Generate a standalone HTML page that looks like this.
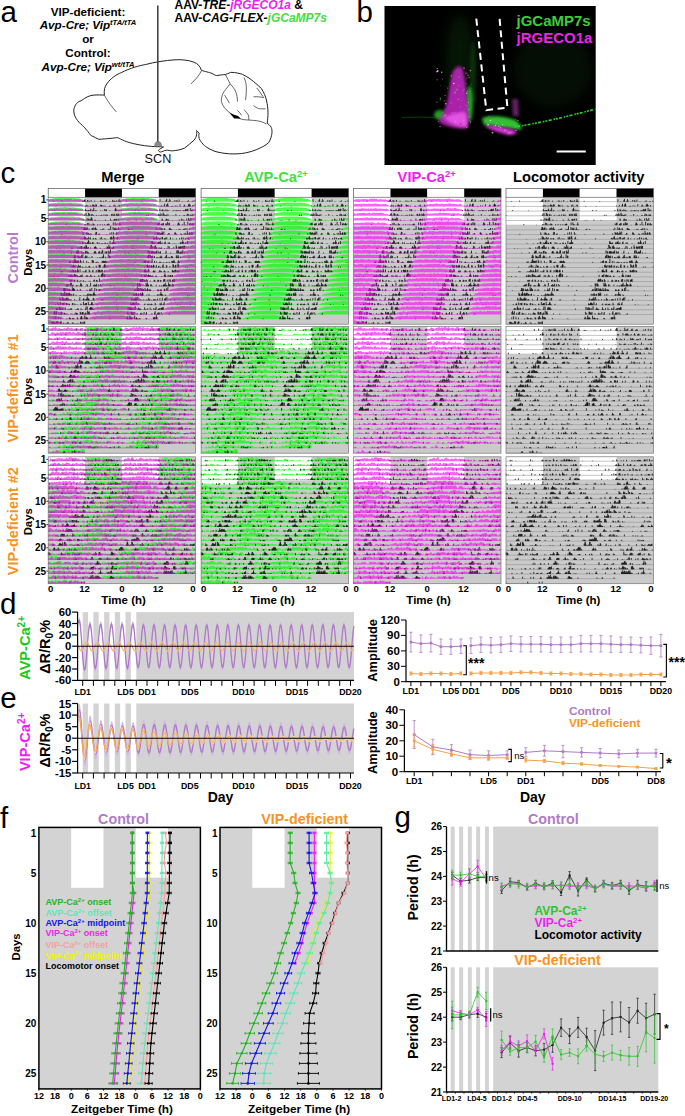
<!DOCTYPE html>
<html><head><meta charset="utf-8"><style>
html,body{margin:0;padding:0;background:#fff;}
svg{display:block;}
text{font-family:"Liberation Sans", sans-serif;}
</style></head><body>
<svg width="685" height="1116" viewBox="0 0 685 1116">
<text x="0.5" y="22" font-size="29.5" font-weight="normal" fill="#000" text-anchor="start" >a</text>
<text x="356.5" y="21.5" font-size="29.5" font-weight="normal" fill="#000" text-anchor="start" >b</text>
<text x="88" y="15.6" font-size="11.7" font-weight="bold" fill="#000" text-anchor="middle" >VIP-deficient:</text>
<text x="88" y="29.4" font-size="11.7" font-weight="bold" font-style="italic" text-anchor="middle">Avp-Cre; Vip<tspan font-size="7.6" dy="-4.2">tTA/tTA</tspan></text>
<text x="88" y="43.3" font-size="11.7" font-weight="bold" fill="#000" text-anchor="middle" >or</text>
<text x="88" y="57.3" font-size="11.7" font-weight="bold" fill="#000" text-anchor="middle" >Control:</text>
<text x="88" y="71" font-size="11.7" font-weight="bold" font-style="italic" text-anchor="middle">Avp-Cre; Vip<tspan font-size="7.6" dy="-4.2">wt/tTA</tspan></text>
<text x="174.5" y="9" font-size="12" font-weight="bold">AAV-<tspan font-style="italic">TRE-</tspan><tspan font-style="italic" fill="#f01ef0">jRGECO1a</tspan> &amp;</text>
<text x="174.5" y="22.4" font-size="12" font-weight="bold">AAV-<tspan font-style="italic">CAG-FLEX-</tspan><tspan font-style="italic" fill="#44dd44">jGCaMP7s</tspan></text>
<path d="M157.3,146.7 C150,146.5 140,145.5 129.2,142.5 C122,140.5 118,137 116.4,137.7 C112,138.3 106.8,138.8 98.7,139.3 C94,137 90.7,135.3 90.7,135.3 C87,130 84,127 82.7,125.7 C77,121 73.5,116 73.8,109.6 C75,104 78,101.5 81.1,100.8 C86,97 90,95.3 93.9,95.1 C98,94.8 102,95 104.3,95.1 C104,90 104.5,87 106.8,83.9 C112,76 121,72.7 121.2,72.7 C130,68 140,65.5 145.3,64.6 C155,62 165,60.5 175,59.8 C182,59.5 188,60 194.1,62.2 C198,64 200.5,66.5 201.3,70.3 C205,71.5 210,72.7 210.1,72.7 C213,73.5 215,75.6 216.6,75.6 C220,75 223,74.6 225.4,74.6 C228,73.5 231,72.3 231,72.3 C236,72.5 240,73.5 242.3,74.3 C248,77 251,79.5 253.5,81.5 C257,84.5 259.5,86.5 261.5,88.7 C264,93 265.5,96 266.4,100 C267.5,105 268,109 268,112.8 C268,117 267.5,120 267.2,123.3 C270,125 271.2,127.3 271.2,127.3 C272.5,130 272.5,136 268.8,142.5 C265,146 262,147 259.9,148.1 C255,150.5 250,152 245.5,152.9 C240,154 234,154 229.4,153.8 C223,153.3 219,152.5 215,151.4 C209,149 206,147 203.7,144.9 C200.5,141.5 199,139 198.9,136.9 C198.5,134.5 199.5,133 198.9,132.9 C197.5,131.5 196.5,130.5 196.5,130.5 C197,133 197,136.5 194.1,140.1 C191,143 188,145.5 184.5,148.1 C180,150 176,150.6 172.6,150.8 C170,151 168,150 166.3,150.2 C164,150.5 162,152 160.7,152 C159.5,152 158.3,151 158.5,150.2 C159.5,149 162,148 163.5,147 C161,146.7 159,146.7 157.3,146.7 Z" fill="none" stroke="#222" stroke-width="1"/>
<path d="M104.3,95.1 C108,102 112,107 116.4,112" fill="none" stroke="#333" stroke-width="0.75"/>
<path d="M201.3,71 C199,76 195,80 190.9,83.9" fill="none" stroke="#333" stroke-width="0.75"/>
<path d="M225.4,74.6 C227,78 229,81 230.2,83.9 C227,88 224,91 223,93.5 C221.5,97 221,99.5 221.4,101.6 C222.5,105 224,107.5 226.2,109.6 C228,111.5 230,113 231.8,114.4 C234,116 236.5,117.5 239,118.4 C242,119.5 245.5,120 248.7,120 C252,120.3 255,120.5 257.5,120.8 C261,121.5 264,122.5 266.4,124" fill="none" stroke="#333" stroke-width="0.75"/>
<path d="M230.2,83.9 C233,87 235,89.5 235.8,91.9 C237,95 237.4,98 237.4,101.6" fill="none" stroke="#333" stroke-width="0.75"/>
<path d="M243.9,77.5 C245.5,80.5 246.3,84 246.3,87.1 C246.5,92 246,96 245.5,100" fill="none" stroke="#333" stroke-width="0.75"/>
<path d="M256.7,87.9 C259,90.5 261,93.5 263.1,96.8" fill="none" stroke="#333" stroke-width="0.75"/>
<path d="M253.5,96.8 C257,96.5 261,97 264,97.6" fill="none" stroke="#333" stroke-width="0.75"/>
<path d="M253.5,105.6 C256,107.5 258,108.5 259.9,108.8 C262,109 264,108.8 265.5,108.8" fill="none" stroke="#333" stroke-width="0.75"/>
<path d="M243.9,109.6 C246,111.5 247.5,113.5 248.7,116 C249,117.5 248.8,119 248.7,120" fill="none" stroke="#333" stroke-width="0.75"/>
<path d="M224.6,95.1 C226.5,98 228,100.5 229.4,103.2" fill="none" stroke="#333" stroke-width="0.75"/>
<path d="M237.4,110.4 C239,112 240.5,113.5 241.5,115.2" fill="none" stroke="#333" stroke-width="0.75"/>
<path d="M229.4,112.8 L233.5,114.5 L238,116 L240.7,118.6 L234.2,118.6 Z" fill="#000"/>
<line x1="157.8" y1="5.5" x2="157.8" y2="143" stroke="#444" stroke-width="1.6"/>
<path d="M154.6,145.8 C154.6,143 156,141.5 158,141.5 C160,141.5 161.6,143 161.6,145.8 Z" fill="#8a8a8a" stroke="#666" stroke-width="0.5"/>
<text x="158" y="163.4" font-size="12.7" font-weight="normal" fill="#111" text-anchor="middle" >SCN</text>
<defs><filter id="bl1" x="-50%" y="-50%" width="200%" height="200%"><feGaussianBlur stdDeviation="7"/></filter><filter id="bl2" x="-50%" y="-50%" width="200%" height="200%"><feGaussianBlur stdDeviation="1.6"/></filter><filter id="bl3" x="-50%" y="-50%" width="200%" height="200%"><feGaussianBlur stdDeviation="0.7"/></filter><clipPath id="cpb"><rect x="384.5" y="6" width="211.2" height="159"/></clipPath></defs>
<rect x="384.5" y="6" width="211.2" height="159" fill="#000"/>
<g clip-path="url(#cpb)">
<ellipse cx="460" cy="62" rx="14" ry="48" fill="#0c360c" opacity="0.45" filter="url(#bl1)"/>
<ellipse cx="553" cy="70" rx="40" ry="38" fill="#0a2a0a" opacity="0.35" filter="url(#bl1)"/>
<ellipse cx="473" cy="72" rx="3" ry="32" fill="#1d6a1d" opacity="0.35" filter="url(#bl2)"/>
<ellipse cx="469.5" cy="104" rx="3.5" ry="18" fill="#2ab82a" opacity="0.85" filter="url(#bl2)"/>
<ellipse cx="440" cy="115" rx="6" ry="5" fill="#2ab82a" opacity="0.85" filter="url(#bl2)"/>
<path d="M460,66 C456,67 453,70 452,74 C450,82 449,92 447,103 C445,110 441,116 439,122 C445,126 452,128 460,128.5 C464,128.5 467,128 468,127 C469,118 468,108 467,100 C466,88 465,78 463,70 Z" fill="#c828c8" opacity="0.85" filter="url(#bl2)"/>
<path d="M444,118 C450,124 458,127 467,127 C468,122 467,116 465,112 C458,112 450,114 444,118 Z" fill="#f060f0" opacity="0.8" filter="url(#bl2)"/>
<path d="M482,118 C490,115 505,116 515,120 C520,123 522,127 521,130 C510,128 495,126 484,125 Z" fill="#30c030" filter="url(#bl2)"/>
<path d="M486,125 C495,126 508,128 516,131 C517,134 514,135.5 508,135 C500,133 492,130 486,127 Z" fill="#dd33dd" filter="url(#bl2)"/>
<path d="M512,99 L518,99 L519,116 L513,116 Z" fill="#7a2a7a" opacity="0.8" filter="url(#bl2)"/>
<circle cx="444.6" cy="100.7" r="0.9" fill="#a020a0" opacity="0.7"/>
<circle cx="453.1" cy="102.9" r="0.4" fill="#ff40ff" opacity="0.7"/>
<circle cx="466.1" cy="83.6" r="0.5" fill="#44dd44" opacity="0.7"/>
<circle cx="461.8" cy="100.5" r="0.6" fill="#ff40ff" opacity="0.7"/>
<circle cx="459.0" cy="77.0" r="0.8" fill="#44dd44" opacity="0.7"/>
<circle cx="454.8" cy="112.5" r="0.5" fill="#ff80ff" opacity="0.7"/>
<circle cx="470.5" cy="70.6" r="0.8" fill="#ff80ff" opacity="0.7"/>
<circle cx="445.7" cy="103.7" r="0.8" fill="#ffffff" opacity="0.7"/>
<circle cx="469.2" cy="91.7" r="0.6" fill="#ff40ff" opacity="0.7"/>
<circle cx="469.7" cy="120.7" r="0.4" fill="#ff80ff" opacity="0.7"/>
<circle cx="453.8" cy="83.5" r="0.8" fill="#ffffff" opacity="0.7"/>
<circle cx="466.8" cy="93.3" r="0.7" fill="#ffffff" opacity="0.7"/>
<circle cx="455.2" cy="92.5" r="0.9" fill="#44dd44" opacity="0.7"/>
<circle cx="460.6" cy="123.7" r="0.9" fill="#a020a0" opacity="0.7"/>
<circle cx="460.2" cy="77.8" r="0.9" fill="#a020a0" opacity="0.7"/>
<circle cx="468.6" cy="102.1" r="0.7" fill="#44dd44" opacity="0.7"/>
<circle cx="471.6" cy="84.0" r="0.4" fill="#ff80ff" opacity="0.7"/>
<circle cx="466.7" cy="127.4" r="0.6" fill="#ff80ff" opacity="0.7"/>
<circle cx="438.4" cy="121.8" r="0.5" fill="#ff80ff" opacity="0.7"/>
<circle cx="463.7" cy="120.4" r="0.7" fill="#ff80ff" opacity="0.7"/>
<circle cx="463.4" cy="90.7" r="0.6" fill="#ff40ff" opacity="0.7"/>
<circle cx="467.7" cy="126.8" r="0.5" fill="#ff40ff" opacity="0.7"/>
<circle cx="437.3" cy="68.4" r="0.7" fill="#ff80ff" opacity="0.7"/>
<circle cx="437.1" cy="79.8" r="0.5" fill="#ffffff" opacity="0.7"/>
<circle cx="445.5" cy="109.4" r="0.6" fill="#a020a0" opacity="0.7"/>
<circle cx="470.5" cy="121.8" r="0.6" fill="#ffffff" opacity="0.7"/>
<circle cx="467.3" cy="91.2" r="0.7" fill="#ff40ff" opacity="0.7"/>
<circle cx="439.7" cy="126.4" r="0.5" fill="#ff40ff" opacity="0.7"/>
<circle cx="458.8" cy="110.9" r="0.6" fill="#a020a0" opacity="0.7"/>
<circle cx="445.3" cy="86.2" r="0.4" fill="#a020a0" opacity="0.7"/>
<circle cx="450.9" cy="102.8" r="0.6" fill="#ff80ff" opacity="0.7"/>
<circle cx="457.2" cy="76.0" r="0.6" fill="#a020a0" opacity="0.7"/>
<circle cx="460.5" cy="89.2" r="0.8" fill="#a020a0" opacity="0.7"/>
<circle cx="436.8" cy="71.6" r="0.9" fill="#ff80ff" opacity="0.7"/>
<circle cx="445.0" cy="95.4" r="0.7" fill="#ff40ff" opacity="0.7"/>
<circle cx="442.4" cy="79.1" r="0.8" fill="#a020a0" opacity="0.7"/>
<circle cx="445.5" cy="115.2" r="0.8" fill="#ff80ff" opacity="0.7"/>
<circle cx="437.0" cy="102.2" r="0.6" fill="#44dd44" opacity="0.7"/>
<circle cx="444.0" cy="116.2" r="0.6" fill="#44dd44" opacity="0.7"/>
<circle cx="460.4" cy="107.0" r="0.5" fill="#ff80ff" opacity="0.7"/>
<circle cx="447.6" cy="88.0" r="0.6" fill="#44dd44" opacity="0.7"/>
<circle cx="466.8" cy="78.2" r="0.8" fill="#a020a0" opacity="0.7"/>
<circle cx="443.8" cy="102.1" r="0.5" fill="#a020a0" opacity="0.7"/>
<circle cx="440.4" cy="99.8" r="0.6" fill="#44dd44" opacity="0.7"/>
<circle cx="466.1" cy="102.5" r="0.6" fill="#a020a0" opacity="0.7"/>
<circle cx="465.8" cy="73.1" r="0.6" fill="#ff40ff" opacity="0.7"/>
<circle cx="440.7" cy="85.5" r="0.6" fill="#a020a0" opacity="0.7"/>
<circle cx="458.8" cy="85.4" r="0.6" fill="#ff40ff" opacity="0.7"/>
<circle cx="469.1" cy="77.4" r="0.6" fill="#ff80ff" opacity="0.7"/>
<circle cx="466.0" cy="105.4" r="0.6" fill="#ff40ff" opacity="0.7"/>
<circle cx="470.2" cy="123.6" r="0.4" fill="#44dd44" opacity="0.7"/>
<circle cx="452.4" cy="113.2" r="0.9" fill="#ff40ff" opacity="0.7"/>
<circle cx="455.6" cy="121.4" r="0.8" fill="#ff80ff" opacity="0.7"/>
<circle cx="471.0" cy="75.2" r="0.4" fill="#44dd44" opacity="0.7"/>
<circle cx="468.5" cy="109.6" r="0.8" fill="#44dd44" opacity="0.7"/>
<circle cx="468.4" cy="102.6" r="0.6" fill="#ff80ff" opacity="0.7"/>
<circle cx="440.3" cy="98.2" r="0.7" fill="#44dd44" opacity="0.7"/>
<circle cx="454.9" cy="92.8" r="0.5" fill="#ff40ff" opacity="0.7"/>
<circle cx="440.5" cy="126.3" r="0.6" fill="#ff40ff" opacity="0.7"/>
<circle cx="464.2" cy="89.1" r="0.5" fill="#44dd44" opacity="0.7"/>
<circle cx="468.0" cy="75.2" r="0.8" fill="#44dd44" opacity="0.7"/>
<circle cx="469.2" cy="116.4" r="0.6" fill="#ff80ff" opacity="0.7"/>
<circle cx="456.6" cy="92.0" r="0.5" fill="#a020a0" opacity="0.7"/>
<circle cx="458.3" cy="99.2" r="0.6" fill="#ff80ff" opacity="0.7"/>
<circle cx="464.0" cy="68.1" r="0.8" fill="#ff80ff" opacity="0.7"/>
<circle cx="437.7" cy="71.0" r="0.9" fill="#ffffff" opacity="0.7"/>
<circle cx="466.8" cy="73.2" r="0.6" fill="#ff40ff" opacity="0.7"/>
<circle cx="441.7" cy="72.3" r="0.7" fill="#ffffff" opacity="0.7"/>
<circle cx="457.1" cy="89.7" r="0.9" fill="#44dd44" opacity="0.7"/>
<circle cx="451.4" cy="75.7" r="0.8" fill="#ff80ff" opacity="0.7"/>
<circle cx="497.7" cy="117.4" r="0.4" fill="#66ee66" opacity="0.6"/>
<circle cx="500.6" cy="127.7" r="0.6" fill="#ffffff" opacity="0.6"/>
<circle cx="512.8" cy="127.2" r="0.4" fill="#ff66ff" opacity="0.6"/>
<circle cx="506.6" cy="129.7" r="0.6" fill="#ff66ff" opacity="0.6"/>
<circle cx="509.0" cy="124.3" r="0.5" fill="#66ee66" opacity="0.6"/>
<circle cx="493.7" cy="126.6" r="0.5" fill="#ff66ff" opacity="0.6"/>
<circle cx="488.7" cy="116.5" r="0.6" fill="#ff66ff" opacity="0.6"/>
<circle cx="516.3" cy="130.2" r="0.5" fill="#ff66ff" opacity="0.6"/>
<circle cx="508.9" cy="132.9" r="0.7" fill="#ffffff" opacity="0.6"/>
<circle cx="515.9" cy="130.3" r="0.5" fill="#ffffff" opacity="0.6"/>
<circle cx="495.5" cy="125.6" r="0.8" fill="#ffffff" opacity="0.6"/>
<circle cx="501.0" cy="120.2" r="0.4" fill="#ff66ff" opacity="0.6"/>
<circle cx="487.3" cy="117.8" r="0.5" fill="#ff66ff" opacity="0.6"/>
<circle cx="484.8" cy="131.1" r="0.4" fill="#66ee66" opacity="0.6"/>
<circle cx="488.1" cy="124.7" r="0.9" fill="#ffffff" opacity="0.6"/>
<circle cx="504.8" cy="130.4" r="0.9" fill="#66ee66" opacity="0.6"/>
<circle cx="504.3" cy="125.5" r="0.5" fill="#66ee66" opacity="0.6"/>
<circle cx="511.0" cy="132.8" r="0.7" fill="#66ee66" opacity="0.6"/>
<circle cx="515.3" cy="119.2" r="0.5" fill="#66ee66" opacity="0.6"/>
<circle cx="490.5" cy="120.5" r="0.8" fill="#ffffff" opacity="0.6"/>
<circle cx="517.9" cy="120.6" r="0.6" fill="#ffffff" opacity="0.6"/>
<circle cx="496.6" cy="123.5" r="0.6" fill="#66ee66" opacity="0.6"/>
<circle cx="492.5" cy="132.7" r="0.9" fill="#ffffff" opacity="0.6"/>
<circle cx="498.9" cy="126.2" r="0.7" fill="#ffffff" opacity="0.6"/>
<circle cx="502.6" cy="124.7" r="0.6" fill="#ffffff" opacity="0.6"/>
<path d="M514,127 C540,123 565,117 596,109" stroke="#2bd52b" stroke-width="1.6" fill="none" stroke-dasharray="2,1.2,3,2,1.5,1" filter="url(#bl3)"/>
<path d="M402,117.4 C415,117 425,117 436,117.6" stroke="#0f520f" stroke-width="0.8" fill="none" filter="url(#bl3)"/>
</g>
<path d="M476.3,18.6 L486.3,110.2 L507.4,107.6 L499.5,17.7" fill="none" stroke="#fff" stroke-width="2" stroke-dasharray="7,4.5"/>
<text x="516.5" y="25.7" font-size="15" font-weight="bold" fill="#3ccc3c" text-anchor="start" >jGCaMP7s</text>
<text x="516.5" y="43.4" font-size="15" font-weight="bold" fill="#e827e8" text-anchor="start" >jRGECO1a</text>
<line x1="556.6" y1="151.5" x2="585.8" y2="151.5" stroke="#fff" stroke-width="2"/>
<text x="0.5" y="182.5" font-size="29.5" font-weight="normal" fill="#000" text-anchor="start" >c</text>
<text x="122.9" y="182" font-size="14.7" font-weight="bold" fill="#000" text-anchor="middle">Merge</text>
<text x="276" y="182" font-size="14.7" font-weight="bold" fill="#3ee23e" text-anchor="middle">AVP-Ca<tspan font-size="9.5" dy="-5">2+</tspan></text>
<text x="426.7" y="182" font-size="14.7" font-weight="bold" fill="#f01ef0" text-anchor="middle">VIP-Ca<tspan font-size="9.5" dy="-5">2+</tspan></text>
<text x="578.7" y="182" font-size="14.7" font-weight="bold" fill="#000" text-anchor="middle">Locomotor activity</text>
<rect x="48.2" y="188.6" width="36.9" height="8.7" fill="#fff"/>
<rect x="85.1" y="188.6" width="36.9" height="8.7" fill="#000"/>
<rect x="121.9" y="188.6" width="36.9" height="8.7" fill="#fff"/>
<rect x="158.8" y="188.6" width="36.9" height="8.7" fill="#000"/>
<rect x="48.2" y="188.6" width="147.4" height="8.7" fill="none" stroke="#555" stroke-width="0.7"/>
<rect x="201.1" y="188.6" width="36.9" height="8.7" fill="#fff"/>
<rect x="237.9" y="188.6" width="36.9" height="8.7" fill="#000"/>
<rect x="274.8" y="188.6" width="36.9" height="8.7" fill="#fff"/>
<rect x="311.6" y="188.6" width="36.9" height="8.7" fill="#000"/>
<rect x="201.1" y="188.6" width="147.4" height="8.7" fill="none" stroke="#555" stroke-width="0.7"/>
<rect x="353.6" y="188.6" width="36.9" height="8.7" fill="#fff"/>
<rect x="390.5" y="188.6" width="36.9" height="8.7" fill="#000"/>
<rect x="427.3" y="188.6" width="36.9" height="8.7" fill="#fff"/>
<rect x="464.2" y="188.6" width="36.9" height="8.7" fill="#000"/>
<rect x="353.6" y="188.6" width="147.4" height="8.7" fill="none" stroke="#555" stroke-width="0.7"/>
<rect x="506" y="188.6" width="36.9" height="8.7" fill="#fff"/>
<rect x="542.9" y="188.6" width="36.9" height="8.7" fill="#000"/>
<rect x="579.7" y="188.6" width="36.9" height="8.7" fill="#fff"/>
<rect x="616.5" y="188.6" width="36.9" height="8.7" fill="#000"/>
<rect x="506" y="188.6" width="147.4" height="8.7" fill="none" stroke="#555" stroke-width="0.7"/>
<defs>
<path id="a0" transform="scale(1.22833,1)" d="M0 4.4v-2.4l1-.4 1-.1 1-.4 1 0 1-.3 1-.1 1 0 1-.2 1 .2 1-.2 1 0 1-.1 1 0 1 .1 1 .1 1 0 1-.1 1-.1 1 .2 1 .1 1 0 1 .2 1 .2 1 0 1 .1 1 .3 1 .2 1 .4 1 .8 1 1.2 1 0 1 0 1 0 1 0 1 0 1 0 1 0 1 0 1 0 1 0 1 0 1 0 1 0 1 0 1 0 1 0 1 0 1 0 1 0 1 0 1 0 1 0 1 0 1 0 1 0 1 0 1 0 1 0 1-1.5 1-.8 1-.2 1-.2 1-.2 1-.2 1 0 1-.1 1-.2 1 0 1-.2 1 0 1-.1 1 .2 1-.2 1 0 1 .1 1 0 1-.1 1 .2 1 0 1 .2 1-.1 1-.1 1 .5 1 .1 1 .2 1 .2 1 .1 1 .5 1 .7 1 1.2 1 0 1 0 1 0 1 0 1 0 1 0 1 0 1 0 1 0 1 0 1 0 1 0 1 0 1 0 1 0 1 0 1 0 1 0 1 0 1 0 1 0 1 0 1 0 1 0 1 0 1 0 1 0 1 0 1-1.6 1-.6V4.4zM0 9.1v-2.6l1-.2 1-.2 1-.2 1-.3 1 .1 1-.1 1-.2 1-.1 1-.1 1 0 1-.1 1 .2 1-.2 1 0 1 .1 1 0 1-.1 1 .2 1 0 1 .2 1-.1 1-.1 1 .5 1 .1 1 .2 1 .2 1 .1 1 .5 1 .7 1 1.2 1 0 1 0 1 0 1 0 1 0 1 0 1 0 1 0 1 0 1 0 1 0 1 0 1 0 1 0 1 0 1 0 1 0 1 0 1 0 1 0 1 0 1 0 1 0 1 0 1 0 1 0 1 0 1 0 1-1.6 1-.6 1-.2 1-.3 1-.1 1-.2 1-.2 1-.1 1-.1 1-.1 1 0 1 0 1 0 1 0 1-.1 1-.1 1 .1 1 0 1 0 1 .2 1 0 1-.1 1 .1 1 .1 1 .4 1-.1 1 .2 1 .2 1 .4 1 .5 1 .7 1 1 1 0 1 0 1 0 1 0 1 0 1 0 1 0 1 0 1 0 1 0 1 0 1 0 1 0 1 0 1 0 1 0 1 0 1 0 1 0 1 0 1 0 1 0 1 0 1 0 1 0 1 0 1 0 1 0 1-1.6 1-.4V9.1zM0 13.8v-2.5l1-.2 1-.3 1-.1 1-.3 1-.1 1-.1 1-.1 1 0 1 0 1-.1 1 0 1 0 1-.2 1 0 1 .1 1 0 1 0 1 .2 1-.1 1 0 1 .1 1 .1 1 .4 1-.1 1 .2 1 .2 1 .4 1 .5 1 .6 1 1.1 1 0 1 0 1 0 1 0 1 0 1 0 1 0 1 0 1 0 1 0 1 0 1 0 1 0 1 0 1 0 1 0 1 0 1 0 1 0 1 0 1 0 1 0 1 0 1 0 1 0 1 0 1 0 1 0 1-1.6 1-.4 1-.5 1-.2 1-.2 1-.3 1 .1 1-.2 1-.2 1 0 1 0 1-.1 1 .1 1-.1 1-.1 1 0 1 .1 1 .1 1-.1 1 .1 1-.1 1 .2 1 .1 1 .1 1 .1 1 .2 1 0 1 .1 1 .4 1 .4 1 .7 1 1.3 1 0 1 0 1 0 1 0 1 0 1 0 1 0 1 0 1 0 1 0 1 0 1 0 1 0 1 0 1 0 1 0 1 0 1 0 1 0 1 0 1 0 1 0 1 0 1 0 1 0 1 0 1 0 1 0 1-1.6 1-.6V13.8zM0 18.4v-2.3l1-.5 1-.2 1-.3 1-.2 1 .1 1-.2 1-.2 1 0 1 0 1-.1 1 .1 1-.1 1-.1 1 0 1 .1 1 .1 1-.1 1 .1 1-.1 1 .2 1 .1 1 .1 1 .1 1 .2 1 0 1 .1 1 .4 1 .4 1 .7 1 1.3 1 0 1 0 1 0 1 0 1 0 1 0 1 0 1 0 1 0 1 0 1 0 1 0 1 0 1 0 1 0 1 0 1 0 1 0 1 0 1 0 1 0 1 0 1 0 1 0 1 0 1 0 1 0 1 0 1-1.6 1-.6 1-.2 1-.2 1-.2 1-.1 1-.2 1-.1 1-.2 1-.2 1 .2 1-.3 1 .2 1 0 1 0 1-.2 1 .1 1 0 1 .1 1-.1 1 0 1 .2 1 0 1 .2 1 0 1 .2 1 .3 1 .1 1 .2 1 .4 1 .7 1 1.3 1 0 1 0 1 0 1 0 1 0 1 0 1 0 1 0 1 0 1 0 1 0 1 0 1 0 1 0 1 0 1 0 1 0 1 0 1 0 1 0 1 0 1 0 1 0 1 0 1 0 1 0 1 0 1 0 1-1.6 1-.4V18.4zM0 23.1v-2.5l1-.2 1-.2 1-.3 1 0 1-.2 1-.1 1-.2 1-.1 1 .1 1-.3 1 .2 1 0 1-.2 1 0 1 .1 1 0 1 .1 1-.1 1 0 1 .2 1 0 1 .2 1 0 1 .2 1 .3 1 .1 1 .2 1 .4 1 .7 1 1.3 1 0 1 0 1 0 1 0 1 0 1 0 1 0 1 0 1 0 1 0 1 0 1 0 1 0 1 0 1 0 1 0 1 0 1 0 1 0 1 0 1 0 1 0 1 0 1 0 1 0 1 0 1 0 1 0 1-1.6 1-.5 1-.2 1-.3 1-.2 1-.3 1-.1 1-.1 1-.1 1-.1 1 0 1-.1 1 .1 1-.2 1 0 1 .1 1-.1 1 .1 1 .1 1-.1 1 .1 1 .3 1-.2 1 .3 1 .1 1-.1 1 .3 1 .3 1 .3 1 .4 1 .5 1 1.3 1 0 1 0 1 0 1 0 1 0 1 0 1 0 1 0 1 0 1 0 1 0 1 0 1 0 1 0 1 0 1 0 1 0 1 0 1 0 1 0 1 0 1 0 1 0 1 0 1 0 1-1 1-.5 1-.3 1-.4 1-.1V23.1zM0 27.9v-2.4l1-.2 1-.3 1-.2 1-.3 1-.1 1-.1 1-.1 1 0 1-.1 1-.1 1 .1 1-.2 1 0 1 .1 1-.1 1 .1 1 .1 1-.1 1 .1 1 .3 1-.2 1 .3 1 .1 1-.1 1 .3 1 .3 1 .3 1 .4 1 .5 1 1.3 1 0 1 0 1 0 1 0 1 0 1 0 1 0 1 0 1 0 1 0 1 0 1 0 1 0 1 0 1 0 1 0 1 0 1 0 1 0 1 0 1 0 1 0 1 0 1 0 1 0 1-1 1-.5 1-.3 1-.4 1 0 1-.4 1-.1 1-.1 1-.2 1-.2 1-.1 1-.1 1 .1 1-.2 1 0 1 0 1-.1 1 .1 1 0 1-.2 1 0 1 0 1 0 1 .2 1 .1 1 .1 1 0 1 .1 1 0 1 .3 1 0 1 .2 1 .2 1 .3 1 .2 1 .6 1 .5 1 .8 1 .1 1 0 1 0 1 0 1 0 1 0 1 0 1 0 1 0 1 0 1 0 1 0 1 0 1 0 1 0 1 0 1 0 1 0 1 0 1 0 1 0 1 0 1-.6 1-.6 1-.4 1-.5 1-.3V27.9zM0 32.5v-2.5l1-.4 1-.1 1-.1 1-.2 1-.2 1-.1 1-.1 1 .1 1-.2 1 0 1 0 1-.1 1 .1 1 0 1-.2 1 0 1 0 1 0 1 .2 1 .1 1 .1 1 0 1 .1 1 0 1 .3 1 0 1 .2 1 .2 1 .3 1 .2 1 .6 1 .5 1 .8 1 .1 1 0 1 0 1 0 1 0 1 0 1 0 1 0 1 0 1 0 1 0 1 0 1 0 1 0 1 0 1 0 1 0 1 0 1 0 1 0 1 0 1 0 1-.6 1-.6 1-.4 1-.5 1-.2 1-.2 1-.1 1-.3 1-.2 1 0 1-.2 1-.1 1 0 1 0 1-.3 1 .2 1 0 1-.1 1-.1 1 .1 1-.1 1 .1 1 0 1 .1 1 0 1 .1 1 .1 1 .1 1 .1 1 0 1 .2 1 .2 1 .2 1 .3 1 .3 1 .3 1 .4 1 .6 1 .6 1 0 1 0 1 0 1 0 1 0 1 0 1 0 1 0 1 0 1 0 1 0 1 0 1 0 1 0 1 0 1 0 1 0 1 0 1 0 1 0 1-.5 1-.8 1-.5 1-.1 1-.4 1-.3V32.5zM0 37.2v-2.6l1-.2 1-.1 1-.3 1-.2 1 0 1-.2 1-.1 1 0 1 0 1-.3 1 .2 1 0 1-.1 1-.1 1 .1 1-.1 1 .1 1 0 1 .1 1 0 1 .1 1 .1 1 .1 1 .1 1 0 1 .2 1 .2 1 .2 1 .3 1 .3 1 .3 1 .4 1 .6 1 .6 1 0 1 0 1 0 1 0 1 0 1 0 1 0 1 0 1 0 1 0 1 0 1 0 1 0 1 0 1 0 1 0 1 0 1 0 1 0 1 0 1-.5 1-.8 1-.5 1-.1 1-.4 1-.3 1-.2 1 0 1-.2 1-.2 1-.1 1 .1 1-.1 1-.1 1-.2 1-.1 1 0 1 .1 1 0 1 0 1 0 1 0 1 0 1 .1 1 .1 1 .2 1 0 1 0 1 .2 1 .1 1 .2 1 .1 1 .1 1 .4 1 .3 1 .2 1 .4 1 .6 1 .6 1 0 1 0 1 0 1 0 1 0 1 0 1 0 1 0 1 0 1 0 1 0 1 0 1 0 1 0 1 0 1 0 1 0 1 0 1 0 1 0 1-.6 1-.8 1-.3 1-.3 1-.2 1-.3 1-.2V37.2zM0 42v-2.9l1-.2 1 0 1-.2 1-.2 1-.1 1 .1 1-.1 1-.1 1-.2 1-.1 1 0 1 .1 1 0 1 0 1 0 1 0 1 0 1 .1 1 .1 1 .2 1 0 1 0 1 .2 1 .1 1 .2 1 .1 1 .1 1 .4 1 .3 1 .2 1 .4 1 .6 1 .6 1 0 1 0 1 0 1 0 1 0 1 0 1 0 1 0 1 0 1 0 1 0 1 0 1 0 1 0 1 0 1 0 1 0 1 0 1 0 1 0 1-.6 1-.8 1-.3 1-.3 1-.2 1-.3 1-.3 1-.2 1 0 1-.1 1-.2 1 0 1 0 1-.2 1-.1 1 0 1 0 1 .1 1-.2 1 0 1 0 1 .1 1-.1 1 0 1 .2 1 .1 1 .1 1-.1 1 .2 1 .2 1 .1 1 .1 1 .4 1 .3 1 .1 1 .5 1 .4 1 .6 1 .5 1 0 1 0 1 0 1 0 1 0 1 0 1 0 1 0 1 0 1 0 1 0 1 0 1 0 1 0 1 0 1 0 1 0 1 0 1 0 1 0 1-.8 1-.4 1-.6 1-.4 1-.2 1-.2 1-.1 1-.2V42zM0 46.6v-3.1l1-.2 1 0 1-.1 1-.2 1 0 1 0 1-.2 1-.1 1 0 1 0 1 .1 1-.2 1 0 1 0 1 .1 1-.1 1 0 1 .2 1 .1 1 .1 1-.1 1 .2 1 .2 1 .1 1 .1 1 .4 1 .3 1 .1 1 .5 1 .4 1 .6 1 .5 1 0 1 0 1 0 1 0 1 0 1 0 1 0 1 0 1 0 1 0 1 0 1 0 1 0 1 0 1 0 1 0 1 0 1 0 1 0 1 0 1-.8 1-.4 1-.6 1-.4 1-.2 1-.2 1-.1 1-.2 1-.1 1-.1 1-.1 1-.1 1-.1 1-.2 1 .1 1-.1 1-.1 1 0 1 .1 1-.1 1 .1 1 .1 1-.2 1 .1 1 .1 1 .1 1 0 1 .1 1 .3 1 .1 1 0 1 .2 1 .1 1 .3 1 .3 1 .3 1 .4 1 .8 1 .5 1 0 1 0 1 0 1 0 1 0 1 0 1 0 1 0 1 0 1 0 1 0 1 0 1 0 1 0 1 0 1 0 1 0 1 0 1 0 1 0 1-.9 1-.6 1-.3 1-.3 1-.2 1-.3 1-.2 1 0 1-.2V46.6zM0 51.4v-3.2l1-.1 1-.1 1-.1 1-.1 1-.1 1-.2 1 .1 1-.1 1-.1 1 0 1 .1 1-.1 1 .1 1 .1 1-.2 1 .1 1 .1 1 .1 1 0 1 .1 1 .3 1 .1 1 0 1 .2 1 .1 1 .3 1 .3 1 .3 1 .4 1 .8 1 .5 1 0 1 0 1 0 1 0 1 0 1 0 1 0 1 0 1 0 1 0 1 0 1 0 1 0 1 0 1 0 1 0 1 0 1 0 1 0 1 0 1-.9 1-.6 1-.3 1-.3 1-.2 1-.3 1-.2 1 0 1-.2 1 0 1-.3 1 0 1-.1 1 0 1-.1 1-.1 1-.1 1 .1 1-.1 1 0 1 .1 1-.1 1 .1 1 .2 1 0 1 0 1 0 1 .2 1 .2 1 .1 1 0 1 .3 1 .1 1 .3 1 .4 1 .2 1 .4 1 1.1 1 .1 1 0 1 0 1 0 1 0 1 0 1 0 1 0 1 0 1 0 1 0 1 0 1 0 1 0 1 0 1 0 1 0 1 0 1 0 1 0 1 0 1-.9 1-.5 1-.4 1-.3 1-.3 1-.2 1-.3 1-.1 1-.1 1-.2V51.4zM0 56.1v-3.3l1 0 1-.3 1 0 1-.1 1 0 1-.1 1-.1 1-.1 1 .1 1-.1 1 0 1 .1 1-.1 1 .1 1 .2 1 0 1 0 1 0 1 .2 1 .2 1 .1 1 0 1 .3 1 .1 1 .3 1 .4 1 .2 1 .4 1 1.1 1 .1 1 0 1 0 1 0 1 0 1 0 1 0 1 0 1 0 1 0 1 0 1 0 1 0 1 0 1 0 1 0 1 0 1 0 1 0 1 0 1 0 1-.9 1-.5 1-.4 1-.3 1-.3 1-.2 1-.3 1-.1 1-.1 1-.2 1-.1 1 0 1-.1 1 0 1 0 1-.1 1 0 1 .1 1-.1 1-.1 1 .1 1 0 1 .1 1 .1 1-.1 1 .2 1-.1 1 .2 1 0 1 .3 1 .1 1 .2 1 .2 1 .4 1 .1 1 .4 1 .5 1 1 1 0 1 0 1 0 1 0 1 0 1 0 1 0 1 0 1 0 1 0 1 0 1 0 1 0 1 0 1 0 1 0 1 0 1 0 1 0 1 0 1-.3 1-.6 1-.4 1-.6 1-.3 1-.2 1-.2 1-.3 1-.1 1-.1 1 0 1-.1V56.1zM0 60.8v-3.6l1-.1 1 0 1-.1 1 0 1 0 1-.1 1 0 1 .1 1-.1 1-.1 1 .1 1 0 1 .1 1 .1 1-.1 1 .2 1-.1 1 .2 1 0 1 .3 1 .1 1 .2 1 .2 1 .4 1 .1 1 .4 1 .5 1 1 1 0 1 0 1 0 1 0 1 0 1 0 1 0 1 0 1 0 1 0 1 0 1 0 1 0 1 0 1 0 1 0 1 0 1 0 1 0 1 0 1-.3 1-.6 1-.4 1-.6 1-.3 1-.2 1-.2 1-.3 1-.1 1-.1 1 0 1-.1 1-.1 1-.1 1-.1 1-.1 1 0 1 0 1 0 1 0 1 .1 1-.1 1-.1 1 .1 1 .1 1 .1 1 .1 1 .1 1 0 1 .1 1 .2 1 .3 1 .2 1 0 1 .2 1 .3 1 .5 1 .4 1 1 1 0 1 0 1 0 1 0 1 0 1 0 1 0 1 0 1 0 1 0 1 0 1 0 1 0 1 0 1 0 1 0 1 0 1 0 1 0 1 0 1-.2 1-1 1-.6 1-.2 1-.3 1-.1 1-.2 1-.3 1-.1 1-.1 1-.2 1 0 1-.1V60.8zM0 65.5v-3.5l1-.1 1-.1 1-.1 1-.1 1 0 1 0 1 0 1 0 1 .1 1-.1 1-.1 1 .1 1 .1 1 .1 1 .1 1 .1 1 0 1 .1 1 .2 1 .3 1 .2 1 0 1 .2 1 .3 1 .5 1 .4 1 1 1 0 1 0 1 0 1 0 1 0 1 0 1 0 1 0 1 0 1 0 1 0 1 0 1 0 1 0 1 0 1 0 1 0 1 0 1 0 1 0 1-.2 1-1 1-.6 1-.2 1-.3 1-.1 1-.2 1-.3 1-.1 1-.1 1-.2 1 0 1-.2 1-.1 1 .1 1-.1 1 .1 1 0 1-.1 1-.1 1 0 1 .1 1 0 1 0 1 .1 1-.1 1 .1 1 .2 1 .1 1 .2 1 .1 1 .3 1 .2 1 .1 1 .3 1 .3 1 .3 1 .5 1 .9 1 0 1 0 1 0 1 0 1 0 1 0 1 0 1 0 1 0 1 0 1 0 1 0 1 0 1 0 1 0 1 0 1 0 1 0 1 0 1 0 1-.6 1-.6 1-.4 1-.6 1-.2 1 0 1-.3 1-.2 1-.1 1-.1 1-.1 1 0 1-.4 1 .1V65.5zM0 70.2v-3.8l1-.1 1 .1 1-.1 1 .1 1 0 1-.1 1-.1 1 0 1 .1 1 0 1 0 1 .1 1-.1 1 .1 1 .2 1 .1 1 .2 1 .1 1 .3 1 .2 1 .1 1 .3 1 .3 1 .3 1 .5 1 .9 1 0 1 0 1 0 1 0 1 0 1 0 1 0 1 0 1 0 1 0 1 0 1 0 1 0 1 0 1 0 1 0 1 0 1 0 1 0 1 0 1-.6 1-.6 1-.4 1-.6 1-.2 1 0 1-.3 1-.2 1-.1 1-.1 1-.1 1 0 1-.4 1 0 1 .1 1 .1 1-.1 1-.2 1 0 1 0 1 0 1 .1 1 0 1 .2 1-.1 1 .1 1 .1 1-.2 1 .3 1 .2 1 .1 1 .1 1 .2 1 .2 1 .3 1 .5 1 .4 1 .5 1 .7 1 0 1 0 1 0 1 0 1 0 1 0 1 0 1 0 1 0 1 0 1 0 1 0 1 0 1 0 1 0 1 0 1 0 1 0 1 0 1 0 1-.7 1-.5 1-.5 1-.2 1-.4 1-.3 1-.1 1-.1 1-.2 1-.1 1-.1 1-.1 1-.1 1 0 1 0V70.2zM0 74.9v-3.9l1 .1 1 .1 1-.1 1-.2 1 0 1 0 1 0 1 .1 1 0 1 .2 1-.1 1 .1 1 .1 1-.2 1 .3 1 .2 1 .1 1 .1 1 .2 1 .2 1 .3 1 .5 1 .4 1 .5 1 .7 1 0 1 0 1 0 1 0 1 0 1 0 1 0 1 0 1 0 1 0 1 0 1 0 1 0 1 0 1 0 1 0 1 0 1 0 1 0 1 0 1-.7 1-.5 1-.5 1-.2 1-.4 1-.3 1-.1 1-.1 1-.2 1-.1 1-.1 1-.1 1-.1 1 0 1 .1 1-.2 1-.1 1 0 1 0 1 0 1-.1 1 0 1 .1 1 .1 1-.2 1 0 1 .4 1 .1 1 .1 1-.1 1 .3 1 .4 1 .1 1 .1 1 .4 1 .3 1 .6 1 .6 1 .4 1 0 1 0 1 0 1 0 1 0 1 0 1 0 1 0 1 0 1 0 1 0 1 0 1 0 1 0 1 0 1 0 1 0 1 0 1 0 1 0 1-.8 1-.5 1-.5 1-.3 1-.2 1-.3 1-.1 1-.2 1-.2 1-.1 1 0 1-.2 1 .1 1-.2 1 0 1-.1V74.9zM0 79.6v-3.6l1-.2 1-.1 1 0 1 0 1 0 1-.1 1 0 1 .1 1 .1 1-.2 1 0 1 .4 1 .1 1 .1 1-.1 1 .3 1 .4 1 .1 1 .1 1 .4 1 .3 1 .6 1 .6 1 .4 1 0 1 0 1 0 1 0 1 0 1 0 1 0 1 0 1 0 1 0 1 0 1 0 1 0 1 0 1 0 1 0 1 0 1 0 1 0 1 0 1-.8 1-.5 1-.5 1-.3 1-.2 1-.3 1-.1 1-.2 1-.2 1-.1 1 0 1-.2 1 .1 1-.2 1 0 1 0 1-.2 1 0 1 .1 1-.1 1 0 1 .1 1 0 1 0 1 .2 1 0 1 .1 1 .1 1 .1 1 .1 1 .2 1 .2 1 .2 1 .1 1 .3 1 .4 1 .4 1 .8 1 .4 1 0 1 0 1 0 1 0 1 0 1 0 1 0 1 0 1 0 1 0 1 0 1 0 1 0 1 0 1 0 1 0 1 0 1 0 1 0 1 0 1-.9 1-.5 1-.4 1-.2 1-.3 1-.2 1-.2 1-.2 1-.2 1-.1 1-.2 1-.2 1 .1 1-.1 1 0 1 .2 1-.1V79.6zM0 84.3v-3.8l1-.2 1 0 1 .1 1-.1 1 0 1 .1 1 0 1 0 1 .2 1 0 1 .1 1 .1 1 .1 1 .1 1 .2 1 .2 1 .2 1 .1 1 .3 1 .4 1 .4 1 .8 1 .4 1 0 1 0 1 0 1 0 1 0 1 0 1 0 1 0 1 0 1 0 1 0 1 0 1 0 1 0 1 0 1 0 1 0 1 0 1 0 1 0 1-.9 1-.5 1-.4 1-.2 1-.3 1-.2 1-.2 1-.2 1-.2 1-.1 1-.2 1-.2 1 .1 1-.1 1 0 1 .2 1-.2 1 0 1 .1 1-.2 1 .1 1-.1 1 .2 1 0 1 .1 1 0 1 .2 1 .2 1-.2 1 .2 1 .2 1 .3 1 .2 1 0 1 .4 1 .3 1 .6 1 .9 1 .1 1 0 1 0 1 0 1 0 1 0 1 0 1 0 1 0 1 0 1 0 1 0 1 0 1 0 1 0 1 0 1 0 1 0 1 0 1 0 1-.3 1-.7 1-.6 1-.4 1-.2 1-.4 1-.1 1-.1 1-.1 1-.3 1 0 1-.1 1-.1 1-.1 1 0 1 0 1-.1 1 0 1-.1V84.3zM0 89v-3.9l1 0 1 .1 1-.2 1 .1 1-.1 1 .2 1 0 1 .1 1 0 1 .2 1 .2 1-.2 1 .2 1 .2 1 .3 1 .2 1 0 1 .4 1 .3 1 .6 1 .9 1 .1 1 0 1 0 1 0 1 0 1 0 1 0 1 0 1 0 1 0 1 0 1 0 1 0 1 0 1 0 1 0 1 0 1 0 1 0 1 0 1-.3 1-.7 1-.6 1-.4 1-.2 1-.4 1-.1 1-.1 1-.1 1-.3 1 0 1-.1 1-.1 1-.1 1 0 1 0 1-.1 1 0 1-.1 1 0 1 0 1 .1 1 .2 1-.1 1 0 1-.1 1 .2 1 .1 1 .1 1 0 1 .3 1 .1 1 .3 1 .1 1 .2 1 .4 1 .5 1 .5 1 .8 1 0 1 0 1 0 1 0 1 0 1 0 1 0 1 0 1 0 1 0 1 0 1 0 1 0 1 0 1 0 1 0 1 0 1 0 1 0 1 0 1-.4 1-.7 1-.5 1-.3 1-.3 1-.3 1 .1 1-.3 1-.3 1-.1 1-.2 1-.1 1-.1 1 .2 1-.1 1-.1 1-.1 1-.1 1 0 1 0V89zM0 93.7v-4l1 0 1 0 1 .1 1 .2 1-.1 1 0 1-.1 1 .2 1 .1 1 .1 1 0 1 .3 1 .1 1 .3 1 .1 1 .2 1 .4 1 .5 1 .5 1 .8 1 0 1 0 1 0 1 0 1 0 1 0 1 0 1 0 1 0 1 0 1 0 1 0 1 0 1 0 1 0 1 0 1 0 1 0 1 0 1 0 1-.4 1-.7 1-.5 1-.3 1-.3 1-.3 1 .1 1-.3 1-.3 1-.1 1-.2 1-.1 1-.1 1 .2 1-.1 1-.1 1-.1 1-.1 1 0 1 .1 1 0 1-.1 1 0 1 0 1 .2 1 0 1 .3 1 0 1 0 1 .2 1 .3 1 .2 1 .1 1 .1 1 .2 1 .4 1 .5 1 .5 1 .7 1 0 1 0 1 0 1 0 1 0 1 0 1 0 1 0 1 0 1 0 1 0 1 0 1 0 1 0 1 0 1 0 1 0 1 0 1 0 1 0 1-.4 1-.6 1-.5 1-.2 1-.5 1-.3 1-.2 1-.2 1 0 1-.1 1-.1 1-.2 1 0 1-.2 1-.1 1 0 1 0 1 .1 1-.1 1 0 1-.1V93.7zM0 98.4v-3.9l1 0 1-.1 1 0 1 0 1 .2 1 0 1 .3 1 0 1 0 1 .2 1 .3 1 .2 1 .1 1 .1 1 .2 1 .4 1 .5 1 .5 1 .7 1 0 1 0 1 0 1 0 1 0 1 0 1 0 1 0 1 0 1 0 1 0 1 0 1 0 1 0 1 0 1 0 1 0 1 0 1 0 1 0 1-.4 1-.6 1-.5 1-.2 1-.5 1-.3 1-.2 1-.2 1 0 1-.1 1-.1 1-.2 1 0 1-.2 1-.1 1 0 1 0 1 .1 1-.1 1 0 1-.1 1 0 1 .1 1 0 1 0 1 .2 1 .1 1-.1 1 .2 1 .1 1 .4 1 0 1 .1 1 .4 1 .2 1 .4 1 .4 1 .5 1 .7 1 0 1 0 1 0 1 0 1 0 1 0 1 0 1 0 1 0 1 0 1 0 1 0 1 0 1 0 1 0 1 0 1 0 1 0 1 0 1 0 1-.6 1-.7 1-.4 1-.3 1-.2 1-.1 1-.4 1-.2 1-.2 1 0 1-.2 1 0 1-.1 1 .1 1 0 1-.3 1-.1 1 .1 1 0 1-.1 1 .1 1 0V98.4zM0 103.1v-4l1 0 1 .1 1 0 1 0 1 .2 1 .1 1-.1 1 .2 1 .1 1 .4 1 0 1 .1 1 .4 1 .2 1 .4 1 .4 1 .5 1 .7 1 0 1 0 1 0 1 0 1 0 1 0 1 0 1 0 1 0 1 0 1 0 1 0 1 0 1 0 1 0 1 0 1 0 1 0 1 0 1 0 1-.6 1-.7 1-.4 1-.3 1-.2 1-.1 1-.4 1-.2 1-.2 1 0 1-.2 1 0 1-.1 1 .1 1 0 1-.3 1-.1 1 .1 1 0 1-.1 1 .1 1 0 1-.1 1 .1 1 .1 1 0 1 .2 1 .1 1 0 1 .2 1 .1 1 .3 1 .2 1 .2 1 .3 1 .3 1 .3 1 .7 1 .6 1 0 1 0 1 0 1 0 1 0 1 0 1 0 1 0 1 0 1 0 1 0 1 0 1 0 1 0 1 0 1 0 1 0 1 0 1 0 1 0 1-.8 1-.6 1-.3 1-.4 1-.3 1-.1 1-.2 1-.1 1-.1 1-.1 1-.2 1 0 1-.2 1 0 1-.1 1-.1 1 0 1-.1 1 0 1 .2 1 0 1-.2 1 .1V103.1zM0 107.8v-3.9l1-.1 1 .1 1 .1 1 0 1 .2 1 .1 1 0 1 .2 1 .1 1 .3 1 .2 1 .2 1 .3 1 .3 1 .3 1 .7 1 .6 1 0 1 0 1 0 1 0 1 0 1 0 1 0 1 0 1 0 1 0 1 0 1 0 1 0 1 0 1 0 1 0 1 0 1 0 1 0 1 0 1-.8 1-.6 1-.3 1-.4 1-.3 1-.1 1-.2 1-.1 1-.1 1-.1 1-.2 1 0 1-.2 1 0 1-.1 1-.1 1 0 1-.1 1 0 1 .2 1 0 1-.2 1 0 1 .2 1 0 1 .1 1 .1 1 .1 1 .1 1 .1 1 .1 1 .4 1 .3 1 .1 1 .2 1 .2 1 .5 1 .8 1 .4 1 0 1 0 1 0 1 0 1 0 1 0 1 0 1 0 1 0 1 0 1 0 1 0 1 0 1 0 1 0 1 0 1 0 1 0 1 0 1 0 1-.7 1-.8 1-.3 1-.3 1-.3 1-.2 1-.2 1 0 1-.2 1-.2 1-.1 1-.1 1-.1 1 .1 1 0 1-.2 1 .1 1-.1 1-.1 1 0 1 0 1 .2 1 0 1 .1V107.8zM0 112.5v-4l1 .2 1 0 1 .1 1 .1 1 .1 1 .1 1 .1 1 .1 1 .4 1 .3 1 .1 1 .2 1 .2 1 .5 1 .8 1 .4 1 0 1 0 1 0 1 0 1 0 1 0 1 0 1 0 1 0 1 0 1 0 1 0 1 0 1 0 1 0 1 0 1 0 1 0 1 0 1 0 1-.7 1-.8 1-.3 1-.3 1-.3 1-.2 1-.2 1 0 1-.2 1-.2 1-.1 1-.1 1-.1 1 .1 1 0 1-.2 1 .1 1-.1 1-.1 1 0 1 0 1 .2 1 0 1 0 1 0 1 0 1 .1 1 .2 1 .1 1 .2 1 .2 1 0 1 .2 1 .2 1 .3 1 .5 1 .4 1 .9 1 .2 1 0 1 0 1 0 1 0 1 0 1 0 1 0 1 0 1 0 1 0 1 0 1 0 1 0 1 0 1 0 1 0 1 0 1 0 1 0 1 0 1-.9 1-.6 1-.3 1-.2 1-.4 1-.3 1-.1 1-.2 1 0 1-.1 1-.1 1-.2 1-.1 1-.1 1 .1 1 0 1 0 1-.1 1 0 1 0 1 0 1 .1 1 0 1-.1 1 .1V112.5zM0 117.2v-3.8l1 0 1 0 1 .1 1 .2 1 .1 1 .2 1 .2 1 0 1 .2 1 .2 1 .3 1 .5 1 .4 1 .9 1 .2 1 0 1 0 1 0 1 0 1 0 1 0 1 0 1 0 1 0 1 0 1 0 1 0 1 0 1 0 1 0 1 0 1 0 1 0 1 0 1 0 1-.9 1-.6 1-.3 1-.2 1-.4 1-.3 1-.1 1-.2 1 0 1-.1 1-.1 1-.2 1-.1 1-.1 1 .1 1 0 1 0 1-.1 1 0 1 0 1 0 1 .1 1 0 1-.1 1 .2 1 0 1 .2 1 .2 1-.2 1 .2 1 .2 1 .4 1 0 1 .3 1 .2 1 .4 1 .5 1 1 1 0 1 0 1 0 1 0 1 0 1 0 1 0 1 0 1 0 1 0 1 0 1 0 1 0 1 0 1 0 1 0 1 0 1 0 1 0 1 0 1-.1 1-.9 1-.4 1-.4 1-.4 1-.3 1-.1 1-.2 1-.2 1-.2 1 0 1-.1 1-.1 1-.2 1 .1 1-.1 1 0 1 0 1 0 1-.1 1 0 1 0 1 0 1 .1 1 0 1 0 1 .1V117.2zM0 121.9v-3.7l1 0 1 .2 1 .2 1-.2 1 .2 1 .2 1 .4 1 0 1 .3 1 .2 1 .4 1 .5 1 1 1 0 1 0 1 0 1 0 1 0 1 0 1 0 1 0 1 0 1 0 1 0 1 0 1 0 1 0 1 0 1 0 1 0 1 0 1 0 1 0 1-.1 1-.9 1-.4 1-.4 1-.4 1-.3 1-.1 1-.2 1-.2 1-.2 1 0 1-.1 1-.1 1-.2 1 .1 1-.1 1 0 1 0 1 0 1-.1 1 0 1 0 1 0 1 .1 1 0 1 0 1 0 1 .2 1 .2 1 .1 1 .3 1 .1 1 .2 1 .2 1 .1 1 .5 1 .4 1 .4 1 .9 1 0 1 0 1 0 1 0 1 0 1 0 1 0 1 0 1 0 1 0 1 0 1 0 1 0 1 0 1 0 1 0 1 0 1 0V121.9zM0 126.6v-3.9l1 .2 1 .2 1 .1 1 .3 1 .1 1 .2 1 .2 1 .1 1 .5 1 .4 1 .4 1 .9 1 0 1 0 1 0 1 0 1 0 1 0 1 0 1 0 1 0 1 0 1 0 1 0 1 0 1 0 1 0 1 0 1 0 1 0V126.6z"/>
<path id="v0" transform="scale(1.22833,1)" d="M0 4.4v-1.6l1-.4 1-.8 1 .6 1-.8 1 .7 1-.2 1 0 1-.3 1 .2 1 .2 1-.2 1 .7 1-1 1 .1 1-.4 1 .4 1-.1 1 .1 1-.1 1 1.1 1-1 1 .4 1 0 1 .1 1 .2 1-.4 1 1.1 1-.9 1 1.9 1 0 1 0 1 0 1 0 1 0 1 0 1 0 1 0 1 0 1 0 1 0 1 0 1 0 1 0 1 0 1 0 1 0 1 0 1 0 1 0 1 0 1 0 1 0 1 0 1 0 1 0 1 0 1 0 1-1 1-.1 1-.3 1-.6 1-.2 1 .1 1-.3 1 .2 1 0 1 .1 1-.3 1-.1 1 .2 1 .3 1-.2 1 .1 1 0 1-.2 1 0 1-.3 1-.1 1 .6 1 0 1 .1 1 .5 1-.2 1-.4 1 .1 1 .1 1 .4 1 .6 1 .9 1 0 1 0 1 0 1 0 1 0 1 0 1 0 1 0 1 0 1 0 1 0 1 0 1 0 1 0 1 0 1 0 1 0 1 0 1 0 1 0 1 0 1 0 1 0 1 0 1 0 1 0 1 0 1 0 1-1.5 1 .6 1-.5V4.4zM0 9.1v-1.8l1-.6 1-.2 1 .1 1 .1 1-.2 1 0 1 .1 1-.3 1 .5 1-.4 1 .3 1-.2 1-.3 1 .5 1-.3 1 0 1 .1 1-.5 1 .5 1 .1 1 .1 1 .5 1-.2 1-.4 1 .1 1 .1 1 .4 1 .6 1 .9 1 0 1 0 1 0 1 0 1 0 1 0 1 0 1 0 1 0 1 0 1 0 1 0 1 0 1 0 1 0 1 0 1 0 1 0 1 0 1 0 1 0 1 0 1 0 1 0 1 0 1 0 1 0 1 0 1-.8 1-.1 1-.8 1 .3 1-.8 1 .3 1 .1 1-.4 1 .2 1-.7 1 .2 1 .5 1-.2 1 .2 1-.4 1 .3 1 0 1 .2 1-.4 1 .1 1-.5 1 .3 1 .5 1-.3 1 .1 1 .1 1 .3 1 .1 1-.2 1-.4 1 .8 1 1.4 1 0 1 0 1 0 1 0 1 0 1 0 1 0 1 0 1 0 1 0 1 0 1 0 1 0 1 0 1 0 1 0 1 0 1 0 1 0 1 0 1 0 1 0 1 0 1 0 1 0 1 0 1 0 1 0 1-1.2 1-.2 1-.5V9.1zM0 13.8v-2.1l1 .3 1-.8 1 .5 1-.3 1-.2 1 .2 1-.7 1 .6 1-.1 1 0 1 .2 1-.4 1 1 1-1 1 .5 1-.4 1 .1 1-.5 1 .6 1 .2 1-.3 1 .1 1 .1 1 .3 1 .1 1-.2 1-.4 1 .8 1 1.4 1 0 1 0 1 0 1 0 1 0 1 0 1 0 1 0 1 0 1 0 1 0 1 0 1 0 1 0 1 0 1 0 1 0 1 0 1 0 1 0 1 0 1 0 1 0 1 0 1 0 1 0 1 0 1 0 1-1.4 1 0 1-.5 1-.3 1 1.2 1-1.1 1 .3 1-.7 1 .4 1-.1 1-.1 1 0 1 .3 1-.1 1-.1 1 0 1 .3 1 0 1-.8 1 .1 1 .3 1-.2 1 .3 1-.1 1-.4 1 .1 1 .3 1 .9 1-.2 1 .5 1-.3 1 1.4 1 0 1 0 1 0 1 0 1 0 1 0 1 0 1 0 1 0 1 0 1 0 1 0 1 0 1 0 1 0 1 0 1 0 1 0 1 0 1 0 1 0 1 0 1 0 1 0 1 0 1 0 1 0 1 0 1-1.6 1 .3 1-.5V13.8zM0 18.4v-2.3l1-.3 1 1.2 1-1.4 1 .6 1-.7 1 .4 1-.1 1-.2 1 .1 1 .3 1-.1 1-.1 1-.7 1 1 1 0 1-.8 1 .1 1 .3 1-.2 1 .3 1-.1 1-.4 1 .1 1 .3 1 .9 1-.2 1 .5 1-.3 1 1.4 1 0 1 0 1 0 1 0 1 0 1 0 1 0 1 0 1 0 1 0 1 0 1 0 1 0 1 0 1 0 1 0 1 0 1 0 1 0 1 0 1 0 1 0 1 0 1 0 1 0 1 0 1 0 1 0 1-1.4 1 .1 1-.7 1 .3 1-.1 1-.1 1 .2 1-.2 1-.2 1 .1 1 .1 1-.3 1-.3 1-.2 1 .6 1-.8 1 .6 1-.2 1 .5 1-.2 1 .2 1 .1 1 .2 1-.4 1-.2 1 .8 1-.3 1-.6 1 .5 1 .5 1 0 1 1.4 1 0 1 0 1 0 1 0 1 0 1 0 1 0 1 0 1 0 1 0 1 0 1 0 1 0 1 0 1 0 1 0 1 0 1 0 1 0 1 0 1 0 1 0 1 0 1 0 1 0 1 0 1 0 1 0 1-1.3 1-.2 1-.3V18.4zM0 23.1v-2.4l1 .3 1-.1 1-.4 1 .5 1-.2 1-.2 1 .1 1 .1 1-.3 1-.3 1-.2 1 .6 1-.1 1-.1 1-.2 1 .5 1-.2 1 .2 1 .1 1 .2 1-.4 1-.2 1 .8 1-.3 1-.6 1 .5 1 .5 1 0 1 1.4 1 0 1 0 1 0 1 0 1 0 1 0 1 0 1 0 1 0 1 0 1 0 1 0 1 0 1 0 1 0 1 0 1 0 1 0 1 0 1 0 1 0 1 0 1 0 1 0 1 0 1 0 1 0 1 0 1-1.2 1-.3 1-.4 1 .1 1-.1 1 .1 1 .2 1-.6 1 .2 1-.4 1 .2 1 .2 1-.8 1 .4 1-.1 1 .2 1 0 1-.4 1 .4 1 .4 1 .3 1-.3 1-.6 1 .3 1 .6 1-.7 1 .2 1 .1 1 .1 1 .9 1 .3 1 .7 1 0 1 0 1 0 1 0 1 0 1 0 1 0 1 0 1 0 1 0 1 0 1 0 1 0 1 0 1 0 1 0 1 0 1 0 1 0 1 0 1 0 1 0 1 0 1 0 1 0 1-1.3 1-.8 1 .2 1-.4 1 .1 1-.4V23.1zM0 27.9v-2.3l1 .1 1-.1 1-.4 1 .7 1-.6 1 .2 1-.4 1 .4 1 0 1-.8 1 .4 1-.1 1 .5 1-.3 1-.4 1 .4 1 .4 1 .3 1-.3 1-.6 1 .3 1 .6 1-.7 1 .2 1 .1 1 .1 1 .9 1 .3 1 .7 1 0 1 0 1 0 1 0 1 0 1 0 1 0 1 0 1 0 1 0 1 0 1 0 1 0 1 0 1 0 1 0 1 0 1 0 1 0 1 0 1 0 1 0 1 0 1 0 1 0 1-1.3 1-.8 1 .2 1-.4 1 .1 1-.7 1-.1 1 .3 1 .5 1-.8 1 .5 1-.4 1-.4 1 .6 1-.3 1 0 1 .1 1-.2 1 .3 1 .3 1-.3 1-.2 1-.2 1 .4 1 0 1 0 1 .1 1-.1 1-.1 1-.3 1 .9 1-.1 1-.4 1 .4 1-.1 1-.2 1 1.4 1 .8 1 .5 1 0 1 0 1 0 1 0 1 0 1 0 1 0 1 0 1 0 1 0 1 0 1 0 1 0 1 0 1 0 1 0 1 0 1 0 1 0 1 0 1 0 1 0 1-1.3 1-.2 1-.3 1-.6 1-.1V27.9zM0 32.5v-3.3l1-.1 1 .3 1 .5 1-.8 1 .5 1-.4 1-.4 1 .6 1-.3 1 0 1 .1 1-.2 1 .3 1 .3 1-.3 1-.2 1-.2 1 .4 1 0 1 0 1 .1 1-.1 1-.1 1-.3 1 .9 1-.1 1-.4 1 .4 1-.1 1-.2 1 1.4 1 .8 1 .5 1 0 1 0 1 0 1 0 1 0 1 0 1 0 1 0 1 0 1 0 1 0 1 0 1 0 1 0 1 0 1 0 1 0 1 0 1 0 1 0 1 0 1 0 1-1.3 1-.2 1-.3 1-.6 1-.4 1 .4 1 .4 1-.5 1 .1 1-.7 1 .1 1 .5 1-.3 1-.5 1 .2 1-.2 1 .1 1 .1 1-.2 1 .3 1 .3 1-.6 1 .6 1-.1 1-.3 1 .4 1-.6 1 .8 1-.3 1 .1 1 .7 1-.8 1 0 1 .7 1 .3 1 .2 1 .3 1 1.3 1 0 1 0 1 0 1 0 1 0 1 0 1 0 1 0 1 0 1 0 1 0 1 0 1 0 1 0 1 0 1 0 1 0 1 0 1 0 1 0 1-.3 1-1.1 1-.4 1-.2 1-.8 1 .2 1 .1V32.5zM0 37.2v-3.2l1 .4 1 .4 1-.5 1 .1 1-.7 1 .1 1 .5 1-.3 1-.5 1 .2 1-.2 1 .1 1 .1 1-.2 1 .3 1 .3 1-.6 1 .6 1-.1 1-.3 1 .4 1-.6 1 .8 1-.3 1 .1 1 .7 1-.8 1 0 1 .7 1 .3 1 .2 1 .3 1 1.3 1 0 1 0 1 0 1 0 1 0 1 0 1 0 1 0 1 0 1 0 1 0 1 0 1 0 1 0 1 0 1 0 1 0 1 0 1 0 1 0 1-.3 1-1.1 1-.4 1-.2 1-.8 1 .2 1 .7 1-.8 1-.3 1 .3 1-.4 1 .2 1 .2 1 0 1 .4 1-.2 1-.6 1 .3 1 0 1 0 1-.3 1 .4 1 .4 1-.8 1 .4 1-.1 1-.2 1 .6 1-.3 1-.4 1 .8 1 0 1-.3 1 .1 1 0 1 .4 1 .5 1 .3 1 1.3 1 0 1 0 1 0 1 0 1 0 1 0 1 0 1 0 1 0 1 0 1 0 1 0 1 0 1 0 1 0 1 0 1 0 1 0 1 0 1 0 1-.2 1-1.2 1-.4 1-.3 1-.2 1 .1 1-.6 1 .6V37.2zM0 42v-2.3l1-.8 1-.3 1 .3 1-.4 1 .2 1 .2 1 0 1 .4 1-.2 1-.6 1 .3 1 0 1 0 1-.3 1 .4 1 .4 1-.8 1 .4 1-.1 1-.2 1 .6 1-.3 1-.4 1 .8 1 0 1-.3 1 .1 1 0 1 .4 1 .5 1 .3 1 1.3 1 0 1 0 1 0 1 0 1 0 1 0 1 0 1 0 1 0 1 0 1 0 1 0 1 0 1 0 1 0 1 0 1 0 1 0 1 0 1 0 1-.2 1-1.2 1-.4 1-.3 1-.2 1 .1 1-.6 1-.4 1 .9 1-.5 1-.2 1 .4 1-.1 1-.6 1 .3 1-.1 1 .3 1 .2 1-.3 1 .2 1-.6 1 .2 1 .2 1-.1 1-.1 1 .2 1 .3 1-.7 1 .5 1 .3 1-.2 1 .5 1-.6 1 0 1 .7 1 .1 1 .3 1-.1 1 1.8 1 0 1 0 1 0 1 0 1 0 1 0 1 0 1 0 1 0 1 0 1 0 1 0 1 0 1 0 1 0 1 0 1 0 1 0 1 0 1 0 1-1.1 1-.5 1-.3 1-.1 1-.4 1-.1 1 .4 1-.6 1-.4V42zM0 46.6v-3.6l1 .9 1-.5 1-.2 1 .4 1-.1 1-.6 1 .3 1-.1 1 .3 1 .2 1-.3 1 .2 1-.6 1 .2 1 .2 1-.1 1-.1 1 .2 1 .3 1-.7 1 .5 1 .3 1-.2 1 .5 1-.6 1 0 1 .7 1 .1 1 .3 1-.1 1 1.8 1 0 1 0 1 0 1 0 1 0 1 0 1 0 1 0 1 0 1 0 1 0 1 0 1 0 1 0 1 0 1 0 1 0 1 0 1 0 1 0 1-1.1 1-.5 1-.3 1-.1 1-.4 1-.1 1 .4 1-.6 1 .1 1 .1 1-.2 1-.2 1-.1 1 .3 1-.1 1 .1 1-.6 1 0 1 .4 1-.2 1-.1 1 0 1 .6 1 0 1-.4 1 .3 1-.4 1 .5 1-.4 1 .3 1 .1 1-.3 1 1.3 1-.8 1 .6 1-.2 1 .1 1 .5 1 1.4 1 0 1 0 1 0 1 0 1 0 1 0 1 0 1 0 1 0 1 0 1 0 1 0 1 0 1 0 1 0 1 0 1 0 1 0 1 0 1 0 1-1.1 1-.2 1-.6 1-.3 1-.1 1 .4 1-.9 1 .7 1-.7 1 .2V46.6zM0 51.4v-3l1 .1 1-.2 1-.2 1-.1 1 .3 1-.1 1 .1 1-.6 1 0 1 .4 1-.2 1-.1 1 0 1 .6 1 0 1-.4 1 .3 1-.4 1 .5 1-.4 1 .3 1 .1 1-.3 1 1.3 1-.8 1 .6 1-.2 1 .1 1 .5 1 1.4 1 0 1 0 1 0 1 0 1 0 1 0 1 0 1 0 1 0 1 0 1 0 1 0 1 0 1 0 1 0 1 0 1 0 1 0 1 0 1 0 1-1.1 1-.2 1-.6 1-.3 1-.1 1 .4 1-.9 1 .7 1-.7 1 .3 1-.6 1 .2 1-.2 1 .1 1 .1 1 .3 1-.2 1-.2 1-.2 1 .2 1 .1 1-.1 1 .1 1 .3 1-.1 1-.3 1 .5 1-.8 1 .3 1 .8 1 .2 1 0 1-.3 1-.3 1 .6 1 0 1 .2 1 .4 1 1.4 1 0 1 0 1 0 1 0 1 0 1 0 1 0 1 0 1 0 1 0 1 0 1 0 1 0 1 0 1 0 1 0 1 0 1 0 1 0 1 0 1-1.4 1 .2 1-1 1 .1 1 0 1 .5 1-.4 1-1 1 .2 1 0 1 .1V51.4zM0 56.1v-2.9l1-.6 1 .2 1-.2 1 .1 1 .1 1 .3 1-.2 1-.2 1-.2 1 .2 1 .1 1-.1 1 .1 1 .3 1-.1 1-.3 1 .5 1-.8 1 .3 1 .8 1 .2 1 0 1-.3 1-.3 1 .6 1 0 1 .2 1 .4 1 1.4 1 0 1 0 1 0 1 0 1 0 1 0 1 0 1 0 1 0 1 0 1 0 1 0 1 0 1 0 1 0 1 0 1 0 1 0 1 0 1 0 1-1.4 1 .2 1-1 1 .1 1 0 1 .5 1-.4 1-1 1 .2 1 0 1 .1 1 .3 1-.6 1-.1 1 .3 1 .2 1-.3 1 .2 1-.2 1 .4 1-.3 1-.5 1 .6 1-.6 1 .6 1 0 1 0 1-.2 1 .5 1-.5 1 .2 1-.2 1 .5 1 .2 1-.2 1 0 1 .6 1 .8 1 1 1 0 1 0 1 0 1 0 1 0 1 0 1 0 1 0 1 0 1 0 1 0 1 0 1 0 1 0 1 0 1 0 1 0 1 0 1 0 1 0 1-1.3 1-.1 1-.7 1 0 1-.1 1-.6 1-.1 1-.2 1 .4 1 .1 1-.7 1 .5V56.1zM0 60.8v-3.1l1 .3 1-.6 1-.1 1 .3 1 .2 1-.3 1 .2 1-.2 1 .4 1-.3 1-.5 1 .6 1-.6 1 .6 1 0 1 0 1-.2 1 .5 1-.5 1 .2 1-.2 1 .5 1 .2 1-.2 1 0 1 .6 1 .8 1 1 1 0 1 0 1 0 1 0 1 0 1 0 1 0 1 0 1 0 1 0 1 0 1 0 1 0 1 0 1 0 1 0 1 0 1 0 1 0 1 0 1-1.3 1-.1 1-.7 1 0 1-.1 1-.6 1-.1 1-.2 1 .4 1 .1 1-.7 1 .5 1 .1 1-.2 1 0 1-.1 1 .7 1-1 1 .4 1-.2 1 .6 1-.2 1 .2 1-.6 1 .2 1 .2 1 .5 1-.6 1 .4 1-.3 1 .6 1-.3 1-.2 1 0 1 .3 1 .6 1-.1 1 1.8 1 0 1 0 1 0 1 0 1 0 1 0 1 0 1 0 1 0 1 0 1 0 1 0 1 0 1 0 1 0 1 0 1 0 1 0 1 0 1 0 1 0 1-1.3 1-.2 1-.6 1-.2 1-.4 1 .4 1-.8 1 .4 1 .2 1 0 1-.3 1-.4 1 0V60.8zM0 65.5v-3.2l1 .1 1-.2 1 0 1-.1 1 .7 1-1 1 .4 1-.2 1 .6 1-.2 1 .2 1-.6 1 .2 1 .2 1 .5 1-.6 1 .4 1-.3 1 .6 1-.3 1-.2 1 0 1 .3 1 .6 1-.1 1 1.8 1 0 1 0 1 0 1 0 1 0 1 0 1 0 1 0 1 0 1 0 1 0 1 0 1 0 1 0 1 0 1 0 1 0 1 0 1 0 1 0 1 0 1-1.3 1-.2 1-.6 1-.2 1-.4 1 .4 1-.8 1 .4 1 .2 1 0 1-.3 1-.4 1 .2 1 0 1 .6 1-.1 1-.4 1-.3 1 .1 1 .1 1 .5 1 .1 1-.9 1 .7 1-.7 1 .8 1-.4 1-.4 1 .8 1-.8 1 .6 1-.2 1 1.2 1-.4 1-.2 1 .1 1 1.3 1 .9 1 0 1 0 1 0 1 0 1 0 1 0 1 0 1 0 1 0 1 0 1 0 1 0 1 0 1 0 1 0 1 0 1 0 1 0 1 0 1 0 1 0 1-1.6 1-.7 1-.1 1 .4 1-.5 1 .3 1-.4 1 0 1-.6 1 .8 1 .1 1-.2 1 0 1-.8V65.5zM0 70.2v-3.4l1 0 1 .6 1-.1 1-.4 1-.3 1 .1 1 .1 1 .5 1 .1 1-.9 1 .7 1-.7 1 .8 1-.4 1-.4 1 .8 1-.8 1 .6 1-.2 1 1.2 1-.4 1-.2 1 .1 1 1.3 1 .9 1 0 1 0 1 0 1 0 1 0 1 0 1 0 1 0 1 0 1 0 1 0 1 0 1 0 1 0 1 0 1 0 1 0 1 0 1 0 1 0 1 0 1-1.6 1-.7 1-.1 1 .4 1-.5 1 .3 1-.4 1 0 1-.6 1 .8 1 .1 1-.2 1 0 1-.3 1 0 1-.2 1 .1 1 0 1-.4 1 .5 1-.5 1 .4 1-.4 1 0 1 1.1 1-.7 1-.2 1 .2 1 .6 1 .2 1 0 1 .1 1-.4 1 0 1 .7 1-.6 1 .8 1 1.5 1 0 1 0 1 0 1 0 1 0 1 0 1 0 1 0 1 0 1 0 1 0 1 0 1 0 1 0 1 0 1 0 1 0 1 0 1 0 1 0 1-.6 1-.3 1-1.3 1 .3 1 .1 1-.9 1 .3 1-.1 1-.2 1 .3 1-.6 1 0 1 0 1 .2 1 .3 1-.3V70.2zM0 74.9v-3.2l1 0 1-.2 1 .1 1 0 1-.4 1 .5 1-.5 1 .4 1-.4 1 0 1 1.1 1-.7 1-.2 1 .2 1 .6 1 .2 1 0 1 .1 1-.4 1 0 1 .7 1-.6 1 .8 1 1.5 1 0 1 0 1 0 1 0 1 0 1 0 1 0 1 0 1 0 1 0 1 0 1 0 1 0 1 0 1 0 1 0 1 0 1 0 1 0 1 0 1-.6 1-.3 1-1.3 1 .3 1 .1 1-.9 1 .3 1-.1 1-.2 1 .3 1-.6 1 0 1 0 1 .2 1 .3 1-.8 1 .6 1-.1 1 .1 1-.1 1-.5 1 .3 1 .7 1-.2 1-.5 1-.1 1 0 1 .4 1 0 1 .1 1-.2 1 .2 1 .4 1 0 1 .1 1 .1 1 .2 1 .1 1 1.7 1 0 1 0 1 0 1 0 1 0 1 0 1 0 1 0 1 0 1 0 1 0 1 0 1 0 1 0 1 0 1 0 1 0 1 0 1 0 1 0 1-.5 1-1.5 1 0 1-.2 1-.4 1 .9 1-1.1 1 .8 1-.6 1-.5 1 .5 1-.4 1 .3 1-.4 1 .2 1 .8 1-.4V74.9zM0 79.6v-3.7l1 .6 1-.1 1 .1 1-.1 1-.5 1 .3 1 .7 1-.2 1-.5 1-.1 1 0 1 .4 1 0 1 .1 1-.2 1 .2 1 .4 1 0 1 .1 1 .1 1 .2 1 .1 1 1.7 1 0 1 0 1 0 1 0 1 0 1 0 1 0 1 0 1 0 1 0 1 0 1 0 1 0 1 0 1 0 1 0 1 0 1 0 1 0 1 0 1-.5 1-1.5 1 0 1-.2 1-.4 1 .9 1-1.1 1 .8 1-.6 1-.5 1 .5 1-.4 1 .3 1-.4 1 .2 1 .8 1-.9 1 .8 1-.5 1-.6 1 1.2 1-1.2 1 .2 1 .4 1 0 1-.6 1 .8 1 0 1-.7 1 .8 1-.6 1 .4 1 .2 1 .2 1 0 1-.2 1 .3 1 .8 1 1.3 1 0 1 0 1 0 1 0 1 0 1 0 1 0 1 0 1 0 1 0 1 0 1 0 1 0 1 0 1 0 1 0 1 0 1 0 1 0 1 0 1-1.5 1-.1 1-.8 1 0 1 .4 1-.5 1 .1 1 .3 1-1 1 .3 1 .1 1 .1 1-.7 1 .4 1-.2 1 .4 1-.6 1 .5V79.6zM0 84.3v-3.4l1 .8 1-.5 1-.6 1 1.2 1-1.2 1 .2 1 .4 1 0 1-.6 1 .8 1 0 1-.7 1 .8 1-.6 1 .4 1 .2 1 .2 1 0 1-.2 1 .3 1 .8 1 1.3 1 0 1 0 1 0 1 0 1 0 1 0 1 0 1 0 1 0 1 0 1 0 1 0 1 0 1 0 1 0 1 0 1 0 1 0 1 0 1 0 1-1.5 1-.1 1-.8 1 0 1 .4 1-.5 1 .1 1 .3 1-1 1 .3 1 .1 1 .1 1-.7 1 .4 1-.2 1 .4 1-.6 1 .2 1 .3 1-.1 1 0 1-.4 1 .7 1-.5 1 0 1 .8 1-.4 1-.1 1 .1 1-.1 1 .1 1 .7 1-.2 1 .1 1 .5 1 .2 1 .2 1 .7 1 .5 1 0 1 0 1 0 1 0 1 0 1 0 1 0 1 0 1 0 1 0 1 0 1 0 1 0 1 0 1 0 1 0 1 0 1 0 1 0 1 0 1-1 1-.9 1-.5 1-.4 1 .8 1-.4 1-.1 1 .2 1-.6 1 .4 1-.5 1 .3 1 0 1 .1 1-.6 1 .2 1 .2 1 .2 1-.7V84.3zM0 89v-3.5l1 .3 1-.1 1 0 1-.4 1 .7 1-.5 1 0 1 .8 1-.4 1-.1 1 .1 1-.1 1 .1 1 .7 1-.2 1 .1 1 .5 1 .2 1 .2 1 .7 1 .5 1 0 1 0 1 0 1 0 1 0 1 0 1 0 1 0 1 0 1 0 1 0 1 0 1 0 1 0 1 0 1 0 1 0 1 0 1 0 1 0 1-1 1-.9 1-.5 1-.4 1 .8 1-.4 1-.1 1 .2 1-.6 1 .4 1-.5 1 .3 1 0 1 .1 1-.6 1 .2 1 .2 1 .2 1 0 1-.2 1-.4 1 .8 1-.2 1-.4 1 .2 1 .1 1-.6 1 .1 1 .5 1-.2 1 .7 1 .1 1 .2 1-.7 1 .5 1 .2 1 .3 1 1.6 1 0 1 0 1 0 1 0 1 0 1 0 1 0 1 0 1 0 1 0 1 0 1 0 1 0 1 0 1 0 1 0 1 0 1 0 1 0 1 0 1 0 1-1.8 1 .1 1 0 1 0 1-.4 1-.4 1 .1 1 0 1-.3 1 .3 1-.3 1 0 1 0 1-.5 1 .1 1 .6 1-.6 1 .5 1 .1 1-.7V89zM0 93.7v-3l1-.2 1-.4 1 .8 1-.2 1-.4 1 .2 1 .1 1-.6 1 .1 1 .5 1-.2 1 .7 1 .1 1 .2 1-.7 1 .5 1 .2 1 .3 1 1.6 1 0 1 0 1 0 1 0 1 0 1 0 1 0 1 0 1 0 1 0 1 0 1 0 1 0 1 0 1 0 1 0 1 0 1 0 1 0 1 0 1 0 1-1.8 1 .1 1 0 1 0 1-.4 1-.4 1 .1 1 0 1-.3 1 .3 1-.3 1 0 1 0 1-.5 1 .1 1 .6 1-.6 1 .5 1 .1 1-.7 1 .6 1-.4 1 .8 1-.2 1-.5 1 .3 1 .1 1 .3 1-.3 1 .3 1 0 1-.3 1 .1 1-.2 1 .7 1-.7 1 1.1 1 1.5 1 0 1 0 1 0 1 0 1 0 1 0 1 0 1 0 1 0 1 0 1 0 1 0 1 0 1 0 1 0 1 0 1 0 1 0 1 0 1 0 1 0 1-1.5 1-.3 1 0 1-.3 1 0 1 .1 1-1.1 1 .9 1-.6 1 0 1 .2 1 .4 1-.5 1-.2 1-.4 1 .4 1 0 1 .1 1 .3 1 .3 1-.7V93.7zM0 98.4v-3.6l1 .6 1-.4 1 .8 1-.2 1-.5 1 .3 1 .1 1 .3 1-.3 1 .3 1 0 1-.3 1 .1 1-.2 1 .7 1-.7 1 1.1 1 1.5 1 0 1 0 1 0 1 0 1 0 1 0 1 0 1 0 1 0 1 0 1 0 1 0 1 0 1 0 1 0 1 0 1 0 1 0 1 0 1 0 1 0 1-1.5 1-.3 1 0 1-.3 1 0 1 .1 1-1.1 1 .9 1-.6 1 0 1 .2 1 .4 1-.5 1-.2 1-.4 1 .4 1 0 1 .1 1 .3 1 .3 1-.9 1 .3 1-.2 1 .1 1-.3 1 .5 1-.6 1 .9 1 .2 1-.8 1 .6 1-.1 1 .6 1-.2 1 .4 1-.1 1 .7 1 1.1 1 0 1 0 1 0 1 0 1 0 1 0 1 0 1 0 1 0 1 0 1 0 1 0 1 0 1 0 1 0 1 0 1 0 1 0 1 0 1 0 1-.3 1-1.7 1 .1 1-.5 1-.4 1-.3 1 .5 1-.1 1-.4 1 .1 1 .2 1-.5 1 .3 1-.3 1 0 1 0 1 0 1 .6 1-.2 1 .3 1-.6 1 0 1 .3V98.4zM0 103.1v-3.5l1 .3 1-.2 1 .1 1-.3 1 .5 1-.6 1 .9 1 .2 1-.8 1 .6 1-.1 1 .6 1-.2 1 .4 1-.1 1 .7 1 1.1 1 0 1 0 1 0 1 0 1 0 1 0 1 0 1 0 1 0 1 0 1 0 1 0 1 0 1 0 1 0 1 0 1 0 1 0 1 0 1 0 1-.3 1-1.7 1 .1 1-.5 1-.4 1-.3 1 .5 1-.1 1-.4 1 .1 1 .2 1-.5 1 .3 1-.3 1 0 1 0 1 0 1 .6 1-.2 1 .3 1-.6 1 0 1 .2 1 .2 1-.2 1 .1 1-.1 1 .5 1-.1 1-.1 1-.4 1 .7 1-.2 1 .8 1 .3 1-1 1 .6 1 .9 1 1 1 0 1 0 1 0 1 0 1 0 1 0 1 0 1 0 1 0 1 0 1 0 1 0 1 0 1 0 1 0 1 0 1 0 1 0 1 0 1 0 1-.4 1-1.6 1 .3 1-.2 1-.6 1-.2 1 .2 1 0 1-.2 1 .2 1 .3 1-.3 1 .5 1-.7 1-.3 1 .8 1-1.1 1 .2 1 .5 1-.1 1 0 1 .3 1 0 1-.3V103.1zM0 107.8v-3.4l1 .2 1-.2 1 .1 1-.1 1 .5 1-.1 1-.1 1-.4 1 .7 1-.2 1 .8 1 .3 1-1 1 .6 1 .9 1 1 1 0 1 0 1 0 1 0 1 0 1 0 1 0 1 0 1 0 1 0 1 0 1 0 1 0 1 0 1 0 1 0 1 0 1 0 1 0 1 0 1-.4 1-1.6 1 .3 1-.2 1-.6 1-.2 1 .2 1 0 1-.2 1 .2 1 .3 1-.3 1 .5 1-.7 1-.3 1 .8 1-1.1 1 .2 1 .5 1-.1 1 0 1 .3 1 0 1-.3 1-.1 1 .3 1-.7 1 .8 1-.3 1 .4 1-.3 1 .1 1 .4 1 0 1-.7 1 .5 1 .3 1 .9 1 1.1 1 0 1 0 1 0 1 0 1 0 1 0 1 0 1 0 1 0 1 0 1 0 1 0 1 0 1 0 1 0 1 0 1 0 1 0 1 0 1 0 1-1.3 1-.5 1 .1 1-.5 1-.4 1 0 1 .7 1-1.1 1-.2 1 .7 1-.3 1 0 1-.1 1-.2 1 .4 1 .3 1-.4 1-.2 1 .3 1-.5 1 .3 1-.4 1 .4 1 .2 1 0V107.8zM0 112.5v-3.1l1-.1 1 .3 1-.7 1 .8 1-.3 1 .4 1-.3 1 .1 1 .4 1 0 1-.7 1 .5 1 .3 1 .9 1 1.1 1 0 1 0 1 0 1 0 1 0 1 0 1 0 1 0 1 0 1 0 1 0 1 0 1 0 1 0 1 0 1 0 1 0 1 0 1 0 1 0 1-1.3 1-.5 1 .1 1-.5 1-.4 1 0 1 .7 1-1.1 1-.2 1 .7 1-.3 1 0 1-.1 1-.2 1 .4 1 .3 1-.4 1-.2 1 .3 1-.5 1 .3 1-.4 1 .4 1 .2 1-.6 1 1 1-.4 1 .1 1 0 1-.3 1 .3 1-.2 1 .4 1 .6 1-.9 1 .7 1 .4 1 .8 1 .8 1 0 1 0 1 0 1 0 1 0 1 0 1 0 1 0 1 0 1 0 1 0 1 0 1 0 1 0 1 0 1 0 1 0 1 0 1 0 1 0 1-.9 1-.6 1-.3 1-.5 1 .6 1-1.1 1 0 1 .7 1 .2 1-.6 1-.1 1 .1 1-.1 1-.7 1 .5 1-.3 1-.2 1 1 1-.9 1 .3 1 0 1-.2 1 .6 1-.1 1-.4 1 0V112.5zM0 117.2v-3.7l1 1 1-.4 1 .1 1 0 1-.3 1 .3 1-.2 1 .4 1 .6 1-.9 1 .7 1 .4 1 .8 1 .8 1 0 1 0 1 0 1 0 1 0 1 0 1 0 1 0 1 0 1 0 1 0 1 0 1 0 1 0 1 0 1 0 1 0 1 0 1 0 1 0 1-.9 1-.6 1-.3 1-.5 1 .6 1-1.1 1 0 1 .7 1 .2 1-.6 1-.1 1 .1 1-.1 1-.7 1 .5 1-.3 1-.2 1 1 1-.9 1 .3 1 0 1-.2 1 .6 1-.1 1-.4 1 .2 1 0 1 .1 1 .1 1-.1 1-.1 1 .3 1 .1 1 .5 1-.5 1 .3 1-.1 1 1.6 1 .6 1 0 1 0 1 0 1 0 1 0 1 0 1 0 1 0 1 0 1 0 1 0 1 0 1 0 1 0 1 0 1 0 1 0 1 0 1 0 1 0 1-1.9 1 .2 1-.5 1-.4 1 .2 1-.3 1-.2 1 .6 1-.3 1-.4 1 .1 1 .8 1-.9 1 .3 1 .3 1-.9 1 .5 1-.2 1 .2 1-.1 1-.1 1 .4 1-.3 1-.2 1 .8 1-1 1 .7V117.2zM0 121.9v-3.2l1 0 1 .1 1 .1 1-.1 1-.1 1 .3 1 .1 1 .5 1-.5 1 .3 1-.1 1 1.6 1 .6 1 0 1 0 1 0 1 0 1 0 1 0 1 0 1 0 1 0 1 0 1 0 1 0 1 0 1 0 1 0 1 0 1 0 1 0 1 0 1 0 1-1.9 1 .2 1-.5 1-.4 1 .2 1-.3 1-.2 1 .6 1-.3 1-.4 1 .1 1 .8 1-.9 1 .3 1 .3 1-.9 1 .5 1-.2 1 .2 1-.1 1-.1 1 .4 1-.3 1-.2 1 .8 1-1 1 .4 1-.3 1 .4 1 .5 1-.2 1 .2 1 0 1 .1 1 .2 1 .2 1 .4 1 1.4 1 0 1 0 1 0 1 0 1 0 1 0 1 0 1 0 1 0 1 0 1 0 1 0 1 0 1 0 1 0 1 0 1 0 1 0 1 0V121.9zM0 126.6v-3.3l1-.3 1 .4 1 .5 1-.2 1 .2 1 0 1 .1 1 .2 1 .2 1 .4 1 1.4 1 0 1 0 1 0 1 0 1 0 1 0 1 0 1 0 1 0 1 0 1 0 1 0 1 0 1 0 1 0 1 0 1 0 1 0 1 0V126.6z"/>
<path id="k0" d="M0 0m5.4 3.8v.6m8.1-1.1v1.1m20.7-.5v.5m.9-.7v.7m.6-1.3v1.3m.6-2.1v2.1m.6-2.3v2.3m.6-.4v.4m.6-.3v.3m1.2-1.6v1.6m.6-1.2v1.2m1.2-1v1m1.8-1.8v1.8m3.6-1.1v1.1m5.8-1.3v1.3m1.2-1v1m1.8-.9v.9m2.4-1.7v1.7m3.6-.4v.4m3.1-1.8v1.8m.6-1v1m.6-.5v.5m.6-1.2v1.2m1.2-.7v.7m1.2-1.5v1.5m1.8-1.1v1.1m.6-2.6v2.6m.6-.9v.9m.6-.8v.8m6-.9v.9m15.5-.7v.7m18.2-2.5v2.5m2.4-.4v.4m3-.3v.3m.6-1.7v1.7m.6-2.8v2.8m1.8-.8v.8m1.2-2.5v2.5m.6-1.3v1.3m2.8-.4v.4m1.8-1.7v1.7m1.8-1.4v1.4m.6-1.1v1.1m1.8-2.2v2.2m3.1-.5v.5m5-.7v.7m1.2-1.4v1.4m3.6-.4v.4m.6-.6v.6m2.5-1.1v1.1m-139 4.2v.5m29-.7v.7m.6-.5v.5m.6-1.6v1.6m1.2-.9v.9m.6-.9v.9m1.8-.5v.5m.6-1v1m1.8-1.1v1.1m.6-2.1v2.1m.6-1.5v1.5m.6-1.1v1.1m.6-.5v.5m.6-.7v.7m.6-2.4v2.4m.6-1.5v1.5m4.2-1.9v1.9m.6-1.3v1.3m.6-1.4v1.4m1.2-1v1m1.8-1v1m4.6-.8v.8m.6-.6v.6m.6-.4v.4m3-1.3v1.3m1.2-1.8v1.8m.6-.5v.5m1.7-.5v.5m1.8-1.7v1.7m.6-1.2v1.2m8.2-.6v.6m10.5-.4v.4m20.4-.9v.9m1.8-.5v.5m1.2-1.2v1.2m2.4-1.1v1.1m.6-2.6v2.6m1.8-1.1v1.1m.6-2.5v2.5m.6-2.9v2.9m.6-.8v.8m3.3-.4v.4m.6-.5v.5m.6-.5v.5m2.4-1v1m1.8-.9v.9m3-2.2v2.2m3.7-.6v.6m.6-1.8v1.8m.6-1.1v1.1m2.4-.5v.5m1.2-1.9v1.9m.6-2.7v2.7m.6-2.1v2.1m.6-1.4v1.4m2.4-1.4v1.4m-137.9 3.8v.9m16-.5v.5m14.6-2.2v2.2m.6-1.2v1.2m.6-.5v.5m1.2-1v1m.6-1v1m.6-1.1v1.1m1.2-1.4v1.4m.6-2.4v2.4m1.2-.5v.5m.6-.8v.8m.6-1.4v1.4m.6-3.4v3.4m1.2-.5v.5m.6-.5v.5m.6-.9v.9m4.2-.5v.5m1.8-.5v.5m2.4-2v2m1.2-1.6v1.6m.6-1.8v1.8m3.4-.7v.7m5.3-2v2m.6-3.3v3.3m.6-1.8v1.8m1.8-1.4v1.4m1.2-1v1m1.8-.9v.9m13.9-1.2v1.2m3.5-.8v.8m18.6-1.1v1.1m2.7-2.2v2.2m1.2-.7v.7m1.2-1.7v1.7m.6-1.5v1.5m.6-.4v.4m1.2-.8v.8m1.3-1.7v1.7m1.2-1.4v1.4m.6-.6v.6m.6-.3v.3m.6-.6v.6m4-.5v.5m.6-.5v.5m.6-.5v.5m1.2-.7v.7m1.2-.6v.6m.6-1.1v1.1m1.2-.9v.9m1.2-.6v.6m1.2-.9v.9m2.4-1v1m.6-.6v.6m1.2-.9v.9m.6-1.9v1.9m.6-2.2v2.2m.6-.6v.6m.6-1.9v1.9m.6-2.4v2.4m2.4-3.1v3.1m1.2-1v1m.6-1.9v1.9m1.2-.8v.8m-144.9 4v.7m36-.7v.7m.6-2.1v2.1m1.2-2.6v2.6m1.2-.6v.6m1.2-2.8v2.8m.6-2.2v2.2m.6-1.5v1.5m1.2-.3v.3m.6-1.4v1.4m.6-1.9v1.9m1.2-1v1m3-1v1m2.1-.4v.4m1.8-.6v.6m1.2-1.1v1.1m.6-.4v.4m1.8-1.4v1.4m1.8-1.1v1.1m.6-1.3v1.3m1.2-1.1v1.1m4.1-1.7v1.7m.6-2v2m1.2-.8v.8m.6-2.1v2.1m.6-1.5v1.5m1.8-2.1v2.1m.6-1.3v1.3m.6-1v1m.6-2.5v2.5m.6-1.5v1.5m27.7-1v1m1.9-1.2v1.2m9.4-.5v.5m.6-2v2m1.2-1.4v1.4m.6-1v1m.6-2.4v2.4m1.2-1.5v1.5m1.2-3.1v3.1m.6-1.3v1.3m.6-1.5v1.5m1.2-.8v.8m.6-.8v.8m.6-1.3v1.3m1.2-1.6v1.6m5.2-.4v.4m2.7-1.8v1.8m3.7-.5v.5m4.2-.6v.6m.6-.9v.9m2.4-1v1m.6-2.1v2.1m1.2-1.7v1.7m.6-.4v.4m1.2-1.2v1.2m1.2-.8v.8m.6-1.9v1.9m.6-1v1m-109.7 3.4v1.3m1-.6v.6m1.8-.9v.9m1.2-2.4v2.4m1.2-1.7v1.7m.6-1.8v1.8m1.2-1.7v1.7m.6-1v1m.6-3.2v3.2m.6-2.5v2.5m.6-.7v.7m2.4-.9v.9m.6-.5v.5m3.3-.5v.5m6.4-.8v.8m.6-.7v.7m4.7-1.9v1.9m1.2-.5v.5m2.3-1.3v1.3m.6-1.4v1.4m.6-1.7v1.7m1.2-1.3v1.3m.6-1.9v1.9m1.8-1.9v1.9m8.4-.4v.4m1.8-.6v.6m7.2-1v1m6.8-.6v.6m19.1-1.9v1.9m.6-1.1v1.1m3-.7v.7m.6-1.9v1.9m.6-1.5v1.5m.6-.7v.7m.6-1.2v1.2m.6-.9v.9m3.6-.3v.3m6.7-.8v.8m.6-.8v.8m2-1.9v1.9m1.2-1.2v1.2m1.2-.8v.8m2.8-2v2m1.8-2.5v2.5m.6-.8v.8m.6-.8v.8m.6-.7v.7m.6-2.5v2.5m-125 3.6v1.1m12.7-.4v.4m5.9-.7v.7m.6-1.2v1.2m1.2-.6v.6m1.2-2.3v2.3m1.2-2.2v2.2m1.2-.8v.8m1.2-.6v.6m.6-.4v.4m1.2-1.9v1.9m.6-1.1v1.1m.6-1v1m3.6-1v1m2.4-1.1v1.1m2.4-.9v.9m1.9-.9v.9m1.8-.6v.6m1.2-1.3v1.3m.6-1.1v1.1m.6-1.7v1.7m.6-.7v.7m4-2.7v2.7m1.8-2.8v2.8m.6-.9v.9m1.2-1v1m2.4-.9v.9m.6-2.7v2.7m.6-.8v.8m36.9-1.7v1.7m1.2-2.1v2.1m.6-2.7v2.7m2.4-1.5v1.5m.6-1v1m.6-1.9v1.9m.6-2.1v2.1m2.4-1.7v1.7m.6-1.7v1.7m1.2-3.1v3.1m1.2-1.9v1.9m.6-2.4v2.4m4.1-.4v.4m4.1-.7v.7m.6-2.7v2.7m.6-2.4v2.4m.6-1.3v1.3m3-1.1v1.1m1.8-3.3v3.3m1.2-.5v.5m.6-.4v.4m1.8-3.5v3.5m1.8-1.5v1.5m.6-2.3v2.3m1.2-1.5v1.5m1.2-2.2v2.2m.6-1.2v1.2m.6-.6v.6m-110.2 3.5v1.2m.6-2.8v2.8m.6-2.9v2.9m.6-1.5v1.5m.6-1.2v1.2m.6-2.1v2.1m.6-2.7v2.7m1.8-1.5v1.5m3-1.8v1.8m.6-2v2m1.2-2.5v2.5m1.2-1.8v1.8m.6-2.6v2.6m.6-1.3v1.3m.6-.7v.7m3.8-.6v.6m1.4-.6v.6m.6-1.1v1.1m1.2-1.6v1.6m4.5-1.1v1.1m1.2-1v1m1.2-3.7v3.7m2.4-2.9v2.9m1.2-1.5v1.5m.6-2.1v2.1m.6-1v1m.6-2.2v2.2m1.2-.7v.7m1.2-2.5v2.5m.6-1.1v1.1m1.2-.4v.4m.6-.4v.4m7.4-.9v.9m.9-1.2v1.2m2.7-1v1m23.9-.8v.8m1.2-2.2v2.2m1.8-.3v.3m1.2-2.7v2.7m1.2-1.5v1.5m.6-2.1v2.1m.6-.7v.7m1.8-1.9v1.9m.6-1.2v1.2m4.4-1.4v1.4m.6-2.1v2.1m.6-1.3v1.3m.6-1.1v1.1m.6-.7v.7m4.8-.4v.4m2.6-1.1v1.1m1.2-1v1m3.1-.9v.9m.6-1v1m.6-.6v.6m.6-1.9v1.9m1.8-1.7v1.7m2.4-1.3v1.3m-127.3 3.9v.8m20.9-2.2v2.2m.6-.7v.7m3-2v2m1.2-2.1v2.1m.6-1.7v1.7m.6-.7v.7m.6-.7v.7m1.2-1.2v1.2m.6-.9v.9m4.1-1.1v1.1m.6-2.7v2.7m.6-2.5v2.5m1.8-.5v.5m.6-.9v.9m.6-.9v.9m7.2-.6v.6m3.2-1.9v1.9m1.8-2.4v2.4m1.8-2.3v2.3m3-2.4v2.4m.6-1.1v1.1m1.2-.3v.3m8.6-.5v.5m19-1.1v1.1m8.9-1.3v1.3m2.4-2.5v2.5m.6-1.7v1.7m.6-1.9v1.9m1.2-2.3v2.3m.6-1.2v1.2m.6-1v1m.6-1.2v1.2m.6-3.1v3.1m.6-2v2m1.2-3v3m3.6-.5v.5m1.2-1.6v1.6m.6-1.2v1.2m5.5-2.1v2.1m.6-2.1v2.1m.6-1.3v1.3m.6-.5v.5m4.2-1v1m.6-.8v.8m.6-.6v.6m2.2-1.4v1.4m1.2-1.7v1.7m1.2-.4v.4m.6-3.7v3.7m.6-1.5v1.5m1.2-1.2v1.2m.6-2.2v2.2m.6-1.1v1.1m1.2-2.1v2.1m.6-2.3v2.3m.6-1v1m-123.8 4.4v.3m12-.6v.6m1.2-.3v.3m1.2-1v1m1.2-3v3m.6-1.6v1.6m.6-2.4v2.4m.6-1.1v1.1m.6-.5v.5m.6-1.1v1.1m1.2-2.4v2.4m1.2-1.1v1.1m.6-2v2m2.4-.6v.6m.6-1.3v1.3m1.8-1.2v1.2m.6-1.2v1.2m.6-.4v.4m3.8-1.6v1.6m1.2-2.2v2.2m1.2-.6v.6m1.8-1.1v1.1m1.2-.6v.6m1.2-.5v.5m3.6-2.3v2.3m.6-1.1v1.1m.6-2.7v2.7m.6-1.5v1.5m1.2-3.4v3.4m.6-2.6v2.6m.6-.5v.5m2.4-1.2v1.2m.6-2.4v2.4m1.8-.5v.5m18.3-1v1m15.9-1.3v1.3m.6-1.5v1.5m.6-.8v.8m1.2-2.5v2.5m.6-2.9v2.9m.6-.9v.9m.6-.6v.6m1.2-1v1m.6-.6v.6m.6-1.6v1.6m1.8-2.3v2.3m.6-2.2v2.2m1.8-1.3v1.3m.6-.8v.8m.6-1.7v1.7m1.2-2.1v2.1m3.1-.7v.7m.6-1.9v1.9m2.4-1v1m3.6-1v1m3-1.2v1.2m1.8-1v1m.6-2.2v2.2m1.8-1.7v1.7m1.8-1v1m.6-.9v.9m1.8-1.4v1.4m.6-1.8v1.8m.6-.4v.4m.6-.3v.3m-120.4 4.1v.6m6.2-.5v.5m4.5-1.1v1.1m2.4-2.3v2.3m.6-2.1v2.1m2.4-1.5v1.5m1.2-1v1m.6-1.5v1.5m.6-2.1v2.1m.6-3.9v3.9m.6-2.9v2.9m1.2-1.1v1.1m.6-1.4v1.4m1.8-1.9v1.9m.6-1.9v1.9m4.1-2v2m1.8-1.5v1.5m2.4-.6v.6m1.2-.8v.8m2.3-1.3v1.3m.6-1.3v1.3m2.1-1.2v1.2m2.4-3v3m1.8-1.3v1.3m.6-1.6v1.6m.6-1.4v1.4m.6-3.8v3.8m.6-1.9v1.9m.6-1.6v1.6m12.4-.4v.4m24.5-2.8v2.8m.6-2.5v2.5m.6-1.3v1.3m.6-1.2v1.2m1.2-1.7v1.7m3.1-1.6v1.6m.6-2.1v2.1m1.2-2.1v2.1m.6-3.1v3.1m.6-1v1m1.2-1.8v1.8m2.6-1.7v1.7m.6-2.4v2.4m3-1.6v1.6m1.2-1.6v1.6m4.8-.6v.6m6-1.5v1.5m.6-2.1v2.1m1.2-1.7v1.7m.6-3.6v3.6m.6-2.2v2.2m1.8-.5v.5m.6-1.7v1.7m1.8-3v3m-130.7 4.1v.6m3.2-.4v.4m11.5-1v1m1.1-.9v.9m5.4-1.6v1.6m1.8-1.3v1.3m1.2-2.7v2.7m.6-2.6v2.6m.6-1v1m1.9-1.7v1.7m.6-2.2v2.2m.6-1.1v1.1m.6-3.5v3.5m.6-3.2v3.2m.6-1.1v1.1m.6-1.1v1.1m.6-1.8v1.8m2.4-1.4v1.4m3.6-1.8v1.8m.6-2v2m.6-2.3v2.3m.6-1.4v1.4m.6-1v1m3.5-.9v.9m4-.4v.4m1.9-1v1m1-2.5v2.5m.6-1.5v1.5m.6-1.2v1.2m.6-4v4m.6-1.5v1.5m.6-2.5v2.5m.6-.5v.5m1.2-1v1m.6-1v1m.6-1.8v1.8m.6-2.2v2.2m9.6-.5v.5m9-1.2v1.2m2-.6v.6m15.5-.8v.8m1.2-3.8v3.8m.6-3.4v3.4m1.2-2v2m1.6-1.4v1.4m.6-2.9v2.9m.6-3.2v3.2m.6-1.1v1.1m.6-1.5v1.5m1.8-.4v.4m.6-1.4v1.4m1.2-.8v.8m.6-.9v.9m.6-1.3v1.3m2.8-.6v.6m2.5-.8v.8m1.2-2.8v2.8m1.2-2.2v2.2m.6-.4v.4m2.1-.7v.7m1.8-1.9v1.9m2.4-3.5v3.5m.6-1.9v1.9m1.9-2.2v2.2m.6-2.2v2.2m.6-1.7v1.7m.6-2.4v2.4m1.2-2.2v2.2m.6-2.6v2.6m1.2-2.3v2.3m.6-3.1v3.1m.6-2.7v2.7m-120.8 4v.7m7.5-1.2v1.2m5.2-1.5v1.5m.6-2.9v2.9m.6-2.4v2.4m.6-2.9v2.9m1.2-.4v.4m1.8-1.9v1.9m1.2-1.1v1.1m1.2-1.4v1.4m1.2-.6v.6m.6-2.3v2.3m.6-2.7v2.7m1.2-1.9v1.9m.6-1.3v1.3m.6-.9v.9m5.6-1.5v1.5m.6-2.3v2.3m.6-2.2v2.2m.6-1v1m2.5-1.1v1.1m.6-2.1v2.1m.6-2.1v2.1m1.2-.7v.7m.6-1v1m.6-2.9v2.9m.6-3.1v3.1m2.4-2v2m1.2-1.6v1.6m.6-2.3v2.3m1.8-2.7v2.7m.6-1.4v1.4m.6-1.7v1.7m.6-3.9v3.9m14.4-.9v.9m3.4-1.1v1.1m7.1-.4v.4m12.8-2.9v2.9m1.2-2.5v2.5m.6-1.4v1.4m1.5-2v2m.6-2.4v2.4m.6-2.2v2.2m.6-1.1v1.1m.6-2.1v2.1m.6-1.5v1.5m1.2-1.8v1.8m.6-1.9v1.9m.6-3v3m1.8-2.2v2.2m1.2-1.4v1.4m.6-2.1v2.1m5-.8v.8m.6-2.7v2.7m4.5-.9v.9m6.2-2.8v2.8m.6-3.1v3.1m1.2-3v3m.6-1v1m.6-.7v.7m.6-1.5v1.5m.6-1.9v1.9m.6-1.3v1.3m.6-2.1v2.1m.6-3.3v3.3m1.8-1.1v1.1m2.8-.7v.7m-113.6 4.1v.6m.6-2.8v2.8m.6-3.4v3.4m.6-1.7v1.7m2.4-2.7v2.7m.6-1.9v1.9m.6-1.6v1.6m.6-1.1v1.1m.6-1.6v1.6m1.2-3.2v3.2m1.2-3.8v3.8m1.2-.4v.4m1.2-1.7v1.7m.6-2.7v2.7m.6-1.2v1.2m.6-2.3v2.3m1.8-.7v.7m1.4-.5v.5m1.8-2.1v2.1m5.5-.6v.6m2.4-1.1v1.1m1.2-.9v.9m1.2-.9v.9m.6-2v2m.6-3.7v3.7m1.8-1.4v1.4m.6-.5v.5m2.4-3.7v3.7m1.2-2.5v2.5m.6-2.2v2.2m25.4-.4v.4m6.4-.3v.3m5.9-2.1v2.1m.6-2.9v2.9m.6-3.5v3.5m1.2-3.1v3.1m.6-2.4v2.4m.6-2v2m.6-1.7v1.7m.6-2.5v2.5m1.8-2.2v2.2m2.4-1.1v1.1m.6-.9v.9m1.6-.8v.8m1-1.6v1.6m.6-1.4v1.4m.6-2.5v2.5m.6-1.4v1.4m3-.6v.6m.6-1.2v1.2m.6-2.4v2.4m.6-3.2v3.2m1.2-.7v.7m1.2-1.3v1.3m.6-.5v.5m.6-.4v.4m1.2-2v2m.6-2.1v2.1m.6-1.4v1.4m3.7-2.6v2.6m.6-2.6v2.6m.6-1v1m.6-3v3m.6-1.7v1.7m1.8-1.5v1.5m7.8-.6v.6m1.4-1.1v1.1m-141.3 3.5v1.2m20.8-1.1v1.1m.7-1.1v1.1m.6-1.3v1.3m2.6-.9v.9m.6-1.1v1.1m.6-2.6v2.6m.6-3.8v3.8m.6-2.1v2.1m.6-1.1v1.1m.6-1.9v1.9m.6-2v2m.6-1.4v1.4m.6-2.3v2.3m1.9-3v3m.6-1.7v1.7m2.3-2.2v2.2m3.3-1.9v1.9m1.8-.7v.7m3.8-2.8v2.8m.6-2.2v2.2m.6-2.3v2.3m2.4-.6v.6m.6-.7v.7m.6-1.2v1.2m1.2-.8v.8m3.9-1.6v1.6m.6-1.7v1.7m.6-2.1v2.1m.6-1.5v1.5m.6-1.7v1.7m.6-1v1m.6-2.2v2.2m.6-1.3v1.3m.6-1.2v1.2m28-.9v.9m8.2-1.2v1.2m1.5-2v2m.6-1.7v1.7m.6-2.3v2.3m1.8-1.7v1.7m.6-1v1m.6-1.8v1.8m2.7-.9v.9m.6-3.8v3.8m2.4-1.9v1.9m1.8-1.5v1.5m2.6-.5v.5m.6-.7v.7m.6-1.2v1.2m.6-.7v.7m1.2-.6v.6m1.8-.8v.8m2.2-.6v.6m.6-.4v.4m.6-.9v.9m2-1v1m.6-.5v.5m2.1-1.7v1.7m.6-2v2m.6-1.1v1.1m.6-2.3v2.3m.6-2.4v2.4m.6-1.1v1.1m.6-.3v.3m2.4-1.1v1.1m.6-2.5v2.5m.6-1.8v1.8m.6-.9v.9m14.7-.6v.6m-133.5 3.8v.9m10.2-1v1m1.2-1.9v1.9m1.2-2.8v2.8m.6-2.1v2.1m1.2-1.9v1.9m1.8-.5v.5m.8-.7v.7m.6-2.8v2.8m1.2-1.5v1.5m.6-2.1v2.1m.6-1.1v1.1m1.8-1v1m1.2-.5v.5m2.1-1.3v1.3m1.2-.5v.5m1.8-1.5v1.5m.6-1.7v1.7m.6-.8v.8m3.1-1v1m3-1.9v1.9m.6-.7v.7m2.2-2.6v2.6m.6-2.5v2.5m.6-2.7v2.7m2.7-1v1m1.2-2.2v2.2m.6-3.3v3.3m.6-2.8v2.8m1.8-1.3v1.3m34.8-.3v.3m2.6-.8v.8m2.4-2.5v2.5m.6-2.8v2.8m.6-1.2v1.2m.6-1.3v1.3m.6-2.4v2.4m1.8-2.2v2.2m.6-2v2m1.2-1.6v1.6m.6-2.7v2.7m.6-2.1v2.1m1.8-.9v.9m.6-2.3v2.3m2-1.3v1.3m.6-1.6v1.6m1.2-.8v.8m.6-.5v.5m1.7-2v2m.6-3.2v3.2m.6-.6v.6m2.5-2.3v2.3m.6-1.9v1.9m3-1.6v1.6m3-3.2v3.2m.6-2.7v2.7m1.2-.9v.9m.6-2.5v2.5m.6-2.7v2.7m2-4v4m.6-2.9v2.9m7.1-1v1m2-1v1m7.7-1v1m-146.1 4.4v.3m12-1.2v1.2m1.1-1v1m7.1-.9v.9m1.8-1.1v1.1m.6-1v1m1.1-2.6v2.6m.6-2v2m1.2-.7v.7m.6-2.3v2.3m.6-1.2v1.2m1.2-.8v.8m.6-3.4v3.4m.6-2v2m1.8-2.8v2.8m3-1.3v1.3m1.8-.9v.9m.6-1.5v1.5m.6-2.5v2.5m3.1-2.6v2.6m.6-1.5v1.5m2.6-1.5v1.5m.6-2.4v2.4m2.7-.3v.3m.6-2.1v2.1m1.8-2.5v2.5m.6-2v2m.6-2.3v2.3m.6-2.5v2.5m.6-.9v.9m1.2-2.3v2.3m.6-2.3v2.3m2.4-1.9v1.9m35.8-.8v.8m3.6-1.6v1.6m.6-2.4v2.4m.6-2.9v2.9m.6-1.6v1.6m.6-.8v.8m.6-1.2v1.2m1.2-3.1v3.1m.6-2.5v2.5m4.2-1v1m.6-1.9v1.9m.6-1.2v1.2m.6-1.7v1.7m4.2-.7v.7m.6-2v2m.6-1.7v1.7m1.2-1.2v1.2m2.4-1v1m.6-1.8v1.8m1.2-.7v.7m2.5-1.2v1.2m4.1-2.3v2.3m.6-1.9v1.9m.6-1.3v1.3m1.2-1.8v1.8m.6-2.7v2.7m.6-2.1v2.1m1.2-2.1v2.1m1.2-1.7v1.7m.6-1.3v1.3m-127.8 4v.7m2.7-.9v.9m4.2-.9v.9m10.4-.8v.8m.6-2v2m1.2-.9v.9m.6-2.1v2.1m.6-2.1v2.1m1.2-1.4v1.4m.6-1.1v1.1m1.2-2.8v2.8m.6-2.8v2.8m.6-1.9v1.9m1.2-2v2m.6-1.3v1.3m.6-.8v.8m1.2-.9v.9m.6-.9v.9m.6-1.3v1.3m.6-1.7v1.7m.6-1.2v1.2m.6-2.4v2.4m4.2-1.7v1.7m1.2-1.6v1.6m1.8-.7v.7m1.2-2.1v2.1m1.2-1.4v1.4m2.8-1.2v1.2m4.2-1.8v1.8m2.4-2v2m.6-3v3m.6-3.7v3.7m.6-3.5v3.5m1.2-2.5v2.5m.6-2.6v2.6m4.2-1.1v1.1m16.2-.6v.6m16.1-2.1v2.1m3-1.6v1.6m.6-1.9v1.9m.6-1.4v1.4m.6-2.8v2.8m1.8-1.8v1.8m.6-2.4v2.4m.6-1.7v1.7m.6-1.3v1.3m.6-1.8v1.8m1.2-1.1v1.1m1.2-1.4v1.4m.6-.5v.5m2.4-1v1m.6-1.3v1.3m5-.5v.5m.6-.4v.4m2.4-1.9v1.9m.6-3.5v3.5m.6-1.8v1.8m.6-.5v.5m2-2.2v2.2m1.2-1.2v1.2m.8-1.6v1.6m.6-2v2m1.2-1.4v1.4m.6-2v2m-122.9 4.2v.5m12.2-.4v.4m8.2-1.6v1.6m.6-1.7v1.7m1.2-1.7v1.7m2.4-1.3v1.3m.6-2v2m2.4-2v2m.6-1.3v1.3m1.8-.7v.7m1.2-1.5v1.5m2.4-1.3v1.3m.6-1.1v1.1m1.8-.6v.6m3.6-.9v.9m1-.8v.8m3.6-1.6v1.6m.6-2v2m2-1.7v1.7m.6-1.6v1.6m.6-.6v.6m1.8-3.2v3.2m.6-1.1v1.1m1.8-.9v.9m26.2-.3v.3m12.1-1.7v1.7m.6-2.7v2.7m.6-2v2m.6-2.2v2.2m.6-2.8v2.8m.6-2.4v2.4m1.2-1.7v1.7m.6-1.8v1.8m.6-.4v.4m1.2-2.4v2.4m.6-1.4v1.4m3-1v1m3.5-1v1m.6-1.8v1.8m.6-1.4v1.4m2.4-.9v.9m.6-1.8v1.8m.6-1.6v1.6m1.8-1.5v1.5m.6-1.4v1.4m2.6-2v2m.6-2.4v2.4m.6-2.6v2.6m2.4-1.9v1.9m1.8-2.2v2.2m1.2-2.3v2.3m.6-1v1m1.7-2v2m.6-1.4v1.4m.6-2.2v2.2m.6-2.7v2.7m.6-.4v.4m-123.7 4.3v.4m7.2-.4v.4m7.5-.8v.8m.6-1.4v1.4m.6-1.6v1.6m.6-1.9v1.9m1.2-2.5v2.5m1.8-3.4v3.4m.6-3.5v3.5m1.2-1.3v1.3m.6-1.7v1.7m3-1v1m.6-1.1v1.1m1.2-1.1v1.1m2.2-1.1v1.1m.6-3.2v3.2m.6-2.5v2.5m.6-1.5v1.5m3.6-.5v.5m1.5-2.3v2.3m.6-1.2v1.2m1.8-.4v.4m1.2-3.4v3.4m3-1.4v1.4m.6-.5v.5m.6-2.2v2.2m.6-1.2v1.2m.6-.9v.9m.6-2.6v2.6m.6-.7v.7m1.5-2v2m1.8-2.2v2.2m1.2-1.1v1.1m8.8-1.1v1.1m4-.4v.4m18.7-.9v.9m4.2-2.9v2.9m.6-2.5v2.5m1.2-3.3v3.3m.6-2.4v2.4m.6-1.6v1.6m5.7-3.4v3.4m.6-1.5v1.5m.6-3.6v3.6m.6-2.4v2.4m.6-1.1v1.1m2.2-1.8v1.8m.6-2v2m1.2-.6v.6m3.6-1.7v1.7m3.2-1.2v1.2m1.8-.8v.8m.6-.7v.7m1.2-.7v.7m.6-1.5v1.5m.6-2.1v2.1m.6-1.9v1.9m.6-3.5v3.5m.6-.7v.7m.6-1.4v1.4m1.5-1.3v1.3m.6-3.7v3.7m.6-2v2m.6-2.1v2.1m1.2-1.5v1.5m1.2-2v2m.6-2.6v2.6m.6-1.5v1.5m6.4-.3v.3m-125.1 4.2v.5m8.5-1.2v1.2m.6-3v3m.6-2.8v2.8m.6-1.7v1.7m.6-2.5v2.5m1.8-2.3v2.3m.6-.7v.7m.6-.9v.9m.6-2.1v2.1m.6-2.1v2.1m1.2-1.1v1.1m1.3-3.8v3.8m.6-1.7v1.7m.6-3v3m.6-2.2v2.2m.6-1.8v1.8m2.6-1.6v1.6m1.8-.5v.5m1.2-2.1v2.1m1.2-.3v.3m5.6-1.3v1.3m2.3-.9v.9m.6-2.5v2.5m.6-1.3v1.3m1.2-2.9v2.9m3-3v3m1.8-2.2v2.2m2.4-1.9v1.9m.6-1.7v1.7m.6-1.8v1.8m18.7-1.1v1.1m15.4-1v1m.6-1.9v1.9m1.2-1.8v1.8m1.2-3.8v3.8m.6-1.4v1.4m.6-2.8v2.8m.6-2.3v2.3m1.2-3v3m1.2-2.3v2.3m.6-1.7v1.7m.6-2.5v2.5m.6-1.8v1.8m.6-1.3v1.3m1.2-3v3m.6-1.2v1.2m1.2-1.4v1.4m.6-2.8v2.8m.6-1.8v1.8m1.2-1.7v1.7m.6-1.3v1.3m.6-1.5v1.5m.6-.4v.4m6.6-1.5v1.5m.6-1.6v1.6m.6-.7v.7m1.2-.7v.7m.6-1.6v1.6m.6-1.5v1.5m3-2.3v2.3m.6-1.8v1.8m1.8-2.9v2.9m1.2-3.9v3.9m2.4-1.2v1.2m16.2-.5v.5m-138.1 4.2v.5m12.7-3v3m.6-2v2m.6-.9v.9m1.2-2.3v2.3m.6-1.6v1.6m.6-4.1v4.1m.6-2v2m1.2-2.8v2.8m.6-2.3v2.3m.6-1.5v1.5m.6-2.7v2.7m.6-2.9v2.9m.6-2.8v2.8m1.2-1.8v1.8m.6-1.8v1.8m1.8-1.6v1.6m.6-2v2m2.4-1.1v1.1m3.8-.6v.6m.6-.6v.6m3.3-.9v.9m1.8-.6v.6m1.2-.8v.8m.6-1.4v1.4m.6-2.2v2.2m.6-1.2v1.2m1.2-2v2m.6-1.5v1.5m.6-1.8v1.8m.6-1.2v1.2m1.2-1.4v1.4m.6-2.5v2.5m.6-4v4m.6-2v2m1.2-1.6v1.6m21.3-1.2v1.2m16.3-1.9v1.9m1.2-1.5v1.5m1.2-2v2m.6-2.4v2.4m.6-1.2v1.2m1.2-1.5v1.5m.6-1.9v1.9m1.8-2.7v2.7m.6-1.4v1.4m.6-2.1v2.1m.6-3.3v3.3m.6-2.3v2.3m3.9-1.3v1.3m2.1-1.8v1.8m1.2-.3v.3m4.2-.3v.3m2.9-1v1m.6-1.7v1.7m1.2-1.3v1.3m1.2-1.9v1.9m.6-3.8v3.8m.6-1.6v1.6m.6-1.9v1.9m.6-1.1v1.1m2.4-1.3v1.3m.6-.6v.6m22-1.1v1.1m2.2-.8v.8m-130 2.1v2.6m.6-1.3v1.3m1.2-.4v.4m.6-2.8v2.8m.6-2.9v2.9m.6-1.9v1.9m.6-1.4v1.4m.6-1.3v1.3m.6-.8v.8m.6-2v2m.6-2.3v2.3m.6-3.1v3.1m.6-1.6v1.6m.6-2.1v2.1m1.2-1v1m1.2-1.2v1.2m.8-.7v.7m3.1-1.2v1.2m1.8-.4v.4m2.8-.8v.8m.6-3.1v3.1m3.3-1.3v1.3m.6-2.3v2.3m1.2-1.3v1.3m1.2-1.3v1.3m.6-2v2m.6-3.9v3.9m.6-1.8v1.8m.6-1.9v1.9m.6-1.6v1.6m.6-.4v.4m2.4-.8v.8m1.2-2.5v2.5m.6-2.3v2.3m7.7-.8v.8m1.2-1.1v1.1m13.5-.9v.9m14.9-.8v.8m.6-2.1v2.1m.6-.8v.8m1.2-1.3v1.3m.6-1.5v1.5m.6-1.6v1.6m.6-2v2m.6-3.3v3.3m.6-1.8v1.8m1.2-3.4v3.4m1.2-1.1v1.1m1.8-1v1m1.2-.5v.5m1.8-1.2v1.2m2.5-1.1v1.1m1.2-.7v.7m1.2-2.5v2.5m.6-1.2v1.2m.6-1.1v1.1m1.8-.7v.7m1.8-1v1m.6-1.1v1.1m.6-1.3v1.3m1.2-1.2v1.2m1.6-1.8v1.8m2.4-2.3v2.3m2.4-2.8v2.8m2.3-1.4v1.4m.6-2.1v2.1m.6-2.8v2.8m1.2-3.2v3.2m3.6-.6v.6m4.1-1.2v1.2m-119.3 3.8v.9m2.7-1.6v1.6m.6-1.4v1.4m1.8-2.7v2.7m1.8-2.1v2.1m1.2-2.1v2.1m.6-2.3v2.3m2.4-2.1v2.1m.6-2v2m1.8-1.6v1.6m.6-1.2v1.2m2.9-2v2m.6-2v2m1.8-1.6v1.6m1.2-.6v.6m1.8-.6v.6m3-1.5v1.5m.6-.7v.7m2.1-3.2v3.2m1.2-1.2v1.2m.6-1.7v1.7m.6-2v2m.6-2.1v2.1m1.8-3.2v3.2m.6-1.1v1.1m1.3-.6v.6m.8-1v1m.6-2.8v2.8m.6-2.8v2.8m.6-1.4v1.4m.6-.6v.6m3.7-1.2v1.2m19.4-.4v.4m14.3-1.8v1.8m.6-.9v.9m.6-1.3v1.3m.6-2v2m.6-2.8v2.8m.6-2.1v2.1m.6-1.6v1.6m.6-1.5v1.5m1.2-3.3v3.3m1.2-.6v.6m1.2-1.9v1.9m5.8-.7v.7m.6-1.6v1.6m2.6-1.3v1.3m.8-.6v.6m.6-1.5v1.5m1.2-.5v.5m.6-.9v.9m.6-1.5v1.5m.6-1v1m2-.3v.3m1.2-2.3v2.3m.6-.7v.7m4.2-1.8v1.8m.6-.7v.7m.6-2.6v2.6m.6-1.2v1.2m1.8-1.4v1.4m.6-2.9v2.9m13.3-.8v.8m3-.4v.4m9.9-.8v.8m-134.1 3.3v1.4m.6-1.6v1.6m.6-1.5v1.5m1.8-2.5v2.5m.6-3.3v3.3m.6-1.3v1.3m.6-1.4v1.4m1.2-2v2m.6-1.8v1.8m2.4-2.4v2.4m2.7-1v1m1.2-.9v.9m1.2-1.3v1.3m.6-.9v.9m.6-1.6v1.6m4.4-.6v.6m.6-.4v.4m.6-.6v.6m.6-1.7v1.7m.6-1v1m2.6-1.5v1.5m1.2-.7v.7m3.3-1.2v1.2m.6-3.3v3.3m1.2-3.2v3.2m2.5-1.8v1.8m.6-2.7v2.7m.6-2.4v2.4m.6-2.2v2.2m.6-2.4v2.4m.6-1.3v1.3m.6-.6v.6m24.2-1.2v1.2m10.5-2.8v2.8m1.2-2.2v2.2m.6-1v1m.6-2.6v2.6m.6-1v1m.6-2v2m.6-1.6v1.6m1.2-.3v.3m.6-2v2m1.2-3.6v3.6m2.1-.5v.5m1.2-2.2v2.2m.6-1.1v1.1m.6-1.3v1.3m.6-1v1m.6-.8v.8m3.1-.6v.6m.6-2.5v2.5m.6-.9v.9m1.2-.4v.4m1.2-1.7v1.7m2.4-2.3v2.3m1.2-.9v.9m2.4-1.7v1.7m1.2-1.2v1.2m.6-1.1v1.1m.6-3.1v3.1m1.8-.5v.5m.6-1.2v1.2m.6-1.3v1.3m.6-1.7v1.7m1.2-1.9v1.9m.6-1.8v1.8m.6-2.1v2.1m.6-2.5v2.5m.6-2.7v2.7m-109.2 2.3v2.4m.6-3.6v3.6m1.2-1.9v1.9m.6-3.2v3.2m2.4-1.8v1.8m.6-.4v.4m1.2-1.2v1.2m.6-2.6v2.6m.6-2.6v2.6m2.4-1.8v1.8m.6-1.5v1.5m1.2-1.2v1.2m1.8-.9v.9m3.1-1.3v1.3m1.8-.8v.8m1.8-.8v.8m1.2-2.1v2.1m.6-1.6v1.6m.6-1.5v1.5m.6-.9v.9m2.6-2.7v2.7m.6-2.1v2.1m1.2-1.9v1.9m.6-2.5v2.5m.6-2.2v2.2m1.2-.8v.8m.6-1v1m.6-2v2m.6-1v1m1.2-3.9v3.9m1.2-2.7v2.7m.6-3.2v3.2m.6-1.2v1.2m5.9-1v1m6.2-.8v.8m25.7-2.6v2.6m1.2-1.6v1.6m2.4-2.8v2.8m.6-2.7v2.7m.6-1.5v1.5m.6-2.3v2.3m.6-1.1v1.1m.6-2.6v2.6m3-1.4v1.4m3.3-1.3v1.3m.6-1.8v1.8m.6-.7v.7m1.2-1.1v1.1m1.2-2.4v2.4m1.8-1v1m.6-2.4v2.4m5.4-1.4v1.4m2.7-1.9v1.9m.6-3.2v3.2m1.2-.4v.4m.6-.5v.5m.6-1.4v1.4m.6-2.4v2.4m.6-1.1v1.1m.6-1.9v1.9m1.8-2.4v2.4m1.2-.9v.9m5.9-.3v.3m1.2-1.3v1.3m-115.5 2.8v1.9m1.8-3v3m2.4-2.4v2.4m2.4-1.7v1.7m6.3-1v1m2.4-1.8v1.8m.6-1.6v1.6m.6-1.1v1.1m1.8-1v1m.6-1.4v1.4m.6-.9v.9m1.2-.5v.5m2.6-1.9v1.9m.6-1.4v1.4m2.6-1.6v1.6m.6-2.5v2.5m.6-3.2v3.2m1.2-1.6v1.6m1.8-3.7v3.7m1.2-2.4v2.4m.6-2v2m.6-1.6v1.6m.6-1.5v1.5m7.1-1v1m15.2-.9v.9m16.9-1.6v1.6m.6-2.5v2.5m1.2-.4v.4m.6-1.2v1.2m.6-3.7v3.7m.6-1.7v1.7m.6-1.9v1.9m.6-1.7v1.7m.6-1.2v1.2m2.4-3.5v3.5m1.2-1.1v1.1m.6-1.9v1.9m.6-1.1v1.1m.6-.4v.4m.6-.6v.6m1.2-1v1m.6-.9v.9m6-1.2v1.2m.6-1.1v1.1m6.7-1.7v1.7m.6-2.1v2.1m.6-2v2m.6-1.9v1.9m1.2-3.8v3.8m.6-2.2v2.2m-105.1 2.7v2m.6-2v2m.6-2v2m.6-1.3v1.3m.6-1.4v1.4m.6-.6v.6m.6-1v1m1.2-2.7v2.7m.6-1.8v1.8m.6-2.7v2.7m2.1-1.8v1.8m.6-2.3v2.3m.6-2.6v2.6m2.4-1.2v1.2m2.4-.7v.7m.6-.5v.5m1.2-2v2m.6-1.3v1.3m4-1.6v1.6m1.2-1.1v1.1m3.6-.8v.8m3.3-2.2v2.2m1.2-1.8v1.8m1.2-2v2m1.2-2.4v2.4m.6-2.2v2.2"/>
<path id="a1" transform="scale(1.22833,1)" d="M0 4.4v-1l1 .7 1-.9 1-.8 1 1 1 .6 1-1.4 1 1.5 1-.5 1-.3 1-.6 1 0 1 .5 1 .9 1-.7 1-1.4 1 1.5 1 .6 1-.9 1 .1 1 .6 1-.4 1-1.3 1-.5 1 1.2 1 1.2 1-.2 1 .2 1-1.7 1 .9 1-.5 1 .5 1-.4 1-1.9 1 .9 1-1.4 1 1.1 1 .6 1-1.7 1 .9 1-.9 1 1.4 1-.2 1-.2 1-1 1 1.3 1-.2 1 .3 1 .7 1-1.2 1 .2 1-.4 1-.1 1-.6 1 .9 1-.1 1 .3 1-.5 1 0 1 1.2 1-.2 1 1.7 1 .3 1 0 1 0 1-.7 1-1.5 1 .8 1 .6 1 .6 1 .2 1-1.2 1 1.2 1-1 1 .8 1-.8 1 1 1 0 1 0 1 0 1-.5 1 .5 1-.3 1-.8 1-.2 1 0 1 .9 1-1.4 1 .9 1-.3 1-.3 1-.4 1-1.4 1 .3 1-.2 1-.1 1 1.2 1-1.1 1 .4 1-.8 1 .8 1 .3 1 .9 1-1.7 1 .3 1 0 1 .7 1-.4 1-.1 1-.8 1 1.1 1 .1 1-.8 1 1 1 .1 1-1.2 1 0 1 .5 1 .5 1-.6 1 1.1V4.4zM0 9.1v-2.3l1 1.7 1 .3 1 0 1-.2 1-.5 1-1.5 1 .8 1 .1 1 .5 1 .8 1-1.2 1 1.2 1-1.4 1 .9 1-.5 1 1 1 0 1 0 1 0 1-.5 1 .5 1-.3 1-.8 1-.2 1 0 1 .9 1-1.4 1 .9 1-.8 1 .2 1-.4 1-1.4 1 .3 1-.2 1-.1 1 1.2 1-1.1 1 .4 1-.8 1 .8 1 .3 1 .9 1-1.7 1-.2 1 .5 1 .7 1-.7 1 .2 1-.5 1 .8 1 .1 1-.8 1 .6 1 .5 1-1.2 1 0 1 .4 1 0 1 0 1 2.4 1 .5 1-1.2 1-.1 1 .8 1-.5 1 .1 1 .9 1-.7 1 .6 1-.3 1 .2 1 .2 1 0 1 0 1-.5 1-1 1 .2 1 .8 1-1 1 .9 1 .1 1 .2 1-1.1 1-.4 1 1.8 1-1 1 .9 1-1.6 1 .3 1-.4 1 .5 1-.5 1 .2 1-.5 1 .1 1-.7 1 .6 1-1.3 1 1.4 1-.7 1-.3 1 1 1-.2 1-.8 1-.4 1 .8 1-.1 1-.9 1 .4 1-.4 1 .3 1 1.1 1 0 1-.6 1 .2 1 0 1 .9 1 .6 1-1 1 2.1V9.1zM0 13.8v-.8l1 .5 1-1.2 1 .3 1 .9 1-1 1 .1 1 .9 1-1.3 1 1.3 1-.4 1 .2 1 .2 1 0 1-.1 1-.4 1-1 1 .2 1 .8 1-.3 1 .2 1 .1 1 .2 1-1.1 1-.4 1 1.8 1-1 1 .9 1-1.6 1 .4 1-.5 1 .5 1-.5 1 .2 1-.5 1 .1 1-.7 1 .6 1-1.3 1 .6 1 .1 1-.3 1 1 1-.2 1-.8 1-.4 1 .8 1 .3 1-1.3 1 .4 1-.4 1 .3 1 1.1 1 1 1-1.6 1 .2 1 0 1 1.3 1-1 1 .2 1 2.1 1 0 1 0 1-.7 1 .3 1 .1 1-.7 1 .4 1-.1 1 .2 1 .5 1-.6 1 .6 1-.2 1-1.4 1 1.5 1-.3 1-.8 1 .6 1 .4 1 .2 1-1.5 1 .6 1-.8 1 1.4 1-1.2 1 1 1 .5 1-.9 1-.9 1-.4 1 0 1-.7 1 1.1 1-.3 1 .1 1-1.1 1 .5 1 .6 1-.1 1-.2 1-.9 1-.4 1 .3 1 .7 1-.1 1 1.4 1-2.3 1 0 1 1.1 1-1.1 1 1.3 1-.4 1 .1 1-1 1 .5 1-.1 1 .7 1-.7 1 2 1-.3V13.8zM0 18.4v-.3l1 0 1 0 1-.2 1-.2 1 .1 1-.7 1 .4 1 .6 1-.5 1 .5 1-.6 1 .6 1-.5 1-1.1 1 1.5 1-.3 1-.8 1 .6 1 .4 1 .2 1-1.5 1 .6 1-.8 1 1.4 1-1.2 1 1 1 .5 1-.9 1-.9 1-.4 1 0 1-.7 1 1.1 1-.3 1 .1 1-1.1 1 .5 1 .6 1-.1 1-.2 1-.9 1-.4 1 .3 1 .7 1-.1 1 1.4 1-1.6 1-.7 1 1.1 1-1.1 1 1.3 1-.4 1 .7 1-1.6 1 .5 1-.1 1-.3 1 1.3 1 1 1-.1 1 1.2 1-.8 1-.1 1 .1 1-.2 1 1.1 1-.6 1 0 1 .6 1-.5 1-.1 1-.4 1 1 1 0 1 0 1 0 1 0 1-.3 1 .3 1-.7 1-.3 1-.5 1 1.5 1-.1 1 .1 1 0 1 0 1-.3 1-.7 1 .2 1-1.7 1-.2 1 .1 1 .7 1-1.1 1 2 1-1.7 1 .8 1-.5 1-.8 1-.4 1 1.2 1-1.2 1 1.6 1-.6 1 0 1-.1 1-.6 1-.3 1 .6 1 .3 1 1.2 1 0 1-2.1 1 2.1 1-.8 1-.3 1-.3 1 1.5 1 .9V18.4zM0 23.1v-1.6l1 1.2 1-.8 1 .1 1-.1 1-.2 1 1.1 1-.6 1-.7 1 1.3 1-.5 1-.1 1-.4 1 .4 1 .6 1 0 1 0 1 0 1-.3 1 .3 1-.7 1-.3 1-.5 1 1.5 1-.1 1 .1 1 0 1 0 1-.3 1-.7 1 .2 1-1.7 1-.2 1 .1 1 .7 1-1.1 1 2 1-1.7 1 .8 1-.5 1-.8 1-.4 1 1.2 1-1.2 1 1.6 1-.6 1 0 1-.1 1-.6 1-.3 1 .6 1 .3 1 1.2 1-.3 1-1.8 1 2.1 1-.8 1-.3 1-.7 1 1.9 1 1.2 1-.7 1 .3 1-.3 1 .2 1-.1 1 .1 1-.5 1 .9 1 .2 1 .1 1-.3 1-.9 1-.1 1 .9 1-.6 1 1 1 0 1 0 1 0 1-1 1 1 1-1 1 1 1-.9 1 .7 1-.4 1 .6 1-1.4 1 1.4 1-1.3 1-.1 1-1.6 1-.2 1 .7 1 .4 1-1.5 1 1.3 1-1.3 1 1.6 1-.9 1 .7 1 .8 1-1.4 1 .5 1-1.3 1 .6 1 1.2 1-1.3 1 .6 1-.5 1-.4 1-.2 1 0 1 .8 1 .1 1 .1 1 1.1 1-.3 1 .7 1-.4V23.1zM0 27.9v-.5l1-.7 1 .3 1 .5 1-.6 1-.1 1 .1 1-.5 1 1.2 1-.1 1 .1 1-.3 1-.9 1 .1 1 .7 1-.6 1 1 1 0 1 0 1 0 1-1 1 1 1-1 1 1 1-.9 1 .7 1-.4 1 .6 1-1.4 1 1.4 1-1.3 1-.1 1-1.6 1-.2 1 .7 1 .4 1-1.5 1 1.3 1-1.3 1 1.6 1-.9 1 .7 1 .8 1-1.4 1 .5 1-1.3 1 .6 1 1.2 1-1.3 1 .6 1-.5 1-.4 1-.2 1 0 1 .8 1 .1 1 .1 1 1.1 1-.3 1 .7 1-1.6 1 .9 1-1.6 1 2.5 1-1.5 1-1.2 1 .5 1 .1 1 .1 1 2.3 1-2.1 1-.9 1 1.3 1 1.2 1-.1 1-1 1 .7 1-.3 1-.4 1 .6 1 .6 1-.1 1 .4 1-.8 1 .7 1-.6 1 .3 1-.4 1 .7 1-.7 1-.7 1 1.2 1-.8 1 1 1-.5 1 0 1-.2 1-.4 1-.3 1 1.2 1-.9 1 0 1-.2 1 1.4 1-.3 1-1.8 1 .2 1 .3 1-1.2 1 1.3 1-1.2 1 .8 1-.3 1 0 1-.7 1 0 1 .2 1 1.1 1-1.3 1 1.1 1-1.1V27.9zM0 32.5v-3l1 .9 1-1.6 1 2.5 1-1.5 1-1.2 1 .5 1 .1 1 .1 1 2.3 1-2.1 1-.9 1 1.3 1 1.2 1-.1 1-1 1 .7 1-.3 1-.4 1 .6 1 .6 1-.1 1 .4 1-.8 1 .7 1-.6 1 .3 1-.4 1 .7 1-.7 1-.7 1 1.2 1-.8 1 1 1-.5 1 0 1-.2 1-.4 1-.3 1 1.2 1-.9 1 0 1-.2 1 1.4 1-.3 1-1.8 1 .2 1 .3 1-1.2 1 1.3 1-1.2 1 .8 1-.3 1 0 1-.7 1 0 1 .2 1 1.1 1-1.3 1 1.1 1-.7 1 1.5 1-.3 1-.9 1 1.6 1-.2 1-.6 1-.5 1 0 1 .1 1 .6 1 1 1-1.1 1 .7 1-1.1 1 1.2 1-1.3 1 .7 1-.9 1 1.2 1-.9 1 .7 1 0 1-.1 1-.1 1 .8 1-.1 1 .4 1-.6 1 .2 1 .5 1-.2 1-1.4 1-.1 1 2.1 1-1.8 1-.3 1 .7 1 .1 1-.6 1 .3 1-1 1-.4 1 .3 1-.2 1-.1 1 .5 1-.4 1-.4 1 .6 1-.6 1 0 1 0 1 0 1 0 1 .6 1 1 1-1.2 1 .9 1-.4 1-.1V32.5zM0 37.2v-3.5l1 1.5 1-.3 1-.9 1 1.6 1-.2 1-.6 1-.5 1 0 1 .1 1 .6 1 1 1-1.1 1 .7 1-1.1 1 1.2 1-1.3 1 .7 1-.9 1 1.2 1-.9 1 .7 1 0 1-.1 1-.1 1 .8 1-.1 1 .4 1-.6 1 .2 1 .5 1-.2 1-1.4 1-.1 1 2.1 1-1.8 1-.3 1 .7 1 .1 1-.6 1 .3 1-1 1-.4 1 .3 1-.2 1-.1 1 .5 1-.4 1-.4 1 .6 1-.6 1 0 1 0 1 0 1 0 1 .6 1 1 1-1.2 1 .9 1-.4 1-.8 1 1.3 1 .1 1 0 1-.5 1 1.2 1-.4 1-.6 1 .7 1 .7 1-.4 1 .6 1-.8 1 .1 1 0 1 .1 1 1 1-1 1 .2 1-.5 1 .7 1 .2 1 .4 1 .2 1-.7 1-.2 1 .7 1 .4 1-.9 1 .1 1-.1 1-.7 1 1.5 1-1.2 1-.3 1-.1 1 .4 1-.5 1-1.2 1 2.6 1-2.1 1 .5 1-.6 1 .8 1-1.8 1 1.3 1 .1 1 .6 1-1.6 1 .8 1 .1 1-.5 1 1.2 1-.6 1-.5 1 .2 1 0 1-.5 1 .3 1 .6 1-.7V37.2zM0 42v-3.8l1 1.3 1 .1 1 0 1-.5 1 1.2 1-.4 1-.6 1 .7 1 .7 1-.4 1 .6 1-.8 1 .1 1 0 1 .1 1 1 1-1 1 .2 1-.5 1 .7 1 .2 1 .4 1 .2 1-.7 1-.2 1 .7 1 .4 1-.9 1 .1 1-.1 1-.7 1 1.5 1-1.2 1-.3 1-.1 1 .4 1-.5 1-1.2 1 2.6 1-2.1 1 .5 1-.6 1 .8 1-1.8 1 1.3 1 .1 1 .6 1-1.6 1 .8 1 .1 1-.5 1 1.2 1-.6 1-.5 1 .2 1 0 1-.5 1 .3 1 .6 1-1 1 .6 1 .3 1 1.2 1-.9 1-.3 1 .4 1 .3 1 .6 1-1.1 1-.3 1 2.2 1-2.6 1 1.7 1-1 1 .9 1 .3 1 .2 1 .4 1-1 1 1.1 1-1.3 1 .5 1-.1 1 .1 1-.5 1 .3 1 .8 1-1.5 1 0 1 .4 1-.7 1 .5 1-.9 1 1.5 1-.6 1 1.5 1-.7 1-.9 1 .8 1-.9 1-.2 1-1 1 .1 1-.4 1 .3 1 .3 1-.5 1 .2 1 .3 1 .9 1-.7 1-.9 1 0 1 1.5 1-.4 1 .7 1-.5 1 .3 1 .3 1-1V42zM0 46.6v-3.4l1 .6 1 .3 1 1.2 1-.9 1-.3 1 .4 1 .3 1 .6 1-1.1 1-.3 1 2.2 1-2.6 1 1.7 1-1 1 .9 1 .3 1 .2 1 .4 1-1 1 1.1 1-1.3 1 .5 1-.1 1 .1 1-.5 1 .3 1 .8 1-1.5 1 0 1 .4 1-.7 1 .5 1-.9 1 1.5 1-.6 1 1.5 1-.7 1-.9 1 .8 1-.9 1-.2 1-1 1 .1 1-.4 1 .3 1 .3 1-.5 1 .2 1 .3 1 .9 1-.7 1-.9 1 0 1 1.5 1-.4 1 .7 1-.5 1 .3 1 .3 1-.6 1 .3 1 0 1-.8 1 .4 1 0 1-.3 1 .6 1 .8 1-.1 1 .2 1 .4 1-1.1 1 .2 1-.3 1 .2 1 .6 1 0 1-.7 1 .6 1 1 1-2.2 1 1.5 1 .4 1-1.1 1 .1 1-.4 1-1.2 1 1.3 1-.5 1 .1 1-.5 1 .6 1-.3 1 .6 1-1.2 1 1.3 1 .2 1-1.2 1 .5 1-.8 1-.7 1 2.1 1-.7 1 0 1 1 1-1 1-.1 1-.5 1 .9 1-.5 1 .1 1-1.1 1 .8 1 .8 1 .8 1-.7 1 .3 1 .1 1-1 1 1.2V46.6zM0 51.4v-2.4l1 .3 1 0 1-.8 1 .4 1 0 1-.3 1 .6 1 .8 1-.1 1 .2 1 .4 1-1.1 1 .2 1-.3 1 .2 1 .6 1 0 1-.7 1 .6 1 1 1-2.2 1 1.5 1 .4 1-1.1 1 .1 1-.4 1-1.2 1 1.3 1-.5 1 .1 1-.5 1 .6 1-.3 1 .6 1-1.2 1 1.3 1 .2 1-1.2 1 .5 1-.8 1-.7 1 2.1 1-.7 1 0 1 1 1-1 1-.1 1-.5 1 .9 1-.5 1 .1 1-1.1 1 .8 1 .8 1 .8 1-.7 1 .3 1 .1 1-1 1 1.2 1-.6 1 1.4 1-1.2 1-.8 1 2.1 1-1.7 1 1.5 1-.5 1 0 1 .4 1 .4 1-1.6 1 .9 1 .3 1 .3 1-.4 1 .3 1 .3 1-.2 1-1.8 1 1 1 .3 1-.4 1-1.2 1 .8 1-.6 1 .6 1-.2 1-.1 1-.5 1-.3 1-.7 1 1.2 1-1.5 1 1.5 1-.4 1-.3 1-.2 1 0 1 .4 1-1 1 .7 1 1.1 1-.5 1 0 1-1.3 1 1.3 1-1 1 1.9 1-1.8 1 .9 1 .9 1-.8 1-.5 1 .2 1 .4 1 .1 1 .1 1 .3 1-.1V51.4zM0 56.1v-1.4l1-.6 1 1.4 1-1.2 1-.8 1 2.1 1-1.7 1 1.5 1-.5 1 0 1 .4 1 .4 1-1.6 1 .9 1 .3 1 .3 1-.4 1 .3 1 .3 1-.2 1-1.8 1 1 1 .3 1-.4 1-1.2 1 .8 1-.6 1 .6 1-.2 1-.1 1-.5 1-.3 1-.7 1 1.2 1-1.5 1 1.5 1-.4 1-.3 1-.2 1 0 1 .4 1-1 1 .7 1 1.1 1-.5 1 0 1-1.3 1 1.3 1-1 1 1.9 1-1.8 1 .9 1 .9 1-.8 1-.5 1 .2 1 .4 1 .1 1 .1 1 .3 1 .4 1-.3 1-.4 1 .6 1 0 1 .6 1-.5 1 .5 1 .6 1-.3 1-.9 1 1 1-1.5 1 .4 1 .5 1-.4 1 1.2 1-1.3 1-.7 1-.2 1 0 1 .1 1 .4 1 .1 1-.1 1-.1 1-1.5 1 1.8 1-1.1 1 1 1-.2 1-.2 1 .5 1-.4 1 .8 1-1.3 1 1.8 1-2.1 1 1.9 1-1.2 1-1.1 1 .7 1 .9 1-1.7 1 1.1 1-.4 1 .7 1 .8 1-1.2 1 1.2 1-2 1 3 1-1.4 1-1.1 1 .7 1-.5 1 .3 1 .8 1-.3 1 1.4 1-2V56.1zM0 60.8v-1.5l1-.3 1-.4 1 .6 1 0 1 .6 1-.5 1 .5 1 .6 1-.3 1-.9 1 1 1-1.5 1 .4 1 .5 1-.4 1 1.2 1-1.3 1-.7 1-.2 1 0 1 .1 1 .4 1 .1 1-.1 1-.1 1-1.5 1 1.8 1-1.1 1 1 1-.2 1-.2 1 .5 1-.4 1 .8 1-1.3 1 1.8 1-2.1 1 1.9 1-1.2 1-1.1 1 .7 1 .9 1-1.7 1 1.1 1-.4 1 .7 1 .8 1-1.2 1 1.2 1-2 1 3 1-1.4 1-1.1 1 .7 1-.5 1 .3 1 .8 1-.3 1 1.4 1-1.7 1 1.5 1-.5 1 .8 1-.5 1 .5 1 .1 1-.2 1-.1 1 .3 1-1.2 1 .5 1-1.1 1 1.4 1 .4 1-1.8 1 .4 1-.3 1 .7 1 0 1-.5 1 .3 1-.6 1-.6 1 .5 1-1.3 1 1.8 1-1.1 1-.3 1 .1 1 .4 1-1 1 1.2 1 .2 1-1.1 1-.6 1 .9 1 0 1 .6 1 .1 1-1.3 1 1.5 1-1.3 1 1.3 1-.4 1 .8 1-.8 1 1 1-1.2 1 .6 1 .4 1 0 1-.6 1 1.4 1-.3 1 .3 1-.9 1-.4 1 1.5 1-.7 1-.1V60.8zM0 65.5v-2.2l1 1.5 1-.5 1 .8 1-.5 1 .5 1 .1 1-.2 1-.1 1 .3 1-1.2 1 .5 1-1.1 1 1.4 1 .4 1-1.8 1 .4 1-.3 1 .7 1 0 1-.5 1 .3 1-.6 1-.6 1 .5 1-1.3 1 1.8 1-1.1 1-.3 1 .1 1 .4 1-1 1 1.2 1 .2 1-1.1 1-.6 1 .9 1 0 1 .6 1 .1 1-1.3 1 1.5 1-1.3 1 1.3 1-.4 1 .8 1-.8 1 1 1-1.2 1 .6 1 .4 1 0 1-.6 1 1.4 1-.3 1 .3 1-.9 1-.4 1 1.5 1-.7 1-.5 1 .5 1-.3 1 .2 1 0 1 .1 1 .7 1 .2 1-.4 1-.6 1-.4 1-.2 1 .3 1 1 1-1.1 1-.4 1 0 1 1.5 1-.9 1 .2 1 .2 1 0 1-.6 1 .2 1 .2 1 .6 1-2.1 1-.7 1 1.4 1-.9 1-.2 1 1.2 1-1.7 1 1.4 1-1.4 1 1.9 1-1.4 1 .7 1-1.2 1 .5 1 .6 1 1.1 1-.6 1 .1 1-.3 1 .2 1-.8 1 1.2 1 0 1-.8 1 1 1-1 1 1.7 1-.4 1 .2 1-.5 1-.9 1 1.5 1-1 1 .7 1 .4V65.5zM0 70.2v-1.9l1 .5 1-.3 1 .2 1 0 1 .1 1 .7 1 .2 1-.4 1-.6 1-.4 1-.2 1 .3 1 1 1-1.1 1-.4 1 0 1 1.5 1-.9 1 .2 1 .2 1 0 1-.6 1 .2 1 .2 1 .6 1-2.1 1-.7 1 1.4 1-.9 1-.2 1 1.2 1-1.7 1 1.4 1-1.4 1 1.9 1-1.4 1 .7 1-1.2 1 .5 1 .6 1 1.1 1-.6 1 .1 1-.3 1 .2 1-.8 1 1.2 1 0 1-.8 1 1 1-1 1 1.7 1-.4 1 .2 1-.5 1-.9 1 1.5 1-1 1 .7 1-.1 1 .4 1-.4 1-.1 1-.6 1 .8 1-.1 1 1 1-.5 1-.3 1 .2 1-.7 1 .5 1 .8 1-1 1 .6 1-.5 1 .9 1-1.2 1-.4 1 0 1 .7 1-.4 1 .6 1-1.1 1-.7 1 1.1 1-.3 1-.3 1-.2 1-.8 1 .1 1-.5 1 2.9 1-1.3 1-.4 1-.7 1 1.3 1-1.6 1 1 1-.7 1 .8 1-.1 1 .3 1-.4 1-.7 1 .1 1 .4 1 1.1 1-.8 1 1.7 1-1.7 1 .4 1 1.5 1 .2 1-.6 1 .5 1-.5 1 .2 1-.4 1 .1V70.2zM0 74.9v-1.5l1 .4 1-.4 1-.1 1-.6 1 .8 1-.1 1 1 1-.5 1-.3 1 .2 1-.7 1 .5 1 .8 1-1 1 .6 1-.5 1 .9 1-1.2 1-.4 1 0 1 .7 1-.4 1 .6 1-1.1 1-.7 1 1.1 1-.3 1-.3 1-.2 1-.8 1 .1 1-.5 1 2.9 1-1.3 1-.4 1-.7 1 1.3 1-1.6 1 1 1-.7 1 .8 1-.1 1 .3 1-.4 1-.7 1 .1 1 .4 1 1.1 1-.8 1 1.7 1-1.7 1 .4 1 1.5 1 .2 1-.6 1 .5 1-.5 1 .2 1-.4 1-.3 1 .1 1 0 1 1.2 1-1.2 1 .5 1-.6 1 .6 1-.4 1-.1 1-.7 1 1 1-.3 1 .3 1-.5 1-.2 1-.2 1-.1 1 .8 1-1.4 1 1.5 1-2.5 1 1 1-.1 1-.9 1 0 1 .6 1 .5 1 .5 1-.4 1 .1 1-1.3 1 0 1 .1 1-.1 1 0 1 .2 1-.2 1 .6 1-.5 1 .9 1-.5 1 1.5 1-.7 1-.2 1 .5 1 .2 1 .2 1-1.1 1-.2 1 1.1 1-.3 1 .6 1 .5 1-.4 1 0 1 1.1 1-1.4 1 1 1 .1 1-.1V74.9zM0 79.6v-1.7l1 .1 1 0 1 1.2 1-1.2 1 .5 1-.6 1 .6 1-.4 1-.1 1-.7 1 1 1-.3 1 .3 1-.5 1-.2 1-.2 1-.1 1 .8 1-1.4 1 1.5 1-2.5 1 1 1-.1 1-.9 1 0 1 .6 1 .5 1 .5 1-.4 1 .1 1-1.3 1 0 1 .1 1-.1 1 0 1 .2 1-.2 1 .6 1-.5 1 .9 1-.5 1 1.5 1-.7 1-.2 1 .5 1 .2 1 .2 1-1.1 1-.2 1 1.1 1-.3 1 .6 1 .5 1-.4 1 0 1 1.1 1-1.4 1 1 1 .1 1-.1 1 .2 1-.7 1 .4 1-.4 1 .4 1-.1 1 .6 1-.6 1 .1 1 .8 1-1.2 1-.4 1-.2 1-.1 1 1.1 1-1.4 1 1.3 1-.3 1-2.1 1 .7 1 1.6 1-2.3 1 .2 1 .4 1-.5 1-.4 1 .6 1 .3 1 .1 1 0 1-1 1 1.5 1-.8 1 .3 1-.2 1-.8 1 1.8 1 .5 1-1.8 1 .6 1 .3 1 .1 1 .1 1-.7 1 .8 1 .9 1-1 1-1.6 1 1.6 1 .9 1-1.6 1 1.1 1 .2 1-.2 1 .4 1-.8 1 1.4 1-.2 1 .2 1-.1V79.6zM0 84.3v-1l1 .2 1-.7 1 .4 1-.4 1 .4 1-.1 1 .6 1-.6 1 .1 1 .8 1-1.2 1-.4 1-.2 1-.1 1 1.1 1-1.4 1 1.3 1-.3 1-2.1 1 .7 1 1.6 1-2.3 1 .2 1 .4 1-.5 1-.4 1 .6 1 .3 1 .1 1 0 1-1 1 1.5 1-.8 1 .3 1-.2 1-.8 1 1.8 1 .5 1-1.8 1 .6 1 .3 1 .1 1 .1 1-.7 1 .8 1 .9 1-1 1-1.6 1 1.6 1 .9 1-1.6 1 1.1 1 .2 1-.2 1 .4 1-.8 1 1.4 1-.2 1 .2 1 .1 1-1.5 1-.6 1 1.5 1 .5 1-.6 1-1.4 1 1.8 1-.2 1 .7 1-.8 1 .2 1-1.3 1-.2 1 1.8 1-2.4 1 1.2 1-1.2 1 .7 1-1.3 1 1.2 1 .3 1 .3 1 .1 1-1.5 1 .5 1-.2 1 .3 1-.6 1-.3 1-.1 1 0 1 0 1 0 1 .9 1-.7 1 .4 1 .2 1 .4 1-1.2 1 .7 1 .4 1 .2 1 0 1-.1 1 .6 1 .3 1-1 1 .8 1-1.2 1 2.5 1-.8 1-.3 1 .1 1-1.4 1 2.7 1-1.5 1 .1 1-.2 1 .8 1 .3V84.3zM0 89v-.8l1-1.5 1-.6 1 1.5 1 .5 1-.6 1-1.4 1 1.8 1-.2 1 .7 1-.8 1 .2 1-1.3 1-.2 1 1.8 1-2.4 1 1.2 1-1.2 1 .7 1-1.3 1 1.2 1 .3 1 .3 1 .1 1-1.5 1 .5 1-.2 1 .3 1-.6 1-.3 1-.1 1 0 1 0 1 0 1 .9 1-.7 1 .4 1 .2 1 .4 1-1.2 1 .7 1 .4 1 .2 1 0 1-.1 1 .6 1 .3 1-1 1 .8 1-1.2 1 2.5 1-.8 1-.3 1 .1 1-1.4 1 2.7 1-1.5 1 .1 1-.2 1 .8 1 .2 1-.4 1-.4 1 1 1-.8 1-.5 1 .8 1-1.4 1 1 1-.1 1 .3 1-.6 1 .4 1-.6 1 0 1-.4 1 .4 1 0 1-.8 1-.1 1 1.4 1-1 1-.4 1 1.2 1-1.9 1 1.8 1-.7 1-.3 1 .1 1-.8 1-.1 1 1.1 1-.8 1-.3 1 1.7 1-1.2 1 .8 1-.2 1 .7 1 0 1-.5 1-.4 1 .7 1 .1 1-.4 1 1 1-.2 1 .4 1-.6 1 .4 1 1 1-.2 1-.2 1 .7 1-1.6 1 .8 1-.8 1 .1 1 1.2 1-1.7 1 1.7V89zM0 93.7v-1l1-.4 1-.4 1 1 1-.8 1-.5 1 .8 1-1.4 1 1 1-.1 1 .3 1-.6 1 .4 1-.6 1 0 1-.4 1 .4 1 0 1-.8 1-.1 1 1.4 1-1 1-.4 1 1.2 1-1.9 1 1.8 1-.7 1-.3 1 .1 1-.8 1-.1 1 1.1 1-.8 1-.3 1 1.7 1-1.2 1 .8 1-.2 1 .7 1 0 1-.5 1-.4 1 .7 1 .1 1-.4 1 1 1-.2 1 .4 1-.6 1 .4 1 1 1-.2 1-.2 1 .7 1-1.6 1 .8 1-.8 1 .1 1 1.2 1-1.7 1 1.7 1-.7 1 .9 1 .1 1-1.1 1 0 1 .3 1-.4 1-1.3 1 1.5 1-.8 1 .6 1-1.1 1 .7 1-1.9 1 2.2 1-1.7 1 .8 1-.2 1-.2 1-.1 1 1 1-.9 1 .2 1-.9 1 1.1 1 0 1-.9 1-.5 1 .5 1-.3 1 .3 1 .4 1-.1 1-.4 1 .6 1-.4 1 .4 1-.6 1 0 1 1.8 1-1 1 .2 1-.8 1 .5 1 1.2 1-.9 1 1.1 1-.3 1-.5 1-.6 1 .7 1 1 1-1 1 1.2 1-.6 1 .8 1-.5 1-.3 1 .9 1-.9V93.7zM0 98.4v-.6l1-.7 1 .9 1 .1 1-1.1 1 0 1 .3 1-.4 1-1.3 1 1.5 1-.8 1 .6 1-1.1 1 .7 1-1.9 1 2.2 1-1.7 1 .8 1-.2 1-.2 1-.1 1 1 1-.9 1 .2 1-.9 1 1.1 1 0 1-.9 1-.5 1 .5 1-.3 1 .3 1 .4 1-.1 1-.4 1 .6 1-.4 1 .4 1-.6 1 0 1 1.8 1-1 1 .2 1-.8 1 .5 1 1.2 1-.9 1 1.1 1-.3 1-.5 1-.6 1 .7 1 1 1-1 1 1.2 1-.6 1 .8 1-.5 1-.3 1 .9 1-1.1 1 .5 1-1.3 1 .2 1 1.2 1-.8 1-.9 1-.2 1 2.5 1-.7 1-.7 1-.9 1 1 1-.5 1-.3 1 .5 1 .3 1-1.7 1 1.1 1-.6 1 1.4 1-1.5 1 .7 1-.6 1 .1 1 1.4 1-.5 1-1 1 0 1 .3 1-.6 1-.2 1 .3 1 .1 1 .5 1-1.3 1 1 1 .9 1 .8 1-.7 1 0 1-.1 1 .8 1-.1 1-1.2 1-.2 1 .6 1-.3 1 1.1 1 .1 1-.2 1 .6 1-.5 1 0 1-1.8 1 .6 1 0 1 1.4 1-.2 1-.7 1 1V98.4zM0 103.1v-1.7l1 .5 1-1.3 1 .2 1 1.2 1-.8 1-.9 1-.2 1 2.5 1-.7 1-.7 1-.9 1 1 1-.5 1-.3 1 .5 1 .3 1-1.7 1 1.1 1-.6 1 1.4 1-1.5 1 .7 1-.6 1 .1 1 1.4 1-.5 1-1 1 0 1 .3 1-.6 1-.2 1 .3 1 .1 1 .5 1-1.3 1 1 1 .9 1 .8 1-.7 1 0 1-.1 1 .8 1-.1 1-1.2 1-.2 1 .6 1-.3 1 1.1 1 .1 1-.2 1 .6 1-.5 1 0 1-1.8 1 .6 1 0 1 1.4 1-.2 1-.7 1 .1 1 1.3 1-1.1 1 .8 1-.7 1 1.3 1-1.8 1 .3 1-.2 1 1.1 1-1.5 1 .9 1-.2 1-1.5 1 .8 1 .3 1-.3 1-1.5 1 1.6 1-.7 1 .3 1 .5 1-1.3 1 1 1 1.1 1-.2 1 .1 1-1.5 1 0 1-.5 1 .9 1-.5 1-.2 1 0 1-.5 1 2 1-2.1 1 1.8 1 .5 1-1.2 1 .5 1-.2 1 .4 1 1 1-1.8 1 1.9 1-.9 1 .1 1-.1 1 0 1 .3 1 1.1 1-.7 1 .4 1-.3 1-.4 1 .4 1-.7 1 1.5 1-.1 1-1.2V103.1zM0 107.8v-1.9l1 1.3 1-1.1 1 .8 1-.7 1 1.3 1-1.8 1 .3 1-.2 1 1.1 1-1.5 1 .9 1-.2 1-1.5 1 .8 1 .3 1-.3 1-1.5 1 1.6 1-.7 1 .3 1 .5 1-1.3 1 1 1 1.1 1-.2 1 .1 1-1.5 1 0 1-.5 1 .9 1-.5 1-.2 1 0 1-.5 1 2 1-2.1 1 1.8 1 .5 1-1.2 1 .5 1-.2 1 .4 1 1 1-1.8 1 1.9 1-.9 1 .1 1-.1 1 0 1 .3 1 1.1 1-.7 1 .4 1-.3 1-.4 1 .4 1-.7 1 1.5 1-.1 1-1.1 1-.9 1 1.5 1-.3 1-1 1 .8 1 .4 1-1.1 1 .3 1-.7 1 1.1 1-1.3 1-1.2 1 2.2 1-1 1-.7 1 1.4 1-.4 1-.9 1-.1 1 1.4 1-.6 1-1.3 1 .6 1 .3 1 0 1 .6 1-.4 1-.5 1 0 1 .8 1-.5 1 .3 1 .5 1-1.4 1 1.1 1-.6 1 .9 1 .3 1-.8 1 .2 1-.3 1 .9 1 .3 1 .2 1-.1 1-.4 1-.6 1 1.4 1 .3 1-.2 1 .4 1-1 1 .8 1 .1 1 .2 1-.9 1 0 1-1.3 1 1.6 1 .3V107.8zM0 112.5v-1.5l1-.9 1 1.5 1-.3 1-1 1 .8 1 .4 1-1.1 1 .3 1-.7 1 1.1 1-1.3 1-1.2 1 2.2 1-1 1-.7 1 1.4 1-.4 1-.9 1-.1 1 1.4 1-.6 1-1.3 1 .6 1 .3 1 0 1 .6 1-.4 1-.5 1 0 1 .8 1-.5 1 .3 1 .5 1-1.4 1 1.1 1-.6 1 .9 1 .3 1-.8 1 .2 1-.3 1 .9 1 .3 1 .2 1-.1 1-.4 1-.6 1 1.4 1 .3 1-.2 1 .4 1-1 1 .8 1 .1 1 .2 1-.9 1 0 1-1.3 1 1.6 1-.6 1 1.2 1-1.7 1 1.2 1 .2 1-.9 1-.2 1-.6 1 1.1 1-1 1 .1 1 1.1 1-1.2 1 .2 1-1.7 1 1 1 1.5 1-1 1 .3 1-.8 1 .1 1-.5 1 1.1 1-.5 1-1.2 1 1.4 1-.4 1 .1 1 .2 1-.9 1 .7 1-1.1 1 0 1 .5 1 1 1-1.5 1 1.2 1 .8 1-.6 1 0 1 1.5 1-1.8 1 1.4 1 .4 1-1.2 1 1.4 1-.9 1 1.4 1-3 1 1.8 1-.4 1 1.5 1-.6 1-.3 1 1 1-.2 1-.3 1 .5 1-2.7 1 2.7 1-.7V112.5zM0 117.2v-1.7l1 1.2 1-1.7 1 1.2 1 .2 1-.9 1-.2 1-.6 1 1.1 1-1 1 .1 1 1.1 1-1.2 1 .2 1-1.7 1 1 1 1.5 1-1 1 .3 1-.8 1 .1 1-.5 1 1.1 1-.5 1-1.2 1 1.4 1-.4 1 .1 1 .2 1-.9 1 .7 1-1.1 1 0 1 .5 1 1 1-1.5 1 1.2 1 .8 1-.6 1 0 1 1.5 1-1.8 1 1.4 1 .4 1-1.2 1 1.4 1-.9 1 1.4 1-3 1 1.8 1-.4 1 1.5 1-.6 1-.3 1 1 1-.2 1-.3 1 .5 1-2.7 1 2.7 1-2.1 1 1.7 1 .3 1 .1 1-1.3 1 1.2 1-1.2 1-.2 1 .7 1-1.9 1 .8 1 1.3 1-1.5 1-1 1 .5 1 .6 1 .3 1-1 1-.8 1-.1 1 1.5 1-1 1 .7 1 .5 1-1.5 1 1.5 1-1.1 1 .6 1 .5 1 1.3 1-2.5 1 1.7 1-.8 1 .7 1-.6 1-.2 1 .9 1-.7 1 .2 1 0 1-.4 1 .2 1 .1 1 .9 1 .1 1 .1 1 .5 1-.6 1-.6 1 1.6 1-1.3 1 .5 1 .2 1-1.3 1 1.2 1-.1 1-1.4 1 1.5 1-1.7 1 1.2 1 1.1V117.2zM0 121.9v-2.4l1 1.7 1 .3 1 .1 1-1.3 1 1.2 1-1.2 1-.2 1 .7 1-1.9 1 .8 1 1.3 1-1.5 1-1 1 .5 1 .6 1 .3 1-1 1-.8 1-.1 1 1.5 1-1 1 .7 1 .5 1-1.5 1 1.5 1-1.1 1 .6 1 .5 1 1.3 1-2.5 1 1.7 1-.8 1 .7 1-.6 1-.2 1 .9 1-.7 1 .2 1 0 1-.4 1 .2 1 .1 1 .9 1 .1 1 .1 1 .5 1-.6 1-.6 1 1.6 1-1.3 1 .5 1 .2 1-1.3 1 1.2 1-.1 1-1.4 1 1.5 1-1.7 1 1.2 1 1 1-1.3 1 .3 1 1.1 1-1.9 1 1 1-1.3 1 .2 1 .9 1-1.6 1 .5 1 .1 1-1.4 1 0 1 .4 1-.4 1 0 1 0 1 1 1-.9 1 1.1 1-1.2 1 .7 1-.4 1 .7 1-.1 1 .9 1-1.3 1-.5 1 0 1 .9V121.9zM0 126.6v-.5l1-1.3 1 .3 1 1.1 1-1.9 1 1 1-1.3 1 .2 1 .9 1-1.6 1 .5 1 .1 1-1.4 1 0 1 .4 1-.4 1 0 1 0 1 1 1-.9 1 1.1 1-1.2 1 .7 1-.4 1 .7 1-.1 1 .9 1-1.3 1-.5 1 0 1 .9V126.6z"/>
<path id="v1" transform="scale(1.22833,1)" d="M0 4.4v-2.7l1 .8 1-.6 1 .3 1-1.6 1 1 1-1.1 1 1.7 1-.1 1-.5 1 .9 1-.1 1 .4 1-1.4 1 1 1-.5 1-1 1 .2 1 1.1 1-1.1 1 1 1 0 1 .5 1-1.2 1 .7 1 .4 1 0 1-.7 1-.1 1 2.5 1-1.4 1-.1 1-1 1 1.6 1-.5 1-.2 1 .1 1 1 1-.2 1-1.6 1 .4 1-.3 1 .6 1-1.2 1 2 1-.2 1-.3 1 0 1 1.3 1-.1 1-.5 1-.6 1-.2 1 1.4 1-1.6 1 .6 1 .8 1 0 1-1.1 1 .6 1-.6 1 .1 1-.2 1-1.9 1 .9 1-.2 1 1.7 1-1.8 1 0 1-.2 1-.5 1 1 1-1 1 .8 1-1.1 1 .2 1 .9 1-.7 1 .1 1 1.1 1-1 1 .1 1 1.1 1 0 1-1.8 1 .4 1 .7 1 .6 1-.8 1-.1 1 1.3 1 .8 1-.8 1 1.6 1-.9 1-.1 1-.3 1 .7 1-.1 1 .7 1-2.2 1 2.2 1-1.2 1 .4 1 .7 1-.3 1-.4 1 .4 1-1.2 1 1.4 1-.5 1 .7 1 0 1 0 1-1.2 1 1.1 1-.5 1 .6 1-.1 1-1.2 1 0V4.4zM0 9.1v-1.5l1 .1 1-.2 1-1.9 1 .6 1 .1 1 1.7 1-1.8 1-.2 1 .9 1-1.4 1 1 1-1 1 .9 1-.5 1-.5 1 .9 1-1.1 1 .5 1 1.1 1-1 1 .1 1 1.1 1 0 1-1.8 1 .4 1 .7 1 .6 1-.8 1 .1 1 1.1 1 .8 1-.8 1 1.6 1-.9 1-.1 1-.3 1 .7 1-.1 1 .7 1-2.2 1 2.2 1-1.2 1 .4 1 .8 1-.4 1-.4 1 .8 1-1.6 1 1.6 1-.7 1 .7 1 0 1 0 1-1.2 1 1.1 1-.5 1 .4 1-.4 1-.7 1-1.1 1 0 1 .7 1 1 1-1.2 1 .2 1-.1 1-.8 1-.4 1 .3 1 1 1-.4 1 .2 1-.7 1 0 1 1.7 1-1.2 1 .3 1 .3 1-.4 1 .2 1-.3 1-.6 1 1 1-.1 1-.2 1-.3 1 .4 1-.7 1 .6 1 0 1 .2 1 .8 1-1 1 .2 1 1.2 1 0 1-.2 1-1.1 1 1.5 1-.2 1-.1 1 .6 1-.4 1-1.5 1 .8 1 .9 1-.1 1-.1 1-.4 1 .6 1-.7 1-.1 1 1 1 0 1-.6 1-.3 1-.4 1-.2 1 .8 1-1V9.1zM0 13.8v-2.6l1 0 1 .7 1 .3 1 .1 1-.4 1-.1 1-.8 1 .5 1-.9 1 1.3 1-.4 1 .2 1-1 1 .6 1 1.4 1-1.2 1 .3 1 .3 1 .2 1-.4 1-.3 1-.6 1 1 1-.1 1-.2 1-.3 1 .4 1-.7 1 .6 1 0 1 .2 1 .8 1-1 1 .2 1 1.2 1 0 1-.2 1-1.1 1 1 1 .3 1-.1 1 .6 1-.4 1-1.5 1 .8 1 .9 1-1 1 .8 1-.4 1 .6 1-.7 1-.1 1 1 1 0 1-.6 1-.3 1 .1 1 0 1 .1 1-.5 1 0 1-.1 1-1.4 1-.6 1 1.1 1 .1 1-1.4 1 1.4 1-.5 1 0 1-.3 1-.7 1 .6 1 .2 1-.4 1 1.4 1 0 1 .4 1-.7 1-1 1 2.7 1-1.8 1-.8 1 .4 1 .4 1-.3 1 1.2 1-.2 1-.6 1 .6 1 .6 1 0 1 .5 1 .4 1-.8 1 .6 1-.2 1-.4 1 .1 1 0 1 .7 1-.8 1 .6 1-.7 1 0 1-.4 1 .3 1 .3 1 .5 1-.8 1 .2 1 .4 1-1.4 1 1.6 1-.2 1-.7 1 .1 1 .5 1 .5 1-.7V13.8zM0 18.4v-1.4l1 0 1-.1 1-1.1 1-.9 1 1.1 1 .1 1-1.4 1 .7 1 .2 1 0 1-.3 1-.7 1 1.5 1-.7 1-.4 1 1.4 1 0 1 .4 1-.7 1-1 1 2.7 1-1.8 1-.8 1 .4 1 .4 1-.3 1 1.2 1-.2 1-.6 1 .6 1 .6 1 0 1 .5 1 .4 1-.8 1 .6 1-.2 1-.4 1 .1 1 0 1 .7 1-.8 1 .6 1-.7 1 0 1-.4 1 .2 1 .4 1 .5 1-.8 1 .2 1 .4 1-2.1 1 2.3 1-.2 1-.7 1 .2 1-.2 1 1.1 1-2.2 1-.4 1-.1 1-.9 1 2.5 1-.2 1-1.2 1-.3 1-.9 1 .9 1-.3 1 1 1-.8 1 0 1 0 1 .8 1 .6 1-1.6 1 .1 1 1.3 1-.6 1 .5 1 .5 1-1.6 1 1.3 1-.1 1-.3 1-.1 1 1.9 1-.3 1-1.2 1-.5 1 1.3 1-.4 1-.5 1-.1 1 1.3 1-1.1 1-.4 1 1 1 .2 1-.7 1 .4 1 .8 1-.8 1 .1 1 0 1 .2 1 .9 1-.1 1 .1 1-.8 1 .7 1-1.6 1 .6 1-1.3 1 1.6 1-.2 1-1 1 .4 1 .8V18.4zM0 23.1v-2.4l1-.4 1-.1 1-.5 1 2.1 1-.2 1-1.2 1-.3 1-.9 1 .9 1-.3 1 1 1-.8 1 .6 1-.6 1 .8 1 .6 1-1.6 1 .1 1 1.3 1-.6 1 .5 1 .5 1-1.6 1 1.3 1-.1 1-.3 1-.1 1 1.9 1-.3 1-1.2 1-.5 1 1.3 1-.4 1-.5 1-.1 1 1.3 1-1.1 1-.4 1 1 1 .2 1-.7 1 .4 1 .8 1-.8 1 .1 1 0 1 .2 1 .9 1-.1 1 .1 1-.8 1 .7 1-1.2 1 .2 1-1.3 1 1.6 1-.2 1-1.2 1 .6 1 0 1-1 1 .6 1-.1 1-1.2 1 .7 1-.5 1 1.3 1-.9 1 1.2 1-.8 1 .5 1 .4 1-1 1 .3 1-.8 1 1.7 1-1.6 1 .6 1 0 1 0 1-.7 1 .2 1-.3 1 1.6 1-2 1 1.5 1-.6 1-.2 1 .4 1 1.2 1-.1 1 .2 1-.6 1 .1 1 .3 1-.3 1-.5 1 2 1-2.7 1 .9 1-1 1 1.7 1-.5 1 0 1 .3 1 .5 1-.6 1-.5 1 1.6 1-.8 1 .8 1-.4 1 .1 1-1.1 1 1.5 1-1.3 1 .7 1-.2 1 .3 1 .7V23.1zM0 27.9v-1.8l1-1 1 .6 1-.8 1-.5 1 .7 1-.5 1 1.3 1-.6 1 .9 1-.8 1 .5 1 .4 1-2.2 1 1.5 1-.8 1 1.7 1-1.6 1 .6 1 0 1 0 1-.7 1 .2 1-.3 1 1.6 1-2 1 1.5 1-.6 1-.2 1 .4 1 1.2 1-.1 1 .2 1-.6 1 .1 1 .3 1-.3 1-.5 1 2 1-2.7 1 .9 1-1 1 1.7 1-.5 1 0 1 .3 1 .5 1-.6 1-.5 1 1.6 1-.8 1 .8 1-.4 1 .1 1-1.1 1 1.5 1-1.3 1 .7 1-.2 1 .3 1-1.5 1 .4 1-.8 1-.3 1-.6 1 .9 1-.6 1-.1 1 1.4 1-1.8 1 .4 1 .2 1 .1 1 .3 1 .3 1 1.1 1-.8 1 .7 1 .5 1-1.4 1 .6 1 1 1-1.4 1 1.1 1 0 1 .4 1 .6 1-2 1 1.4 1 .6 1 0 1 0 1-.8 1-.4 1 1.2 1 0 1 0 1-.5 1-.3 1-1.5 1 2.3 1-1 1 .9 1-1.8 1 1.2 1-.5 1 .5 1 0 1-.4 1-.2 1 .4 1-1 1 .7 1 1 1-1.2 1 .7 1-.6 1 .1 1-.2 1 .5 1-.4V27.9zM0 32.5v-2.4l1 .4 1-.8 1-.3 1-.6 1 .9 1-.6 1-.1 1 1.4 1-1.8 1 .4 1 .2 1 .1 1 .3 1 .3 1 1.1 1-.8 1 .7 1 .5 1-1.4 1 .6 1 1 1-1.4 1 1.1 1 0 1 .4 1 .6 1-2 1 1.4 1 .6 1 0 1 0 1-.8 1-.4 1 1.2 1 0 1 0 1-.5 1-.3 1-1.5 1 2.3 1-1 1 .9 1-1.8 1 1.2 1-.5 1 .5 1 0 1-.4 1-.2 1 .4 1-1 1 .7 1 1 1-1.2 1 .7 1-.6 1 .1 1-.2 1 .5 1-.6 1-.2 1-.3 1-.6 1 .7 1-1.7 1 2.3 1-.2 1 .1 1-.6 1-.1 1-1.1 1 0 1 2 1-.6 1 0 1-.8 1 1 1-.1 1-.7 1 .7 1 0 1 .7 1-1.2 1 1.2 1-.6 1 .5 1 .2 1 .5 1-.3 1 .7 1 0 1-1.5 1 1.2 1 .3 1-.2 1 .2 1-.5 1-.7 1-.9 1 1.2 1-.1 1-.5 1 .4 1-1.1 1 .6 1 .8 1-.9 1-.3 1-.1 1 .5 1-.4 1 .5 1-.3 1 0 1-.3 1-.4 1-.2 1 2.1 1-1 1-.3V32.5zM0 37.2v-1.7l1-.2 1-.3 1-.6 1 .7 1-1.7 1 2.3 1-.2 1 .1 1-.6 1-.1 1-1.1 1 0 1 2 1-.6 1 0 1-.8 1 1 1-.1 1-.7 1 .7 1 0 1 .7 1-1.2 1 1.2 1-.6 1 .5 1 .2 1 .5 1-.3 1 .7 1 0 1-1.5 1 1.2 1 .3 1-.2 1 .2 1-.5 1-.7 1-.9 1 1.2 1-.1 1-.5 1 .4 1-1.1 1 .6 1 .8 1-.9 1-.3 1-.1 1 .5 1-.4 1 .5 1-.3 1 0 1-.3 1-.4 1-.2 1 2.1 1-1 1-.4 1 1 1-.5 1-2.2 1 1.3 1-.5 1-.3 1-.5 1 .7 1 .5 1-.7 1 .9 1 .5 1-.4 1-.1 1 1.5 1-1.4 1 .5 1 1.3 1-1.5 1 0 1 1.3 1-.5 1 .7 1-.3 1-.1 1 .2 1 .3 1 .2 1-.2 1 .3 1-.6 1 .6 1-.1 1-.3 1-1.1 1 .8 1 0 1-.5 1 1 1-1.8 1 2 1-2.1 1 .8 1 .6 1 .5 1-1.8 1-.5 1 1.1 1-.4 1-1.1 1-.2 1-.1 1 .5 1-1 1 .4 1 .5 1-.2 1 .2 1-.9 1 1.4V37.2zM0 42v-2.2l1 1 1-.5 1-2.2 1 1.3 1-.5 1-.3 1-.5 1 .7 1 .5 1-.7 1 .9 1 .5 1-.4 1-.1 1 1.5 1-1.4 1 .5 1 1.3 1-1.5 1 0 1 1.3 1-.5 1 .7 1-.3 1-.1 1 .2 1 .3 1 .2 1-.2 1 .3 1-.6 1 .6 1-.1 1-.3 1-1.1 1 .8 1 0 1-.5 1 1 1-1.8 1 2 1-2.1 1 .8 1 .6 1 .5 1-1.8 1-.5 1 1.1 1-.4 1-1.1 1-.2 1-.1 1 .5 1-1 1 .4 1 .5 1-.2 1 .2 1-.9 1 1.8 1-.8 1 .3 1-.7 1 .5 1 1 1-.7 1-.2 1 .3 1-.2 1-.3 1 1.3 1-.7 1 1.5 1-1.8 1 1.7 1-.8 1 1 1-.2 1 .6 1-.9 1 .5 1 0 1-1 1 .4 1 .4 1 .7 1-.9 1 .8 1-1.3 1-.5 1 1.9 1-.5 1-.5 1 .6 1 .4 1-.4 1-.4 1 .2 1-1.7 1 .8 1 .7 1 .3 1-1.1 1-.9 1 1.5 1-.7 1-.3 1 .1 1-1.6 1 1.8 1 .4 1-.7 1 0 1 .1 1-.5 1-.2 1 .5 1-.3 1 .1 1 .9V42zM0 46.6v-2.1l1-.8 1 .3 1-.7 1 .5 1 1 1-.7 1-.2 1 .3 1-.2 1-.3 1 1.3 1-.7 1 1.5 1-1.8 1 1.7 1-.8 1 1 1-.2 1 .6 1-.9 1 .5 1 0 1-1 1 .4 1 .4 1 .7 1-.9 1 .8 1-1.3 1-.5 1 1.9 1-.5 1-.5 1 .6 1 .4 1-.4 1-.4 1 .2 1-1.7 1 .8 1 .7 1 .3 1-1.1 1-.9 1 1.5 1-.7 1-.3 1 .1 1-1.6 1 1.8 1 .4 1-.7 1 0 1 .1 1-.5 1-.2 1 .5 1-.3 1 .1 1-.1 1 0 1 1.2 1 .3 1-1.4 1 .7 1 .7 1 .2 1-1.1 1 1.1 1-.7 1 0 1-1.2 1 1.9 1-.9 1 .5 1 .3 1-.1 1-.1 1-.8 1-.2 1 1 1-.3 1-.2 1-.8 1 .4 1 1.6 1-.4 1-.4 1-1 1 1.8 1-.3 1 0 1 .2 1-1.1 1 .9 1-.2 1 .4 1-.3 1 0 1 .3 1 .4 1-.8 1-1.4 1 0 1 .4 1 .1 1-.4 1 0 1 .1 1 .4 1 .4 1-.9 1 0 1 .8 1-.9 1 1 1-.7 1 .4 1 .4 1-1.7V46.6zM0 51.4v-2.6l1 0 1 1.2 1 .3 1-1.4 1 .7 1 .7 1 .2 1-1.1 1 1.1 1-.7 1 0 1-1.2 1 1.9 1-.9 1 .5 1 .3 1-.1 1-.1 1-.8 1-.2 1 1 1-.3 1-.2 1-.8 1 .4 1 1.6 1-.4 1-.4 1-1 1 1.8 1-.3 1 0 1 .2 1-1.1 1 .9 1-.2 1 .4 1-.3 1 0 1 .3 1 .4 1-.8 1-1.4 1 0 1 .4 1 .1 1-.4 1 0 1 .1 1 .4 1 .4 1-.9 1 0 1 .8 1-.9 1 1 1-.7 1 .4 1 .4 1-1 1-.4 1 1.6 1-.9 1 .7 1-.5 1-.4 1 1.2 1-.8 1 .5 1-.2 1-.2 1 .3 1 0 1 .8 1 .1 1-1.2 1 0 1 1.5 1-1.2 1 1.1 1 .1 1-.1 1 .1 1-.2 1 .2 1-.4 1 .1 1 .3 1-.2 1 .2 1-.1 1 .1 1-.9 1 .1 1 .6 1-1.5 1 .9 1 .7 1-.6 1-1 1-.2 1-.2 1-1.2 1 1.5 1-.4 1-.4 1 .2 1-1.3 1 2.1 1-.1 1 .4 1 .2 1-1.7 1 .9 1-.1 1-.4 1 .8 1-1.8 1 2.4 1-.4V51.4zM0 56.1v-2.3l1-.4 1 1.6 1-.9 1 .7 1-.5 1-.4 1 1.2 1-.8 1 .5 1-.2 1-.2 1 .3 1 0 1 .8 1 .1 1-1.2 1 0 1 1.5 1-1.2 1 1.1 1 .1 1-.1 1 .1 1-.2 1 .2 1-.4 1 .1 1 .3 1-.2 1 .2 1-.1 1 .1 1-.9 1 .1 1 .6 1-1.5 1 .9 1 .7 1-.6 1-1 1-.2 1-.2 1-1.2 1 1.5 1-.4 1-.4 1 .2 1-1.3 1 2.1 1-.1 1 .4 1 .2 1-1.7 1 .9 1-.1 1-.4 1 .8 1-1.8 1 2.4 1-1.2 1 .5 1 .4 1-.1 1-.2 1 .3 1 1.1 1-.9 1 .2 1-.3 1 1.2 1-1.8 1 1.7 1-1.9 1 1.4 1-1 1 .8 1-1.2 1 .8 1 .6 1-.9 1 .4 1-.8 1 1.6 1-.9 1 1.2 1-1.5 1 1 1 .3 1-.4 1-.5 1 .5 1-.1 1-.5 1-1 1 2 1-.9 1-1.1 1-.1 1 .6 1-.4 1 0 1 1.4 1 .1 1-1.1 1 1 1-1 1 1.2 1-.1 1-1 1-.7 1 .8 1-.1 1-.4 1-1.4 1 1.6 1 0 1-1.6 1 1.5 1 .9 1-.9V56.1zM0 60.8v-2.4l1 .5 1 .4 1-.1 1-.2 1 .3 1 1.1 1-.9 1 .2 1-.3 1 1.2 1-1.8 1 1.7 1-1.9 1 1.4 1-1 1 .8 1-1.2 1 .8 1 .6 1-.9 1 .4 1-.8 1 1.6 1-.9 1 1.2 1-1.5 1 1 1 .3 1-.4 1-.5 1 .5 1-.1 1-.5 1-1 1 2 1-.9 1-1.1 1-.1 1 .6 1-.4 1 0 1 1.4 1 .1 1-1.1 1 1 1-1 1 1.2 1-.1 1-1 1-.7 1 .8 1-.1 1-.4 1-1.4 1 1.6 1 0 1-1.6 1 1.5 1 .9 1-2 1 .6 1 .8 1-.8 1 1 1-.2 1 1 1-.3 1-.4 1 .5 1 .4 1-1.5 1 1.4 1 .3 1-.5 1 .7 1-1.4 1 .9 1-.6 1 1.1 1-1.6 1 .9 1 0 1 0 1-1.1 1 .2 1-.7 1 .7 1-.6 1 .6 1 1.3 1-.7 1 .2 1-1 1 .2 1 1.3 1-1 1 .1 1-.1 1 .3 1-1.6 1 1.1 1-1.9 1 .8 1 .4 1-1.4 1 1 1 .2 1-.2 1 2.4 1-.9 1-1.3 1 .6 1 .2 1-.8 1 .4 1-.4 1 .7 1-1 1 .7 1-.1V60.8zM0 65.5v-3.2l1 .6 1 .8 1-.8 1 1 1-.2 1 1 1-.3 1-.4 1 .5 1 .4 1-1.5 1 1.4 1 .3 1-.5 1 .7 1-1.4 1 .9 1-.6 1 1.1 1-1.6 1 .9 1 0 1 0 1-1.1 1 .2 1-.7 1 .7 1-.6 1 .6 1 1.3 1-.7 1 .2 1-1 1 .2 1 1.3 1-1 1 .1 1-.1 1 .3 1-1.6 1 1.1 1-1.9 1 .8 1 .4 1-1.4 1 1 1 .2 1-.2 1 2.4 1-.9 1-1.3 1 .6 1 .2 1-.8 1 .4 1-.4 1 .7 1-1 1 .7 1-.3 1 .3 1 .2 1-.7 1 .7 1-.5 1 1 1 .8 1-2.2 1 1.6 1-.5 1 .8 1-.5 1 .6 1-.7 1 .6 1-.6 1 .3 1-.6 1 1.7 1-.5 1 .2 1 .3 1 0 1-.8 1 .8 1-.6 1-.2 1 .5 1-1.4 1-.2 1 1.1 1-2.5 1 1.6 1-.9 1 .6 1-.1 1-.9 1 1.4 1-.8 1-.2 1 .6 1-.2 1 .7 1-.6 1-.2 1 1.2 1-1.5 1 .6 1-.7 1 .4 1 .2 1-.9 1-.4 1 1.5 1-.2 1-.6 1 1.3 1-.9 1 .5 1-.6V65.5zM0 70.2v-2.5l1 .3 1 .2 1-.7 1 .7 1-.5 1 1 1 .8 1-2.2 1 1.6 1-.5 1 .8 1-.5 1 .6 1-.7 1 .6 1-.6 1 .3 1-.6 1 1.7 1-.5 1 .2 1 .3 1 0 1-.8 1 .8 1-.6 1-.2 1 .5 1-1.4 1-.2 1 1.1 1-2.5 1 1.6 1-.9 1 .6 1-.1 1-.9 1 1.4 1-.8 1-.2 1 .6 1-.2 1 .7 1-.6 1-.2 1 1.2 1-1.5 1 .6 1-.7 1 .4 1 .2 1-.9 1-.4 1 1.5 1-.2 1-.6 1 1.3 1-.9 1 .5 1-.6 1 1.8 1 .2 1 .4 1-.2 1-.5 1 .6 1-1.7 1 .2 1 1.6 1-.8 1 0 1-.1 1 .1 1-1.3 1 1 1 .9 1-.2 1-.2 1 .6 1 0 1-.3 1-.4 1 .2 1-.3 1 0 1 .1 1-1.3 1 2 1-.9 1-.3 1-.3 1 .6 1-.4 1 .1 1-.1 1 0 1 .2 1 .2 1-.4 1 1.3 1-2.6 1-.1 1 1.2 1 1 1-1.9 1 .7 1 .1 1-.7 1 1.6 1 .4 1 .1 1-.5 1 .3 1 .3 1-.7 1 .5 1 .3 1-.2 1-1.1 1 .8V70.2zM0 74.9v-2.6l1 1.8 1 .2 1 .4 1-.2 1-.5 1 .6 1-1.7 1 .2 1 1.6 1-.8 1 0 1-.1 1 .1 1-1.3 1 1 1 .9 1-.2 1-.2 1 .6 1 0 1-.3 1-.4 1 .2 1-.3 1 0 1 .1 1-1.3 1 2 1-.9 1-.3 1-.3 1 .6 1-.4 1 .1 1-.1 1 0 1 .2 1 .2 1-.4 1 1.3 1-2.6 1-.1 1 1.2 1 1 1-1.9 1 .7 1 .1 1-.7 1 1.6 1 .4 1 .1 1-.5 1 .3 1 .3 1-.7 1 .5 1 .3 1-.2 1-1.1 1 .2 1 1.1 1-.9 1 .4 1-.7 1-.6 1 1.2 1-.5 1 0 1 .1 1-.2 1 1.2 1-1.9 1 1.6 1-.3 1-1.8 1 1.2 1 1 1-1.8 1 1.2 1 0 1-1.1 1 1.7 1 .2 1-1.2 1-.4 1 1.5 1-.3 1-.7 1-1.1 1 2 1-.1 1-1.2 1 1.4 1-.4 1 .3 1-.9 1 .6 1-.3 1-.8 1-.5 1 .2 1 .1 1 .4 1-.4 1-1.6 1 1.6 1 .1 1-1.2 1 .4 1 1.4 1 0 1-.6 1 .6 1-.6 1 1 1-1.3 1 .7 1-.6 1 .1 1-.1V74.9zM0 79.6v-1.3l1 1.1 1-.9 1 .4 1-.7 1-.6 1 1.2 1-.5 1 0 1 .1 1-.2 1 1.2 1-1.9 1 1.6 1-.3 1-1.8 1 1.2 1 1 1-1.8 1 1.2 1 0 1-1.1 1 1.7 1 .2 1-1.2 1-.4 1 1.5 1-.3 1-.7 1-1.1 1 2 1-.1 1-1.2 1 1.4 1-.4 1 .3 1-.9 1 .6 1-.3 1-.8 1-.5 1 .2 1 .1 1 .4 1-.4 1-1.6 1 1.6 1 .1 1-1.2 1 .4 1 1.4 1 0 1-.6 1 .6 1-.6 1 1 1-1.3 1 .7 1-.6 1 .1 1 .2 1 .7 1 .9 1-.8 1 .6 1-.4 1 .6 1 0 1-.8 1 .8 1-.6 1 .2 1-.4 1 .6 1-.1 1-.4 1 .6 1-.2 1-1 1 .6 1 .1 1 .6 1-.5 1 .5 1 0 1-2 1 1.9 1-.5 1 0 1-.2 1-.5 1 .9 1-1 1-.4 1-.1 1 1.5 1-1.5 1 0 1 .6 1-1.4 1 1.5 1-.6 1-.2 1-.4 1 0 1-.7 1 1.3 1 .6 1-1.2 1 1.4 1-1.1 1 .8 1 1.3 1-1.4 1-.2 1 1 1-.5 1 .2 1 0 1-1 1 1.1V79.6zM0 84.3v-1.8l1 .7 1 .9 1-.8 1 .6 1-.4 1 .6 1 0 1-.8 1 .8 1-.6 1 .2 1-.4 1 .6 1-.1 1-.4 1 .6 1-.2 1-1 1 .6 1 .1 1 .6 1-.5 1 .5 1 0 1-2 1 1.9 1-.5 1 0 1-.2 1-.5 1 .9 1-1 1-.4 1-.1 1 1.5 1-1.5 1 0 1 .6 1-1.4 1 1.5 1-.6 1-.2 1-.4 1 0 1-.7 1 1.3 1 .6 1-1.2 1 1.4 1-1.1 1 .8 1 1.3 1-1.4 1-.2 1 1 1-.5 1 .2 1 0 1-1 1-.1 1-.1 1-.2 1 .1 1 .7 1 1.5 1-1 1 1 1-.1 1-.6 1-.3 1 .3 1 .3 1-.5 1-.2 1 .9 1-2.3 1 2.5 1-.4 1-.1 1 0 1 .5 1-.6 1 .6 1-.4 1-.4 1 .3 1-.2 1-.8 1 .5 1-.2 1-.2 1 0 1 1.1 1-1.2 1-.5 1 .5 1 .2 1-.4 1 0 1-.7 1 .5 1-.4 1 1.1 1-.9 1 .5 1 .8 1-.1 1 0 1-.2 1-.1 1-.8 1 1.2 1-.1 1 .3 1-.2 1-.2 1 .9 1-.5 1-.6 1 0V84.3zM0 89v-2.2l1-.1 1-.2 1 .1 1 .7 1 1.5 1-1 1 1 1-.1 1-.6 1-.3 1 .3 1 .3 1-.5 1-.2 1 .9 1-2.3 1 2.5 1-.4 1-.1 1 0 1 .5 1-.6 1 .6 1-.4 1-.4 1 .3 1-.2 1-.8 1 .5 1-.2 1-.2 1 0 1 1.1 1-1.2 1-.5 1 .5 1 .2 1-.4 1 0 1-.7 1 .5 1-.4 1 1.1 1-.9 1 .5 1 .8 1-.1 1 0 1-.2 1-.1 1-.8 1 1.2 1-.1 1 .3 1-.2 1-.2 1 .9 1-.5 1-.6 1 .9 1-1.4 1 1.3 1 .4 1-1.2 1 .1 1-.2 1-.8 1 1.5 1 .6 1 0 1-.7 1 .4 1 .3 1-.2 1 .2 1-.8 1 .8 1-.8 1 .8 1-.7 1-.6 1 1.3 1-.3 1-2.1 1 1.6 1 .5 1 0 1-1 1-.4 1 0 1 0 1 .5 1-1.3 1 1.2 1-.6 1 .9 1 .2 1-.3 1 .4 1 .7 1-2.1 1 .4 1-.1 1 1 1-.1 1 .4 1-1.1 1-.6 1 .5 1-.4 1 0 1 .4 1 .6 1-.6 1 .5 1-.3 1 .5 1 0 1 1 1 0V89zM0 93.7v-.5l1-1.4 1 1.3 1 .4 1-1.2 1 .1 1-.2 1-.8 1 1.5 1 .6 1 0 1-.7 1 .4 1 .3 1-.2 1 .2 1-.8 1 .8 1-.8 1 .8 1-.7 1-.6 1 1.3 1-.3 1-2.1 1 1.6 1 .5 1 0 1-1 1-.4 1 0 1 0 1 .5 1-1.3 1 1.2 1-.6 1 .9 1 .2 1-.3 1 .4 1 .7 1-2.1 1 .4 1-.1 1 1 1-.1 1 .4 1-1.1 1-.6 1 .5 1-.4 1 0 1 .4 1 .6 1-.6 1 .5 1-.3 1 .5 1 0 1 1 1 0 1-.1 1-.6 1 .4 1 .3 1-.2 1-.2 1 .4 1-1.5 1 .1 1 .4 1 .9 1-1.6 1 .2 1 .3 1 1.2 1-1.7 1 1.2 1-.7 1 1.2 1-1.1 1 1.1 1-1.3 1 1.3 1-.1 1-.2 1-.7 1-.3 1 0 1 .7 1-1.8 1 1.3 1-.3 1 .5 1-1.1 1 .8 1-.9 1 1.3 1 .1 1-1.4 1-.4 1-.3 1 1.7 1-.1 1-.7 1 .8 1-.6 1-.5 1 1 1-.6 1 .6 1 1.2 1-1.7 1 .6 1-.1 1 .9 1-1.5 1 1.1 1-.7 1 .1 1-.7V93.7zM0 98.4v-.2l1-.1 1-.6 1 .4 1 .3 1-.2 1-.2 1 .4 1-1.5 1 .1 1 .4 1 .9 1-1.6 1 .2 1 .3 1 1.2 1-1.7 1 1.2 1-.7 1 1.2 1-1.1 1 1.1 1-1.3 1 1.3 1-.1 1-.2 1-.7 1-.3 1 0 1 .7 1-1.8 1 1.3 1-.3 1 .5 1-1.1 1 .8 1-.9 1 1.3 1 .1 1-1.4 1-.4 1-.3 1 1.7 1-.1 1-.7 1 .8 1-.6 1-.5 1 1 1-.6 1 .6 1 1.2 1-1.7 1 .6 1-.1 1 .9 1-1.5 1 1.1 1-.7 1 .1 1-.6 1 .5 1 .7 1-.2 1-.7 1 1.2 1-1.2 1 1.2 1 .3 1-1 1 .2 1 .6 1 .3 1-.5 1 .1 1-.3 1 .7 1 0 1-.5 1 0 1 .5 1-1.4 1 .1 1 1.1 1-.1 1-.1 1-1.1 1 .5 1-.9 1 1.6 1-2.4 1 1.5 1 .3 1-.5 1 0 1 0 1 .4 1-1.2 1 .8 1 .5 1-1.1 1 .3 1-.1 1-.5 1 .9 1 .6 1-.4 1-.5 1 .2 1 .1 1 0 1-.1 1-.5 1 1 1-.5 1-.4 1 .8 1 0 1 .9 1-1.7 1 1.5V98.4zM0 103.1v-2.1l1 .5 1 .7 1-.2 1-.7 1 1.2 1-1.2 1 1.2 1 .3 1-1 1 .2 1 .6 1 .3 1-.5 1 .1 1-.3 1 .7 1 0 1-.5 1 0 1 .5 1-1.4 1 .1 1 1.1 1-.1 1-.1 1-1.1 1 .5 1-.9 1 1.6 1-2.4 1 1.5 1 .3 1-.5 1 0 1 0 1 .4 1-1.2 1 .8 1 .5 1-1.1 1 .3 1-.1 1-.5 1 .9 1 .6 1-.4 1-.5 1 .2 1 .1 1 0 1-.1 1-.5 1 1 1-.5 1-.4 1 .8 1 0 1 .9 1-1.7 1 1.3 1 .6 1-.4 1-.8 1-.2 1 .2 1 0 1 .2 1 .2 1 .8 1-.8 1-.2 1-.8 1 1.2 1 .6 1 0 1-1.7 1-1.2 1 1.1 1 .4 1-.6 1 1.3 1-.2 1 0 1-1.1 1 2 1-.8 1-1.1 1 0 1 1.3 1 .6 1-1.2 1-.9 1-.3 1-.2 1-.2 1 .8 1 .4 1-.4 1-.4 1 .8 1-.1 1-.6 1 .6 1 .2 1 0 1-.2 1-.4 1-.4 1 1.7 1 .6 1-1 1 .1 1-1 1 1.4 1 .4 1-.7 1 .7 1-.6 1 .3 1-.7V103.1zM0 107.8v-.8l1 .6 1-.4 1-.8 1-.2 1 .2 1 0 1 .2 1 .2 1 .8 1-.8 1-.2 1-.8 1 1.2 1 .6 1 0 1-1.7 1-1.2 1 1.1 1 .4 1-.6 1 1.3 1-.2 1 0 1-1.1 1 2 1-.8 1-1.1 1 0 1 1.3 1 .6 1-1.2 1-.9 1-.3 1-.2 1-.2 1 .8 1 .4 1-.4 1-.4 1 .8 1-.1 1-.6 1 .6 1 .2 1 0 1-.2 1-.4 1-.4 1 1.7 1 .6 1-1 1 .1 1-1 1 1.4 1 .4 1-.7 1 .7 1-.6 1 .3 1-.5 1 .7 1-1 1-.1 1 .8 1 .4 1 .1 1-.3 1-.7 1-.1 1 .5 1-.6 1 .4 1 1 1 0 1-.4 1-.6 1 1 1-1.5 1 .3 1 .3 1-.9 1 1.3 1-.5 1 1 1-1.4 1 .7 1-1.7 1 1.6 1-.2 1-.3 1-.3 1 .2 1 0 1-.2 1 .1 1-.1 1-1.6 1-.2 1 2.3 1 .6 1-1.6 1 .2 1 1 1 .5 1-1.9 1 1.1 1 1.2 1-.1 1 .1 1-1 1 0 1 0 1-.5 1 .6 1-.2 1-.5 1-1 1 1.5 1-1 1 1.9V107.8zM0 112.5v-1.3l1 .7 1-1 1-.1 1 .8 1 .4 1 .1 1-.3 1-.7 1-.1 1 .5 1-.6 1 .4 1 1 1 0 1-.4 1-.6 1 1 1-1.5 1 .3 1 .3 1-.9 1 1.3 1-.5 1 1 1-1.4 1 .7 1-1.7 1 1.6 1-.2 1-.3 1-.3 1 .2 1 0 1-.2 1 .1 1-.1 1-1.6 1-.2 1 2.3 1 .6 1-1.6 1 .2 1 1 1 .5 1-1.9 1 1.1 1 1.2 1-.1 1 .1 1-1 1 0 1 0 1-.5 1 .6 1-.2 1-.5 1-1 1 1.5 1-1 1 1.5 1-.3 1-1.1 1 1 1-.4 1 1.4 1-.6 1 .6 1-1.9 1 1.1 1-.8 1 .9 1-.4 1-.4 1 .9 1-.9 1-1.3 1 1.4 1 .5 1-.8 1 .9 1-1.6 1 .1 1 1.2 1-.3 1 .8 1-.8 1 .3 1-.2 1 1.3 1-1.5 1-.4 1 .7 1 .8 1-.5 1-.7 1-.6 1 1.7 1 .1 1-2.3 1 .9 1 1.7 1-1.5 1-.3 1 1.5 1-1.3 1 .1 1 .7 1-1.1 1-.2 1 .2 1-.3 1 1.8 1-1.9 1 1.6 1-.4 1 .3 1-.8 1 1.6 1-1.3 1 1.2V112.5zM0 117.2v-.8l1-.3 1-1.1 1 1 1-.4 1 1.4 1-.6 1 .6 1-1.9 1 1.1 1-.8 1 .9 1-.4 1-.4 1 .9 1-.9 1-1.3 1 1.4 1 .5 1-.8 1 .9 1-1.6 1 .1 1 1.2 1-.3 1 .8 1-.8 1 .3 1-.2 1 1.3 1-1.5 1-.4 1 .7 1 .8 1-.5 1-.7 1-.6 1 1.7 1 .1 1-2.3 1 .9 1 1.7 1-1.5 1-.3 1 1.5 1-1.3 1 .1 1 .7 1-1.1 1-.2 1 .2 1-.3 1 1.8 1-1.9 1 1.6 1-.4 1 .3 1-.8 1 1.6 1-1.3 1 .3 1-.1 1-.1 1 1.2 1 .1 1-.5 1 .5 1 0 1-1 1-.8 1 1.6 1-.3 1 .5 1-1.2 1 .7 1 .5 1-.2 1-1.5 1 1 1-.2 1-.7 1 .2 1-.4 1-.1 1-.7 1 .6 1 .6 1-.6 1 0 1-1.4 1 1.9 1-.4 1-.6 1 1 1-1.3 1 1.9 1-.3 1-.1 1 .9 1-2.4 1 1.2 1-.2 1 .9 1-1.5 1 .9 1 .5 1-.8 1-.6 1 1.1 1 .6 1 .6 1-.7 1-.5 1-.1 1 .7 1 .2 1-.3 1 .1 1-1.3 1 1.1 1 .7V117.2zM0 121.9v-1.3l1-.1 1-.1 1 1.2 1 .1 1-.5 1 .5 1 0 1-1 1-.8 1 1.6 1-.3 1 .5 1-1.2 1 .7 1 .5 1-.2 1-1.5 1 1 1-.2 1-.7 1 .2 1-.4 1-.1 1-.7 1 .6 1 .6 1-.6 1 0 1-1.4 1 1.9 1-.4 1-.6 1 1 1-1.3 1 1.9 1-.3 1-.1 1 .9 1-2.4 1 1.2 1-.2 1 .9 1-1.5 1 .9 1 .5 1-.8 1-.6 1 1.1 1 .6 1 .6 1-.7 1-.5 1-.1 1 .7 1 .2 1-.3 1 .1 1-1.3 1 1.1 1 .8 1 .1 1 0 1-.6 1-1.1 1 1.3 1 0 1-2.5 1 1 1 1.1 1 .7 1-.8 1 .9 1 0 1-.5 1 .2 1 .3 1-2 1 2 1-.2 1 .2 1-1.3 1 1.3 1-1.4 1 .4 1-.3 1-.2 1 .6 1-.7 1 .8 1-.4V121.9zM0 126.6v-.3l1 .1 1 0 1-.6 1-1.1 1 1.3 1 0 1-2.5 1 1 1 1.1 1 .7 1-.8 1 .9 1 0 1-.5 1 .2 1 .3 1-2 1 2 1-.2 1 .2 1-1.3 1 1.3 1-1.4 1 .4 1-.3 1-.2 1 .6 1-.7 1 .8 1-.4V126.6z"/>
<path id="k1" d="M0 0m10.1 4.1v.3m18.2-1.7v1.7m4.3-2v2m3.7-.4v.4m.6-1v1m3.1-1v1m2.4-1.3v1.3m1.2-1.6v1.6m.6-1.3v1.3m.6-.7v.7m1.2-1.6v1.6m1.8-1.9v1.9m.6-.9v.9m.6-2.2v2.2m.6-1.2v1.2m3.5-.6v.6m1.2-.3v.3m1.7-1v1m.6-.4v.4m1.9-2v2m3.2-1.5v1.5m.6-.9v.9m2.6-.8v.8m.6-2.9v2.9m.6-2.2v2.2m.6-.9v.9m1.8-1v1m3.6-1.3v1.3m.6-2v2m.6-1.1v1.1m4.9-.9v.9m.8-.7v.7m1-.7v.7m8.9-.6v.6m5.7-1.5v1.5m4.7-.5v.5m3-1v1m2.5-1.9v1.9m5-1.4v1.4m.6-2.5v2.5m.6-2.6v2.6m.6-.9v.9m2.2-.5v.5m.6-.8v.8m3.8-.5v.5m.6-3v3m.6-1v1m1.2-.9v.9m.6-1.5v1.5m.6-2.1v2.1m3.2-.8v.8m.6-1.5v1.5m.6-2.1v2.1m.6-.7v.7m2.8-.7v.7m.6-1.4v1.4m.6-1v1m.6-1.1v1.1m6.4-1.3v1.3m1.8-1.6v1.6m2.7-1.9v1.9m2.1-1v1m.6-1.6v1.6m-137.8 4v.7m5.8-1.1v1.1m4.6-1.5v1.5m16.8-1.3v1.3m1.7-1.7v1.7m.6-3.2v3.2m.6-1.6v1.6m3.2-.9v.9m4-1.3v1.3m.6-1.9v1.9m2.2-.8v.8m.6-1.2v1.2m.6-.7v.7m1.2-.9v.9m2.6-2.1v2.1m.6-.9v.9m2.8-1v1m1.2-2.1v2.1m1.2-.5v.5m.6-.7v.7m1.8-1.3v1.3m3.2-2.2v2.2m.6-.7v.7m.6-.5v.5m.6-1.4v1.4m6.1-1.8v1.8m1.8-.4v.4m1-.3v.3m36.9-.6v.6m.6-1.4v1.4m.6-1v1m4.5-2.2v2.2m2.3-1.2v1.2m.7-1.9v1.9m.6-1.2v1.2m.6-2.1v2.1m.6-1.4v1.4m.6-.7v.7m1.5-.4v.4m1.2-1.4v1.4m2.9-.8v.8m.6-2.1v2.1m.6-.7v.7m2.3-.9v.9m.6-1.4v1.4m.6-1.7v1.7m.6-1v1m3.2-1v1m.6-1.1v1.1m1.8-1.3v1.3m1.2-.3v.3m2.3-.6v.6m.6-.4v.4m1.8-.8v.8m.6-.8v.8m.6-.6v.6m-145.8 3.4v1.3m9.1-1.8v1.8m11-.4v.4m1-.8v.8m9.2-1.6v1.6m3.8-1.8v1.8m5.3-.6v.6m.6-.4v.4m2.9-2.1v2.1m1.8-.8v.8m2.7-1.1v1.1m1.2-1.7v1.7m2-1.5v1.5m.6-1.4v1.4m.6-1v1m2.9-1.4v1.4m3.9-.9v.9m.6-1.7v1.7m.6-1.3v1.3m3.4-1.1v1.1m.6-1.9v1.9m1.8-1v1m.6-.4v.4m1.9-.8v.8m.6-.7v.7m.6-.3v.3m1.4-.6v.6m1.2-.7v.7m2.9-1.7v1.7m10.5-.4v.4m11.1-1.1v1.1m10.1-1.2v1.2m3.7-2v2m.6-1.4v1.4m2.6-.4v.4m.6-1.5v1.5m1.2-1v1m.6-.5v.5m2.4-1.6v1.6m3.3-.5v.5m3-2.4v2.4m.6-1.2v1.2m1.2-2v2m1.2-1.3v1.3m2.9-1.1v1.1m1.2-1.2v1.2m.6-.9v.9m1.8-1.9v1.9m5.4-2.1v2.1m2.3-.5v.5m.6-.6v.6m.6-1.2v1.2m.6-.5v.5m1.2-1.2v1.2m.6-1.3v1.3m-143.8 3.8v.9m12.4-.7v.7m2-.8v.8m20.8-2.1v2.1m4-1.3v1.3m1.8-1.5v1.5m1.9-1v1m.6-.7v.7m2-1.9v1.9m.6-.8v.8m.6-.8v.8m.6-1.6v1.6m.6-.7v.7m1.8-1.5v1.5m.6-1.1v1.1m.6-2.2v2.2m.6-2.3v2.3m3.1-.7v.7m.6-.8v.8m.6-.7v.7m.6-1.9v1.9m3.6-1.6v1.6m5.6-1.3v1.3m.7-.3v.3m1.2-1.3v1.3m2.1-1v1m.6-1.1v1.1m10.9-1v1m7.6-1.2v1.2m19.3-.5v.5m3.7-1.4v1.4m1.2-.9v.9m1.2-.4v.4m2-.6v.6m.6-.9v.9m.6-1.3v1.3m.6-.6v.6m3-.7v.7m1.9-.5v.5m1.2-.5v.5m2.4-1.7v1.7m1.2-1.9v1.9m1.8-.7v.7m.6-.8v.8m2.6-.4v.4m1.2-2.2v2.2m1.8-.6v.6m4.9-.9v.9m2.1-.4v.4m.6-1.4v1.4m.6-.9v.9m-140 2.8v1.9m30.8-.6v.6m1.2-.4v.4m1.8-1.1v1.1m.6-1.5v1.5m.6-1.7v1.7m.6-1.5v1.5m.6-.4v.4m.6-1.5v1.5m2.3-1.9v1.9m.6-1.2v1.2m.6-1.1v1.1m.6-.9v.9m1.2-1.4v1.4m.6-.8v.8m.6-.7v.7m1.9-.8v.8m4.2-1.7v1.7m.6-.6v.6m2.4-.6v.6m4.3-1.4v1.4m1.2-.6v.6m1.2-.3v.3m3.4-.9v.9m.6-.6v.6m2.4-.6v.6m1.2-.6v.6m2.6-1.5v1.5m3.7-1.1v1.1m3.2-.8v.8m10.5-1.1v1.1m1.2-.9v.9m4.5-1.8v1.8m7.2-1.7v1.7m5.2-1.2v1.2m.6-1.2v1.2m3.2-.9v.9m4.3-.7v.7m1.8-.7v.7m1.9-1.2v1.2m1.6-.7v.7m3.2-.9v.9m1.2-1.1v1.1m.6-1.4v1.4m.6-2.7v2.7m.6-1.6v1.6m.6-.5v.5m1.4-1.1v1.1m2.5-.8v.8m.6-.7v.7m1.4-.4v.4m2.7-1.7v1.7m.6-.5v.5m.6-1.9v1.9m.6-2.1v2.1m.6-1.4v1.4m.6-1v1m2.4-1.8v1.8m1.2-.6v.6m-143.3 3.1v1.6m10.8-1.2v1.2m13.9-1.2v1.2m2.8-.9v.9m6.3-1.6v1.6m.6-2v2m.6-.3v.3m4.1-.5v.5m.6-.4v.4m3.9-1.3v1.3m3.2-.8v.8m.6-.7v.7m.6-1.4v1.4m3-.8v.8m1.2-2v2m.6-1.4v1.4m1.2-1.2v1.2m3.3-1.1v1.1m2.8-1.2v1.2m1.2-.5v.5m3-1.8v1.8m.6-2.5v2.5m.6-1.8v1.8m1.2-.4v.4m1.2-1.5v1.5m.6-2v2m.6-1.1v1.1m.6-.7v.7m.6-1.5v1.5m2.3-1.8v1.8m12.9-1.1v1.1m1-1.6v1.6m2.7-1.2v1.2m3.2-1.7v1.7m2.6-.6v.6m6.9-.8v.8m.6-.6v.6m1.8-1.3v1.3m.6-3v3m.6-1.9v1.9m.6-1.6v1.6m.6-2.1v2.1m1.2-.6v.6m1.2-2.3v2.3m.6-3.2v3.2m.6-1.5v1.5m2.4-1.2v1.2m1.2-3.6v3.6m.6-1.3v1.3m.6-1.4v1.4m2.5-.4v.4m.6-.9v.9m.6-2.6v2.6m8.5-2v2m.6-1.9v1.9m.6-1.5v1.5m.6-1.2v1.2m.6-1.9v1.9m1.2-.6v.6m.6-1.9v1.9m.6-1.6v1.6m1.2-.6v.6m2.5-1.4v1.4m4.8-1.8v1.8m2-1.3v1.3m-142.7 3.4v1.3m3-1.8v1.8m2.2-2v2m3.8-.8v.8m7.7-.5v.5m4.3-1.8v1.8m4-1.1v1.1m4.4-1.4v1.4m.6-1.6v1.6m.6-1.7v1.7m.6-2.3v2.3m.6-2.8v2.8m.6-2.4v2.4m1.2-1.7v1.7m1.2-1.2v1.2m.6-3v3m.6-2.6v2.6m.6-1.4v1.4m.6-.3v.3m1.2-.6v.6m.6-.6v.6m.6-1.6v1.6m.6-3.7v3.7m.6-1.7v1.7m1.2-.4v.4m1.9-.5v.5m1.2-1.8v1.8m8.8-2.2v2.2m.6-1.5v1.5m.6-.9v.9m.6-2v2m1.8-1.6v1.6m.6-2.3v2.3m.6-1.6v1.6m.6-.9v.9m2.3-.6v.6m1.2-.7v.7m11.7-.8v.8m.6-.6v.6m2.4-1.9v1.9m.6-2.1v2.1m.6-2.1v2.1m.6-2v2m4.2-1.2v1.2m1.8-1.2v1.2m5-.8v.8m.6-1.9v1.9m.6-1.1v1.1m8.9-.6v.6m1.2-1.9v1.9m.6-1.7v1.7m.6-3.6v3.6m1.2-2v2m.6-3.3v3.3m.6-2.6v2.6m.6-1.8v1.8m.6-1.1v1.1m1.8-1.4v1.4m1.2-1.7v1.7m.6-1.8v1.8m.6-3.1v3.1m.6-3.7v3.7m.6-1.6v1.6m.6-1.2v1.2m.6-.6v.6m5.3-.5v.5m1.2-1v1m.6-2.3v2.3m.6-1.5v1.5m6.3-1.2v1.2m.6-1.2v1.2m1.2-1.6v1.6m.6-1.8v1.8m3.6-1.1v1.1m3.8-1.2v1.2m-134.3 3.6v1.1m.6-1.9v1.9m.6-1.8v1.8m1.2-2.4v2.4m3.6-1.7v1.7m1-1.1v1.1m4.6-1v1m3.5-1.7v1.7m6.4-1.5v1.5m3.3-1v1m1.2-2.2v2.2m.6-4v4m.6-1.5v1.5m.6-3v3m.6-2.8v2.8m.6-1.7v1.7m.6-2.3v2.3m2.4-.7v.7m.6-1.8v1.8m.6-1.4v1.4m.6-2.8v2.8m.6-2.1v2.1m.6-2.4v2.4m.6-1.9v1.9m.6-1.4v1.4m.6-.5v.5m5.7-.8v.8m.6-1.1v1.1m1.8-.9v.9m1.2-.5v.5m5.5-1.3v1.3m.6-1.8v1.8m.6-1.6v1.6m.6-1.8v1.8m.6-2v2m2.4-2v2m1.2-.7v.7m.6-1.7v1.7m6.8-.3v.3m10.9-.5v.5m1.2-1.7v1.7m.6-2.4v2.4m.6-1.9v1.9m.6-1.4v1.4m10.4-1v1m.6-.5v.5m1.2-1v1m3-1.6v1.6m.6-1.9v1.9m1.2-2.3v2.3m.6-1.5v1.5m.6-1.9v1.9m.6-2.4v2.4m.6-3.8v3.8m.6-3.1v3.1m.6-.8v.8m1.2-1.8v1.8m.6-3.6v3.6m.6-2.3v2.3m.6-1.5v1.5m.6-.7v.7m4.2-2v2m10.8-.4v.4m1.2-.4v.4m1.2-2.2v2.2m1.8-1.8v1.8m1.2-1.9v1.9m.6-1.2v1.2m2.2-1.3v1.3m2.2-1.4v1.4m5-2v2m6-.8v.8m.6-1.2v1.2m.6-.7v.7m-137.9 3.9v.8m.6-2.9v2.9m.6-2.5v2.5m.6-1.5v1.5m.6-1.4v1.4m.6-.4v.4m10.2-.7v.7m.6-1.3v1.3m4.4-1.6v1.6m1.2-1.5v1.5m.6-3.2v3.2m.6-2.3v2.3m.6-1.6v1.6m.6-4.1v4.1m.6-2.6v2.6m1.8-2.1v2.1m.6-3.3v3.3m.6-2.9v2.9m4.1-.9v.9m5.7-1.3v1.3m5.2-1v1m.6-1.2v1.2m.6-.9v.9m1.2-1v1m1.2-2.9v2.9m.6-1.4v1.4m1.8-1.6v1.6m1.2-.7v.7m14.6-.4v.4m1.2-1.1v1.1m.6-.5v.5m3.7-.9v.9m6.7-.6v.6m.6-.6v.6m.6-1.1v1.1m.6-1.4v1.4m1.8-1v1m5.3-1.6v1.6m1.4-.6v.6m1.2-1.4v1.4m.6-1.6v1.6m.6-.4v.4m1.4-1v1m1.2-.6v.6m.6-1.9v1.9m.6-2.3v2.3m1.2-1.7v1.7m.6-4v4m1.8-2.9v2.9m.6-3.7v3.7m.6-2.6v2.6m.6-1.5v1.5m.6-2v2m1.8-.6v.6m1.5-.8v.8m2.5-.6v.6m3.5-1.9v1.9m6-.5v.5m.6-1.5v1.5m.6-3v3m12.1-.7v.7m6.7-.8v.8m4.6-1.2v1.2m-143.6 3.3v1.4m.6-2.1v2.1m1.2-1v1m7.1-1.2v1.2m1.2-.7v.7m.6-.7v.7m.6-.6v.6m4.2-1.9v1.9m1.4-1v1m4.2-.8v.8m.6-1.1v1.1m.6-2.1v2.1m.6-2.5v2.5m1.8-1.6v1.6m.6-2.8v2.8m.6-2.2v2.2m.6-3.2v3.2m.6-1.3v1.3m.6-2.8v2.8m.6-1.9v1.9m.6-2v2m.6-2.2v2.2m.6-1.8v1.8m.6-.8v.8m.6-.5v.5m4.5-.6v.6m2.7-.9v.9m4.2-1.3v1.3m1.2-.5v.5m3-1.2v1.2m.6-.5v.5m3.9-1.6v1.6m2.5-1.8v1.8m6-.7v.7m13.8-1v1m3.6-.7v.7m4.4-.7v.7m.6-1.4v1.4m1.2-1.8v1.8m1.8-1.2v1.2m8.2-3.5v3.5m.6-2.1v2.1m1.2-1.7v1.7m.6-2.2v2.2m.6-2.2v2.2m.6-1.1v1.1m.6-1.5v1.5m.6-1.9v1.9m.6-.9v.9m5-.6v.6m1.2-1.6v1.6m.6-.6v.6m.6-1v1m.6-.6v.6m5.3-.9v.9m1.8-.9v.9m.6-1.1v1.1m.6-1v1m.6-.5v.5m7.5-1.6v1.6m4.7-1.3v1.3m10.3-.7v.7m6.4-.5v.5m-139.4 3.9v.8m1.7-1.1v1.1m1.2-1.1v1.1m1.2-1.2v1.2m.6-.8v.8m3.6-1.4v1.4m.6-1.4v1.4m.6-.5v.5m3.6-.3v.3m1.8-1.5v1.5m.6-1.9v1.9m.6-3.1v3.1m.6-2.7v2.7m.6-2.4v2.4m.6-1.2v1.2m.6-1.8v1.8m.6-1.3v1.3m.6-2.7v2.7m.6-1.4v1.4m.6-1.8v1.8m.6-1v1m1.6-1.5v1.5m1.9-.4v.4m1.8-.8v.8m5.8-.6v.6m.6-.7v.7m.6-.9v.9m.6-.5v.5m.6-.9v.9m1.8-.5v.5m5.7-.9v.9m2.6-1.8v1.8m.6-.6v.6m9.2-1.4v1.4m10.2-.3v.3m4.3-.9v.9m4.1-1.4v1.4m7-1.1v1.1m3.2-2v2m.6-1.5v1.5m.6-.9v.9m3.8-2.4v2.4m.6-4v4m.6-1.8v1.8m.6-3.1v3.1m.6-2.4v2.4m1.2-1.9v1.9m.6-1.1v1.1m.6-1v1m5.2-1.4v1.4m1-1.5v1.5m1.3-.8v.8m1.8-1.4v1.4m.6-1.8v1.8m.6-2.1v2.1m.6-.8v.8m.6-.5v.5m3.6-1.9v1.9m3.1-.8v.8m.6-1.2v1.2m4.1-1.3v1.3m18.4-1v1m2.8-1v1m1.2-.8v.8m-130.3 3.3v1.4m.6-2.6v2.6m.6-1.1v1.1m.6-.8v.8m2.6-.8v.8m.6-.9v.9m.6-2.1v2.1m.6-1.9v1.9m.6-2.8v2.8m.6-2.7v2.7m.6-3.3v3.3m1.2-2v2m.6-3.3v3.3m1.2-.9v.9m.6-.7v.7m8.8-.8v.8m.6-1v1m.6-.9v.9m3.2-.5v.5m3.8-.9v.9m1.7-1.9v1.9m2.4-1.1v1.1m6.9-1.2v1.2m3.1-1v1m1.7-.9v.9m4.5-1.6v1.6m2-1.6v1.6m1.2-1.4v1.4m.6-1.1v1.1m2.4-1.2v1.2m1.8-.4v.4m.6-.8v.8m1.2-1v1m2.4-1.9v1.9m6.3-1.4v1.4m3.2-1.3v1.3m.6-.9v.9m1.2-2.3v2.3m.6-1.2v1.2m.6-1.8v1.8m.6-3.1v3.1m.6-1.3v1.3m.6-3.3v3.3m.6-2.9v2.9m.6-1.4v1.4m.6-2.5v2.5m.6-1.6v1.6m.6-4.1v4.1m.6-2.4v2.4m1.2-3.5v3.5m.6-1.4v1.4m.6-2.1v2.1m1.8-1.2v1.2m6.5-1.5v1.5m.6-1.2v1.2m.6-.4v.4m2.8-2v2m.6-2.3v2.3m.6-1.8v1.8m.6-.9v.9m1.2-2v2m5-1.5v1.5m2.8-1.8v1.8m7.4-.9v.9m.6-2.3v2.3m.6-1.7v1.7m3.7-1.6v1.6m.6-1.1v1.1m8.1-1.7v1.7m3.2-1.7v1.7m2.4-1v1m-145.7 3.2v1.5m.6-1.9v1.9m.6-.5v.5m2.3-.9v.9m.8-1.8v1.8m4.6-1.8v1.8m3.5-1.1v1.1m.6-1.9v1.9m.6-1.2v1.2m.6-2.7v2.7m.6-2.7v2.7m.6-1.7v1.7m.6-2.3v2.3m.6-1.6v1.6m.6-2.3v2.3m.6-1.4v1.4m1.2-2.4v2.4m.6-2.4v2.4m1.2-1.8v1.8m.6-3v3m.6-1.2v1.2m1.8-1.7v1.7m5.5-1.1v1.1m1.2-1.7v1.7m.6-.7v.7m3.3-1.2v1.2m.6-1.5v1.5m.6-2.2v2.2m1.2-.8v.8m.6-1.6v1.6m15.8-1.5v1.5m.6-2.2v2.2m.6-1.3v1.3m.6-.6v.6m2.4-1v1m3.8-1.3v1.3m10-1.5v1.5m10.8-.8v.8m1.2-2.3v2.3m.6-2.1v2.1m.6-2.6v2.6m.6-1.2v1.2m1.8-1.8v1.8m1.8-.7v.7m.6-.8v.8m1.2-1.6v1.6m.6-2.1v2.1m.6-.8v.8m.6-.8v.8m.6-.4v.4m8-1.4v1.4m2.2-.5v.5m.6-.6v.6m1.2-1.6v1.6m1.8-1.7v1.7m.6-1.2v1.2m.6-.6v.6m1.8-1.9v1.9m2.4-.4v.4m1.8-.9v.9m11.1-.7v.7m9.4-2.3v2.3m2.4-.4v.4m3.8-1.7v1.7m.8-.4v.4m1.8-1.5v1.5m.6-1.7v1.7m1.2-.9v.9m-144.9 3.9v.8m8.7-1.2v1.2m1.2-2.5v2.5m.6-3.1v3.1m.6-3v3m.6-1.6v1.6m.6-1.3v1.3m1.2-1.9v1.9m1.3-.6v.6m.6-.8v.8m.6-2v2m.6-2.1v2.1m.6-2.4v2.4m.6-1.6v1.6m.6-1.8v1.8m5.7-.5v.5m5.4-1.1v1.1m3-2v2m1.8-.9v.9m4-.5v.5m1.2-.8v.8m3.2-2v2m10.6-.4v.4m6.4-1.3v1.3m.6-1.8v1.8m.6-3v3m.6-1.5v1.5m1.2-.9v.9m2.4-.5v.5m4-.9v.9m.6-2v2m1.2-1v1m11.8-.9v.9m.6-1.1v1.1m.6-2v2m.6-3.5v3.5m.6-1.7v1.7m.6-2.2v2.2m1.2-3.4v3.4m.6-2v2m.6-2.5v2.5m.6-2.5v2.5m.6-1.4v1.4m.6-1.2v1.2m3-.7v.7m.6-2v2m.6-2v2m1.8-.7v.7m.6-.5v.5m.6-1v1m1.2-1.3v1.3m.6-.9v.9m5.9-1.1v1.1m2.5-.9v.9m5.8-.5v.5m1.2-1.8v1.8m5.3-.9v.9m3.3-1.1v1.1m.6-2v2m.6-1.7v1.7m.6-1.8v1.8m.6-.9v.9m9.7-.4v.4m2.4-1.5v1.5m.6-1.6v1.6m4.7-2.5v2.5m-137.1 3.5v1.2m4.8-3.4v3.4m1.8-3.1v3.1m.6-1.9v1.9m.6-3.9v3.9m.6-1.6v1.6m.6-1.9v1.9m.6-2.2v2.2m1.2-1.6v1.6m.6-.5v.5m.6-.8v.8m.6-.8v.8m1.2-.5v.5m.6-1.6v1.6m1.2-1.7v1.7m.6-1.3v1.3m.6-.4v.4m1.8-1.4v1.4m.6-1v1m8.3-1.5v1.5m3.1-.9v.9m3.8-.9v.9m4-1.1v1.1m6-1.3v1.3m.6-2.2v2.2m.6-.9v.9m10.7-1.3v1.3m.6-.8v.8m1.8-2.1v2.1m4.5-1v1m.6-2.8v2.8m1.2-.6v.6m6.4-.7v.7m4.7-1.3v1.3m.6-1.1v1.1m.6-3.2v3.2m.6-2.8v2.8m.6-2v2m.6-2.5v2.5m1.2-2v2m1.2-1.6v1.6m1.2-1.1v1.1m4.7-1.8v1.8m4.7-.8v.8m.6-1.3v1.3m2.5-.9v.9m1.2-1.8v1.8m.6-1.2v1.2m.6-2.1v2.1m9.2-1.4v1.4m4.9-.4v.4m4.6-1.7v1.7m1.3-1.1v1.1m1.2-1v1m.6-.4v.4m13.8-.5v.5m1.2-2v2m1.2-.4v.4m5.2-1.2v1.2m-141.9 3.8v.9m3.6-1.8v1.8m.6-1.4v1.4m.6-2.3v2.3m.6-2.7v2.7m.6-.8v.8m.6-2.5v2.5m1.2-1.7v1.7m.6-3.4v3.4m1.2-.9v.9m5.2-1.2v1.2m4.9-1v1m2.4-.5v.5m.6-.8v.8m1.2-1.3v1.3m.6-2.6v2.6m.6-1.2v1.2m1.8-1.9v1.9m1.1-1.4v1.4m10.8-.6v.6m4.4-.7v.7m1.1-.5v.5m1.2-1v1m.6-.9v.9m8.7-.5v.5m4.8-.9v.9m1.8-1v1m6.5-.4v.4m1.8-.4v.4m3.2-1.3v1.3m2.8-1.8v1.8m5.8-1.1v1.1m.6-2.3v2.3m.6-3.2v3.2m.6-2.8v2.8m.6-2.8v2.8m.6-3.2v3.2m.6-1.5v1.5m.6-1.8v1.8m1.2-.6v.6m6.9-.5v.5m2.3-2.1v2.1m.6-1.5v1.5m.6-.4v.4m4-.5v.5m1.2-1.2v1.2m.6-.6v.6m.6-1.2v1.2m4.8-1.9v1.9m7.9-.8v.8m1.5-1.3v1.3m4.1-.4v.4m.6-1.2v1.2m.6-.9v.9m.6-1.5v1.5m3.1-1.8v1.8m6.4-1.1v1.1m1.8-.9v.9m1.2-.5v.5m1.2-1.6v1.6m-142 3.9v.8m.6-.4v.4m10.9-1.1v1.1m.6-1.4v1.4m1.2-1.8v1.8m.6-2.2v2.2m.6-3.1v3.1m1.2-2.6v2.6m.6-1.8v1.8m7.3-1.6v1.6m2.2-1.7v1.7m.6-1.2v1.2m1.2-.9v.9m5.1-1v1m.6-1.2v1.2m2.4-.5v.5m7.6-.7v.7m3.2-1.4v1.4m1.3-1.2v1.2m5.6-1.7v1.7m2.4-.4v.4m4.1-1.4v1.4m4.9-1.9v1.9m.6-1.8v1.8m1.8-.6v.6m1.8-.8v.8m1.2-1.2v1.2m2.2-.4v.4m4.8-.4v.4m1.1-.3v.3m.6-1.1v1.1m.6-1.9v1.9m.6-2.9v2.9m.6-3.7v3.7m.6-3.7v3.7m.6-3.1v3.1m1.2-3.2v3.2m3-2.1v2.1m.6-2.4v2.4m.6-2.7v2.7m.6-2.5v2.5m1.2-.9v.9m3.8-.7v.7m1.4-2.3v2.3m.6-2v2m2.8-1.6v1.6m.9-.5v.5m1.3-1.8v1.8m2.8-1.1v1.1m.6-2.1v2.1m.6-1.6v1.6m8-1.2v1.2m4.1-.3v.3m.6-.5v.5m.6-1.2v1.2m.6-1.9v1.9m1.2-1.5v1.5m9.4-1.3v1.3m.6-.9v.9m2.2-1.8v1.8m1.4-1.3v1.3m1.8-1.4v1.4m.6-.9v.9m.6-.4v.4m1-.4v.4m1.2-1.7v1.7m.6-.7v.7m-133.3 3.7v1m.6-1.7v1.7m.6-2.6v2.6m.6-3.5v3.5m.6-3.4v3.4m.6-2.5v2.5m.6-3.9v3.9m.6-2.4v2.4m.6-1.4v1.4m.6-1.1v1.1m.6-1.3v1.3m.6-1.9v1.9m.6-1.6v1.6m.6-2.1v2.1m.6-2v2m.6-1.9v1.9m.6-2.1v2.1m2.6-.9v.9m3.5-1.9v1.9m4.7-.5v.5m2.2-.5v.5m.6-1.2v1.2m1.2-1.5v1.5m.6-1.4v1.4m3.3-.9v.9m5.4-.9v.9m4.6-1.1v1.1m1.8-.6v.6m.6-1.4v1.4m8.2-.5v.5m.6-1.4v1.4m.6-1.5v1.5m.6-.7v.7m3.6-1.5v1.5m.6-1.3v1.3m1.2-.7v.7m2.7-.9v.9m1.2-.5v.5m1.6-1.9v1.9m13.5-2.3v2.3m9.4-1.1v1.1m3.3-1.8v1.8m2.4-1v1m.6-.9v.9m.6-.5v.5m.6-.6v.6m5.2-1.8v1.8m1.8-.4v.4m2.6-.9v.9m11.8-1.1v1.1m.6-.9v.9m1.2-1.1v1.1m.6-2.5v2.5m.6-1.7v1.7m.6-.5v.5m.6-.5v.5m4.5-.9v.9m9-1.5v1.5m.6-.8v.8m.6-1.1v1.1m5.3-2v2m1.9-.7v.7m-139.1 3.9v.8m.6-1.5v1.5m1.2-.6v.6m14-.6v.6m.6-1.3v1.3m.6-.8v.8m5-1v1m2-.8v.8m2.5-.5v.5m12.7-1.9v1.9m2.4-1.1v1.1m.6-1.2v1.2m8.5-.5v.5m6.3-1.5v1.5m.6-1.9v1.9m7.2-2.2v2.2m.6-.6v.6m9.9-.4v.4m.6-1.2v1.2m.6-1.3v1.3m.6-.9v.9m4.2-.5v.5m.6-1.8v1.8m.6-.8v.8m1.8-.3v.3m2.6-1.6v1.6m1.1-.3v.3m.7-.4v.4m.6-1.2v1.2m.6-2.1v2.1m.6-2.3v2.3m.6-1.1v1.1m.6-.5v.5m3.5-1.4v1.4m5.1-.8v.8m.6-2.4v2.4m.6-1.2v1.2m.6-.8v.8m5.9-2.2v2.2m.6-2v2m9.6-.6v.6m2.1-1.4v1.4m5.5-1.8v1.8m4.3-1.2v1.2m.6-2.1v2.1m1.2-1.3v1.3m2.3-1.2v1.2m-131.9 3.2v1.5m.6-1v1m4.9-.7v.7m.6-1.9v1.9m4.7-1v1m2.9-2.4v2.4m.6-2.6v2.6m.6-1.7v1.7m.6-.9v.9m8.5-.4v.4m.6-1.3v1.3m.6-2.4v2.4m.6-.8v.8m3-.6v.6m2-1.1v1.1m.6-1.2v1.2m.6-1.6v1.6m.6-1.9v1.9m9.5-.7v.7m12.7-1.6v1.6m1.8-.4v.4m4.1-.7v.7m3.2-1.4v1.4m6.7-.8v.8m4.7-1.3v1.3m4.7-1.2v1.2m7.3-1.8v1.8m.6-1.2v1.2m.6-.7v.7m5.2-.5v.5m1.8-2v2m1.4-1.8v1.8m3.9-2.2v2.2m.6-1.2v1.2m1.9-.7v.7m1.2-2.2v2.2m.6-1.3v1.3m6.8-1.7v1.7m9.9-1.6v1.6m.6-1.6v1.6m14.7-1.7v1.7m-139.3 3.6v1.1m5.1-.6v.6m1.7-.4v.4m1.9-.9v.9m4.8-1.1v1.1m1.3-1v1m.6-1.4v1.4m.6-1.1v1.1m1.2-.4v.4m5-.4v.4m.6-1.4v1.4m5.6-.4v.4m.6-1.2v1.2m3.8-2.7v2.7m.6-1.2v1.2m7.2-1.1v1.1m1.5-.7v.7m3-.8v.8m4.6-1v1m.6-1.2v1.2m1.2-.4v.4m.6-.6v.6m1.1-.8v.8m2.2-2v2m1.8-1.5v1.5m3-.4v.4m11.6-.3v.3m1.4-.8v.8m.6-1.3v1.3m.6-1.1v1.1m.6-.8v.8m.6-.3v.3m.6-.5v.5m2-.6v.6m.7-1.1v1.1m3.7-1.8v1.8m13.2-1.8v1.8m5.5-1.1v1.1m8.7-.8v.8m1.2-1.5v1.5m.6-1.4v1.4m.6-.4v.4m.6-.5v.5m1.2-1.6v1.6m.6-.6v.6m.6-.8v.8m3-1.7v1.7m6-1.4v1.4m.6-2.4v2.4m.6-.9v.9m.6-.4v.4m10.8-1.8v1.8m1.2-1.7v1.7m1.2-.3v.3m-138.9 2.8v1.9m7.4-1.2v1.2m1.2-1.4v1.4m.6-.7v.7m8.8-.9v.9m10.3-.4v.4m1.6-1.3v1.3m5.5-.6v.6m.6-.7v.7m.6-1.8v1.8m3.6-.6v.6m9.6-.5v.5m.6-2.5v2.5m.6-1.5v1.5m3.8-1.6v1.6m19.1-1.9v1.9m20.4-1.2v1.2m2.5-.9v.9m.6-1.7v1.7m.6-1.6v1.6m.6-.6v.6m10.8-1v1m5-1.4v1.4m1.2-.3v.3m1.8-1.6v1.6m2.2-.9v.9m4.6-1.2v1.2m.6-1.5v1.5m.6-1.1v1.1m.6-1.1v1.1m1.2-2.6v2.6m.6-1.4v1.4m3.3-1.4v1.4m4.3-1.4v1.4m-129.2 2.8v1.9m2.3-.3v.3m5.7-.8v.8m3.2-1.9v1.9m5.6-1.1v1.1m.6-2.7v2.7m.6-1.2v1.2m8.3-1.5v1.5m8-1.9v1.9m5.6-1.9v1.9m3-1.4v1.4m2-1.6v1.6m.6-.8v.8m.6-.7v.7m.6-2.2v2.2m.6-2.4v2.4m1.2-.9v.9m4.4-1.7v1.7m2.1-.6v.6m.6-1.5v1.5m1.2-2.3v2.3m1.2-1.3v1.3m13.3-.9v.9m1.8-1.5v1.5m1.2-.5v.5m4.2-1.6v1.6m1.2-1.3v1.3m.6-1.1v1.1m.6-.7v.7m1.5-1.8v1.8m3.5-.3v.3m.6-1.2v1.2m.6-1.2v1.2m1.2-.9v.9m.6-.4v.4m.6-.5v.5m4.2-.7v.7m6.3-1.7v1.7m3.6-.4v.4m.6-1v1m5.6-2v2m1.2-1v1m3.7-1v1m3.5-.4v.4m5.9-1.1v1.1m.6-.6v.6m.6-.5v.5m1.8-.8v.8m6.1-1.5v1.5m-138.5 3.6v1.1m3.6-1.8v1.8m1.2-.8v.8m1.2-.3v.3m3.3-1v1m1.2-2.2v2.2m1.2-.7v.7m.6-.5v.5m6.1-1v1m.6-1.9v1.9m.6-2.4v2.4m.6-1.4v1.4m1.2-1.5v1.5m4.5-1.4v1.4m3.6-2v2m3.4-1.2v1.2m2.5-.6v.6m4.2-.8v.8m4-1.4v1.4m.9-.6v.6m1.2-1.4v1.4m.6-.8v.8m.6-.4v.4m2.5-1v1m2.8-.3v.3m3.6-1.1v1.1m.6-1.2v1.2m1.8-1.5v1.5m.6-.7v.7m3.7-1.2v1.2m4.7-.8v.8m2.2-.6v.6m4.7-1.1v1.1m4.8-1.3v1.3m.6-1.3v1.3m1.2-.6v.6m1.2-.8v.8m8.6-1.4v1.4m.6-1.7v1.7m1.2-.4v.4m.6-.5v.5m.6-1.1v1.1m.6-1.7v1.7m1.2-1.1v1.1m2.5-1v1m1.2-1.4v1.4m8.8-1.7v1.7m8.1-.5v.5m4-.9v.9m19.3-2.1v2.1m.6-.8v.8m-146.8 2.8v1.9m1.2-1.5v1.5m5.3-1.6v1.6m4.1-1v1m.9-1.2v1.2m.6-.9v.9m1.8-1.6v1.6m1.2-1v1m.6-.4v.4m8.5-1.8v1.8m.6-.8v.8m1.8-1.8v1.8m.6-1v1m.6-.9v.9m3.2-1v1m.6-1.4v1.4m.6-1.8v1.8m.6-.6v.6m16.5-.8v.8m9.4-1v1m10.9-1.6v1.6m4.3-.7v.7m15.1-.8v.8m7.8-.8v.8m1.2-.8v.8m5.9-1v1m1.2-1.5v1.5m1.2-.4v.4m2.9-.6v.6m4.7-.8v.8m.6-1.2v1.2m1.8-.5v.5m1.2-.4v.4m.6-.7v.7m1.8-1.4v1.4m.6-1.6v1.6m.6-.9v.9m.6-.5v.5m1.7-1.1v1.1m2.2-.7v.7m5.6-1.3v1.3m2.8-1.3v1.3m2.7-.8v.8m8.1-1v1m1.2-.8v.8m.7-1.4v1.4m-128.3 3.2v1.5m2-.7v.7m2.9-.8v.8m.6-1.2v1.2m.6-.8v.8m.6-.4v.4m6.8-1.1v1.1m8.1-.9v.9m.6-2.3v2.3m1.8-2v2m1.2-1v1m.6-1.2v1.2m.6-.9v.9m.6-.5v.5m.6-1.1v1.1m.6-1.8v1.8m2.4-1v1m11.6-1.1v1.1m1.6-1.3v1.3m3.9-1.7v1.7m4.2-1.9v1.9m18-.6v.6m.6-1.1v1.1m4.3-.8v.8m3.4-1.2v1.2m.6-1.2v1.2m.6-1.3v1.3m.6-1.1v1.1m1.2-.9v.9m.6-2.3v2.3m.6-.9v.9m6.6-.7v.7m.6-2.4v2.4m-92.8 3.5v1.2m.6-1.3v1.3m.6-1.5v1.5m7.4-1.9v1.9m1.2-1.2v1.2m1.2-2.4v2.4m.6-1.8v1.8m.6-.5v.5m3.2-1.7v1.7m3.8-.5v.5"/>
<path id="a2" transform="scale(1.22833,1)" d="M0 4.4v-1.3l1 1 1 0 1 0 1-.1 1-.6 1 .2 1-.2 1 .7 1-.1 1 .1 1-1.8 1 1.8 1-.4 1-.7 1 .4 1-.4 1 .4 1-.1 1 .4 1-1.8 1 1.2 1-.9 1 .7 1-.2 1 .8 1-.6 1 1.2 1-1.1 1 .8 1-1.2 1 1.2 1-3 1 .7 1 .6 1-1.6 1 1.1 1-.7 1-.3 1 1.2 1-.9 1-.2 1-.2 1 1.6 1-.2 1-1.4 1 1.2 1 .2 1-.2 1-.3 1 1.2 1 .4 1-.2 1-.7 1 0 1 .9 1 .3 1-.6 1-.4 1 1.1 1-.3 1 .7 1-.9 1 .5 1-.3 1 0 1 0 1 .8 1-2.2 1 .6 1 .1 1 1.2 1 .4 1-.6 1-.5 1 .6 1 .3 1 .3 1-.6 1 .6 1-1.5 1 1.1 1 .4 1-.2 1 .2 1 0 1 0 1-.2 1-1.2 1 .7 1-.4 1-.1 1 0 1-1.3 1 1 1-2.1 1 1 1-.2 1 1.5 1-1 1-.3 1 .2 1 .2 1-.4 1-.3 1-.6 1 0 1 1 1-1 1 .7 1 .9 1-1.1 1-.1 1 .6 1-.4 1-.1 1 .5 1 1.4 1-.2 1-.6 1 1.1V4.4zM0 9.1v-1.3l1 .7 1-.9 1 .5 1 0 1-.3 1 0 1 .8 1-2.1 1 .7 1-.1 1 1.2 1 .4 1-1.5 1 .2 1 .8 1 .3 1 .3 1-.6 1 .6 1-1.5 1 1.1 1 .4 1-.2 1 .2 1 0 1 0 1-.2 1-1.2 1 .3 1 0 1-.1 1 0 1-1.3 1 1 1-2.1 1 1 1-.2 1 1.5 1-1.9 1 .6 1 .2 1 .2 1-.4 1-.4 1-.5 1 0 1 1 1-1 1 .4 1 1.2 1-1.1 1-.1 1 .6 1-.4 1-.1 1 .5 1 1.7 1-.6 1-.5 1 1.9 1-.6 1 .6 1-1.4 1 1.4 1-.2 1-.7 1-.6 1 1.4 1-.6 1 .7 1-1.7 1 1.7 1-.5 1-.4 1 .9 1 0 1-1 1 .6 1-1.1 1 .6 1-1 1 1.4 1-.4 1-.3 1 1.2 1-.7 1-.8 1 1.1 1-1.3 1 .7 1-.1 1 .8 1-2.1 1 1.4 1 .5 1-1.2 1-1.8 1-.1 1 0 1 .9 1 .1 1 .4 1-1.4 1 0 1 .8 1 .3 1 .1 1-1.2 1 1.5 1-1.3 1 1.2 1-.1 1-.9 1 2 1-2.4 1 0 1 1.8 1 .3 1 .1 1-.4V9.1zM0 13.8v-.3l1-.6 1 .6 1-.7 1 .7 1-.2 1-.7 1-.6 1 1.5 1-.6 1 .6 1-1.7 1 1.7 1-.2 1-.8 1 1 1 0 1-1 1 .6 1-.7 1 .2 1-1 1 1.4 1-.4 1-.3 1 1.2 1-.7 1-.8 1 1.1 1-1 1 .4 1-.1 1 .8 1-2.1 1 1.4 1 .5 1-1.2 1-1.8 1-.1 1 0 1 .9 1 .1 1 .4 1-1.4 1 0 1 .8 1 .3 1-.2 1-.9 1 1.5 1-1.3 1 1.2 1-.1 1 .5 1 .6 1-2.4 1 0 1 2 1-.8 1 1 1 0 1 .6 1-.3 1-.4 1 .3 1 1 1-1.3 1 1.1 1-.4 1-.6 1 1.3 1-1.7 1-.5 1 1.2 1 .5 1 .5 1-1.3 1 1.1 1 .3 1 0 1-.8 1 .1 1-1.1 1 1 1-.5 1 .1 1 .2 1-.3 1-.6 1 .7 1-1 1-1.4 1 .7 1 .7 1-1.4 1 .7 1 .8 1-1.1 1 .8 1-.8 1 1.6 1-2 1 .9 1-.1 1 .9 1-.1 1-.4 1-.2 1 .3 1 .7 1-2 1 .3 1 1.8 1-.4 1-1.1 1 1 1-.3 1 .8 1-1.2 1 1.5 1 .2V13.8zM0 18.4v-1.7l1 .6 1-.3 1-.8 1 .7 1 1 1-1.3 1 1.1 1-.2 1-.8 1 1.3 1-1.7 1-.5 1 1.3 1 .4 1 .5 1-1.3 1 1.1 1 .3 1 0 1-.8 1 .1 1-1.1 1 1 1-.5 1 .1 1 .2 1-.3 1-.6 1 .7 1-1 1-1.4 1 .7 1 .7 1-1.4 1 .7 1 .8 1-1.1 1 .8 1-.8 1 1.6 1-2 1 .9 1-.1 1 .9 1-.1 1-.4 1-.5 1 .6 1 .7 1-2 1 .3 1 1.8 1 .2 1-1.7 1 1 1-.3 1 .1 1-.1 1 1.1 1 1.2 1-.6 1 .1 1 .5 1-.6 1 .6 1-1.9 1 .8 1 .1 1 .1 1-.1 1 .1 1 .1 1-.2 1 0 1-.2 1 .7 1 .5 1-.3 1-.2 1-1.2 1 1 1-.7 1 0 1 .3 1 .8 1-.7 1-.6 1-.1 1 1.2 1-.7 1-1.3 1-.5 1-.3 1 .1 1 .5 1 .2 1-.4 1 .9 1-.5 1 .2 1 .7 1-.7 1-.7 1 .8 1 .3 1-1.5 1 .2 1 .3 1 .2 1-.7 1 .5 1-.7 1 .8 1-.7 1-.1 1 .5 1 .8 1 .1 1 .1 1 .7V18.4zM0 23.1v-.3l1-.6 1 .1 1 .5 1-.6 1 .6 1-1.9 1 .8 1 .6 1-.4 1-.1 1 .1 1 .1 1-.4 1 .2 1-.2 1 .7 1 .5 1-.3 1-.2 1-1.2 1 1 1-.7 1 0 1 .3 1 .8 1-.7 1-.6 1-.1 1 1.2 1-.7 1-1.3 1-.5 1-.3 1 .1 1 .5 1 .2 1-.4 1 .9 1-.5 1 .2 1 .7 1-.7 1-.7 1 .8 1 .3 1-1.5 1 .2 1 .3 1 .2 1-.7 1 .5 1-.7 1 1.1 1-1 1-.1 1 .5 1 .8 1 .4 1-.2 1 1.7 1 .4 1-.9 1 .7 1-.8 1 .9 1-.6 1 0 1 .7 1-1.5 1 .8 1 .6 1-.5 1 .3 1 .2 1-1.2 1 1.3 1 0 1 0 1 0 1 0 1-.4 1 .4 1 0 1-.5 1 .3 1-.2 1-.3 1 0 1 .1 1-1.2 1 .2 1 0 1 .1 1 .1 1-2.1 1 1.3 1 0 1 .5 1-1.7 1 .4 1 .3 1 .4 1-.8 1 .4 1 .2 1-.3 1 .1 1 1.3 1-2.2 1 1 1-.4 1-.6 1 0 1 .1 1 1.3 1-.7 1 .6 1 .5 1 .4 1 .1V23.1zM0 27.9v-.7l1 .4 1-.9 1 0 1-.1 1 .9 1-.6 1 0 1 .7 1-1.5 1 .8 1 .6 1-.5 1 .3 1 .2 1-1.2 1 1.3 1 0 1 0 1 0 1 0 1-.4 1 .4 1 0 1-.5 1 .3 1-.2 1-.3 1 0 1 .1 1-1.2 1 .2 1 0 1 .1 1 .1 1-2.1 1 1.3 1 0 1 .5 1-1.7 1 .4 1 .3 1 .4 1-.8 1 .4 1 .2 1-.3 1 .1 1 1.3 1-2.2 1 1 1-.4 1-.6 1 0 1 .1 1 1.3 1-.7 1 .6 1 .5 1 .4 1-1.3 1 .3 1-.6 1-.4 1-.2 1 .6 1 1.1 1-.8 1 .5 1 .2 1 .5 1 .4 1-.6 1 .5 1-1.6 1 1.6 1 .1 1-.3 1-.1 1-.1 1-.3 1 1.1 1 .3 1-.8 1 0 1 .2 1 .5 1-.7 1 1.3 1-1.2 1 .6 1-1.2 1-1.5 1 1.9 1 0 1 .2 1-.9 1 1 1-1.4 1 .8 1 .6 1-.8 1 1 1-1.2 1 1.5 1-2 1 .1 1 1.4 1-.7 1-.7 1-.2 1-.1 1 .3 1 .3 1-.2 1 0 1 .5 1-.1 1-1.1 1 .7 1 .3V27.9zM0 32.5v-3l1 .3 1-.6 1-.4 1-.2 1 .6 1 1.1 1-.8 1 .5 1 .2 1 .5 1 .4 1-.6 1 .5 1-1.6 1 1.6 1 .1 1-.3 1-.1 1-.1 1-.3 1 1.1 1 .3 1-.8 1 0 1 .2 1 .5 1-.7 1 1.3 1-1.2 1 .6 1-1.2 1-1.5 1 1.9 1 0 1 .2 1-.9 1 1 1-1.4 1 .8 1 .6 1-.8 1 1 1-1.2 1 1.5 1-2 1 .1 1 1.4 1-.7 1-.7 1-.2 1-.1 1 .3 1 .3 1-.2 1 0 1 .5 1-.1 1-1.1 1 .7 1 .3 1-.6 1-.3 1 .8 1-.8 1 .1 1 .7 1-1.1 1-.3 1 1.8 1 .3 1 .1 1-.4 1 .5 1 .2 1 0 1-1.5 1 1 1-.8 1 .9 1 .1 1 1.2 1-1 1-.9 1 1.3 1-.3 1-1.5 1 1.3 1 1.2 1-1.5 1 1.3 1-.5 1-.6 1-.5 1 1.4 1-.4 1-.4 1 1.3 1-1.3 1 .3 1-.3 1-.9 1 .7 1 .2 1-1.3 1 .7 1-.2 1 .5 1-.6 1 .1 1-.1 1-.1 1 .1 1-.2 1-.6 1 1.2 1-.8 1-.9 1 .1 1 1.7 1-1.9V32.5zM0 37.2v-2.4l1-.6 1-.3 1 .8 1-.8 1 .1 1 .7 1-1.1 1-.3 1 1.8 1 .3 1 .1 1-.4 1 .5 1 .2 1 0 1-1.5 1 1 1-.8 1 .9 1 .1 1 1.2 1-1 1-.9 1 1.3 1-.3 1-1.5 1 1.3 1 1.2 1-1.5 1 1.3 1-.5 1-.6 1-.5 1 1.4 1-.4 1-.4 1 1.3 1-1.3 1 .3 1-.3 1-.9 1 .7 1 .2 1-1.3 1 .7 1-.2 1 .5 1-.6 1 .1 1-.1 1-.1 1 .1 1-.2 1-.6 1 1.2 1-.8 1-.9 1 .1 1 1.7 1-1.9 1 .9 1 .9 1-1.2 1 1.3 1-.9 1 .9 1-.1 1 .5 1-1.8 1 .4 1 1.1 1-1.1 1 1.2 1-.5 1-.8 1 1 1-.2 1-1 1 1.7 1 1.3 1-1.2 1 1.2 1-1.3 1 .2 1-.7 1 1.2 1 .6 1-1 1-.2 1 .4 1-.6 1 1.4 1-1.3 1 .9 1-.4 1-.1 1-.3 1 1.1 1-1 1-.8 1-.1 1-.1 1 0 1 .2 1 .7 1-1.5 1-.6 1 1.2 1-.6 1-.2 1-.6 1 1 1-.2 1 .8 1-1 1 .7 1-.7 1 .4 1-1.1 1 1.2V37.2zM0 42v-3.9l1 .9 1 .9 1-1.2 1 1.3 1-.9 1 .9 1-.1 1 .5 1-1.8 1 .4 1 1.1 1-1.1 1 1.2 1-.5 1-.8 1 1 1-.2 1-1 1 1.7 1 1.3 1-1.2 1 1.2 1-1.3 1 .2 1-.7 1 1.2 1 .6 1-1 1-.2 1 .4 1-.6 1 1.4 1-1.3 1 .9 1-.4 1-.1 1-.3 1 1.1 1-1 1-.8 1-.1 1-.1 1 0 1 .2 1 .7 1-1.5 1-.6 1 1.2 1-.6 1-.2 1-.6 1 1 1-.2 1 .8 1-1 1 .7 1-.7 1 .4 1-1.1 1 .5 1 .5 1 .8 1-.7 1 .3 1-1.4 1 0 1 2 1-1.3 1 .3 1 .8 1 0 1 .1 1-.1 1 .4 1-.5 1 1.4 1-.3 1 .7 1-1.3 1 1.4 1-.8 1 .8 1-.4 1-.8 1 .6 1 .2 1-.4 1-.2 1 .3 1-.3 1 .6 1-.5 1 .6 1-1.4 1 .5 1 .6 1-.4 1-1.2 1 .5 1 .1 1 .7 1-1.2 1-.1 1 .8 1-.2 1 .9 1-.5 1-1.4 1-.3 1-.6 1 .4 1 .8 1-1.3 1 1.8 1-1.5 1 .6 1-.9 1 .8 1 .5 1-.4V42zM0 46.6v-3.4l1 .5 1 .8 1-.7 1 .3 1-1.4 1 0 1 2 1-1.3 1 .3 1 .8 1 0 1 .1 1-.1 1 .4 1-.5 1 1.4 1-.3 1 .7 1-1.3 1 1.4 1-.8 1 .8 1-.4 1-.8 1 .6 1 .2 1-.4 1-.2 1 .3 1-.3 1 .6 1-.5 1 .6 1-1.4 1 .5 1 .6 1-.4 1-1.2 1 .5 1 .1 1 .7 1-1.2 1-.1 1 .8 1-.2 1 .9 1-.5 1-1.4 1-.3 1-.6 1 .4 1 .8 1-1.3 1 1.8 1-1.5 1 .6 1-.9 1 .8 1 .5 1-.5 1 .8 1-1.5 1 .7 1 1.1 1-.1 1-.2 1 .2 1-1.8 1 2.2 1-.3 1-1.4 1 1.1 1 .3 1 .7 1-.1 1 .1 1-.1 1-.2 1 .5 1 .6 1-1 1 0 1-.6 1 1.8 1-1.4 1-.4 1 1.8 1-1.4 1-.5 1 .8 1-.4 1-.3 1-.5 1 0 1-.4 1-.2 1 .7 1-1.1 1 1.2 1 .3 1 .2 1 .4 1-1.4 1 .5 1-.3 1-.4 1 1.6 1-2.1 1 .6 1-.9 1 1.3 1-.4 1-.6 1 0 1 .4 1 .2 1-.5 1-.4 1 1 1-.8V46.6zM0 51.4v-3.1l1 .8 1-1.5 1 .7 1 1.1 1-.1 1-.2 1 .2 1-1.8 1 2.2 1-.3 1-1.4 1 1.1 1 .3 1 .7 1-.1 1 .1 1-.1 1-.2 1 .5 1 .6 1-1 1 0 1-.6 1 1.8 1-1.4 1-.4 1 1.8 1-1.4 1-.5 1 .8 1-.4 1-.3 1-.5 1 0 1-.4 1-.2 1 .7 1-1.1 1 1.2 1 .3 1 .2 1 .4 1-1.4 1 .5 1-.3 1-.4 1 1.6 1-2.1 1 .6 1-.9 1 1.3 1-.4 1-.6 1 0 1 .4 1 .2 1-.5 1-.4 1 1 1-.7 1 .2 1 .5 1-1 1 .9 1-.2 1 1.3 1-.7 1-.1 1 .2 1 1 1-.6 1 1.1 1-.3 1-.5 1 1.1 1-.2 1-2.3 1 2.1 1 .7 1-.8 1 .5 1-.4 1-.1 1-.5 1-.5 1-.2 1-.1 1 .8 1-.4 1 .6 1 .9 1-1.1 1-1 1-.1 1 2.5 1-.8 1-1.7 1 .4 1-.2 1 1.7 1-1.2 1 .3 1-1.9 1 1.6 1 1.2 1-1.7 1 .4 1 .2 1-1.4 1 .4 1 1.3 1-1.4 1-.2 1-.5 1 .8 1 .2 1-.7 1 1.1 1-.2 1 .7V51.4zM0 56.1v-3.6l1 .2 1 .5 1-1 1 .9 1-.2 1 1.3 1-.7 1-.1 1 .2 1 1 1-.6 1 1.1 1-.3 1-.5 1 1.1 1-.2 1-2.3 1 2.1 1 .7 1-.8 1 .5 1-.4 1-.1 1-.5 1-.5 1-.2 1-.1 1 .8 1-.4 1 .6 1 .9 1-1.1 1-1 1-.1 1 2.5 1-.8 1-1.7 1 .4 1-.2 1 1.7 1-1.2 1 .3 1-1.9 1 1.6 1 1.2 1-1.7 1 .4 1 .2 1-1.4 1 .4 1 1.3 1-1.4 1-.2 1-.5 1 .8 1 .2 1-.7 1 1.1 1-.2 1 .7 1-1.9 1-.1 1 1.5 1 .5 1-.1 1-.3 1 .6 1-.8 1 .4 1-.2 1 2 1-1.3 1-.2 1 .3 1 0 1-.4 1 0 1 1.3 1 .3 1-1.7 1 .4 1 .5 1 .1 1-.7 1 .3 1-.4 1 1.2 1-.5 1-.9 1-.3 1 .4 1-1.2 1 1.3 1-.1 1-.9 1 1.3 1-1.6 1 .4 1 .6 1-1.4 1 .4 1 0 1 2 1-1.2 1-1.6 1 1.1 1-.4 1-.5 1 .6 1 .3 1-1.1 1 .7 1-.7 1 1 1-.6 1 0 1 .9 1 .7 1 0 1-.9V56.1zM0 60.8v-1.9l1-1.9 1-.1 1 1.5 1 .5 1-.1 1-.3 1 .6 1-.8 1 .4 1-.2 1 2 1-1.3 1-.2 1 .3 1 0 1-.4 1 0 1 1.3 1 .3 1-1.7 1 .4 1 .5 1 .1 1-.7 1 .3 1-.4 1 1.2 1-.5 1-.9 1-.3 1 .4 1-1.2 1 1.3 1-.1 1-.9 1 1.3 1-1.6 1 .4 1 .6 1-1.4 1 .4 1 0 1 2 1-1.2 1-1.6 1 1.1 1-.4 1-.5 1 .6 1 .3 1-1.1 1 .7 1-.7 1 1 1-.6 1 0 1 .9 1 .7 1 0 1-1.3 1 .4 1-.1 1 .1 1-.4 1-.3 1 .4 1 .9 1 1.3 1-.9 1-.6 1 .4 1 .1 1 .1 1 .8 1-.7 1 .2 1-1.6 1 2 1 .3 1-1 1 1 1-1.6 1 1.2 1-.3 1 .5 1-1.1 1 1.7 1-.7 1 .4 1 .3 1-1.4 1-.4 1 .6 1-1.4 1 1.6 1-.1 1 .1 1-1 1 .1 1-1 1 .6 1-1.2 1 .7 1 .5 1 .6 1-.7 1-.5 1-.4 1 1.8 1-.3 1 .1 1-.8 1 .4 1-1.2 1 2.1 1-.1 1-.9 1 .6 1-.7 1 .9V60.8zM0 65.5v-3.2l1 .4 1-.1 1 .1 1-.4 1-.3 1 .4 1 .9 1 1.3 1-.9 1-.6 1 .4 1 .1 1 .1 1 .8 1-.7 1 .2 1-1.6 1 2 1 .3 1-1 1 1 1-1.6 1 1.2 1-.3 1 .5 1-1.1 1 1.7 1-.7 1 .4 1 .3 1-1.4 1-.4 1 .6 1-1.4 1 1.6 1-.1 1 .1 1-1 1 .1 1-1 1 .6 1-1.2 1 .7 1 .5 1 .6 1-.7 1-.5 1-.4 1 1.8 1-.3 1 .1 1-.8 1 .4 1-1.2 1 2.1 1-.1 1-.9 1 .6 1-.7 1 .9 1-.3 1 .4 1-.6 1 .2 1 1.5 1-1.1 1-.3 1-.6 1 1.4 1 .2 1-.7 1 .9 1 .5 1 0 1-.1 1-1.1 1 .7 1-1.1 1-.3 1 1.9 1-1.5 1 1.3 1-.9 1-.5 1 .1 1 .2 1 .2 1-.6 1-1.3 1 1.9 1-1.2 1-1.1 1-.2 1 0 1 1.5 1-1.4 1 .8 1-.9 1 0 1 1 1 .2 1-.6 1 .6 1 .4 1 .2 1-1.8 1 2.1 1-.8 1-.4 1 .5 1-.6 1-.7 1 .2 1 1.6 1-1.5 1 1.1 1-.1 1 .2 1 .5 1-1.4V65.5zM0 70.2v-1.8l1-.3 1 .4 1-.6 1 .2 1 1.5 1-1.1 1-.3 1-.6 1 1.4 1 .2 1-.7 1 .9 1 .5 1 0 1-.1 1-1.1 1 .7 1-1.1 1-.3 1 1.9 1-1.5 1 1.3 1-.9 1-.5 1 .1 1 .2 1 .2 1-.6 1-1.3 1 1.9 1-1.2 1-1.1 1-.2 1 0 1 1.5 1-1.4 1 .8 1-.9 1 0 1 1 1 .2 1-.6 1 .6 1 .4 1 .2 1-1.8 1 2.1 1-.8 1-.4 1 .5 1-.6 1-.7 1 .2 1 1.6 1-1.5 1 1.1 1-.1 1 .2 1 .5 1-.5 1 .2 1 1.5 1-.8 1 .4 1-.9 1 .3 1 1.3 1-1.9 1 1.9 1-.6 1-.1 1 .1 1-.4 1-.1 1-.6 1 .7 1-.2 1-.2 1-1.1 1 2.1 1-1.2 1 .3 1-1 1 .5 1 1.2 1-1 1 .4 1-1.2 1 .8 1-.1 1-.2 1-.3 1-.5 1 .5 1-.6 1 .8 1-1.1 1 .3 1-.3 1 1.4 1-1.4 1 .2 1-.7 1 1.5 1-.1 1 .2 1 .2 1-1.2 1 .6 1-.1 1 .6 1-1.4 1 1.2 1-.9 1 1.2 1-.3 1 .2 1 .7 1-.6 1 1.3V70.2zM0 74.9v-2.3l1 .2 1 1.5 1-.8 1 .4 1-.9 1 .3 1 1.3 1-1.9 1 1.9 1-.6 1-.1 1 .1 1-.4 1-.1 1-.6 1 .7 1-.2 1-.2 1-1.1 1 2.1 1-1.2 1 .3 1-1 1 .5 1 1.2 1-1 1 .4 1-1.2 1 .8 1-.1 1-.2 1-.3 1-.5 1 .5 1-.6 1 .8 1-1.1 1 .3 1-.3 1 1.4 1-1.4 1 .2 1-.7 1 1.5 1-.1 1 .2 1 .2 1-1.2 1 .6 1-.1 1 .6 1-1.4 1 1.2 1-.9 1 1.2 1-.3 1 .2 1 .7 1-.6 1 1.1 1-.2 1 .7 1-1.2 1 1.2 1 .2 1-.3 1-.3 1-1.2 1 .6 1 1 1-.4 1-1.2 1 .5 1 .8 1-.2 1-1 1 1.1 1 .6 1-1.7 1 1.7 1-2.5 1 1.2 1-1.1 1 0 1 .5 1-.5 1 .5 1-.8 1-.7 1 1.2 1-.2 1-1 1 .7 1 0 1 .1 1-1 1 0 1 2.1 1-1.8 1-.3 1 0 1 0 1 0 1 0 1 1.1 1-.9 1 .4 1 .2 1 .6 1-.9 1 .4 1 .8 1 0 1 .1 1 .8 1 .6 1-2.1 1 .8 1 .6 1-1V74.9zM0 79.6v-1l1-.2 1 .7 1-1.2 1 1.2 1 .2 1-.3 1-.3 1-1.2 1 .6 1 1 1-.4 1-1.2 1 .5 1 .8 1-.2 1-1 1 1.1 1 .6 1-1.7 1 1.7 1-2.5 1 1.2 1-1.1 1 0 1 .5 1-.5 1 .5 1-.8 1-.7 1 1.2 1-.2 1-1 1 .7 1 0 1 .1 1-1 1 0 1 2.1 1-1.8 1-.3 1 0 1 0 1 0 1 0 1 1.1 1-.9 1 .4 1 .2 1 .6 1-.9 1 .4 1 .8 1 0 1 .1 1 .8 1 .6 1-2.1 1 .8 1 .6 1-.8 1 1 1-1.2 1 1.1 1-.4 1 1.1 1-.9 1-.4 1 1 1-.3 1-.6 1-.4 1 .2 1 1 1-.3 1 0 1-1 1 .9 1-.2 1-.3 1 .3 1-.5 1 .7 1 .2 1-1.5 1 1.2 1-.7 1-.2 1 1.2 1-.4 1-1.5 1 1 1-1 1 .6 1-1.1 1 1.3 1-1.6 1 0 1 .5 1 .2 1 .1 1 0 1 1.4 1-.2 1-1 1 .8 1-.3 1-.6 1 .8 1 .8 1-1.3 1 1.9 1-.9 1-1 1 .7 1 1.3 1-1 1-.1 1 0 1 .5 1-.4V79.6zM0 84.3v-2.2l1 1 1-1.2 1 1.1 1-.4 1 1.1 1-.9 1-.4 1 1 1-.3 1-.6 1-.4 1 .2 1 1 1-.3 1 0 1-1 1 .9 1-.2 1-.3 1 .3 1-.5 1 .7 1 .2 1-1.5 1 1.2 1-.7 1-.2 1 1.2 1-.4 1-1.5 1 1 1-1 1 .6 1-1.1 1 1.3 1-1.6 1 0 1 .5 1 .2 1 .1 1 0 1 1.4 1-.2 1-1 1 .8 1-.3 1-.6 1 .8 1 .8 1-1.3 1 1.9 1-.9 1-1 1 .7 1 1.3 1-1 1-.1 1 0 1 .5 1-.6 1-1.1 1 .6 1 2.1 1-.8 1-1 1 1.8 1-.4 1 0 1-1.1 1 0 1 .5 1-.7 1 1.2 1-1.1 1 .7 1-.8 1 .7 1-1.3 1 .7 1 .3 1-.2 1 .7 1-.8 1-.8 1 1.1 1-1.4 1 .4 1-.3 1 .8 1-.7 1 .8 1-1.2 1-.7 1 1.6 1-1.6 1 .6 1 .1 1 .8 1-1 1 .7 1-.5 1 1.1 1-1.4 1 1.1 1 0 1-.5 1 0 1 .3 1 .2 1-.4 1 .8 1-.7 1 1.2 1-.3 1-.1 1 .2 1 .4 1-.7 1 .8 1 .6V84.3zM0 89v-1.9l1-1.1 1 .6 1 2.1 1-.8 1-1 1 1.8 1-.4 1 0 1-1.1 1 0 1 .5 1-.7 1 1.2 1-1.1 1 .7 1-.8 1 .7 1-1.3 1 .7 1 .3 1-.2 1 .7 1-.8 1-.8 1 1.1 1-1.4 1 .4 1-.3 1 .8 1-.7 1 .8 1-1.2 1-.7 1 1.6 1-1.6 1 .6 1 .1 1 .8 1-1 1 .7 1-.5 1 1.1 1-1.4 1 1.1 1 0 1-.5 1 0 1 .3 1 .2 1-.4 1 .8 1-.7 1 1.2 1-.3 1-.1 1 .2 1 .4 1-.7 1 .8 1-.4 1 0 1 .7 1-.2 1 0 1-1.9 1 1.9 1 0 1-.9 1 .4 1-.5 1 .9 1-1.1 1-.4 1 1.5 1-.7 1-.5 1 .5 1-.2 1-.6 1-.3 1 1 1-.1 1-.2 1-1.1 1 .3 1-.2 1-.2 1-.4 1 1.5 1-1.1 1 0 1 .2 1 0 1-.4 1 1.2 1-.7 1-.4 1 1.8 1-.3 1-.7 1 1.5 1-.1 1-1.9 1 1.5 1-.7 1 .8 1 .9 1 .3 1-.8 1-.9 1 1 1-1.1 1 .5 1 1.2 1-.5 1-.9 1 .6 1-.8 1-.1 1 .2V89zM0 93.7v-1.6l1 0 1 .7 1-.2 1 0 1-1.9 1 1.9 1 0 1-.9 1 .4 1-.5 1 .9 1-1.1 1-.4 1 1.5 1-.7 1-.5 1 .5 1-.2 1-.6 1-.3 1 1 1-.1 1-.2 1-1.1 1 .3 1-.2 1-.2 1-.4 1 1.5 1-1.1 1 0 1 .2 1 0 1-.4 1 1.2 1-.7 1-.4 1 1.8 1-.3 1-.7 1 1.5 1-.1 1-1.9 1 1.5 1-.7 1 .8 1 .9 1 .3 1-.8 1-.9 1 1 1-1.1 1 .5 1 1.2 1-.5 1-.9 1 .6 1-.8 1-.1 1 .9 1-.5 1-.3 1-.2 1 .2 1 1 1 .1 1-.9 1 .9 1-1.4 1 .1 1 1.4 1-1 1 .3 1-1.8 1-.3 1 .2 1 .8 1-1.1 1 .9 1-.5 1 .1 1 1.3 1-1 1 .4 1-.3 1-.6 1 .4 1 .5 1 .5 1 .4 1 .4 1-1.5 1-.4 1 1 1 1.1 1 .8 1-1.6 1 .9 1 0 1-.2 1-1.3 1 .6 1 1 1 .4 1-1.3 1 1.6 1-.6 1-.8 1 .6 1 .3 1 0 1-1 1 0 1-.5 1 1.2 1 .5 1-1.7 1-1.6 1 2.4 1-2V93.7zM0 98.4v-1.4l1-.5 1-.3 1-.2 1 .2 1 1 1 .1 1-.9 1 .9 1-1.4 1 .1 1 1.4 1-1 1 .3 1-1.8 1-.3 1 .2 1 .8 1-1.1 1 .9 1-.5 1 .1 1 1.3 1-1 1 .4 1-.3 1-.6 1 .4 1 .5 1 .5 1 .4 1 .4 1-1.5 1-.4 1 1 1 1.1 1 .8 1-1.6 1 .9 1 0 1-.2 1-1.3 1 .6 1 1 1 .4 1-1.3 1 1.6 1-.6 1-.8 1 .6 1 .3 1 0 1-1 1 0 1-.5 1 1.2 1 .5 1-1.7 1-1.6 1 2.4 1-2.4 1 .9 1-.9 1 .1 1 .6 1 0 1-.6 1-.1 1 1.2 1 0 1 .3 1-.4 1 .1 1 1.4 1-1.9 1 1.2 1 .3 1-1 1 1.4 1-.4 1-.7 1 1 1 .3 1-.5 1-.3 1-.2 1-.9 1 1.2 1-.2 1 1.4 1-.4 1 .7 1-.2 1-.3 1-.9 1 .1 1 1 1-.8 1-1.3 1 1.4 1 .1 1-.5 1-.6 1 .5 1-.5 1 .3 1-.5 1 1.2 1 .3 1-1.1 1-.6 1 .3 1 1.1 1-1.1 1 .4 1 .5 1-1 1-.6 1 1.5 1-.6 1 .1V98.4zM0 103.1v-3.9l1 .9 1-.9 1 .1 1 .6 1 0 1-.6 1-.1 1 1.2 1 0 1 .3 1-.4 1 .1 1 1.4 1-1.9 1 1.2 1 .3 1-1 1 1.4 1-.4 1-.7 1 1 1 .3 1-.5 1-.3 1-.2 1-.9 1 1.2 1-.2 1 1.4 1-.4 1 .7 1-.2 1-.3 1-.9 1 .1 1 1 1-.8 1-1.3 1 1.4 1 .1 1-.5 1-.6 1 .5 1-.5 1 .3 1-.5 1 1.2 1 .3 1-1.1 1-.6 1 .3 1 1.1 1-1.1 1 .4 1 .5 1-1 1-.6 1 1.5 1-.6 1 .2 1-.8 1 0 1 1.4 1-.6 1-.6 1 0 1 0 1-1.2 1 .3 1-.1 1 1.1 1 .7 1 .2 1-1.5 1 .6 1-.9 1 1.9 1-.5 1 1.3 1-.8 1-.8 1 1.6 1-.9 1-2.3 1 2.8 1-.3 1 0 1-1.1 1 1.2 1 .2 1-.3 1-.3 1-.6 1 .8 1 .2 1 .3 1-.1 1-.5 1 .2 1-.8 1 1.4 1 .5 1-1.2 1-.8 1-.3 1 .3 1 .2 1 1.2 1-1.6 1 .2 1 1.4 1-1.7 1 1.9 1-1.5 1 .6 1-.8 1 .3 1-.4 1-.2 1 .4V103.1zM0 107.8v-2l1-.8 1 0 1 1.4 1-.6 1-.6 1 0 1 0 1-1.2 1 .3 1-.1 1 1.1 1 .7 1 .2 1-1.5 1 .6 1-.9 1 1.9 1-.5 1 1.3 1-.8 1-.8 1 1.6 1-.9 1-2.3 1 2.8 1-.3 1 0 1-1.1 1 1.2 1 .2 1-.3 1-.3 1-.6 1 .8 1 .2 1 .3 1-.1 1-.5 1 .2 1-.8 1 1.4 1 .5 1-1.2 1-.8 1-.3 1 .3 1 .2 1 1.2 1-1.6 1 .2 1 1.4 1-1.7 1 1.9 1-1.5 1 .6 1-.8 1 .3 1-.4 1-.2 1 .2 1-.2 1 .1 1-.8 1 .5 1-.9 1 1.7 1-.6 1-1.2 1 1.3 1-1.3 1 .8 1 1.1 1-1 1 .1 1 1.2 1-1.8 1 1.7 1-.4 1-1.4 1 1.9 1-.4 1 .5 1-.8 1 .5 1 .7 1 0 1-1.2 1 .1 1 1 1-1.2 1 1.4 1-.6 1-.3 1 .5 1 .4 1-1.2 1 1.8 1-1.8 1 1 1 1 1-1.3 1 .1 1-.5 1-.2 1 .1 1 1 1-1.3 1-.5 1 1.2 1-2.1 1 2.2 1-2.3 1 .7 1-.2 1-.5 1 .3 1 1 1 .3 1-1.6 1 1.1V107.8zM0 112.5v-2.5l1-.2 1 .1 1-.8 1 .5 1-.9 1 1.7 1-.6 1-1.2 1 1.3 1-1.3 1 .8 1 1.1 1-1 1 .1 1 1.2 1-1.8 1 1.7 1-.4 1-1.4 1 1.9 1-.4 1 .5 1-.8 1 .5 1 .7 1 0 1-1.2 1 .1 1 1 1-1.2 1 1.4 1-.6 1-.3 1 .5 1 .4 1-1.2 1 1.8 1-1.8 1 1 1 1 1-1.3 1 .1 1-.5 1-.2 1 .1 1 1 1-1.3 1-.5 1 1.2 1-2.1 1 2.2 1-2.3 1 .7 1-.2 1-.5 1 .3 1 1 1 .3 1-1.6 1 1.1 1-1.1 1 .8 1 .4 1-1.2 1 .7 1 .4 1-.3 1-.1 1 .4 1 .2 1-1 1-.2 1-.1 1 .9 1 1 1-.4 1-.8 1 .3 1 .7 1 .4 1-.7 1 1.2 1-.7 1-.4 1 1.8 1-1.5 1 1.8 1-.9 1-.8 1 .9 1-.3 1-.5 1 0 1 .6 1 1 1-1.9 1 1.1 1-.5 1 1 1 .3 1-1 1-.5 1-.3 1 1.6 1-1.4 1 .9 1-.1 1-1.9 1 .9 1-.4 1-.3 1 .6 1 .9 1-.8 1 .7 1-.2 1-1 1 .6 1-1.1 1 .9V112.5zM0 117.2v-2.8l1-1.1 1 .8 1 .4 1-1.2 1 .7 1 .4 1-.3 1-.1 1 .4 1 .2 1-1 1-.2 1-.1 1 .9 1 1 1-.4 1-.8 1 .3 1 .7 1 .4 1-.7 1 1.2 1-.7 1-.4 1 1.8 1-1.5 1 1.8 1-.9 1-.8 1 .9 1-.3 1-.5 1 0 1 .6 1 1 1-1.9 1 1.1 1-.5 1 1 1 .3 1-1 1-.5 1-.3 1 1.6 1-1.4 1 .9 1-.1 1-1.9 1 .9 1-.4 1-.3 1 .6 1 .9 1-.8 1 .7 1-.2 1-1 1 .6 1-1.1 1 .8 1 .2 1-.4 1 .1 1-.5 1-.4 1-.1 1 .6 1-.8 1-.3 1 1.9 1 .1 1-.7 1-.1 1 .7 1-.3 1 .8 1-1.7 1 1.4 1-.5 1 .3 1 .1 1 .6 1-.7 1 .2 1 .6 1-1.1 1 .7 1-.2 1-.1 1-.1 1 0 1-.4 1 1.3 1 .3 1 .3 1-.3 1-.2 1-1.6 1 1.7 1-1.3 1 .9 1-.8 1 .8 1-.1 1-1.6 1-.3 1 .8 1-.2 1-.1 1-.3 1-.2 1 .4 1-.1 1 .7 1-.5 1 1 1-.8 1 0 1-.4 1 .2V117.2zM0 121.9v-2.3l1 .2 1-.4 1 .1 1-.5 1-.4 1-.1 1 .6 1-.8 1-.3 1 1.9 1 .1 1-.7 1-.1 1 .7 1-.3 1 .8 1-1.7 1 1.4 1-.5 1 .3 1 .1 1 .6 1-.7 1 .2 1 .6 1-1.1 1 .7 1-.2 1-.1 1-.1 1 0 1-.4 1 1.3 1 .3 1 .3 1-.3 1-.2 1-1.6 1 1.7 1-1.3 1 .9 1-.8 1 .8 1-.1 1-1.6 1-.3 1 .8 1-.2 1-.1 1-.3 1-.2 1 .4 1-.1 1 .7 1-.5 1 1 1-.8 1 0 1-.4 1 .4 1 0 1 .2 1-.9 1 1.5 1-1 1-.8 1 .9 1 0 1-.8 1 1.6 1-.1 1-1.4 1-.5 1 .2 1 .3 1 1.3 1 .1 1-1.2 1-.5 1 2 1 .5 1-2.2 1 1.6 1-1 1 1.4 1 .6 1-.6 1-.7 1 .6 1-.6V121.9zM0 126.6v-2.6l1 0 1 .2 1-.9 1 1.5 1-1 1-.8 1 .9 1 0 1-.8 1 1.6 1-.1 1-1.4 1-.5 1 .2 1 .3 1 1.3 1 .1 1-1.2 1-.5 1 2 1 .5 1-2.2 1 1.6 1-1 1 1.4 1 .6 1-.6 1-.7 1 .6 1-.6V126.6z"/>
<path id="v2" transform="scale(1.22833,1)" d="M0 4.4v-.9l1 .1 1-2.5 1 1.7 1-.7 1 0 1 .2 1-.7 1 .2 1-.5 1 .7 1-.7 1 .8 1-.1 1 .1 1-1.4 1 1.4 1-1.6 1 .3 1 0 1 .5 1-.1 1-.2 1 .1 1 1.4 1-1.1 1 1.3 1 0 1-1.3 1 1 1 1.8 1-.1 1-1.4 1 1.1 1-.7 1 .7 1 .2 1-1.5 1 .8 1-.9 1 0 1 .2 1 .2 1 .1 1 .6 1-.5 1-.7 1 1.6 1 .2 1-.7 1-.2 1 .5 1 .5 1-.3 1-.6 1 .8 1 .1 1-1 1-.3 1 .6 1 .2 1-.3 1-1.3 1-.2 1 .1 1-1.1 1 .4 1 1.1 1-1.9 1 0 1 3.1 1-1.1 1-.9 1 1.4 1-1.1 1-1.2 1 .7 1 .2 1 .9 1-.1 1-.9 1 1 1-.6 1-.4 1 .5 1 .6 1-.9 1 .4 1-.5 1 .9 1-.1 1 .6 1-.1 1 0 1-.2 1 .8 1 .4 1 .3 1 0 1-.3 1-.2 1 .5 1-.4 1-.4 1 .8 1-.6 1-.5 1 .5 1-.1 1 .6 1-.5 1 .6 1-.8 1-.5 1 1.3 1 0 1-.8 1-.9 1 1.7 1-1 1 1V4.4zM0 9.1v-.7l1-.3 1-1.3 1-.2 1 .2 1-1.2 1 .4 1 1.1 1-.7 1-.8 1 2.7 1-1.1 1-.9 1 .8 1-.6 1-1.1 1 .7 1 .2 1 .9 1 .5 1-1.5 1 1 1-.6 1-.4 1 .5 1 .6 1-.9 1 .4 1-.5 1 1.1 1-.3 1 .6 1-.1 1 0 1-.2 1 .8 1 .4 1 .3 1 0 1 0 1-.5 1 .5 1-.4 1-.4 1 .6 1-.4 1-.5 1 1.1 1-.7 1-.2 1 .3 1 .6 1-.8 1 .1 1 .7 1 0 1-.8 1-1.3 1 2.1 1-1 1 .1 1-.3 1-1.4 1 .6 1-.8 1 .5 1 .3 1-1.4 1 1.3 1 .4 1-1.2 1 .2 1 1.8 1-2 1 .7 1-.5 1 .5 1 .4 1-.7 1 0 1-.4 1 .2 1 1.8 1-1.3 1 .5 1 .5 1-1.4 1 1.4 1-1 1-.1 1 .6 1 0 1 .6 1 .1 1-.5 1-1.1 1 1 1 1.2 1-1.1 1 1.2 1-.7 1-.2 1-.6 1 1.5 1-.7 1 .8 1-.9 1 1 1-1.2 1 .1 1-.9 1 .6 1-.6 1 1.5 1-.8 1 .3 1 .5 1-.6 1 .4 1-1.2 1 1.3V9.1zM0 13.8v-1.1l1-.3 1-1.4 1 .4 1-.8 1 .7 1 .3 1-1.4 1 .9 1 .1 1-.5 1 .2 1 1.8 1-2.4 1 1.4 1-.8 1 .5 1 .4 1-.7 1-.6 1 .2 1 .2 1 1.8 1-1.3 1 .5 1 .5 1-1.4 1 1.4 1-1 1 .7 1-.2 1 0 1 .6 1 .1 1-.5 1-1.1 1 1 1 1.2 1-1.1 1 1 1-.5 1-.2 1-.6 1 1.5 1-.7 1 .8 1-.9 1 .4 1-.6 1 .1 1-.9 1 .6 1-.6 1 2.1 1-1.4 1 .3 1 .5 1-.9 1 .4 1-.9 1 .3 1 .6 1-.7 1-1.4 1-.3 1 1.3 1-1.3 1-.2 1 1.2 1-.2 1 .9 1-1.2 1-.2 1 1.3 1-1.5 1-.2 1 1.5 1-1.2 1 .2 1 0 1 .3 1-.6 1 1.3 1-.2 1-.6 1 .8 1-.8 1 .2 1-.1 1 0 1 1.4 1-.3 1-.7 1 1.7 1-1.1 1 .4 1 1.1 1-.9 1 .1 1-.8 1 1 1-.3 1 .3 1-1 1 .8 1-.5 1 .5 1 .5 1-1.1 1 .7 1 0 1 .5 1-.7 1 0 1 0 1-.5 1 .7 1 .5 1-.2 1-1.1 1 .3V13.8zM0 18.4v-1.9l1 .6 1-.7 1-1.8 1 .1 1 1.3 1-1.3 1-.2 1 .6 1 .4 1 .9 1-1.2 1-.2 1 .4 1-.6 1-.2 1 1.5 1-1.2 1 .2 1 0 1 .3 1-.6 1 1.3 1-.2 1-.6 1 .8 1-.8 1 .2 1-.1 1 0 1 1.4 1-.3 1-.7 1 1.7 1-1.1 1 .4 1 1.1 1-.9 1 .1 1-.8 1 1 1-.3 1 .3 1-1 1 .8 1-.5 1 .5 1 .7 1-1.3 1 .7 1 0 1 .5 1-.7 1-.7 1 .7 1-.5 1 .7 1 0 1 1 1-1.8 1-1 1 1.5 1-1.1 1-.4 1 .4 1 1.3 1-1.9 1 .8 1-.4 1-.2 1 1.6 1-1.4 1 1.3 1-2.1 1 1.4 1-1 1-.2 1-.5 1 1.8 1-1.7 1 .9 1-.7 1 0 1 1.2 1-1.5 1 1.5 1 .7 1 0 1-1.2 1 2 1-.5 1 1.1 1 .1 1 0 1 0 1-.7 1 .1 1 .6 1-1 1 1 1-.7 1-.3 1-.9 1 1.3 1 .6 1-1.2 1 .4 1-.1 1-.6 1-.5 1 .9 1 .6 1-.2 1-.3 1 .6 1-1 1-.1 1-.1 1 1 1-.6 1-1.6V18.4zM0 23.1v-3l1 1.5 1-1.1 1 .1 1-.1 1 1.3 1-1.9 1 .8 1-1.5 1 .9 1 1.6 1-1.4 1 1.3 1-1.2 1 .5 1-1 1-.2 1-.5 1 1.8 1-1.7 1 .9 1-.7 1 0 1 1.2 1-1.5 1 1.5 1 .7 1 0 1-1.2 1 2 1-.5 1 1.1 1 .1 1 0 1 0 1-.7 1 .1 1 .6 1-1 1 1 1-.7 1-.3 1-.9 1 1.3 1 .6 1-1.2 1 .4 1-.1 1-.6 1-.5 1 .9 1 .6 1-.2 1-.7 1 1 1-1 1-.1 1-.1 1 .8 1-.4 1-1.4 1 .4 1 .1 1-.2 1 .3 1-.8 1 .6 1-.4 1 .4 1-1.1 1 .5 1 .7 1-1.6 1 .6 1-.2 1-.3 1 .8 1-.5 1-.4 1 1.8 1-1.2 1-.3 1 1.3 1-.1 1-.2 1 .8 1-2.1 1 2.5 1-.3 1 .6 1-.5 1-.4 1 .5 1-.1 1 1.2 1-1.7 1 .2 1 .2 1 .7 1 .2 1-1.1 1 1.6 1-1.5 1 1.4 1-.2 1 .4 1-.7 1 .3 1-.1 1-1.7 1 .8 1 .4 1-.6 1-.6 1 .9 1-.4 1-.4 1 1.4 1-.9 1 .2 1-.6V23.1zM0 27.9v-2.8l1 .4 1 .1 1-.3 1 .4 1-.8 1 .6 1-.4 1 .2 1-.9 1 .5 1 .7 1-1.6 1 .7 1-.3 1-.3 1 .8 1-.5 1-.4 1 1.8 1-1.2 1-.3 1 1.3 1-.1 1-.2 1 .8 1-2.1 1 2.5 1-.3 1 .6 1-.5 1-.4 1 .5 1-.1 1 1.2 1-1.7 1 .2 1 .2 1 .7 1 .2 1-1.1 1 1.6 1-1.5 1 1.4 1-.2 1 .4 1-.7 1 .3 1-.1 1-1.7 1 .8 1 .4 1-.6 1-.6 1 .9 1-.4 1-.4 1 1.4 1-.9 1 .2 1-2.3 1 0 1 1.2 1-1 1 1.5 1 0 1-1.6 1-.1 1 0 1 .9 1-.6 1 .2 1 .4 1-.9 1 .2 1-.2 1 1.4 1-.6 1-.8 1 .1 1 .6 1-.2 1 2.2 1-1.9 1 1.7 1-1.4 1 1 1 .2 1-.8 1 1.8 1-1.3 1-.2 1-1 1 1.7 1 1 1-2.4 1 1.8 1-.2 1 .1 1 .3 1-2.3 1 2 1 .2 1 .3 1-1.4 1 1.2 1-.3 1 .1 1 .8 1-1.3 1 .4 1 .7 1-.7 1-1.2 1 .7 1-.4 1 .1 1 .8 1 0 1-.4 1 .9V27.9zM0 32.5v-3.9l1 0 1 1.2 1-1 1 1.5 1 0 1-1.6 1-.1 1 0 1 .9 1-.6 1 .2 1 .4 1-.9 1 .2 1-.2 1 1.4 1-.6 1-.8 1 .1 1 .6 1-.2 1 2.2 1-1.9 1 1.7 1-1.4 1 1 1 .2 1-.8 1 1.8 1-1.3 1-.2 1-1 1 1.7 1 1 1-2.4 1 1.8 1-.2 1 .1 1 .3 1-2.3 1 2 1 .2 1 .3 1-1.4 1 1.2 1-.3 1 .1 1 .8 1-1.3 1 .4 1 .7 1-.7 1-1.2 1 .7 1-.4 1 .1 1 .8 1 0 1-.4 1 .4 1-1.2 1 .9 1-.7 1-.8 1 .5 1-.5 1 .4 1 .3 1-1.7 1 1.1 1-1.1 1 0 1 0 1 1.6 1-1.4 1-.2 1 .6 1-.6 1 .2 1 .5 1-.3 1-.4 1 0 1 1.6 1 1.8 1-2.5 1-.1 1-.5 1 1.7 1 .3 1 .1 1 .4 1-.1 1-.7 1 .9 1 .8 1-1.2 1 1.2 1-1.7 1 .7 1 .1 1 .9 1-.9 1 .9 1-1.8 1 .5 1 .1 1 1.2 1-1.1 1 1.1 1-1 1 .3 1-1.1 1 1 1 .2 1 .1 1-1 1-1 1 .9 1-.1V32.5zM0 37.2v-1.1l1-1.2 1 .9 1-.7 1-.8 1 .5 1-.5 1 .4 1 .3 1-1.7 1 1.1 1-1.1 1 0 1 0 1 1.6 1-1.4 1-.2 1 .6 1-.6 1 .2 1 .5 1-.3 1-.4 1 0 1 1.6 1 1.8 1-2.5 1-.1 1-.5 1 1.7 1 .3 1 .1 1 .4 1-.1 1-.7 1 .9 1 .8 1-1.2 1 1.2 1-1.7 1 .7 1 .1 1 .9 1-.9 1 .9 1-1.8 1 .5 1 .1 1 1.2 1-1.1 1 1.1 1-1 1 .3 1-1.1 1 1 1 .2 1 .1 1-1 1-1 1 .9 1-.4 1 .1 1-.8 1-.3 1 1.3 1-2 1 1 1-.7 1 1.2 1-1.2 1-.3 1 1.6 1-1.6 1 1.1 1 .3 1 .3 1-.7 1 1.6 1-1 1-.5 1-.3 1-.7 1-.1 1 .2 1 1 1-.1 1-.9 1 1.2 1 .3 1-.6 1 1.1 1 1.3 1 .1 1 .1 1-.8 1-.3 1 .4 1 .7 1-.7 1 .1 1 .5 1-.3 1 .1 1-1.3 1 1.6 1-.3 1-1 1-.8 1 .9 1 .8 1-.5 1-.4 1-.3 1 .1 1-.7 1 .6 1-.7 1 .7 1-1.3 1 .6 1-.8V37.2zM0 42v-2.2l1 .1 1-.8 1-.3 1 1.3 1-2 1 1 1-.7 1 1.2 1-1.2 1-.3 1 1.6 1-1.6 1 1.1 1 .3 1 .3 1-.7 1 1.6 1-1 1-.5 1-.3 1-.7 1-.1 1 .2 1 1 1-.1 1-.9 1 1.2 1 .3 1-.6 1 1.1 1 1.3 1 .1 1 .1 1-.8 1-.3 1 .4 1 .7 1-.7 1 .1 1 .5 1-.3 1 .1 1-1.3 1 1.6 1-.3 1-1 1-.8 1 .9 1 .8 1-.5 1-.4 1-.3 1 .1 1-.7 1 .6 1-.7 1 .7 1-1.3 1 .6 1-.3 1 .4 1 .3 1-1.4 1 1.4 1 1.2 1-1.8 1 .8 1-.9 1 .1 1-.8 1-.1 1-.1 1 .6 1-.8 1 1.1 1-.9 1 .6 1-.2 1 2.3 1-1.1 1-.7 1 1.7 1-1.9 1 .8 1 .4 1-.4 1 .5 1 .9 1-1.9 1 1.5 1-.8 1 .5 1 .2 1 .2 1 .4 1-.7 1 .1 1 .2 1 .4 1 .5 1-1.5 1 1.5 1-.5 1-.4 1 .2 1 .1 1-.9 1-.1 1 1.3 1-2 1 .2 1 .3 1 .1 1 .1 1-1.5 1 1.7 1 0 1-.5 1-.4 1 .9V42zM0 46.6v-2.8l1 .4 1 .3 1-1.4 1 1.4 1 1.2 1-1.8 1 .8 1-.9 1 .1 1-.8 1-.1 1-.1 1 .6 1-.8 1 1.1 1-.9 1 .6 1-.2 1 2.3 1-1.1 1-.7 1 1.7 1-1.9 1 .8 1 .4 1-.4 1 .5 1 .9 1-1.9 1 1.5 1-.8 1 .5 1 .2 1 .2 1 .4 1-.7 1 .1 1 .2 1 .4 1 .5 1-1.5 1 1.5 1-.5 1-.4 1 .2 1 .1 1-.9 1-.1 1 1.3 1-2 1 .2 1 .3 1 .1 1 .1 1-1.5 1 1.7 1 0 1-.5 1-.4 1 .8 1-1.8 1 .9 1-.7 1 .2 1-.7 1 1.7 1-1.7 1-.1 1 .3 1-.3 1 .3 1 .2 1 1 1-.8 1-.2 1 1 1-1.5 1 .2 1 1.2 1 .3 1-.8 1 1.7 1-2.6 1 3.1 1-1.1 1-.2 1 0 1 .8 1-.7 1 1.8 1-.4 1-1 1 .8 1-.7 1 .7 1-.9 1 1.5 1-1.5 1 .6 1-1.3 1 1.1 1-.6 1-1.1 1 1.2 1 .6 1-.4 1-.7 1-.1 1 0 1-.2 1 .5 1-1.8 1 2.1 1-.4 1-.3 1-.1 1 .1 1 .1 1-.1 1-1.1V46.6zM0 51.4v-1.7l1-1.8 1 .9 1-.7 1 .2 1-.7 1 1.7 1-1.7 1-.1 1 .3 1-.3 1 .3 1 .2 1 1 1-.8 1-.2 1 1 1-1.5 1 .2 1 1.2 1 .3 1-.8 1 1.7 1-2.6 1 3.1 1-1.1 1-.2 1 0 1 .8 1-.7 1 1.8 1-.4 1-1 1 .8 1-.7 1 .7 1-.9 1 1.5 1-1.5 1 .6 1-1.3 1 1.1 1-.6 1-1.1 1 1.2 1 .6 1-.4 1-.7 1-.1 1 0 1-.2 1 .5 1-1.8 1 2.1 1-.4 1-.3 1-.1 1 .1 1 .1 1-.1 1-1.3 1 1.9 1-.7 1 .9 1-.7 1 .3 1-1.7 1 .9 1 .3 1 .1 1-1 1-.1 1 1.8 1-1.8 1-.3 1 1 1 .1 1-.3 1 .5 1-1.3 1 1.5 1-.5 1 1 1-.8 1-.6 1 1.7 1-.9 1 .3 1 .8 1 .1 1-1.2 1 1.2 1 .5 1 0 1 0 1-.5 1 .2 1 .9 1-.9 1-.2 1 .6 1-.6 1 .6 1-.5 1-.8 1 1.8 1-1.1 1 .7 1 .4 1-1.9 1-.2 1 1.6 1-1.1 1 0 1-1.5 1-.5 1-.1 1 .7 1-.7 1 .4 1 .3V51.4zM0 56.1v-3.8l1 1.9 1-.7 1 .9 1-.7 1 .3 1-1.7 1 .9 1 .3 1 .1 1-1 1-.1 1 1.8 1-1.8 1-.3 1 1 1 .1 1-.3 1 .5 1-1.3 1 1.5 1-.5 1 1 1-.8 1-.6 1 1.7 1-.9 1 .3 1 .8 1 .1 1-1.2 1 1.2 1 .5 1 0 1 0 1-.5 1 .2 1 .9 1-.9 1-.2 1 .6 1-.6 1 .6 1-.5 1-.8 1 1.8 1-1.1 1 .7 1 .4 1-1.9 1-.2 1 1.6 1-1.1 1 0 1-1.5 1-.5 1-.1 1 .7 1-.7 1 .4 1 .8 1-.6 1 .1 1-.3 1 0 1-.4 1 .6 1-.6 1 .8 1-.2 1-.5 1 1.1 1-.3 1-.3 1-.1 1-.5 1 1.2 1 0 1 1 1-1.1 1-.3 1 1.4 1 .1 1-.2 1 1.1 1-.1 1-1.2 1-.2 1 1.6 1-1.3 1 1.7 1-.5 1 0 1 .5 1-.3 1 .2 1-.5 1-1.2 1 1.1 1 .1 1-.6 1 .4 1-1.7 1 1.2 1 .7 1-2.3 1 1.1 1 .9 1-1.2 1-.3 1-.2 1 .6 1 .1 1-1.6 1 1.1 1 .3 1-.8 1-.8 1 1 1-1 1 .1V56.1zM0 60.8v-2.7l1-.6 1 .1 1-.3 1 0 1-.4 1 .6 1-.6 1 .8 1-.2 1-.5 1 1.1 1-.3 1-.3 1-.1 1-.5 1 1.2 1 0 1 1 1-1.1 1-.3 1 1.4 1 .1 1-.2 1 1.1 1-.1 1-1.2 1-.2 1 1.6 1-1.3 1 1.7 1-.5 1 0 1 .5 1-.3 1 .2 1-.5 1-1.2 1 1.1 1 .1 1-.6 1 .4 1-1.7 1 1.2 1 .7 1-2.3 1 1.1 1 .9 1-1.2 1-.3 1-.2 1 .6 1 .1 1-1.6 1 1.1 1 .3 1-.8 1-.8 1 1 1-1 1 1 1-.7 1 2 1-1 1 .1 1 1.3 1-.5 1-1 1 .2 1 .5 1-1.3 1 2.3 1-1.2 1 .4 1-.3 1-.7 1 2 1-1.5 1 1.3 1-1.6 1 1.7 1-.9 1 .5 1 .8 1 .3 1-.3 1 .1 1-.2 1-1.1 1 0 1 1.4 1 .1 1-.8 1 .8 1-1.5 1 1.1 1 .4 1-1.4 1-.1 1-1.8 1 1.2 1 1.3 1-1.1 1 .1 1 .1 1 0 1-1 1-.3 1 1.4 1-1.6 1 2 1-.2 1-.9 1 .9 1-2.1 1 .8 1 .9 1-.6 1 .6 1-1.4 1 2.8V60.8zM0 65.5v-2.9l1-.7 1 2 1-1 1 .1 1 1.3 1-.5 1-1 1 .2 1 .5 1-1.3 1 2.3 1-1.2 1 .4 1-.3 1-.7 1 2 1-1.5 1 1.3 1-1.6 1 1.7 1-.9 1 .5 1 .8 1 .3 1-.3 1 .1 1-.2 1-1.1 1 0 1 1.4 1 .1 1-.8 1 .8 1-1.5 1 1.1 1 .4 1-1.4 1-.1 1-1.8 1 1.2 1 1.3 1-1.1 1 .1 1 .1 1 0 1-1 1-.3 1 1.4 1-1.6 1 2 1-.2 1-.9 1 .9 1-2.1 1 .8 1 .9 1-.6 1 .6 1-1.4 1 1 1-.6 1 .7 1 .1 1-.1 1 1.3 1 0 1 .1 1-2.3 1 1.2 1 1.1 1-2.2 1 1.3 1-.3 1 .6 1-.3 1 .5 1 0 1-.9 1 .6 1-.1 1 .9 1-.7 1-.5 1 1 1 .7 1 .1 1-.2 1 .2 1-1.3 1 .2 1-1 1 .8 1 .2 1-2 1 2.1 1 .1 1-.4 1-.6 1-1.1 1 1.7 1 .1 1-.4 1-1 1-.3 1 .2 1 .6 1-.8 1-.3 1 .3 1 .5 1 1.2 1-1.1 1-.1 1-.9 1 .9 1-.2 1-1 1 1.5 1-1.4 1 .6V65.5zM0 70.2v-2.4l1-.6 1 .7 1 .1 1-.1 1 1.3 1 0 1 .1 1-2.3 1 1.2 1 1.1 1-2.2 1 1.3 1-.3 1 .6 1-.3 1 .5 1 0 1-.9 1 .6 1-.1 1 .9 1-.7 1-.5 1 1 1 .7 1 .1 1-.2 1 .2 1-1.3 1 .2 1-1 1 .8 1 .2 1-2 1 2.1 1 .1 1-.4 1-.6 1-1.1 1 1.7 1 .1 1-.4 1-1 1-.3 1 .2 1 .6 1-.8 1-.3 1 .3 1 .5 1 1.2 1-1.1 1-.1 1-.9 1 .9 1-.2 1-1 1 1.5 1-1.4 1 1.1 1-1.3 1 0 1 1.5 1 .2 1 1.6 1-2.2 1-.2 1 1.4 1-1 1 1.1 1-.2 1-1.2 1 1.4 1-.5 1-.9 1 1.9 1-1.4 1 .7 1 .1 1 1.4 1-1.5 1 .8 1-.7 1 0 1-.2 1 .3 1 1 1-1.3 1 1.2 1-1.1 1 .3 1-1.1 1 .1 1 0 1 .6 1-1.1 1 2.1 1-.2 1-1.6 1-.5 1 .5 1 .5 1 .5 1-.4 1 .5 1-.4 1-1.1 1 1.2 1 .1 1-.2 1-.7 1 .2 1-.8 1 1.2 1 .2 1-1.2 1 1.1 1-.9 1-1 1 1.6V70.2zM0 74.9v-2.6l1-1.3 1 0 1 1.5 1 .2 1 1.6 1-2.2 1-.2 1 1.4 1-1 1 1.1 1-.2 1-1.2 1 1.4 1-.5 1-.9 1 1.9 1-1.4 1 .7 1 .1 1 1.4 1-1.5 1 .8 1-.7 1 0 1-.2 1 .3 1 1 1-1.3 1 1.2 1-1.1 1 .3 1-1.1 1 .1 1 0 1 .6 1-1.1 1 2.1 1-.2 1-1.6 1-.5 1 .5 1 .5 1 .5 1-.4 1 .5 1-.4 1-1.1 1 1.2 1 .1 1-.2 1-.7 1 .2 1-.8 1 1.2 1 .2 1-1.2 1 1.1 1-.9 1-1 1 2.4 1-1 1 .5 1 .6 1-1 1-.3 1 1.7 1-1 1-.3 1 2 1-1.2 1-.6 1 1.1 1-.2 1-.4 1 1.3 1-.3 1-.8 1-.6 1 1.7 1-.5 1 .2 1-.4 1 .6 1-.5 1 .6 1-1.5 1 1.5 1-2.1 1 1.7 1-.7 1-.7 1 1.1 1 0 1-.7 1 .4 1-.6 1 0 1-.3 1 .7 1-.5 1-.1 1 0 1-.3 1 .2 1 .2 1-1.3 1 1.5 1-.6 1 0 1 1 1-.5 1 .1 1 .8 1-.7 1-1 1-.6 1 1.8 1-1.6 1 0 1 1.7V74.9zM0 79.6v-1.4l1-1 1 .5 1 .6 1-1 1-.3 1 1.7 1-1 1-.3 1 2 1-1.2 1-.6 1 1.1 1-.2 1-.4 1 1.3 1-.3 1-.8 1-.6 1 1.7 1-.5 1 .2 1-.4 1 .6 1-.5 1 .6 1-1.5 1 1.5 1-2.1 1 1.7 1-.7 1-.7 1 1.1 1 0 1-.7 1 .4 1-.6 1 0 1-.3 1 .7 1-.5 1-.1 1 0 1-.3 1 .2 1 .2 1-1.3 1 1.5 1-.6 1 0 1 1 1-.5 1 .1 1 .8 1-.7 1-1 1-.6 1 1.8 1-1.6 1 0 1 .9 1 0 1-1 1 .9 1-.9 1 1.4 1-.6 1 .5 1-.5 1 1.1 1-.5 1-.7 1 .9 1 .4 1 .2 1-1 1-.5 1 .3 1 1.1 1 .5 1-.8 1-1.3 1 0 1 2.3 1-1.1 1-.2 1 .2 1-.7 1 .7 1-1 1 1 1-.9 1-.5 1 .2 1 1 1 0 1 .2 1-1.2 1 .5 1 .2 1-1.4 1 2 1-1 1 .8 1-.9 1-.6 1 .1 1-.6 1-.2 1 1.8 1-.2 1 .1 1-.4 1-.8 1 1 1-.5 1-.2 1 1.5 1 .6 1-1.8 1 .5V79.6zM0 84.3v-2.1l1 0 1-1 1 .9 1-.9 1 1.4 1-.6 1 .5 1-.5 1 1.1 1-.5 1-.7 1 .9 1 .4 1 .2 1-1 1-.5 1 .3 1 1.1 1 .5 1-.8 1-1.3 1 0 1 2.3 1-1.1 1-.2 1 .2 1-.7 1 .7 1-1 1 1 1-.9 1-.5 1 .2 1 1 1 0 1 .2 1-1.2 1 .5 1 .2 1-1.4 1 2 1-1 1 .8 1-.9 1-.6 1 .1 1-.6 1-.2 1 1.8 1-.2 1 .1 1-.4 1-.8 1 1 1-.5 1-.2 1 1.5 1 .6 1-1.8 1 0 1 2 1-1.5 1 0 1 .4 1 0 1 .5 1 1 1-.8 1-.1 1 .4 1-.6 1-.3 1-.5 1-.8 1 1.4 1 1.3 1-.9 1-.7 1-.2 1 .7 1 .4 1-1.4 1 .5 1 .5 1 .1 1-.2 1 0 1 0 1 .8 1-1.8 1 1.1 1-.8 1-.4 1-.1 1-.4 1 1.9 1-1.5 1 .6 1-1.6 1 1.7 1-.7 1-.5 1-.2 1 .9 1-1.5 1 1.1 1 .1 1 1.2 1-1.6 1 1 1 .6 1-.2 1-1.3 1 .5 1-.2 1-.2 1 1.4 1 .9 1-2.1 1 1.2V84.3zM0 89v-2.6l1 2 1-1.5 1 0 1 .4 1 0 1 .5 1 1 1-.8 1-.1 1 .4 1-.6 1-.3 1-.5 1-.8 1 1.4 1 1.3 1-.9 1-.7 1-.2 1 .7 1 .4 1-1.4 1 .5 1 .5 1 .1 1-.2 1 0 1 0 1 .8 1-1.8 1 1.1 1-.8 1-.4 1-.1 1-.4 1 1.9 1-1.5 1 .6 1-1.6 1 1.7 1-.7 1-.5 1-.2 1 .9 1-1.5 1 1.1 1 .1 1 1.2 1-1.6 1 1 1 .6 1-.2 1-1.3 1 .5 1-.2 1-.2 1 1.4 1 .9 1-2.1 1 1.8 1-1.1 1 1.4 1-.4 1-.2 1-.3 1 .6 1-.5 1 0 1 0 1 0 1-.3 1 .5 1-1 1 2 1-.5 1-1.4 1 .3 1 1.3 1-.9 1 1.2 1-1.8 1 1.8 1-.9 1 .1 1-.7 1 .4 1 .6 1-1.9 1 .2 1 .3 1-1.6 1 2.3 1 .4 1-1.4 1-.8 1-.4 1 1.2 1 .1 1-1.5 1 2 1-1.5 1 1.3 1-1.6 1-.3 1 1.2 1-.3 1 1.6 1-.6 1-.4 1 .3 1-1 1 2.4 1-.2 1-.5 1 .2 1 .2 1 .8 1 0 1-1.1 1 .8V89zM0 93.7v-.9l1-1.1 1 1.4 1-.4 1-.2 1-.3 1 .6 1-.5 1 0 1 0 1 0 1-.3 1 .5 1-1 1 2 1-.5 1-1.4 1 .3 1 1.3 1-.9 1 1.2 1-1.8 1 1.8 1-.9 1 .1 1-.7 1 .4 1 .6 1-1.9 1 .2 1 .3 1-1.6 1 2.3 1 .4 1-1.4 1-.8 1-.4 1 1.2 1 .1 1-1.5 1 2 1-1.5 1 1.3 1-1.6 1-.3 1 1.2 1-.3 1 1.6 1-.6 1-.4 1 .3 1-1 1 2.4 1-.2 1-.5 1 .2 1 .2 1 .8 1 0 1-1.1 1 .5 1-2.1 1 1.6 1 .8 1-.3 1-.4 1 1 1-.6 1-.5 1-.1 1 .5 1 .2 1-.8 1 .2 1-1 1 1.5 1-.9 1 .1 1 .5 1-.3 1-1.5 1 .3 1 .2 1 .2 1-.8 1 .7 1 .1 1-.7 1 1 1-.6 1-.3 1 .4 1 .5 1-.6 1 0 1 .3 1 1.3 1-1.9 1 .8 1 .3 1 .4 1-.3 1-.3 1-.4 1 .7 1 .5 1-.7 1 .2 1 .9 1-.2 1 .6 1 .1 1 0 1-1.3 1-1.1 1 1 1 .3 1 .5 1 .6 1-1.6 1 .5V93.7zM0 98.4v-.8l1-2.1 1 1.6 1 .8 1-.3 1-.4 1 1 1-.6 1-.5 1-.1 1 .5 1 .2 1-.8 1 .2 1-1 1 1.5 1-.9 1 .1 1 .5 1-.3 1-1.5 1 .3 1 .2 1 .2 1-.8 1 .7 1 .1 1-.7 1 1 1-.6 1-.3 1 .4 1 .5 1-.6 1 0 1 .3 1 1.3 1-1.9 1 .8 1 .3 1 .4 1-.3 1-.3 1-.4 1 .7 1 .5 1-.7 1 .2 1 .9 1-.2 1 .6 1 .1 1 0 1-1.3 1-1.1 1 1 1 .3 1 .5 1 .6 1-1.6 1-.4 1 1.1 1-.8 1-1.4 1 2 1 1 1-1.8 1 .7 1-1.3 1-.5 1 .8 1-.2 1-.3 1-.2 1 .4 1 0 1 1.3 1-2.1 1 1.6 1-.5 1 0 1-.5 1-.4 1 .9 1-.8 1 .5 1-.3 1-.2 1 1.4 1-.7 1 .1 1-.7 1 1.6 1-.2 1 .8 1-.4 1-1.4 1 1.9 1 .3 1-.8 1 .5 1-.4 1-1.2 1 .7 1 .7 1-.4 1 0 1-.4 1 0 1 .4 1-.4 1 .3 1-.2 1 0 1 .6 1-.5 1 .8 1 .2 1-.9 1 .5 1-1.4V98.4zM0 103.1v-2.2l1 1.1 1-.8 1-1.4 1 2 1 1 1-1.8 1 .7 1-1.3 1-.5 1 .8 1-.2 1-.3 1-.2 1 .4 1 0 1 1.3 1-2.1 1 1.6 1-.5 1 0 1-.5 1-.4 1 .9 1-.8 1 .5 1-.3 1-.2 1 1.4 1-.7 1 .1 1-.7 1 1.6 1-.2 1 .8 1-.4 1-1.4 1 1.9 1 .3 1-.8 1 .5 1-.4 1-1.2 1 .7 1 .7 1-.4 1 0 1-.4 1 0 1 .4 1-.4 1 .3 1-.2 1 0 1 .6 1-.5 1 .8 1 .2 1-.9 1 .5 1-1.6 1 .5 1 1.2 1-.5 1-.2 1 .3 1-.3 1-.9 1 .3 1-.4 1 .5 1 1.2 1 .2 1-1.8 1-.2 1 .1 1 .5 1-.6 1 .2 1 1.4 1-1.3 1 0 1-.3 1 .9 1-.6 1 .8 1 .4 1-1.1 1 .7 1-1.5 1 1.5 1-.3 1 .3 1-.6 1 .4 1-.6 1 .1 1 .8 1-.4 1 1.1 1-.3 1 .3 1-.8 1 1.1 1-.8 1 .4 1-.1 1-.7 1-.4 1 .3 1-.4 1 1.3 1-.5 1-.3 1 .8 1-.5 1-.5 1-.9 1 1.4 1 0 1-.3V103.1zM0 107.8v-2.6l1 .5 1 1.2 1-.5 1-.2 1 .3 1-.3 1-.9 1 .3 1-.4 1 .5 1 1.2 1 .2 1-1.8 1-.2 1 .1 1 .5 1-.6 1 .2 1 1.4 1-1.3 1 0 1-.3 1 .9 1-.6 1 .8 1 .4 1-1.1 1 .7 1-1.5 1 1.5 1-.3 1 .3 1-.6 1 .4 1-.6 1 .1 1 .8 1-.4 1 1.1 1-.3 1 .3 1-.8 1 1.1 1-.8 1 .4 1-.1 1-.7 1-.4 1 .3 1-.4 1 1.3 1-.5 1-.3 1 .8 1-.5 1-.5 1-.9 1 1.4 1 0 1-.7 1 .8 1-1.5 1 1.9 1-.3 1-1.3 1 .8 1-.5 1-.3 1-.5 1 2 1-1 1-.3 1 .1 1-.2 1 .3 1-1.2 1 1.5 1 .8 1-1.3 1 .1 1-.4 1 .1 1 .3 1 .3 1-1.2 1-.7 1 2.3 1-.3 1 1.3 1-.1 1-1.4 1 .5 1 .7 1-1.2 1 1.8 1-.9 1-.5 1-1.9 1 2.1 1-.5 1 1.1 1-.8 1-.7 1 .9 1 .9 1 0 1 .2 1-1 1-.3 1 .6 1 .5 1-.1 1-.1 1 .2 1 .3 1 0 1 0 1-1.8 1 .2 1-.1V107.8zM0 112.5v-2.1l1 .8 1-1.5 1 1.9 1-.3 1-1.3 1 .8 1-.5 1-.3 1-.5 1 2 1-1 1-.3 1 .1 1-.2 1 .3 1-1.2 1 1.5 1 .8 1-1.3 1 .1 1-.4 1 .1 1 .3 1 .3 1-1.2 1-.7 1 2.3 1-.3 1 1.3 1-.1 1-1.4 1 .5 1 .7 1-1.2 1 1.8 1-.9 1-.5 1-1.9 1 2.1 1-.5 1 1.1 1-.8 1-.7 1 .9 1 .9 1 0 1 .2 1-1 1-.3 1 .6 1 .5 1-.1 1-.1 1 .2 1 .3 1 0 1 0 1-1.8 1 .2 1-.4 1 .9 1-.4 1 .5 1-2.4 1 .5 1 .3 1 .6 1-.7 1-.8 1 .5 1 1 1 .2 1-.4 1 .6 1-1.2 1 .9 1-1.8 1 1.8 1-1 1 1.4 1 .1 1-1.4 1 1.4 1-1.4 1-.6 1 .9 1 1 1-.9 1 .5 1-.2 1-.6 1 1.3 1-1 1 1.1 1 .4 1-1.1 1 .3 1 .1 1 1.6 1-.9 1-.3 1 .6 1 .5 1-1.4 1 1.1 1-.3 1-.9 1 .4 1 0 1 1.2 1-1.5 1 .4 1-.5 1 1 1-1 1 0 1 1.3 1-.2 1-.1 1-.6V112.5zM0 117.2v-2.2l1 .9 1-.4 1 .5 1-2.4 1 .5 1 .3 1 .6 1-.7 1-.8 1 .5 1 1 1 .2 1-.4 1 .6 1-1.2 1 .9 1-1.8 1 1.8 1-1 1 1.4 1 .1 1-1.4 1 1.4 1-1.4 1-.6 1 .9 1 1 1-.9 1 .5 1-.2 1-.6 1 1.3 1-1 1 1.1 1 .4 1-1.1 1 .3 1 .1 1 1.6 1-.9 1-.3 1 .6 1 .5 1-1.4 1 1.1 1-.3 1-.9 1 .4 1 0 1 1.2 1-1.5 1 .4 1-.5 1 1 1-1 1 0 1 1.3 1-.2 1-.1 1-.3 1-.6 1 .4 1-.8 1-1.6 1 1.3 1 0 1 1.1 1-1.6 1 .7 1-.8 1 .6 1-1.1 1 .4 1-.2 1 1.1 1-1.7 1 1.2 1 .4 1-.5 1-.9 1 1.6 1-1.2 1-.2 1 1.8 1 .1 1 0 1-.3 1-.4 1 .2 1-.9 1 .8 1-.3 1 1 1-.2 1 .1 1 .2 1 .2 1-1.4 1 1.9 1-1.1 1 .4 1 .4 1-.3 1 .3 1 .2 1 .5 1 .1 1-.7 1-.2 1-.4 1 1.3 1-1.1 1 .3 1-.8 1 1.3 1-2.5 1 2.5 1-.3 1-2.4 1 2.2V117.2zM0 121.9v-1.1l1-.6 1 .4 1-.8 1-1.6 1 1.3 1 0 1 1.1 1-1.6 1 .7 1-.8 1 .6 1-1.1 1 .4 1-.2 1 1.1 1-1.7 1 1.2 1 .4 1-.5 1-.9 1 1.6 1-1.2 1-.2 1 1.8 1 .1 1 0 1-.3 1-.4 1 .2 1-.9 1 .8 1-.3 1 1 1-.2 1 .1 1 .2 1 .2 1-1.4 1 1.9 1-1.1 1 .4 1 .4 1-.3 1 .3 1 .2 1 .5 1 .1 1-.7 1-.2 1-.4 1 1.3 1-1.1 1 .3 1-.8 1 1.3 1-2.5 1 2.5 1-.3 1-2.4 1 1.7 1-.3 1 1.1 1-1.8 1 .8 1 .4 1-.2 1 1.3 1-1.8 1 0 1-.5 1 .5 1 .1 1-.8 1 .2 1-.1 1 1.7 1-1.4 1-.1 1-.1 1 1 1-.9 1-.9 1 1.3 1-.8 1 .9 1 .1 1 .7 1-.2 1-.7 1 .6V121.9zM0 126.6v-1.5l1-.3 1 1.1 1-1.8 1 .8 1 .4 1-.2 1 1.3 1-1.8 1 0 1-.5 1 .5 1 .1 1-.8 1 .2 1-.1 1 1.7 1-1.4 1-.1 1-.1 1 1 1-.9 1-.9 1 1.3 1-.8 1 .9 1 .1 1 .7 1-.2 1-.7 1 .6V126.6z"/>
<path id="k2" d="M0 0m4.2 3v1.4m.9-.8v.8m1.1-.8v.8m3.6-.4v.4m14.8-1.9v1.9m1.9-.7v.7m9.5-1.3v1.3m.6-1.5v1.5m1.2-.8v.8m1.8-1.1v1.1m1.2-1.4v1.4m1.6-.6v.6m1.3-1v1m.6-.6v.6m.6-.5v.5m2.5-2.4v2.4m.6-1.2v1.2m2.6-1v1m.6-1v1m3.8-.8v.8m.6-.6v.6m.6-.6v.6m.6-.6v.6m1.2-2.2v2.2m.6-1.9v1.9m.6-.6v.6m.6-.7v.7m.6-1.7v1.7m.6-2.3v2.3m1.2-1.3v1.3m.6-1.8v1.8m.6-1.8v1.8m.6-1.2v1.2m.6-.7v.7m1.2-1.4v1.4m.6-.9v.9m2.2-1v1m.6-1.1v1.1m7.4-.4v.4m9.8-.6v.6m20.6-.9v.9m3.6-1.7v1.7m.6-.7v.7m3.9-.9v.9m2.4-.9v.9m3-1.4v1.4m5.2-.9v.9m1.2-.9v.9m1.8-1.1v1.1m.6-.4v.4m1.8-.7v.7m.6-1.2v1.2m.6-1.4v1.4m1.2-1.3v1.3m.6-1.3v1.3m.6-1v1m3.3-1.3v1.3m.6-1.8v1.8m.6-1.6v1.6m1.8-2.1v2.1m2.4-2.1v2.1m1.2-.5v.5m1.4-1.2v1.2m-145.8 3.9v.8m4.9-1.5v1.5m18.7-1.2v1.2m13.7-.5v.5m2.4-.9v.9m.6-1v1m1.8-1.1v1.1m1.2-1.2v1.2m.6-.4v.4m2.4-1.1v1.1m.6-1.6v1.6m2.9-1.9v1.9m.6-.6v.6m1.8-1v1m2.4-1.9v1.9m.6-.8v.8m2.7-1.2v1.2m1.2-.4v.4m.6-.9v.9m1.2-.7v.7m3.9-1.1v1.1m1.2-.6v.6m1.2-1.7v1.7m.6-.8v.8m1.2-1.8v1.8m.6-1.5v1.5m.6-1.4v1.4m4.4-1.6v1.6m10.5-.8v.8m5.2-.7v.7m2.1-1.8v1.8m16.9-.7v.7m.6-1.4v1.4m.6-1.5v1.5m1.2-.9v.9m.6-2.5v2.5m.6-1.2v1.2m1.2-.9v.9m.6-.7v.7m2.7-2.2v2.2m3.8-1.7v1.7m.6-.6v.6m1.2-1v1m1.2-1.8v1.8m.6-1.5v1.5m2.7-.3v.3m.6-1v1m.6-.7v.7m6-1.2v1.2m.6-1.3v1.3m1.2-1.4v1.4m2.1-2v2m.6-1.4v1.4m.6-1.4v1.4m2.4-.9v.9m.6-1.1v1.1m1.2-1.2v1.2m.6-2.8v2.8m.6-1.4v1.4m.6-1.1v1.1m-141.3 3.8v.9m2.9-.9v.9m.8-1v1m6.5-1.3v1.3m9.8-.7v.7m1.8-1.7v1.7m9.2-.5v.5m1.8-.8v.8m1.2-1.8v1.8m2.3-1.7v1.7m2.3-.7v.7m.6-2v2m.6-.8v.8m3.2-.5v.5m1.8-1.1v1.1m1.2-.3v.3m1.3-.9v.9m3.8-.5v.5m3.2-1.3v1.3m.6-1.1v1.1m1.2-1.4v1.4m.6-2v2m.6-.7v.7m3.6-2.3v2.3m2.6-.8v.8m1.8-.9v.9m.6-1.9v1.9m.6-1.9v1.9m.6-2v2m11.3-1v1m16.3-1.8v1.8m3.5-1.9v1.9m6.5-.8v.8m.6-1.9v1.9m1.2-.8v.8m1.2-1.1v1.1m1-1.7v1.7m.6-1.5v1.5m.6-1.1v1.1m1.9-.3v.3m1.2-1.5v1.5m.6-.5v.5m3-.7v.7m2-.8v.8m.6-1.7v1.7m.6-.6v.6m2.5-2.6v2.6m.6-1.3v1.3m2.1-1.4v1.4m.6-1.3v1.3m.6-1v1m.6-.5v.5m1.8-1v1m.6-1.8v1.8m6.6-1v1m.6-1.9v1.9m4.1-.9v.9m-145 3.1v1.6m.6-.6v.6m1.6-.7v.7m15.3-.7v.7m8-2v2m3.3-1.2v1.2m4.6-1.4v1.4m2.5-1.4v1.4m.6-.8v.8m.6-1.2v1.2m1.2-.3v.3m1.2-.8v.8m1.2-1.7v1.7m3.1-.9v.9m.6-.9v.9m1.8-2.2v2.2m.6-1.3v1.3m3-1.5v1.5m3.5-1.6v1.6m.6-1v1m.6-.4v.4m1.8-2.8v2.8m.6-1.9v1.9m.6-1.5v1.5m.6-1v1m.6-.6v.6m1.8-1.1v1.1m5-.6v.6m1.2-1.1v1.1m.6-.7v.7m2.2-1.2v1.2m.6-1.6v1.6m2.4-.5v.5m.6-.8v.8m.6-1v1m22-1.9v1.9m9.8-1.1v1.1m2.1-1.9v1.9m1.8-1.3v1.3m.6-1.6v1.6m2.4-.8v.8m.6-2v2m.6-2.2v2.2m.6-.6v.6m1.9-1.1v1.1m2.2-.6v.6m.6-1.3v1.3m2.8-1.7v1.7m2.9-.4v.4m1.2-1.2v1.2m.6-.5v.5m4.1-.7v.7m1.2-.6v.6m3.3-1.2v1.2m.6-.9v.9m3.2-.6v.6m1.2-.8v.8m1.8-1v1m.6-1.3v1.3m.6-1.2v1.2m.6-.9v.9m2.4-1.8v1.8m.6-1v1m-137.5 3.5v1.2m3.1-1.7v1.7m13.1-.7v.7m6.9-.8v.8m3.8-1.6v1.6m.6-1.6v1.6m1.2-.9v.9m1.8-2.8v2.8m.6-1v1m1.8-.7v.7m.6-.7v.7m1.8-.5v.5m1.2-1.3v1.3m.6-.8v.8m3.2-1.1v1.1m1.2-1.1v1.1m1.9-1.1v1.1m3.4-.4v.4m.6-.7v.7m.6-.6v.6m6.3-1.3v1.3m.6-2.9v2.9m4.2-.6v.6m.6-1.7v1.7m.6-1.6v1.6m.6-2v2m1.2-1.6v1.6m.6-1.3v1.3m.6-1.3v1.3m.6-1.2v1.2m22.4-1.1v1.1m5.7-.4v.4m5.8-.5v.5m2.6-1.3v1.3m.6-1.8v1.8m.6-2.6v2.6m.6-1v1m1.2-1.2v1.2m.6-1.1v1.1m1.2-.3v.3m1.9-1.3v1.3m.6-1.5v1.5m.6-.8v.8m2.4-1.2v1.2m4.6-1.4v1.4m.6-.5v.5m.6-1.1v1.1m.6-1.8v1.8m1.8-.8v.8m1.2-1.4v1.4m.6-.5v.5m.6-.4v.4m1.2-.7v.7m4.8-2.2v2.2m1.2-.7v.7m2.7-2v2m1.2-1.4v1.4m.6-.8v.8m2.2-1.3v1.3m1.2-2.2v2.2m.6-1.3v1.3m.6-.6v.6m-145.8 3v1.7m14.3-1.4v1.4m2-1v1m1.2-1.6v1.6m4.4-1.7v1.7m5.5-1.6v1.6m7.1-.6v.6m1.2-3.3v3.3m1.2-.6v.6m1.8-.7v.7m1.2-.3v.3m.6-1.5v1.5m6.2-2v2m1.4-.3v.3m.6-.9v.9m1.2-1v1m.6-.6v.6m1.2-1.2v1.2m.6-1.5v1.5m1.8-1.3v1.3m.6-.6v.6m.6-.4v.4m3.6-1.8v1.8m1.8-.8v.8m.6-1.8v1.8m.6-1.2v1.2m.6-1.4v1.4m1.2-1.7v1.7m2-1.9v1.9m.6-2.7v2.7m.6-.8v.8m.6-2v2m.6-1.5v1.5m1.6-1.6v1.6m1.2-1.6v1.6m8.1-1v1m1.2-.8v.8m6.9-1.7v1.7m1.5-1.9v1.9m2.4-.3v.3m3-1.4v1.4m1.9-.3v.3m1.3-1.9v1.9m1.3-.4v.4m10.6-.3v.3m1.2-1.5v1.5m.6-2.3v2.3m.6-1v1m.6-1.4v1.4m.6-1.2v1.2m.6-1v1m3-.4v.4m.6-1v1m.6-1v1m1.8-1.8v1.8m.6-3.1v3.1m.6-3v3m1.2-1.1v1.1m.6-.7v.7m1.2-.4v.4m4.2-1.6v1.6m4.7-2v2m1.2-.9v.9m.6-.8v.8m5.9-.8v.8m-140 2.8v1.9m3.2-1.6v1.6m4.7-1.7v1.7m.7-1.2v1.2m4.8-1.4v1.4m1.5-.5v.5m3-1v1m8.1-1.7v1.7m1.4-2v2m8.3-.5v.5m1.2-1.7v1.7m.6-2.9v2.9m.6-2.4v2.4m.6-1.1v1.1m.6-2v2m1.8-2v2m3-1.7v1.7m.6-1.8v1.8m.6-3.4v3.4m.6-2.5v2.5m.6-2.4v2.4m.6-1.5v1.5m.6-2v2m.6-.5v.5m.6-1v1m.6-.9v.9m4.3-1.8v1.8m2.1-1.2v1.2m2.3-1.2v1.2m.6-2.5v2.5m1.8-.6v.6m.6-1.4v1.4m.8-.8v.8m10.4-1.1v1.1m.6-1.2v1.2m1.2-.5v.5m4.6-1.4v1.4m7.8-2.6v2.6m21.2-.5v.5m7-.9v.9m1.2-.8v.8m1.2-1.6v1.6m.6-2.5v2.5m.6-3v3m.6-3.9v3.9m.6-1.7v1.7m.6-2.9v2.9m1.2-.9v.9m4.4-1.5v1.5m.6-2.7v2.7m.6-2.7v2.7m.6-1.1v1.1m.6-.5v.5m7.3-1.2v1.2m.6-2.1v2.1m.6-1.8v1.8m.6-2.4v2.4m.6-2v2m7.2-.7v.7m-146.1 3.9v.8m.6-1v1m3.8-.8v.8m9-1.7v1.7m.6-2.2v2.2m2.8-1.3v1.3m3.7-.8v.8m2.1-1v1m6.3-1.9v1.9m1.3-1.5v1.5m10.3-1.4v1.4m3.5-1v1m.6-2v2m.6-1.8v1.8m.6-2.5v2.5m.6-1.9v1.9m.6-2.1v2.1m.6-1.9v1.9m.6-1v1m.6-.8v.8m.6-.6v.6m3.1-.5v.5m.6-1.5v1.5m.6-3.1v3.1m.6-1.3v1.3m8-1.6v1.6m.6-1.4v1.4m.6-2.3v2.3m.6-3v3m.6-1.3v1.3m.6-1.2v1.2m.6-.6v.6m1.2-2v2m.8-1.7v1.7m6.2-1.7v1.7m.6-1.1v1.1m.6-2.1v2.1m1.8-1.5v1.5m.6-1.1v1.1m1.2-1.7v1.7m.6-.8v.8m21.2-1.9v1.9m12.1-3v3m.6-1.7v1.7m.6-1.6v1.6m1.2-.5v.5m2.1-2.5v2.5m.6-1.2v1.2m.6-2.4v2.4m1.2-1v1m.6-.9v.9m1.8-3.7v3.7m1.2-2.1v2.1m1.8-1.7v1.7m.6-1.7v1.7m.6-1.1v1.1m.6-.4v.4m6.1-.4v.4m.6-1v1m.6-1v1m3.8-.7v.7m2.5-.7v.7m3.3-.5v.5m3.1-2.2v2.2m-146.9 4.1v.6m2.4-1.9v1.9m.6-1.1v1.1m.6-1v1m.6-1.6v1.6m1.2-1.2v1.2m.6-.6v.6m3.7-1.2v1.2m10.6-.3v.3m8.1-1.7v1.7m8.5-1.7v1.7m2.5-1.8v1.8m.6-1.6v1.6m.6-1.1v1.1m2.6-1.3v1.3m1.2-1.6v1.6m2.4-2.3v2.3m1.8-2.1v2.1m.6-1.6v1.6m1.2-2.3v2.3m.6-1.3v1.3m.6-1.8v1.8m.6-.4v.4m.6-1v1m6.3-1.3v1.3m.6-.9v.9m1.2-2.3v2.3m.6-1.8v1.8m.6-.5v.5m.6-.7v.7m4.3-.4v.4m5.8-1v1m6.2-1.2v1.2m.6-1.5v1.5m.6-2.5v2.5m.6-1.1v1.1m.6-2.6v2.6m.6-1.1v1.1m2.4-1.6v1.6m.6-1.1v1.1m.6-.6v.6m8.2-.5v.5m1.2-1.3v1.3m3.8-1.9v1.9m4.6-1.4v1.4m.6-1.2v1.2m.6-2.2v2.2m4.8-1.8v1.8m.6-1.9v1.9m1.2-.9v.9m1.2-.9v.9m2.7-1.5v1.5m.6-1.2v1.2m.6-2v2m.6-3.4v3.4m1.2-3.6v3.6m.6-2.8v2.8m.6-1.9v1.9m.6-.5v.5m10.3-1.4v1.4m2-2.3v2.3m.6-.9v.9m11.3-1.1v1.1m-144.1 4.2v.5m5.5-1.4v1.4m.6-1.7v1.7m.6-1.4v1.4m.6-1.2v1.2m1.2-1.5v1.5m1.8-.9v.9m.6-2.1v2.1m9.9-1.5v1.5m.6-1.1v1.1m.6-.3v.3m2.3-1.1v1.1m.6-1.2v1.2m.6-1.8v1.8m4.1-.7v.7m.6-2v2m.6-1.5v1.5m.6-.6v.6m3.2-.8v.8m.6-1.5v1.5m.6-2.1v2.1m.6-2.9v2.9m.6-1.3v1.3m1.8-2v2m3-2.1v2.1m.6-1.6v1.6m.6-2.6v2.6m.6-1.9v1.9m.6-1.8v1.8m.6-3.8v3.8m.6-1.5v1.5m.6-.6v.6m6.3-1.1v1.1m2.2-.9v.9m4.4-.9v.9m.6-.6v.6m9.1-.7v.7m1.9-1.2v1.2m9.7-.9v.9m2.3-1.4v1.4m.6-1.6v1.6m.6-1.4v1.4m12-1.3v1.3m2-.7v.7m4.1-1.2v1.2m2.4-1.5v1.5m3.7-1.4v1.4m.6-2.9v2.9m.6-2.6v2.6m.6-1v1m.6-.9v.9m.6-.7v.7m.6-1.7v1.7m.6-1.1v1.1m.6-2.9v2.9m.6-3.6v3.6m.6-2.8v2.8m10.7-1.2v1.2m6.6-.8v.8m.6-1.1v1.1m.6-1.8v1.8m3.6-1.9v1.9m1.2-1v1m.6-1.5v1.5m.6-1.7v1.7m8.2-.8v.8m-146.6 4.2v.5m9.5-2.1v2.1m.6-1.8v1.8m.6-.4v.4m.6-1.8v1.8m5.7-1.7v1.7m1.1-1.6v1.6m.7-.4v.4m2.1-1.8v1.8m5.7-.7v.7m1.6-2.6v2.6m.6-1.4v1.4m.6-1.1v1.1m.6-1.5v1.5m3.8-1.4v1.4m.6-2v2m.6-2.8v2.8m1.2-1.5v1.5m1.2-.7v.7m1.2-1.2v1.2m.6-3.1v3.1m.6-2.3v2.3m1.2-1.7v1.7m16.1-.9v.9m1.2-1.7v1.7m.6-2v2m.6-1.1v1.1m1.8-1.3v1.3m.6-1.8v1.8m.6-1.3v1.3m.6-.8v.8m.6-2.6v2.6m.6-1.4v1.4m1.8-1.8v1.8m8.4-.9v.9m1.2-.9v.9m.6-.7v.7m.6-.6v.6m.6-.9v.9m7.5-.7v.7m1.3-1.9v1.9m2.3-1.6v1.6m.6-2.2v2.2m7.9-1.2v1.2m7.8-.8v.8m.6-1.6v1.6m.6-3.4v3.4m.6-2.5v2.5m.6-.7v.7m.6-2.2v2.2m.6-1.7v1.7m.6-2.5v2.5m1.8-.5v.5m.6-1.6v1.6m4.1-1.7v1.7m2.7-.6v.6m1.8-.7v.7m.6-1.6v1.6m.6-1.6v1.6m1.2-2v2m1.2-.8v.8m.6-.5v.5m7.1-.4v.4m10.3-1.2v1.2m-139.1 3.5v1.2m.6-.7v.7m2.5-1.1v1.1m8.2-1.2v1.2m1.6-2v2m7.6-1.1v1.1m.6-1.9v1.9m.6-1.2v1.2m3.5-1.3v1.3m3.9-1.3v1.3m1.2-1v1m1.8-2.6v2.6m.6-3v3m1.2-2.6v2.6m5.1-1v1m3.2-.5v.5m1.8-.6v.6m.6-.9v.9m.6-1.5v1.5m1.2-1.9v1.9m.6-2v2m3.8-.5v.5m10.2-1.4v1.4m1.4-.3v.3m8.5-1.6v1.6m11.4-1.8v1.8m5.3-1.5v1.5m5.6-1.2v1.2m.6-1.5v1.5m1.8-1.1v1.1m.6-1.5v1.5m.6-.5v.5m.6-2v2m.6-2.6v2.6m.6-3.1v3.1m.6-1.8v1.8m1.2-3.7v3.7m.6-1.6v1.6m.6-1.5v1.5m.6-1.5v1.5m1.2-1.1v1.1m1.8-2.8v2.8m.6-2.7v2.7m.6-1.7v1.7m.6-1.6v1.6m.6-.8v.8m2.6-1.2v1.2m1.2-1.3v1.3m4.8-1.9v1.9m3.5-1v1m1.2-1.1v1.1m1.2-.3v.3m-123.5 4v.7m9-1v1m10.8-1.1v1.1m1.2-.9v.9m.6-1.4v1.4m1.2-1.5v1.5m1.2-1.5v1.5m.6-1.3v1.3m.6-2.5v2.5m.6-2.9v2.9m.6-3.5v3.5m.6-1.3v1.3m.6-1.5v1.5m.6-3v3m.6-1.4v1.4m1.2-1.4v1.4m.6-1.4v1.4m1.2-2.6v2.6m.6-1.5v1.5m.6-3.2v3.2m.6-2.8v2.8m1.2-.8v.8m.6-.6v.6m.6-.7v.7m1.2-.9v.9m.6-.8v.8m.6-1.1v1.1m.6-.8v.8m.6-.4v.4m4.1-1v1m.6-1v1m3.4-1.4v1.4m.6-1.3v1.3m16.7-.3v.3m.6-.6v.6m.6-.8v.8m.6-1.5v1.5m.6-.6v.6m6.1-1.2v1.2m5.6-1.8v1.8m.6-2.1v2.1m9.2-1v1m.6-1.9v1.9m.6-.8v.8m.6-1.7v1.7m6.6-2.2v2.2m.6-1.4v1.4m1.2-1.5v1.5m.6-1.7v1.7m.6-3.9v3.9m.6-2.4v2.4m.6-2v2m1.8-1.8v1.8m8.2-.7v.7m4.9-2.5v2.5m.6-1.3v1.3m3-.7v.7m1.8-.5v.5m2.6-1.9v1.9m2.5-1.1v1.1m8.8-1.1v1.1m4.4-.6v.6m1.8-.4v.4m.6-1v1m.6-1.1v1.1m.6-.7v.7m-139.4 3.6v1.1m.6-1.8v1.8m.6-1.3v1.3m.6-2.2v2.2m.6-1.3v1.3m2.3-.5v.5m2.4-.3v.3m4.7-.9v.9m.6-1.1v1.1m.6-.9v.9m3.1-1.9v1.9m1.9-2.4v2.4m.6-2.1v2.1m.6-2.1v2.1m.6-2v2m.6-2.1v2.1m1.2-1.5v1.5m.6-2v2m.6-2.5v2.5m.6-1.1v1.1m1.2-1.2v1.2m5.7-.6v.6m2.7-.7v.7m.6-.8v.8m3.5-1.2v1.2m1.2-3.1v3.1m.6-1.2v1.2m3.1-1.1v1.1m1.2-1v1m.6-.7v.7m6.5-1.3v1.3m3.1-1.2v1.2m1.3-.6v.6m6.1-1.4v1.4m2.6-1.8v1.8m1.2-1.6v1.6m6.6-.4v.4m1.7-1.2v1.2m.6-1.9v1.9m1.2-1.5v1.5m.6-1.4v1.4m6.8-1.7v1.7m.6-2v2m.6-2.1v2.1m.6-.8v.8m.6-1.4v1.4m.6-1.6v1.6m.6-1.8v1.8m.6-1.8v1.8m.6-1.8v1.8m.6-2.9v2.9m.6-3.4v3.4m.6-1.2v1.2m.6-.7v.7m.6-1.1v1.1m3-3.2v3.2m.6-3.2v3.2m.6-3v3m.6-1.5v1.5m6.5-1.7v1.7m.6-1.2v1.2m1.8-1.1v1.1m1.7-.6v.6m1.2-2.2v2.2m.6-1.4v1.4m1.2-.6v.6m2.6-1.2v1.2m1.6-.6v.6m19.3-.4v.4m1.2-1.9v1.9m2.5-1.3v1.3m1.7-1.6v1.6m1.2-1.4v1.4m-143.9 3.5v1.2m.8-1.7v1.7m3.9-.7v.7m.6-.9v.9m.6-1.3v1.3m.6-1.5v1.5m.6-1.7v1.7m6.9-1.7v1.7m.6-3.3v3.3m1.8-1.2v1.2m.6-1.6v1.6m.6-1.3v1.3m.6-3v3m.6-3.7v3.7m.6-3v3m.6-2.3v2.3m1.2-.8v.8m.6-.7v.7m1.2-1.2v1.2m.6-1.3v1.3m.6-1.6v1.6m.6-2.1v2.1m.6-2v2m.6-2.7v2.7m.6-1.5v1.5m.6-.9v.9m.6-.5v.5m4.8-2v2m5.7-1.1v1.1m.6-2v2m.6-.7v.7m.6-.4v.4m11.5-1.2v1.2m.9-2v2m.9-.9v.9m3.9-1.9v1.9m2.7-1.9v1.9m9-.8v.8m.6-.9v.9m4-1.5v1.5m5.7-1.6v1.6m6.7-1.6v1.6m5.5-1.9v1.9m.6-1.5v1.5m.6-2.2v2.2m.6-2.2v2.2m.6-3.5v3.5m.6-2.1v2.1m.6-1.7v1.7m.6-1v1m.6-1.1v1.1m1.8-.6v.6m6.3-1.8v1.8m6.6-.5v.5m.8-.6v.6m1.5-1.1v1.1m.6-2.3v2.3m.6-.9v.9m1.2-.9v.9m1.2-.5v.5m5.3-.3v.3m4.9-.6v.6m7.6-1v1m.6-1.4v1.4m.6-2.7v2.7m.6-1.5v1.5m.6-1.7v1.7m.6-.3v.3m4.4-1.5v1.5m.6-.7v.7m.6-.9v.9m1.5-.7v.7m.6-2.2v2.2m.6-1.3v1.3m.6-.5v.5m-145.5 4v.7m8.5-.5v.5m2.2-1.7v1.7m3-2v2m1.8-.5v.5m.7-.8v.8m.6-1.5v1.5m.6-3.5v3.5m.6-1.7v1.7m.6-1.6v1.6m.6-2.8v2.8m.6-2.5v2.5m.6-2.4v2.4m.6-2v2m.6-2.6v2.6m.6-1.8v1.8m.6-.8v.8m.6-.8v.8m14.8-1.5v1.5m1.2-1.9v1.9m1.2-.5v.5m4.6-.4v.4m7.2-.6v.6m3.1-.6v.6m4.6-1.3v1.3m1.2-2.3v2.3m6.8-1.5v1.5m2.6-2.4v2.4m3.9-1.8v1.8m7-1.5v1.5m1.2-1v1m2.2-1.4v1.4m.6-1.4v1.4m.6-2.6v2.6m1.2-3v3m.6-1.3v1.3m.6-2.2v2.2m.6-.7v.7m6.8-1.1v1.1m.6-2v2m.6-2.3v2.3m1.2-1.3v1.3m.6-.7v.7m4-.9v.9m3.7-1.6v1.6m1.8-1.4v1.4m1.2-1.6v1.6m.6-1.8v1.8m.6-1.5v1.5m.6-1.8v1.8m1.2-.7v.7m12.5-.8v.8m8.3-.9v.9m3.9-.7v.7m1.2-1.2v1.2m1.2-.6v.6m-133.3 3v1.7m1.4-.6v.6m1.2-.5v.5m2.1-1.7v1.7m.6-2.4v2.4m.6-2.6v2.6m.6-2.5v2.5m.6-2.3v2.3m.6-2.3v2.3m.6-2.4v2.4m1.2-.4v.4m1.7-1.8v1.8m5-1v1m.6-2.9v2.9m1.2-1.8v1.8m5.7-1.2v1.2m5-1.6v1.6m1.2-1.3v1.3m1.2-2.3v2.3m.6-.9v.9m16.5-.7v.7m1.7-1.7v1.7m.6-1v1m1.8-2v2m1.5-.4v.4m.6-.8v.8m3-.6v.6m.6-1.7v1.7m.6-1.3v1.3m.6-.9v.9m.6-.7v.7m16.5-.9v.9m.6-1.9v1.9m.6-1.2v1.2m.6-1.8v1.8m1.2-1.3v1.3m.6-1.1v1.1m6.1-2.1v2.1m.6-3.3v3.3m.6-1.8v1.8m1.2-1.1v1.1m1.8-.4v.4m5.1-1.2v1.2m.6-1.5v1.5m.6-2.2v2.2m1.2-.5v.5m.6-2v2m1.1-1.1v1.1m.6-2.5v2.5m.6-1.1v1.1m.6-.6v.6m1.2-1.1v1.1m.7-.8v.8m1.2-.6v.6m6.3-1.8v1.8m8.6-1.2v1.2m2.7-1v1m2.1-.9v.9m3-.3v.3m1.2-1.2v1.2m.6-.6v.6m-126.6 4.3v.4m.6-1.1v1.1m.6-2.1v2.1m.6-1.3v1.3m.6-2.6v2.6m.6-1.5v1.5m6.4-2.1v2.1m.6-1.1v1.1m1.2-2.4v2.4m.6-1.4v1.4m.6-1.6v1.6m.6-1.4v1.4m6.2-2.1v2.1m.6-1.6v1.6m.6-2.2v2.2m.6-1.7v1.7m.6-.5v.5m1.7-1.2v1.2m.6-1.1v1.1m5.2-1.2v1.2m7.6-1.8v1.8m12.6-1.2v1.2m2.3-.5v.5m.6-1v1m.6-1.4v1.4m.6-.7v.7m13.5-1.3v1.3m1.2-1.6v1.6m.6-1.1v1.1m.6-.6v.6m.6-.6v.6m3.3-1.1v1.1m.6-2.2v2.2m.6-1.7v1.7m.6-1.1v1.1m.6-2v2m.6-1.8v1.8m.6-2.5v2.5m.6-1.5v1.5m.6-2.1v2.1m.6-4v4m.6-3v3m.6-3.5v3.5m.6-2.7v2.7m1.2-.9v.9m6.9-.8v.8m.6-1.1v1.1m3.4-.7v.7m1.2-1.5v1.5m.6-1.4v1.4m.6-.5v.5m5.4-1.4v1.4m5.4-1.3v1.3m16.3-1.7v1.7m1.9-1.3v1.3m1.2-.7v.7m.6-.6v.6m1.2-1.2v1.2m.6-1.1v1.1m-132.9 2.4v2.3m.6-1v1m.6-1.2v1.2m4.5-1v1m.6-1.2v1.2m.6-2.7v2.7m.6-2.6v2.6m.6-1.9v1.9m.6-2v2m.6-1.4v1.4m.6-3.4v3.4m1.8-3.9v3.9m.6-3.5v3.5m.6-2.5v2.5m.6-1.1v1.1m6.8-.8v.8m1.8-.7v.7m2.1-.5v.5m.6-1.6v1.6m.6-1.8v1.8m1.2-.8v.8m3.2-.8v.8m9.7-.8v.8m2.9-.6v.6m7.4-2v2m6.5-1.1v1.1m.6-.6v.6m1.2-.7v.7m.6-.9v.9m.6-1.5v1.5m3.2-1.4v1.4m11.1-1.7v1.7m.6-3.3v3.3m.6-4v4m.6-1.6v1.6m1.2-.8v.8m1.2-1.3v1.3m1.2-3.9v3.9m.6-3.6v3.6m1.2-1.8v1.8m.6-.5v.5m6-1.7v1.7m1.1-.4v.4m.6-1v1m.6-2.7v2.7m.6-1.6v1.6m4.7-.5v.5m.6-2.1v2.1m2.4-.6v.6m2.1-.8v.8m4.8-1.2v1.2m3.7-2v2m1.3-1.3v1.3m8.3-1.5v1.5m7.7-1.6v1.6m5.3-1.6v1.6m.6-1.2v1.2m1.2-.7v.7m1.3-1.4v1.4m2.9-.8v.8m.6-1.8v1.8m1.2-1.6v1.6m.6-1.1v1.1m.6-1.3v1.3m.6-1.7v1.7m.6-2.2v2.2m-144.1 4v.7m3.2-1.7v1.7m.6-2.7v2.7m.6-2.8v2.8m.6-1.9v1.9m1.2-.6v.6m.6-1.7v1.7m1.2-2.9v2.9m.6-2v2m.6-1.4v1.4m4.4-1.5v1.5m2.5-.7v.7m1.3-.3v.3m1.8-2.1v2.1m.6-1.2v1.2m1.8-1.6v1.6m2.1-.9v.9m.6-.4v.4m.6-2.8v2.8m1.2-1.1v1.1m1.2-.5v.5m27.1-1.9v1.9m1-.6v.6m4.7-.6v.6m.6-1.5v1.5m5.2-1.3v1.3m.6-1.4v1.4m1.2-.6v.6m1.2-1.6v1.6m.6-1.9v1.9m.6-2.4v2.4m.6-3.5v3.5m.6-3.1v3.1m.6-3.3v3.3m.6-2.9v2.9m1.2-1.5v1.5m10.8-1.2v1.2m.6-1.9v1.9m.6-2.8v2.8m.6-1.7v1.7m1.2-2.1v2.1m.6-1.1v1.1m11.2-.7v.7m3.5-2.3v2.3m.6-1.6v1.6m.6-1v1m9.1-1.7v1.7m1.9-1.1v1.1m.6-.8v.8m3-1v1m.6-1.5v1.5m.6-2.2v2.2m.6-.9v.9m1.6-1.1v1.1m.6-1.7v1.7m.6-1.8v1.8m.6-3.5v3.5m1.2-.9v.9m6.5-.7v.7m1.6-.4v.4m1.2-2.3v2.3m.6-1.8v1.8m1.2-1.8v1.8m.6-2.7v2.7m.6-1.1v1.1m.6-1.5v1.5m1.2-1.4v1.4m5.6-1v1m-146.4 2.1v2.6m.6-3v3m.6-2.2v2.2m.6-1.5v1.5m10.1-.9v.9m1.2-2.6v2.6m.6-1.6v1.6m.6-1.4v1.4m1.2-1.2v1.2m1.2-1.4v1.4m2.6-1.9v1.9m1.4-1.9v1.9m3.5-1.3v1.3m1.9-1.7v1.7m.6-.9v.9m.6-.8v.8m.6-1v1m.6-.4v.4m.6-.9v.9m1-1v1m.6-2.1v2.1m.6-2v2m7.3-1v1m1.4-.3v.3m4.2-1v1m.6-1v1m1.2-1v1m.6-1.3v1.3m.6-2.9v2.9m.6-2.2v2.2m.6-.8v.8m1.8-1.2v1.2m.6-3.2v3.2m.6-3v3m.6-1.7v1.7m.6-1.1v1.1m6.6-.5v.5m2.5-1.4v1.4m1.2-2.7v2.7m.6-3.6v3.6m.6-2.7v2.7m.6-2.2v2.2m.6-1.9v1.9m.6-.7v.7m.6-.6v.6m5.5-1.1v1.1m1.2-1.2v1.2m.6-1v1m5.6-1.3v1.3m4-1.4v1.4m1.8-1.5v1.5m.9-.8v.8m8.1-2v2m5.3-1v1m.6-1.4v1.4m.6-1.8v1.8m1.2-.5v.5m.6-.9v.9m.6-1.2v1.2m4.1-1.7v1.7m1.2-1.1v1.1m9.2-3.5v3.5m1.2-1.4v1.4m.6-.5v.5m.6-.5v.5m.8-.9v.9m2.7-1.2v1.2m.6-1.8v1.8m.6-2.6v2.6m.6-2.1v2.1m1.2-1.9v1.9m5.2-1.3v1.3m.6-1.6v1.6m.6-1.9v1.9m.6-2.1v2.1m.6-2.6v2.6m1.8-.9v.9m2.1-1.8v1.8m4.3-1.8v1.8m.6-.4v.4m.6-1.4v1.4m.6-.4v.4m-144.1 4.3v.4m9.2-.5v.5m.6-1.6v1.6m1.2-1.2v1.2m.6-2v2m14.1-1v1m1.2-1.9v1.9m.6-1.6v1.6m.6-1v1m1.8-.8v.8m3.7-.7v.7m4-1.4v1.4m.9-1.5v1.5m3.7-1.1v1.1m1.2-2.9v2.9m.6-2.9v2.9m.6-1.2v1.2m5.8-1.5v1.5m.6-1.9v1.9m.6-2v2m.6-1.6v1.6m.6-2v2m4.7-.8v.8m1.2-2.2v2.2m.6-2.3v2.3m.6-.8v.8m1.2-1.3v1.3m1.2-.5v.5m4.9-.4v.4m.6-1.6v1.6m.6-2.2v2.2m.6-1.6v1.6m.6-1.2v1.2m.6-.8v.8m4-.7v.7m3.2-1.8v1.8m8.5-2v2m9.5-1.7v1.7m4.6-1v1m.6-.9v.9m.6-1.6v1.6m1.2-1.3v1.3m.6-.7v.7m4.8-.3v.3m1-.4v.4m2.6-1.6v1.6m4.7-.9v.9m1.8-.4v.4m3-1v1m1.2-2.4v2.4m1.2-2.4v2.4m1.8-1.9v1.9m4.4-1.3v1.3m2.3-1.8v1.8m4-1v1m.6-2.1v2.1m.6-1.6v1.6m.6-1.3v1.3m.6-1.4v1.4m1.2-1v1m1.2-1.9v1.9m.6-1v1m1.2-.3v.3m1.6-1.7v1.7m-117.4 3.7v1m1.2-1.9v1.9m1.2-1v1m5-.9v.9m.6-1.6v1.6m3.5-1.3v1.3m4.2-1.4v1.4m4.9-.9v.9m.6-1.9v1.9m.6-1.6v1.6m.6-3.7v3.7m.6-3.1v3.1m.6-1.8v1.8m.6-2.1v2.1m1.2-1.1v1.1m8.2-1.1v1.1m2.4-1.9v1.9m.6-2v2m.6-2.4v2.4m1.2-1.9v1.9m1.8-1.2v1.2m.6-.9v.9m.6-.9v.9m.6-1v1m9.9-1.3v1.3m13.8-.9v.9m.6-2.3v2.3m4.9-.5v.5m.6-.9v.9m.6-.5v.5m.6-.9v.9m1.8-.7v.7m4.2-.6v.6m.6-1v1m1.2-1.6v1.6m8-1.4v1.4m.6-2.1v2.1m.6-1.7v1.7m.6-1.8v1.8m.6-2.5v2.5m.6-3.6v3.6m.6-3.2v3.2m.6-2.3v2.3m.6-1.7v1.7m3.6-1.1v1.1m.6-1.7v1.7m1.8-1.3v1.3m.6-.4v.4m4.1-.5v.5m2.4-.6v.6m3.3-1.1v1.1m.6-1.8v1.8m.6-3.9v3.9m1.2-2.8v2.8m.6-1.6v1.6m-136.6 3.4v1.3m3.1-1.3v1.3m9.3-.8v.8m3.2-.9v.9m.6-1.1v1.1m.6-.4v.4m4.2-1.2v1.2m3.6-1v1m4-.5v.5m1.2-1.9v1.9m.6-1.6v1.6m1.2-2v2m7-.7v.7m.6-1.4v1.4m.6-2.4v2.4m.6-2.2v2.2m.6-2.4v2.4m.6-1.9v1.9m.6-3v3m1.8-1.1v1.1m3.2-.6v.6m.6-1.3v1.3m.6-1.4v1.4m.6-1.3v1.3m1.2-.5v.5m4.6-.5v.5m.6-1.5v1.5m.6-1.6v1.6m3.7-1.4v1.4m.6-1.7v1.7m.6-3.5v3.5m.6-3.4v3.4m1.2-1v1m.6-.9v.9m.6-.6v.6m.6-1.3v1.3m.6-1.1v1.1m3.2-1.1v1.1m3.3-.8v.8m4-.9v.9m10.3-1.2v1.2m7.8-.7v.7m2.9-.5v.5m.6-.8v.8m.6-1.6v1.6m.6-2v2m.6-1.2v1.2m2.5-1.4v1.4m.6-1.7v1.7m3.3-1.2v1.2m1.8-.5v.5m2.8-1.9v1.9m1.5-.7v.7m.6-1.5v1.5m1.2-2.9v2.9m.6-3.4v3.4m.6-2.4v2.4m.6-2.2v2.2m1.2-1.8v1.8m.6-.7v.7m.6-.5v.5m.6-1.3v1.3m4.1-2.9v2.9m.6-2.7v2.7m.6-3.4v3.4m.6-1.6v1.6m.6-1.6v1.6m6-1.6v1.6m.6-1.4v1.4m1.2-1.6v1.6m1.2-1.7v1.7m.6-1.4v1.4m5.3-.5v.5m1.2-.4v.4m-137.9 3.6v1.1m4.9-.7v.7m5-1.9v1.9m8.3-.3v.3m.6-.8v.8m3-2.2v2.2m3-1.1v1.1m.6-.6v.6m.6-1.3v1.3m2.6-.9v.9m.6-.6v.6m.6-1.4v1.4m5.2-.7v.7m.6-1.2v1.2m1.2-1.3v1.3m.6-1.9v1.9m.6-1.8v1.8m.6-2.9v2.9m2.4-.5v.5m3.6-.8v.8m.6-1.3v1.3m.6-1.5v1.5m.6-3.6v3.6m.6-1.7v1.7m1.2-1v1m4.9-1.2v1.2m.6-1.5v1.5m.6-2.1v2.1m.6-1.4v1.4m1.2-2.4v2.4m.6-2.8v2.8m.6-3.4v3.4m.6-1v1m.6-1.1v1.1m2.6-.5v.5m1.8-.7v.7m1.2-.7v.7m10.9-1.4v1.4m2.5-1.4v1.4m2.7-.5v.5m3.5-1.3v1.3m.6-2.5v2.5m.6-.9v.9m8.6-1.4v1.4m8.8-1.4v1.4m.6-1.2v1.2m6.6-2.3v2.3m.6-1.8v1.8m.6-3.8v3.8m.6-2.4v2.4m.6-2.1v2.1m.6-3.3v3.3m.6-2.6v2.6m.6-1.2v1.2m.6-2.8v2.8m.6-2.5v2.5m.6-1.7v1.7m.6-2.6v2.6m.6-3.4v3.4m.6-2.5v2.5m.6-3.7v3.7m.6-1.4v1.4m1.2-1.4v1.4m.6-.7v.7m4.6-.6v.6m1.6-1.4v1.4m2.1-.3v.3m1.2-1.8v1.8m1.2-2.1v2.1m.6-3.9v3.9m.6-1.9v1.9m1.8-.4v.4m4.1-1.3v1.3m-141.6 4.4v.3m4.5-2.2v2.2m.6-1v1m9-2v2m2.1-.4v.4m6.1-1.8v1.8m2.8-1.8v1.8m6.6-.7v.7m.6-1.8v1.8m.6-.8v.8m5.6-1.6v1.6m.6-1.2v1.2m.6-1.9v1.9m.6-3.4v3.4m.6-2.4v2.4m.6-1.3v1.3m.6-3.8v3.8m.6-1.5v1.5m.6-1.9v1.9m1.2-1.4v1.4m.6-2.9v2.9m.6-1.5v1.5m.6-3.1v3.1m.6-2.6v2.6m.6-2.8v2.8m.6-1.5v1.5m.6-1.9v1.9m1.2-1v1m9.3-.7v.7m.6-2v2m.6-2.5v2.5m.6-2.6v2.6m.6-1.7v1.7m.6-1.6v1.6m.6-1v1m.6-1.1v1.1m6-1.1v1.1m19-1.3v1.3m2.1-.3v.3m3-1.1v1.1m.6-1.2v1.2m11.4-1.1v1.1m-107.8 4v.7m1.6-.4v.4m15.1-.4v.4m4.1-.4v.4m.6-1.7v1.7m1.2-.7v.7m10.5-1.6v1.6m2.9-1.7v1.7"/>
<g id="bg"><rect width="147.4" height="126.9" fill="#cacaca"/><rect width="36.9" height="28.2" fill="#fff"/><rect x="73.7" width="36.9" height="23.5" fill="#fff"/></g>
<path id="bl" d="M0 4.4h147.4M0 9.1h147.4M0 13.8h147.4M0 18.5h147.4M0 23.2h147.4M0 27.9h147.4M0 32.6h147.4M0 37.3h147.4M0 42.0h147.4M0 46.7h147.4M0 51.4h147.4M0 56.1h147.4M0 60.8h147.4M0 65.5h147.4M0 70.2h147.4M0 74.9h147.4M0 79.6h147.4M0 84.3h147.4M0 89.0h147.4M0 93.7h147.4M0 98.4h147.4M0 103.1h147.4M0 107.8h147.4M0 112.5h147.4M0 117.2h147.4M0 121.9h110.5M0 126.6h36.9" fill="none" stroke-width="0.5"/>
</defs>
<g transform="translate(48.2,197.3)">
<use href="#bg"/>
<use href="#a0" fill="rgba(0,255,0,0.7)"/>
<use href="#k0" stroke="#000" stroke-width="0.75" fill="none"/>
<use href="#v0" fill="rgba(255,0,255,0.62)"/>
<rect width="147.4" height="126.9" fill="none" stroke="#777" stroke-width="0.7"/>
</g>
<g transform="translate(201.1,197.3)">
<use href="#bg"/>
<use href="#a0" fill="rgba(0,255,0,0.7)"/>
<use href="#k0" stroke="#000" stroke-width="0.75" fill="none"/>
<rect width="147.4" height="126.9" fill="none" stroke="#777" stroke-width="0.7"/>
</g>
<g transform="translate(353.6,197.3)">
<use href="#bg"/>
<use href="#k0" stroke="#000" stroke-width="0.75" fill="none"/>
<use href="#v0" fill="rgba(255,0,255,0.62)"/>
<rect width="147.4" height="126.9" fill="none" stroke="#777" stroke-width="0.7"/>
</g>
<g transform="translate(506,197.3)">
<use href="#bg"/>
<use href="#bl" stroke="#888"/>
<use href="#k0" stroke="#000" stroke-width="0.75" fill="none"/>
<rect width="147.4" height="126.9" fill="none" stroke="#777" stroke-width="0.7"/>
</g>
<text transform="translate(13.3,257.8) rotate(-90)" x="0" y="0" font-size="14.5" font-weight="bold" fill="#b77fcb" text-anchor="middle" dominant-baseline="central" >Control</text>
<text transform="translate(27.6,262.3) rotate(-90)" x="0" y="0" font-size="11.3" font-weight="bold" fill="#000" text-anchor="middle" dominant-baseline="central" >Days</text>
<text x="46.2" y="203.4" font-size="10" font-weight="bold" fill="#000" text-anchor="end" >1</text>
<line x1="46.3" y1="199.9" x2="48.2" y2="199.9" stroke="#000" stroke-width="0.7"/>
<text x="46.2" y="222" font-size="10" font-weight="bold" fill="#000" text-anchor="end" >5</text>
<line x1="46.3" y1="218.5" x2="48.2" y2="218.5" stroke="#000" stroke-width="0.7"/>
<text x="46.2" y="245.3" font-size="10" font-weight="bold" fill="#000" text-anchor="end" >10</text>
<line x1="46.3" y1="241.8" x2="48.2" y2="241.8" stroke="#000" stroke-width="0.7"/>
<text x="46.2" y="268.6" font-size="10" font-weight="bold" fill="#000" text-anchor="end" >15</text>
<line x1="46.3" y1="265.1" x2="48.2" y2="265.1" stroke="#000" stroke-width="0.7"/>
<text x="46.2" y="291.8" font-size="10" font-weight="bold" fill="#000" text-anchor="end" >20</text>
<line x1="46.3" y1="288.3" x2="48.2" y2="288.3" stroke="#000" stroke-width="0.7"/>
<text x="46.2" y="315.1" font-size="10" font-weight="bold" fill="#000" text-anchor="end" >25</text>
<line x1="46.3" y1="311.6" x2="48.2" y2="311.6" stroke="#000" stroke-width="0.7"/>
<g transform="translate(48.2,326.3)">
<use href="#bg"/>
<use href="#a1" fill="rgba(0,255,0,0.7)"/>
<use href="#k1" stroke="#000" stroke-width="0.75" fill="none"/>
<use href="#v1" fill="rgba(255,0,255,0.62)"/>
<rect width="147.4" height="126.9" fill="none" stroke="#777" stroke-width="0.7"/>
</g>
<g transform="translate(201.1,326.3)">
<use href="#bg"/>
<use href="#a1" fill="rgba(0,255,0,0.7)"/>
<use href="#k1" stroke="#000" stroke-width="0.75" fill="none"/>
<rect width="147.4" height="126.9" fill="none" stroke="#777" stroke-width="0.7"/>
</g>
<g transform="translate(353.6,326.3)">
<use href="#bg"/>
<use href="#k1" stroke="#000" stroke-width="0.75" fill="none"/>
<use href="#v1" fill="rgba(255,0,255,0.62)"/>
<rect width="147.4" height="126.9" fill="none" stroke="#777" stroke-width="0.7"/>
</g>
<g transform="translate(506,326.3)">
<use href="#bg"/>
<use href="#bl" stroke="#888"/>
<use href="#k1" stroke="#000" stroke-width="0.75" fill="none"/>
<rect width="147.4" height="126.9" fill="none" stroke="#777" stroke-width="0.7"/>
</g>
<text transform="translate(13.3,388.4) rotate(-90)" x="0" y="0" font-size="14.5" font-weight="bold" fill="#f7931e" text-anchor="middle" dominant-baseline="central" >VIP-deficient #1</text>
<text transform="translate(27.6,391.3) rotate(-90)" x="0" y="0" font-size="11.3" font-weight="bold" fill="#000" text-anchor="middle" dominant-baseline="central" >Days</text>
<text x="46.2" y="332.4" font-size="10" font-weight="bold" fill="#000" text-anchor="end" >1</text>
<line x1="46.3" y1="328.9" x2="48.2" y2="328.9" stroke="#000" stroke-width="0.7"/>
<text x="46.2" y="351" font-size="10" font-weight="bold" fill="#000" text-anchor="end" >5</text>
<line x1="46.3" y1="347.5" x2="48.2" y2="347.5" stroke="#000" stroke-width="0.7"/>
<text x="46.2" y="374.3" font-size="10" font-weight="bold" fill="#000" text-anchor="end" >10</text>
<line x1="46.3" y1="370.8" x2="48.2" y2="370.8" stroke="#000" stroke-width="0.7"/>
<text x="46.2" y="397.6" font-size="10" font-weight="bold" fill="#000" text-anchor="end" >15</text>
<line x1="46.3" y1="394.1" x2="48.2" y2="394.1" stroke="#000" stroke-width="0.7"/>
<text x="46.2" y="420.8" font-size="10" font-weight="bold" fill="#000" text-anchor="end" >20</text>
<line x1="46.3" y1="417.3" x2="48.2" y2="417.3" stroke="#000" stroke-width="0.7"/>
<text x="46.2" y="444.1" font-size="10" font-weight="bold" fill="#000" text-anchor="end" >25</text>
<line x1="46.3" y1="440.6" x2="48.2" y2="440.6" stroke="#000" stroke-width="0.7"/>
<g transform="translate(48.2,456.8)">
<use href="#bg"/>
<use href="#a2" fill="rgba(0,255,0,0.7)"/>
<use href="#k2" stroke="#000" stroke-width="0.75" fill="none"/>
<use href="#v2" fill="rgba(255,0,255,0.62)"/>
<rect width="147.4" height="126.9" fill="none" stroke="#777" stroke-width="0.7"/>
</g>
<g transform="translate(201.1,456.8)">
<use href="#bg"/>
<use href="#a2" fill="rgba(0,255,0,0.7)"/>
<use href="#k2" stroke="#000" stroke-width="0.75" fill="none"/>
<rect width="147.4" height="126.9" fill="none" stroke="#777" stroke-width="0.7"/>
</g>
<g transform="translate(353.6,456.8)">
<use href="#bg"/>
<use href="#k2" stroke="#000" stroke-width="0.75" fill="none"/>
<use href="#v2" fill="rgba(255,0,255,0.62)"/>
<rect width="147.4" height="126.9" fill="none" stroke="#777" stroke-width="0.7"/>
</g>
<g transform="translate(506,456.8)">
<use href="#bg"/>
<use href="#bl" stroke="#888"/>
<use href="#k2" stroke="#000" stroke-width="0.75" fill="none"/>
<rect width="147.4" height="126.9" fill="none" stroke="#777" stroke-width="0.7"/>
</g>
<text transform="translate(13.3,521.2) rotate(-90)" x="0" y="0" font-size="14.5" font-weight="bold" fill="#f7931e" text-anchor="middle" dominant-baseline="central" >VIP-deficient #2</text>
<text transform="translate(27.6,521.8) rotate(-90)" x="0" y="0" font-size="11.3" font-weight="bold" fill="#000" text-anchor="middle" dominant-baseline="central" >Days</text>
<text x="46.2" y="462.9" font-size="10" font-weight="bold" fill="#000" text-anchor="end" >1</text>
<line x1="46.3" y1="459.4" x2="48.2" y2="459.4" stroke="#000" stroke-width="0.7"/>
<text x="46.2" y="481.5" font-size="10" font-weight="bold" fill="#000" text-anchor="end" >5</text>
<line x1="46.3" y1="478" x2="48.2" y2="478" stroke="#000" stroke-width="0.7"/>
<text x="46.2" y="504.8" font-size="10" font-weight="bold" fill="#000" text-anchor="end" >10</text>
<line x1="46.3" y1="501.3" x2="48.2" y2="501.3" stroke="#000" stroke-width="0.7"/>
<text x="46.2" y="528.1" font-size="10" font-weight="bold" fill="#000" text-anchor="end" >15</text>
<line x1="46.3" y1="524.6" x2="48.2" y2="524.6" stroke="#000" stroke-width="0.7"/>
<text x="46.2" y="551.3" font-size="10" font-weight="bold" fill="#000" text-anchor="end" >20</text>
<line x1="46.3" y1="547.8" x2="48.2" y2="547.8" stroke="#000" stroke-width="0.7"/>
<text x="46.2" y="574.6" font-size="10" font-weight="bold" fill="#000" text-anchor="end" >25</text>
<line x1="46.3" y1="571.1" x2="48.2" y2="571.1" stroke="#000" stroke-width="0.7"/>
<text x="50.7" y="591.7" font-size="9.6" font-weight="bold" fill="#000" text-anchor="middle" >0</text>
<text x="84.5" y="591.7" font-size="9.6" font-weight="bold" fill="#000" text-anchor="middle" >12</text>
<text x="121.8" y="591.7" font-size="9.6" font-weight="bold" fill="#000" text-anchor="middle" >0</text>
<text x="158" y="591.7" font-size="9.6" font-weight="bold" fill="#000" text-anchor="middle" >12</text>
<text x="193" y="591.7" font-size="9.6" font-weight="bold" fill="#000" text-anchor="middle" >0</text>
<text x="123.6" y="603.8" font-size="11.5" font-weight="bold" fill="#000" text-anchor="middle" >Time (h)</text>
<text x="203.6" y="591.7" font-size="9.6" font-weight="bold" fill="#000" text-anchor="middle" >0</text>
<text x="237.4" y="591.7" font-size="9.6" font-weight="bold" fill="#000" text-anchor="middle" >12</text>
<text x="274.7" y="591.7" font-size="9.6" font-weight="bold" fill="#000" text-anchor="middle" >0</text>
<text x="310.9" y="591.7" font-size="9.6" font-weight="bold" fill="#000" text-anchor="middle" >12</text>
<text x="345.9" y="591.7" font-size="9.6" font-weight="bold" fill="#000" text-anchor="middle" >0</text>
<text x="272.5" y="603.8" font-size="11.5" font-weight="bold" fill="#000" text-anchor="middle" >Time (h)</text>
<text x="356.1" y="591.7" font-size="9.6" font-weight="bold" fill="#000" text-anchor="middle" >0</text>
<text x="389.9" y="591.7" font-size="9.6" font-weight="bold" fill="#000" text-anchor="middle" >12</text>
<text x="427.2" y="591.7" font-size="9.6" font-weight="bold" fill="#000" text-anchor="middle" >0</text>
<text x="463.4" y="591.7" font-size="9.6" font-weight="bold" fill="#000" text-anchor="middle" >12</text>
<text x="498.4" y="591.7" font-size="9.6" font-weight="bold" fill="#000" text-anchor="middle" >0</text>
<text x="428.6" y="603.8" font-size="11.5" font-weight="bold" fill="#000" text-anchor="middle" >Time (h)</text>
<text x="508.5" y="591.7" font-size="9.6" font-weight="bold" fill="#000" text-anchor="middle" >0</text>
<text x="542.3" y="591.7" font-size="9.6" font-weight="bold" fill="#000" text-anchor="middle" >12</text>
<text x="579.6" y="591.7" font-size="9.6" font-weight="bold" fill="#000" text-anchor="middle" >0</text>
<text x="615.8" y="591.7" font-size="9.6" font-weight="bold" fill="#000" text-anchor="middle" >12</text>
<text x="650.8" y="591.7" font-size="9.6" font-weight="bold" fill="#000" text-anchor="middle" >0</text>
<text x="578.2" y="603.8" font-size="11.5" font-weight="bold" fill="#000" text-anchor="middle" >Time (h)</text>
<text x="0" y="614.4" font-size="29.5" font-weight="normal" fill="#000" text-anchor="start" >d</text>
<text x="0.3" y="707.5" font-size="29.5" font-weight="normal" fill="#000" text-anchor="start" >e</text>
<text transform="translate(30.2,647.9) rotate(-90)" font-size="14.6" font-weight="bold" fill="#1ec81e" text-anchor="middle">AVP-Ca<tspan font-size="10" dy="-5.5">2+</tspan></text>
<text transform="translate(49.6,646.9) rotate(-90)" font-size="14.5" font-weight="bold" text-anchor="middle">ΔR/R<tspan font-size="10" dy="3.5">0</tspan><tspan dy="-3.5">%</tspan></text>
<text transform="translate(30.2,741.9) rotate(-90)" font-size="14.6" font-weight="bold" fill="#f01ef0" text-anchor="middle">VIP-Ca<tspan font-size="10" dy="-5.5">2+</tspan></text>
<text transform="translate(49.6,740.5) rotate(-90)" font-size="14.5" font-weight="bold" text-anchor="middle">ΔR/R<tspan font-size="10" dy="3.5">0</tspan><tspan dy="-3.5">%</tspan></text>
<rect x="82.7" y="612.1" width="5.35" height="68.3" fill="#d3d3d3"/>
<rect x="93.4" y="612.1" width="5.35" height="68.3" fill="#d3d3d3"/>
<rect x="104.1" y="612.1" width="5.35" height="68.3" fill="#d3d3d3"/>
<rect x="114.8" y="612.1" width="5.35" height="68.3" fill="#d3d3d3"/>
<rect x="125.5" y="612.1" width="5.35" height="68.3" fill="#d3d3d3"/>
<rect x="136.3" y="612.1" width="217.7" height="68.3" fill="#d3d3d3"/>
<path transform="translate(78.42,0) scale(0.5,1)" d="M0 620.0l1-2.4 1-.2 1 1.9 1 4 1 5.5 1 6.7 1 7.3 1 7.1 1 6.4 1 5.2 1 3.6 1 1.6 1-.4 1-2.4 1-4 1-5.5 1-6.3 1-6.6 1-6.3 1-5.6 1-4.5 1-3 1-1.2 1 .8 1 2.5 1 4.2 1 5.4 1 6.3 1 6.5 1 6.1 1 5.4 1 4.1 1 2.5 1 .6 1-1.3 1-3 1-4.6 1-5.7 1-6.4 1-6.5 1-6 1-5 1-3.7 1-1.9 1-.1 1 1.8 1 3.6 1 4.9 1 6 1 6.4 1 6.4 1 5.8 1 4.7 1 3.2 1 1.4 1-.5 1-2.4 1-3.9 1-5.3 1-6.2 1-6.5 1-6.2 1-5.5 1-4.3 1-2.7 1-.9 1 1.1 1 2.8 1 4.4 1 5.6 1 6.3 1 6.5 1 6.1 1 5.2 1 3.8 1 2.2 1 .3 1-1.6 1-3.3 1-4.8 1-5.8 1-6.4 1-6.5 1-5.9 1-4.8 1-3.4 1-1.6 1 .2 1 2.1 1 3.8 1 5.1 1 6.1 1 6.5 1 6.3 1 5.6 1 4.5 1 2.9 1 1.1 1-.8 1-2.6 1-4.2 1-5.5 1-6.2 1-6.5 1-6.2 1-5.3 1-4.1 1-2.4 1-.5 1 1.3 1 3.1 1 4.6 1 5.8 1 6.3 1 6.5 1 5.6 1 4.8 1 3.5 1 1.8 1-.1 1-2 1-3.6 1-5 1-5.9 1-6.3 1-6.2 1-5.4 1-4.3 1-2.8 1-.9 1 .9 1 2.7 1 4.3 1 5.5 1 6.1 1 6.4 1 5.9 1 5 1 3.6 1 2 1 .1 1-1.8 1-3.4 1-4.9 1-5.8 1-6.3 1-6.2 1-5.6 1-4.4 1-3 1-1.1 1 .7 1 2.6 1 4.1 1 5.3 1 6.2 1 6.3 1 6 1 5.1 1 3.8 1 2.1 1 .4 1-1.6 1-3.3 1-4.7 1-5.8 1-6.2 1-6.3 1-5.7 1-4.5 1-3.1 1-1.4 1 .6 1 2.3 1 4 1 5.2 1 6.1 1 6.3 1 6.1 1 5.2 1 4 1 2.3 1 .5 1-1.3 1-3.2 1-4.6 1-5.6 1-6.3 1-6.2 1-5.8 1-4.7 1-3.3 1-1.5 1 .3 1 2.2 1 3.8 1 5.1 1 6 1 6.3 1 6.1 1 5.4 1 4.1 1 2.5 1 .7 1-1.1 1-2.9 1-4.5 1-5.6 1-6.2 1-6.3 1-5.8 1-4.9 1-3.4 1-1.7 1 .1 1 2 1 3.6 1 5 1 5.9 1 6.4 1 6.1 1 5.5 1 4.2 1 2.7 1 1 1-1 1-2.8 1-4.3 1-5.4 1-6.2 1-6.3 1-5.9 1-5 1-3.6 1-1.9 1-.1 1 1.8 1 3.4 1 4.9 1 5.9 1 6.3 1 6.2 1 5.5 1 4.4 1 2.9 1 1.2 1-.8 1-2.6 1-4.1 1-5.4 1-6.1 1-6.3 1-6 1-5.1 1-3.8 1-2.1 1-.3 1 1.6 1 3.3 1 4.7 1 5.8 1 6.3 1 6.2 1 5.7 1 4.5 1 3.1 1 1.3 1-.5 1-2.4 1-4 1-5.3 1-6 1-6.4 1-6 1-5.2 1-4 1-2.3 1-.5 1 1.4 1 3.2 1 4.6 1 5.7 1 6.2 1 6.3 1 5.7 1 4.7 1 3.3 1 1.5 1-.4 1-2.2 1-3.8 1-5.2 1-6 1-6.3 1-6.1 1-5.3 1-4.1 1-2.5 1-.7 1 1.2 1 2.9 1 4.5 1 5.6 1 6.2 1 6.3 1 5.8 1 4.9 1 3.4 1 1.7 1-.2 1-2 1-3.6 1-5.1 1-5.9 1-6.3 1-6.2 1-5.4 1-4.3 1-2.6 1-.9 1 1 1 2.7 1 4.4 1 5.5 1 6.1 1 6.4 1 5.8 1 5 1 3.6 1 1.9 1 .1 1-1.9 1-3.5 1-4.9 1-5.8 1-6.3 1-6.2 1-5.6 1-4.4 1-2.8 1-1.1 1 .8 1 2.6 1 4.1 1 5.4 1 6.2 1 6.3 1 5.9 1 5.1 1 3.8 1 2.1 1 .2 1-1.6 1-3.3 1-4.8 1-5.8 1-6.2 1-6.3 1-5.6 1-4.6 1-3 1-1.3 1 .6 1 2.4 1 4 1 5.3 1 6.1 1 6.3 1 6 1 5.2 1 4 1 2.2 1 .5 1-1.4 1-3.2 1-4.6 1-5.7 1-6.3 1-6.2 1-5.8 1-4.6 1-3.3 1-1.4 1 .3 1 2.3 1 3.8 1 5.2 1 6 1 6.3 1 6.1 1 5.3 1 4.1 1 2.5 1 .6 1-1.2 1-3 1-4.5 1-5.6 1-6.2 1-6.3 1-5.8 1-4.8 1-3.4 1-1.7 1 .2 1 2 1 3.7 1 5.1 1 5.9 1 6.4 1 6.1 1 5.4 1 4.2 1 2.7 1 .9 1-1.1 1-2.8 1-4.3 1-5.5 1-6.2 1-6.3 1-5.9 1-4.9 1-3.6 1-1.9 1 0 1 1.8 1 3.6 1 4.9 1 5.9 1 6.3 1 6.2 1 5.5 1 4.4 1 2.8 1 1.1 1-.9 1-2.6 1-4.2 1-5.4 1-6.1 1-6.3 1-6 1-5.1 1-3.7 1-2.1 1-.2 1 1.7 1 3.3 1 4.8 1 5.8 1 6.3 1 6.2 1 5.6 1 4.6 1 3 1 1.2 1-.6 1-2.4 1-4.1 1-5.3 1-6 1-6.4 1-6 1-5.2 1-3.9 1-2.2 1-.5 1 1.5 1 3.2 1 4.6 1 5.7 1 6.3 1 6.3 1 5.7 1 4.6 1 3.2 1 1.5 1-.4 1-2.3 1-3.9 1-5.1 1-6.1 1-6.3 1-6.1 1-5.3 1-4 1-2.5 1-.6 1 1.3 1 3 1 4.5 1 5.6 1 6.2 1 6.3 1 5.8 1 4.8 1 3.4 1 1.6 1-.2 1-2 1-3.8 1-5 1-6 1-6.3 1-6.1 1-5.5 1-4.2 1-2.6 1-.8 1 1 1 2.9 1 4.3 1 5.6 1 6.1 1 6.3 1 5.9 1 4.9 1 3.6 1 1.8 1 0 1-1.8 1-3.6 1-4.9 1-5.9 1-6.3 1-6.2 1-5.5 1-4.4 1-2.8 1-1 1 .8 1 2.7 1 4.2 1 5.4 1 6.2 1 6.3 1 5.9 1 5.1 1 3.7 1 2 1 .2 1-1.7 1-3.3 1-4.9 1-5.8 1-6.2 1-6.3 1-5.6 1-4.5 1-3L551 629.3l-1 3-1 4.5-1 5.6-1 6.2-1 6.3-1 5.8-1 4.8-1 3.4-1 1.7-1-.2-1-2.1-1-3.7-1-5-1-6-1-6.3-1-6.1-1-5.4-1-4.3-1-2.6-1-.9-1 1.1-1 2.8-1 4.3-1 5.5-1 6.2-1 6.3-1 5.9-1 5-1 3.5-1 1.9-1 0-1-1.9-1-3.5-1-4.9-1-5.9-1-6.3-1-6.2-1-5.5-1-4.4-1-2.8-1-1.1-1 .9-1 2.6-1 4.2-1 5.4-1 6.1-1 6.4-1 5.9-1 5.1-1 3.7-1 2.1-1 .2-1-1.7-1-3.3-1-4.8-1-5.8-1-6.3-1-6.2-1-5.7-1-4.5-1-3-1-1.2-1 .6-1 2.4-1 4.1-1 5.3-1 6.1-1 6.3-1 6-1 5.2-1 3.9-1 2.2-1 .5-1-1.5-1-3.2-1-4.7-1-5.7-1-6.2-1-6.3-1-5.7-1-4.7-1-3.1-1-1.5-1 .4-1 2.3-1 3.9-1 5.2-1 6-1 6.3-1 6.1-1 5.3-1 4-1 2.5-1 .6-1-1.3-1-3-1-4.5-1-5.6-1-6.3-1-6.2-1-5.8-1-4.8-1-3.4-1-1.6-1 .2-1 2.1-1 3.7-1 5.1-1 5.9-1 6.3-1 6.2-1 5.4-1 4.2-1 2.6-1 .8-1-1-1-2.9-1-4.4-1-5.5-1-6.2-1-6.3-1-5.8-1-5-1-3.5-1-1.8-1 0-1 1.9-1 3.5-1 5-1 5.9-1 6.3-1 6.1-1 5.5-1 4.4-1 2.8-1 1-1-.8-1-2.7-1-4.2-1-5.4-1-6.2-1-6.3-1-6-1-5-1-3.7-1-2-1-.2-1 1.7-1 3.4-1 4.8-1 5.8-1 6.3-1 6.2-1 5.6-1 4.5-1 3-1 1.2-1-.7-1-2.4-1-4.1-1-5.3-1-6.1-1-6.3-1-6-1-5.2-1-3.9-1-2.2-1-.4-1 1.5-1 3.2-1 4.7-1 5.7-1 6.3-1 6.3-1 5.6-1 4.7-1 3.1-1 1.5-1-.5-1-2.3-1-3.9-1-5.2-1-6-1-6.4-1-6-1-5.3-1-4-1-2.4-1-.6-1 1.3-1 3-1 4.5-1 5.7-1 6.2-1 6.3-1 5.8-1 4.7-1 3.4-1 1.6-1-.3-1-2.1-1-3.7-1-5.1-1-6-1-6.3-1-6.1-1-5.4-1-4.2-1-2.6-1-.8-1 1.1-1 2.9-1 4.4-1 5.5-1 6.2-1 6.3-1 5.9-1 4.9-1 3.5-1 1.8-1 0-1-1.9-1-3.6-1-5-1-5.9-1-6.3-1-6.2-1-5.5-1-4.3-1-2.8-1-1-1 .9-1 2.7-1 4.3-1 5.4-1 6.1-1 6.4-1 5.9-1 5-1 3.7-1 2-1 .2-1-1.8-1-3.4-1-4.8-1-5.8-1-6.3-1-6.2-1-5.6-1-4.5-1-3-1-1.1-1 .6-1 2.5-1 4.1-1 5.4-1 6.1-1 6.3-1 6-1 5.1-1 3.9-1 2.2-1 .3-1-1.5-1-3.2-1-4.7-1-5.8-1-6.2-1-6.3-1-5.7-1-4.6-1-3.1-1-1.4-1 .5-1 2.3-1 3.9-1 5.2-1 6.1-1 6.3-1 6.1-1 5.2-1 4-1 2.4-1 .6-1-1.3-1-3.1-1-4.6-1-5.6-1-6.3-1-6.2-1-5.8-1-4.7-1-3.4-1-1.5-1 .2-1 2.2-1 3.7-1 5.1-1 6-1 6.3-1 6.2-1 5.3-1 4.2-1 2.6-1 .7-1-1.1-1-2.9-1-4.4-1-5.6-1-6.2-1-6.3-1-5.8-1-4.9-1-3.5-1-1.8-1 .1-1 1.9-1 3.7-1 4.9-1 5.9-1 6.4-1 6.1-1 5.5-1 4.3-1 2.8-1 .9-1-.9-1-2.7-1-4.3-1-5.4-1-6.2-1-6.3-1-5.9-1-5-1-3.7-1-2-1-.1-1 1.8-1 3.4-1 4.9-1 5.8-1 6.3-1 6.2-1 5.6-1 4.4-1 2.9-1 1.2-1-.7-1-2.5-1-4.2-1-5.3-1-6.1-1-6.3-1-6-1-5.2-1-3.8-1-2.1-1-.4-1 1.6-1 3.3-1 4.7-1 5.7-1 6.3-1 6.2-1 5.7-1 4.6-1 3.1-1 1.4-1-.5-1-2.4-1-3.9-1-5.3-1-6-1-6.4-1-6-1-5.3-1-3.9-1-2.4-1-.5-1 1.3-1 3.1-1 4.6-1 5.7-1 6.2-1 6.3-1 5.7-1 4.8-1 3.3-1 1.5-1-.3-1-2.1-1-3.8-1-5.2-1-6-1-6.3-1-6.1-1-5.3-1-4.2-1-2.5-1-.8-1 1.2-1 2.9-1 4.5-1 5.5-1 6.2-1 6.3-1 5.9-1 4.8-1 3.5-1 1.7-1-.1-1-1.9-1-3.7-1-5-1-5.9-1-6.3-1-6.2-1-5.4-1-4.3-1-2.7-1-1-1 1-1 2.7-1 4.3-1 5.5-1 6.1-1 6.4-1 5.9-1 5-1 3.6-1 1.9-1 .1-1-1.7-1-3.5-1-4.9-1-5.5-1-6.5-1-6.4-1-5.7-1-4.6-1-3.1-1-1.4-1 .6-1 2.4-1 4-1 5.4-1 6.2-1 6.4-1 6.3-1 5.4-1 4.3-1 2.6-1 .8-1-1.1-1-2.9-1-4.5-1-5.6-1-6.4-1-6.4-1-6.1-1-5.2-1-3.7-1-2.1-1-.3-1 1.7-1 3.4-1 4.8-1 5.9-1 6.4-1 6.4-1 5.9-1 4.8-1 3.3-1 1.6-1-.3-1-2.2-1-3.9-1-5.2-1-6.1-1-6.4-1-6.3-1-5.6-1-4.4-1-2.9-1-1-1 .8-1 2.7-1 4.3-1 5.5-1 6.3-1 6.5-1 6.1-1 5.3-1 4-1 2.3-1 .5-1-1.4-1-3.2-1-4.6-1-5.8-1-6.4-1-6.5-1-5.9-1-5-1-3.5-1-1.8-1 .1-1 1.9-1 3.6-1 5.1-1 6-1 6.5-1 6.3-1 5.7-1 4.6-1 3.1-1 1.2-1-.6-1-2.4-1-4.1-1-5.4-1-6.2-1-6.5-1-6.2-1-5.4-1-4.2-1-2.6-1-.7-1 1.2-1 2.9-1 4.5-1 5.7-1 6.3-1 6.6-1 6.3-1 5.4-1 4.1-1 2.4-1 .4-1-1.7-1-3.5-1-5.2-1-6.5-1-7.1-1-7.2-1-6.7-1-5.6-1-3.9-1-2-1 .2-1 2.5z" fill="#d2b6e4"/>
<path transform="translate(78.42,0) scale(0.5,1)" d="M0 623.1l1-2.4 1-.2 1 1.9 1 4 1 5.6 1 6.7 1 7.2 1 7.1 1 6.4 1 5.2 1 3.6 1 1.6 1-.4 1-2.3 1-4.1 1-5.4 1-6.3 1-6.6 1-6.4 1-5.6 1-4.5 1-3 1-1.1 1 .7 1 2.6 1 4.1 1 5.5 1 6.2 1 6.5 1 6.2 1 5.3 1 4.1 1 2.5 1 .6 1-1.3 1-3 1-4.6 1-5.7 1-6.4 1-6.4 1-6 1-5.1 1-3.6 1-2 1 0 1 1.8 1 3.5 1 5 1 5.9 1 6.5 1 6.3 1 5.8 1 4.7 1 3.2 1 1.4 1-.5 1-2.3 1-4 1-5.3 1-6.2 1-6.4 1-6.3 1-5.5 1-4.3 1-2.7 1-.8 1 1 1 2.8 1 4.4 1 5.6 1 6.3 1 6.5 1 6.1 1 5.2 1 3.8 1 2.2 1 .3 1-1.5 1-3.4 1-4.7 1-5.9 1-6.4 1-6.4 1-5.9 1-4.9 1-3.4 1-1.6 1 .2 1 2.1 1 3.8 1 5.2 1 6 1 6.5 1 6.3 1 5.7 1 4.4 1 2.9 1 1.1 1-.7 1-2.7 1-4.2 1-5.4 1-6.3 1-6.5 1-6.2 1-5.3 1-4 1-2.4 1-.6 1 1.3 1 3.1 1 4.7 1 5.7 1 6.4 1 6.4 1 5.6 1 4.9 1 3.4 1 1.8 1-.1 1-1.9 1-3.7 1-5 1-5.9 1-6.3 1-6.1 1-5.5 1-4.3 1-2.7 1-1 1 .9 1 2.8 1 4.2 1 5.5 1 6.2 1 6.3 1 5.9 1 5 1 3.6 1 2 1 .1 1-1.7 1-3.5 1-4.9 1-5.8 1-6.3 1-6.2 1-5.6 1-4.4 1-2.9 1-1.2 1 .7 1 2.6 1 4.1 1 5.4 1 6.1 1 6.3 1 6 1 5.1 1 3.8 1 2.2 1 .3 1-1.6 1-3.3 1-4.7 1-5.7 1-6.3 1-6.3 1-5.6 1-4.6 1-3.1 1-1.3 1 .5 1 2.3 1 4 1 5.3 1 6 1 6.3 1 6.1 1 5.2 1 4 1 2.3 1 .5 1-1.3 1-3.1 1-4.6 1-5.7 1-6.2 1-6.3 1-5.8 1-4.7 1-3.3 1-1.5 1 .3 1 2.2 1 3.8 1 5.1 1 6 1 6.4 1 6.1 1 5.3 1 4.1 1 2.6 1 .7 1-1.2 1-2.9 1-4.5 1-5.5 1-6.3 1-6.2 1-5.9 1-4.8 1-3.5 1-1.7 1 .1 1 2 1 3.6 1 5 1 6 1 6.3 1 6.1 1 5.5 1 4.3 1 2.7 1 .9 1-1 1-2.7 1-4.3 1-5.5 1-6.2 1-6.3 1-5.9 1-5 1-3.6 1-1.9 1-.1 1 1.8 1 3.5 1 4.9 1 5.8 1 6.3 1 6.2 1 5.6 1 4.4 1 2.9 1 1.1 1-.8 1-2.5 1-4.2 1-5.4 1-6.1 1-6.3 1-6 1-5.1 1-3.8 1-2.1 1-.3 1 1.6 1 3.3 1 4.8 1 5.7 1 6.3 1 6.3 1 5.6 1 4.6 1 3 1 1.4 1-.6 1-2.4 1-4 1-5.2 1-6.1 1-6.3 1-6.1 1-5.2 1-3.9 1-2.4 1-.4 1 1.4 1 3.1 1 4.6 1 5.7 1 6.2 1 6.3 1 5.7 1 4.7 1 3.3 1 1.5 1-.4 1-2.1 1-3.9 1-5.1 1-6 1-6.4 1-6.1 1-5.3 1-4.1 1-2.5 1-.7 1 1.2 1 3 1 4.4 1 5.6 1 6.3 1 6.2 1 5.9 1 4.8 1 3.4 1 1.7 1-.1 1-2 1-3.7 1-5 1-6 1-6.3 1-6.1 1-5.5 1-4.2 1-2.7 1-.9 1 1 1 2.8 1 4.3 1 5.5 1 6.2 1 6.3 1 5.9 1 4.9 1 3.6 1 1.9 1 .1 1-1.8 1-3.5 1-4.9 1-5.9 1-6.3 1-6.2 1-5.5 1-4.4 1-2.9 1-1.1 1 .8 1 2.6 1 4.2 1 5.4 1 6.1 1 6.3 1 6 1 5.1 1 3.7 1 2.1 1 .3 1-1.6 1-3.4 1-4.8 1-5.7 1-6.3 1-6.3 1-5.6 1-4.5 1-3.1 1-1.3 1 .6 1 2.4 1 4.1 1 5.2 1 6.1 1 6.3 1 6.1 1 5.2 1 3.9 1 2.3 1 .4 1-1.4 1-3.2 1-4.6 1-5.7 1-6.2 1-6.3 1-5.7 1-4.7 1-3.2 1-1.5 1 .4 1 2.2 1 3.9 1 5.1 1 6 1 6.4 1 6.1 1 5.3 1 4 1 2.5 1 .7 1-1.2 1-3 1-4.5 1-5.6 1-6.3 1-6.2 1-5.8 1-4.9 1-3.4 1-1.6 1 .1 1 2.1 1 3.7 1 5 1 6 1 6.3 1 6.1 1 5.4 1 4.3 1 2.6 1 .9 1-1 1-2.8 1-4.4 1-5.5 1-6.2 1-6.3 1-5.9 1-4.9 1-3.6 1-1.8 1-.1 1 1.9 1 3.5 1 4.9 1 5.9 1 6.3 1 6.2 1 5.5 1 4.4 1 2.8 1 1.1 1-.8 1-2.7 1-4.2 1-5.4 1-6.1 1-6.3 1-6 1-5 1-3.8 1-2 1-.3 1 1.7 1 3.4 1 4.7 1 5.8 1 6.3 1 6.2 1 5.7 1 4.5 1 3 1 1.3 1-.7 1-2.4 1-4 1-5.3 1-6.1 1-6.3 1-6.1 1-5.1 1-3.9 1-2.3 1-.4 1 1.4 1 3.2 1 4.7 1 5.7 1 6.2 1 6.3 1 5.7 1 4.7 1 3.2 1 1.4 1-.4 1-2.2 1-3.9 1-5.2 1-6 1-6.4 1-6 1-5.3 1-4.1 1-2.4 1-.7 1 1.3 1 3 1 4.5 1 5.6 1 6.3 1 6.2 1 5.8 1 4.8 1 3.4 1 1.7 1-.3 1-2 1-3.7 1-5.1 1-6 1-6.3 1-6.1 1-5.4 1-4.2 1-2.7 1-.8 1 1.1 1 2.8 1 4.4 1 5.5 1 6.2 1 6.3 1 5.8 1 5 1 3.5 1 1.9 1 0 1-1.9 1-3.6 1-4.9 1-5.9 1-6.3 1-6.2 1-5.5 1-4.3 1-2.9 1-1 1 .9 1 2.6 1 4.2 1 5.4 1 6.2 1 6.3 1 6 1 5 1 3.7 1 2.1 1 .1 1-1.6 1-3.4 1-4.8 1-5.8 1-6.3 1-6.2 1-5.6 1-4.5 1-3" fill="none" stroke="#b07ac8" stroke-width="1.3" vector-effect="non-scaling-stroke"/>
<path transform="translate(78.42,0) scale(0.5,1)" d="M0 645.0l1 1.2 1 1.2 1 1 1 .9 1 .4 1 .2 1-.2 1-.6 1-.9 1-1.1 1-1.2 1-1.2 1-1.2 1-1 1-.7 1-.4 1 0 1 .3 1 .7 1 .9 1 1.1 1 1.3 1 1.2 1 1.1 1 .9 1 .7 1 .3 1-.1 1-.4 1-.8 1-1 1-1.1 1-1.3 1-1.2 1-1.1 1-.8 1-.6 1-.1 1 .1 1 .6 1 .8 1 1 1 1.3 1 1.2 1 1.2 1 1 1 .8 1 .4 1 .1 1-.3 1-.6 1-.9 1-1.1 1-1.3 1-1.2 1-1.1 1-1 1-.7 1-.3 1 0 1 .4 1 .7 1 1 1 1.1 1 1.3 1 1.2 1 1.1 1 .9 1 .6 1 .2 1-.1 1-.5 1-.8 1-1.1 1-1.1 1-1.3 1-1.2 1-1 1-.8 1-.5 1-.1 1 .2 1 .6 1 .8 1 1.1 1 1.3 1 1.2 1 1.2 1 .9 1 .7 1 .4 1 .1 1-.4 1-.6 1-1 1-1.1 1-1.3 1-1.2 1-1.1 1-.9 1-.6 1-.3 1 0 1 .5 1 .7 1 1.1 1 1.1 1 1.3 1 1.2 1 1.1 1 .8 1 .5 1 .2 1-.2 1-.5 1-.9 1-1 1-1.2 1-1.2 1-1.2 1-1 1-.8 1-.4 1-.1 1 .2 1 .6 1 .8 1 1.1 1 1.2 1 1.2 1 1.2 1 .9 1 .8 1 .4 1 .1 1-.3 1-.6 1-.9 1-1.1 1-1.2 1-1.2 1-1.1 1-1 1-.7 1-.4 1 0 1 .3 1 .6 1 .9 1 1.1 1 1.3 1 1.2 1 1.1 1 .9 1 .7 1 .3 1 0 1-.3 1-.7 1-.9 1-1.1 1-1.2 1-1.3 1-1.1 1-.9 1-.6 1-.3 1 0 1 .4 1 .7 1 1 1 1.1 1 1.2 1 1.2 1 1.1 1 .9 1 .6 1 .3 1-.1 1-.4 1-.8 1-.9 1-1.2 1-1.2 1-1.2 1-1.1 1-.8 1-.6 1-.2 1 .1 1 .4 1 .8 1 1 1 1.2 1 1.2 1 1.2 1 1 1 .9 1 .5 1 .2 1-.2 1-.5 1-.8 1-1 1-1.2 1-1.2 1-1.2 1-1 1-.8 1-.5 1-.1 1 .2 1 .5 1 .8 1 1.1 1 1.1 1 1.3 1 1.1 1 1 1 .8 1 .5 1 .1 1-.2 1-.6 1-.9 1-1 1-1.2 1-1.3 1-1.1 1-1 1-.7 1-.5 1 0 1 .2 1 .6 1 .9 1 1.1 1 1.2 1 1.2 1 1.2 1 .9 1 .7 1 .4 1 .1 1-.3 1-.7 1-.9 1-1.1 1-1.2 1-1.2 1-1.2 1-.9 1-.7 1-.3 1 0 1 .4 1 .6 1 1 1 1.1 1 1.2 1 1.2 1 1.1 1 .9 1 .7 1 .3 1-.1 1-.4 1-.7 1-.9 1-1.2 1-1.2 1-1.2 1-1.1 1-.9 1-.6 1-.2 1 0 1 .5 1 .7 1 1 1 1.1 1 1.3 1 1.2 1 1 1 .9 1 .6 1 .2 1-.1 1-.5 1-.8 1-1 1-1.1 1-1.3 1-1.1 1-1.1 1-.8 1-.6 1-.1 1 .1 1 .5 1 .8 1 1 1 1.2 1 1.2 1 1.2 1 1 1 .8 1 .5 1 .2 1-.2 1-.5 1-.9 1-1 1-1.2 1-1.2 1-1.2 1-1 1-.8 1-.4 1-.1 1 .2 1 .6 1 .8 1 1.1 1 1.2 1 1.2 1 1.2 1 .9 1 .8 1 .4 1 .1 1-.3 1-.6 1-.9 1-1.1 1-1.2 1-1.2 1-1.1 1-1 1-.7 1-.4 1 0 1 .3 1 .6 1 .9 1 1.2 1 1.2 1 1.2 1 1.1 1 .9 1 .7 1 .3 1 0 1-.3 1-.7 1-.9 1-1.1 1-1.3 1-1.2 1-1.1 1-.9 1-.6 1-.3 1 0 1 .4 1 .7 1 1 1 1.1 1 1.2 1 1.2 1 1.1 1 .9 1 .6 1 .3 1-.1 1-.4 1-.8 1-.9 1-1.2 1-1.2 1-1.2 1-1.1 1-.8 1-.6 1-.2 1 .1 1 .4 1 .8 1 1 1 1.2 1 1.2 1 1.2 1 1 1 .9 1 .5 1 .2 1-.2 1-.5 1-.8 1-1 1-1.2 1-1.2 1-1.2 1-1 1-.8 1-.5 1-.1 1 .2 1 .5 1 .8 1 1.1 1 1.2 1 1.2 1 1.1 1 1.1 1 .7 1 .5 1 .1 1-.3 1-.5 1-.9 1-1 1-1.2 1-1.3 1-1.1 1-1 1-.7 1-.5 1 0 1 .2 1 .7 1 .8 1 1.1 1 1.2 1 1.3 1 1.1 1 .9 1 .7 1 .4 1 .1 1-.4 1-.6 1-.9 1-1.1 1-1.2 1-1.2 1-1.2 1-.9 1-.7 1-.3 1 0 1 .4 1 .6 1 1 1 1.1 1 1.2 1 1.2 1 1.1 1 .9 1 .7 1 .3 1-.1 1-.4 1-.7 1-.9 1-1.2 1-1.2 1-1.2 1-1.1 1-.9 1-.6 1-.2 1 .1 1 .4 1 .7 1 1 1 1.2 1 1.2 1 1.2 1 1 1 .9 1 .6 1 .2 1-.1 1-.5 1-.8 1-1 1-1.1 1-1.3 1-1.2 1-1 1-.8 1-.6 1-.1 1 .1 1 .5 1 .8 1 1 1 1.2 1 1.3 1 1.1 1 1.1 1 .7 1 .5 1 .2 1-.2 1-.5 1-.9 1-1 1-1.2 1-1.2 1-1.2 1-1 1-.8 1-.4 1-.1 1 .2 1 .6 1 .8 1 1.1 1 1.2 1 1.2 1 1.2 1 1 1 .7 1 .4 1 .1 1-.3 1-.6 1-.9 1-1.1 1-1.2 1-1.2 1-1.1 1-1 1-.7 1-.4 1 0 1 .3 1 .6 1 1 1 1.1 1 1.2 1 1.2 1 1.1 1 .9 1 .7 1 .4 1-.1 1-.3 1-.7L551 650.6l-1 .7-1 .4-1 0-1-.4-1-.6-1-1-1-1.1-1-1.2-1-1.2-1-1.1-1-.9-1-.7-1-.3-1 0-1 .4-1 .7-1 1-1 1.1-1 1.2-1 1.2-1 1.1-1 .9-1 .6-1 .3-1-.1-1-.4-1-.7-1-1-1-1.2-1-1.2-1-1.2-1-1-1-.9-1-.6-1-.2-1 .1-1 .5-1 .7-1 1-1 1.2-1 1.2-1 1.2-1 1-1 .9-1 .5-1 .2-1-.1-1-.5-1-.8-1-1.1-1-1.1-1-1.3-1-1.1-1-1.1-1-.8-1-.5-1-.1-1 .2-1 .5-1 .8-1 1.1-1 1.2-1 1.2-1 1.1-1 1.1-1 .7-1 .5-1 .1-1-.2-1-.6-1-.8-1-1.1-1-1.2-1-1.2-1-1.2-1-1-1-.7-1-.4-1-.1-1 .3-1 .6-1 .8-1 1.1-1 1.2-1 1.2-1 1.2-1 .9-1 .8-1 .3-1 .1-1-.3-1-.7-1-.9-1-1.1-1-1.2-1-1.2-1-1.1-1-1-1-.6-1-.4-1 0-1 .4-1 .6-1 1-1 1.1-1 1.2-1 1.2-1 1.1-1 .9-1 .7-1 .3-1 0-1-.4-1-.7-1-1-1-1.1-1-1.2-1-1.3-1-1-1-.9-1-.6-1-.3-1 .1-1 .4-1 .7-1 1-1 1.2-1 1.2-1 1.2-1 1-1 .9-1 .6-1 .2-1-.1-1-.5-1-.7-1-1-1-1.2-1-1.2-1-1.2-1-1.1-1-.8-1-.5-1-.2-1 .1-1 .5-1 .8-1 1-1 1.2-1 1.2-1 1.2-1 1.1-1 .8-1 .5-1 .1-1-.2-1-.5-1-.8-1-1.1-1-1.2-1-1.2-1-1.2-1-1-1-.7-1-.5-1-.1-1 .2-1 .6-1 .8-1 1.1-1 1.2-1 1.2-1 1.2-1 1-1 .7-1 .4-1 .1-1-.3-1-.6-1-.8-1-1.1-1-1.2-1-1.3-1-1.1-1-1-1-.7-1-.4-1 0-1 .3-1 .6-1 1-1 1.1-1 1.2-1 1.2-1 1.1-1 .9-1 .7-1 .4-1 0-1-.4-1-.6-1-1-1-1.1-1-1.2-1-1.2-1-1.1-1-.9-1-.7-1-.3-1 0-1 .4-1 .7-1 1-1 1.1-1 1.2-1 1.2-1 1.1-1 .9-1 .6-1 .3-1-.1-1-.4-1-.7-1-1-1-1.2-1-1.2-1-1.2-1-1.1-1-.8-1-.6-1-.2-1 .1-1 .5-1 .7-1 1-1 1.2-1 1.2-1 1.2-1 1.1-1 .8-1 .5-1 .2-1-.1-1-.5-1-.8-1-1.1-1-1.1-1-1.3-1-1.1-1-1.1-1-.8-1-.5-1-.1-1 .2-1 .5-1 .8-1 1.1-1 1.2-1 1.2-1 1.2-1 1-1 .7-1 .5-1 .1-1-.2-1-.6-1-.8-1-1.1-1-1.2-1-1.2-1-1.2-1-1-1-.7-1-.4-1-.1-1 .3-1 .6-1 .8-1 1.1-1 1.2-1 1.3-1 1.1-1 1-1 .7-1 .3-1 .1-1-.3-1-.7-1-.9-1-1.1-1-1.2-1-1.2-1-1.1-1-1-1-.6-1-.4-1 0-1 .4-1 .6-1 1-1 1.1-1 1.2-1 1.2-1 1.1-1 .9-1 .7-1 .3-1-.1-1-.3-1-.7-1-1-1-1.1-1-1.3-1-1.2-1-1-1-.9-1-.6-1-.3-1 .1-1 .4-1 .7-1 1-1 1.2-1 1.2-1 1.2-1 1.1-1 .8-1 .6-1 .2-1-.1-1-.5-1-.7-1-1-1-1.2-1-1.2-1-1.2-1-1.1-1-.8-1-.5-1-.2-1 .1-1 .5-1 .8-1 1.1-1 1.1-1 1.3-1 1.1-1 1.1-1 .8-1 .5-1 .1-1-.2-1-.5-1-.8-1-1.1-1-1.2-1-1.2-1-1.2-1-1-1-.7-1-.5-1-.1-1 .2-1 .6-1 .8-1 1.1-1 1.2-1 1.2-1 1.2-1 1-1 .7-1 .4-1 .1-1-.3-1-.6-1-.9-1-1-1-1.2-1-1.3-1-1.1-1-1-1-.7-1-.4-1 0-1 .3-1 .7-1 .9-1 1.1-1 1.2-1 1.2-1 1.1-1 1-1 .6-1 .4-1 0-1-.4-1-.6-1-1-1-1.1-1-1.2-1-1.2-1-1.1-1-.9-1-.7-1-.3-1 0-1 .4-1 .7-1 1-1 1.1-1 1.3-1 1.2-1 1-1 .9-1 .6-1 .3-1-.1-1-.4-1-.7-1-1-1-1.2-1-1.2-1-1.2-1-1.1-1-.8-1-.6-1-.2-1 .1-1 .5-1 .7-1 1-1 1.2-1 1.2-1 1.2-1 1.1-1 .8-1 .5-1 .2-1-.2-1-.5-1-.8-1-1.1-1-1.2-1-1.2-1-1.2-1-1-1-.8-1-.4-1-.1-1 .3-1 .6-1 .9-1 1.1-1 1.3-1 1.2-1 1.1-1 1-1 .6-1 .4-1 0-1-.4-1-.7-1-1-1-1.2-1-1.2-1-1.2-1-1.1-1-.9-1-.6-1-.2-1 .1-1 .5-1 .8-1 1-1 1.2-1 1.3-1 1.2-1 1-1 .8-1 .5-1 .1-1-.2-1-.6-1-.9-1-1.1-1-1.2-1-1.2-1-1.2-1-1-1-.7-1-.4-1 0-1 .4-1 .6-1 1-1 1.1-1 1.3-1 1.2-1 1.1-1 .9-1 .6-1 .3-1-.1-1-.4-1-.8-1-1-1-1.2-1-1.2-1-1.2-1-1.1-1-.8-1-.5-1-.2-1 .2-1 .5-1 .8-1 1.1-1 1.2-1 1.3-1 1.1-1 1.1-1 .7-1 .4-1 .1-1-.3-1-.6-1-.9-1-1.2-1-1.2-1-1.2-1-1.2-1-.9-1-.7-1-.3-1 0-1 .4-1 .8-1 .9-1 1.2-1 1.3-1 1.2-1 1.1-1 .8-1 .6-1 .2-1-.1-1-.5-1-.8-1-1.1-1-1.2-1-1.2z" fill="#fbd2a6"/>
<path transform="translate(78.42,0) scale(0.5,1)" d="M0 645.9l1 1.2 1 1.2 1 1.1 1 .8 1 .5 1 .1 1-.2 1-.6 1-.9 1-1 1-1.3 1-1.2 1-1.2 1-1 1-.7 1-.4 1 0 1 .3 1 .7 1 .9 1 1.2 1 1.2 1 1.2 1 1.1 1 1 1 .6 1 .3 1-.1 1-.4 1-.8 1-1 1-1.1 1-1.3 1-1.2 1-1.1 1-.8 1-.5 1-.2 1 .1 1 .6 1 .8 1 1.1 1 1.2 1 1.2 1 1.2 1 1 1 .8 1 .4 1 .1 1-.3 1-.6 1-.9 1-1.1 1-1.3 1-1.2 1-1.1 1-1 1-.7 1-.3 1 0 1 .4 1 .7 1 1 1 1.1 1 1.3 1 1.2 1 1.1 1 .9 1 .6 1 .2 1-.1 1-.5 1-.8 1-1 1-1.2 1-1.3 1-1.2 1-1 1-.8 1-.5 1-.1 1 .2 1 .6 1 .9 1 1 1 1.3 1 1.2 1 1.2 1 .9 1 .8 1 .3 1 .1 1-.4 1-.6 1-1 1-1.1 1-1.3 1-1.2 1-1.1 1-.9 1-.6 1-.3 1 .1 1 .4 1 .8 1 1 1 1.1 1 1.3 1 1.2 1 1.1 1 .8 1 .5 1 .2 1-.2 1-.5 1-.8 1-1.1 1-1.2 1-1.2 1-1.2 1-1 1-.8 1-.4 1-.1 1 .2 1 .6 1 .8 1 1.1 1 1.2 1 1.2 1 1.2 1 1 1 .7 1 .4 1 .1 1-.3 1-.6 1-.9 1-1.1 1-1.2 1-1.2 1-1.1 1-1 1-.7 1-.4 1 0 1 .3 1 .6 1 .9 1 1.2 1 1.2 1 1.2 1 1.1 1 .9 1 .7 1 .4 1 0 1-.4 1-.7 1-.9 1-1.1 1-1.2 1-1.2 1-1.2 1-.9 1-.6 1-.3 1 0 1 .4 1 .7 1 1 1 1.1 1 1.2 1 1.2 1 1.1 1 .9 1 .6 1 .3 1-.1 1-.4 1-.7 1-1 1-1.2 1-1.2 1-1.2 1-1.1 1-.8 1-.6 1-.2 1 .1 1 .5 1 .7 1 1 1 1.2 1 1.2 1 1.2 1 1.1 1 .8 1 .5 1 .2 1-.2 1-.5 1-.7 1-1.1 1-1.2 1-1.2 1-1.2 1-1 1-.8 1-.5 1-.1 1 .2 1 .5 1 .8 1 1.1 1 1.2 1 1.2 1 1.2 1 1 1 .7 1 .5 1 .1 1-.2 1-.6 1-.9 1-1 1-1.2 1-1.3 1-1.1 1-1 1-.7 1-.4 1-.1 1 .3 1 .6 1 .8 1 1.1 1 1.2 1 1.3 1 1.1 1 1 1 .7 1 .3 1 .1 1-.3 1-.7 1-.9 1-1.1 1-1.2 1-1.2 1-1.1 1-1 1-.6 1-.4 1 0 1 .4 1 .6 1 1 1 1.1 1 1.2 1 1.2 1 1.1 1 .9 1 .7 1 .3 1-.1 1-.4 1-.7 1-.9 1-1.2 1-1.2 1-1.2 1-1.1 1-.8 1-.6 1-.3 1 .1 1 .4 1 .7 1 1 1 1.2 1 1.2 1 1.2 1 1 1 .9 1 .6 1 .2 1-.1 1-.5 1-.7 1-1.1 1-1.1 1-1.2 1-1.2 1-1.1 1-.8 1-.5 1-.2 1 .1 1 .5 1 .8 1 1.1 1 1.1 1 1.3 1 1.1 1 1.1 1 .8 1 .4 1 .2 1-.2 1-.5 1-.9 1-1 1-1.2 1-1.2 1-1.2 1-1 1-.8 1-.4 1-.1 1 .2 1 .6 1 .8 1 1.1 1 1.2 1 1.2 1 1.2 1 1 1 .7 1 .4 1 .1 1-.3 1-.6 1-.9 1-1.1 1-1.2 1-1.2 1-1.1 1-1 1-.7 1-.4 1 0 1 .3 1 .6 1 1 1 1.1 1 1.2 1 1.2 1 1.1 1 .9 1 .7 1 .4 1 0 1-.4 1-.7 1-.9 1-1.1 1-1.2 1-1.3 1-1.1 1-.9 1-.6 1-.3 1 0 1 .4 1 .7 1 1 1 1.1 1 1.2 1 1.3 1 1 1 .9 1 .6 1 .3 1-.1 1-.4 1-.8 1-.9 1-1.2 1-1.2 1-1.2 1-1.1 1-.8 1-.6 1-.2 1 .1 1 .5 1 .7 1 1 1 1.2 1 1.2 1 1.2 1 1.1 1 .8 1 .5 1 .2 1-.2 1-.5 1-.8 1-1 1-1.2 1-1.2 1-1.2 1-1 1-.8 1-.5 1-.1 1 .2 1 .5 1 .8 1 1.1 1 1.2 1 1.2 1 1.2 1 1 1 .7 1 .5 1 .1 1-.2 1-.6 1-.9 1-1 1-1.2 1-1.3 1-1.1 1-1 1-.7 1-.4 1-.1 1 .3 1 .6 1 .8 1 1.1 1 1.2 1 1.3 1 1.1 1 1 1 .7 1 .3 1 .1 1-.3 1-.7 1-.9 1-1.1 1-1.2 1-1.2 1-1.1 1-1 1-.6 1-.4 1 0 1 .4 1 .6 1 1 1 1.1 1 1.2 1 1.2 1 1.1 1 .9 1 .7 1 .3 1-.1 1-.4 1-.7 1-.9 1-1.2 1-1.2 1-1.2 1-1.1 1-.9 1-.6 1-.2 1 .1 1 .4 1 .7 1 1 1 1.2 1 1.2 1 1.2 1 1.1 1 .8 1 .6 1 .2 1-.1 1-.5 1-.8 1-1 1-1.1 1-1.3 1-1.1 1-1.1 1-.8 1-.5 1-.2 1 .1 1 .5 1 .8 1 1.1 1 1.1 1 1.3 1 1.1 1 1.1 1 .8 1 .4 1 .2 1-.2 1-.5 1-.9 1-1 1-1.2 1-1.2 1-1.2 1-1 1-.8 1-.4 1-.1 1 .2 1 .6 1 .8 1 1.1 1 1.2 1 1.2 1 1.2 1 1 1 .7 1 .4 1 .1 1-.3 1-.6 1-.9 1-1.1 1-1.2 1-1.2 1-1.1 1-1 1-.7 1-.4 1 0 1 .3 1 .7 1 .9 1 1.1 1 1.2 1 1.2 1 1.1 1 1 1 .6 1 .4 1 0 1-.4 1-.7" fill="none" stroke="#f7a146" stroke-width="1.0" vector-effect="non-scaling-stroke"/>
<line x1="77.6" y1="646.2" x2="354" y2="646.2" stroke="#000" stroke-width="1.1"/>
<path d="M77.6 612.1V680.4H354" fill="none" stroke="#000" stroke-width="1.2"/>
<line x1="72.1" y1="612.1" x2="77.6" y2="612.1" stroke="#000" stroke-width="1.2"/>
<text x="71.4" y="616.1" font-size="11.3" font-weight="bold" fill="#000" text-anchor="end" >60</text>
<line x1="72.1" y1="623.5" x2="77.6" y2="623.5" stroke="#000" stroke-width="1.2"/>
<text x="71.4" y="627.5" font-size="11.3" font-weight="bold" fill="#000" text-anchor="end" >40</text>
<line x1="72.1" y1="634.9" x2="77.6" y2="634.9" stroke="#000" stroke-width="1.2"/>
<text x="71.4" y="638.9" font-size="11.3" font-weight="bold" fill="#000" text-anchor="end" >20</text>
<line x1="72.1" y1="646.2" x2="77.6" y2="646.2" stroke="#000" stroke-width="1.2"/>
<text x="71.4" y="650.2" font-size="11.3" font-weight="bold" fill="#000" text-anchor="end" >0</text>
<line x1="72.1" y1="657.6" x2="77.6" y2="657.6" stroke="#000" stroke-width="1.2"/>
<text x="71.4" y="661.6" font-size="11.3" font-weight="bold" fill="#000" text-anchor="end" >-20</text>
<line x1="72.1" y1="669" x2="77.6" y2="669" stroke="#000" stroke-width="1.2"/>
<text x="71.4" y="673" font-size="11.3" font-weight="bold" fill="#000" text-anchor="end" >-40</text>
<line x1="72.1" y1="680.4" x2="77.6" y2="680.4" stroke="#000" stroke-width="1.2"/>
<text x="71.4" y="684.4" font-size="11.3" font-weight="bold" fill="#000" text-anchor="end" >-60</text>
<line x1="82.7" y1="680.4" x2="82.7" y2="685.9" stroke="#000" stroke-width="1"/>
<line x1="93.4" y1="680.4" x2="93.4" y2="685.9" stroke="#000" stroke-width="1"/>
<line x1="104.1" y1="680.4" x2="104.1" y2="685.9" stroke="#000" stroke-width="1"/>
<line x1="114.8" y1="680.4" x2="114.8" y2="685.9" stroke="#000" stroke-width="1"/>
<line x1="125.5" y1="680.4" x2="125.5" y2="685.9" stroke="#000" stroke-width="1"/>
<line x1="136.3" y1="680.4" x2="136.3" y2="685.9" stroke="#000" stroke-width="1"/>
<line x1="147" y1="680.4" x2="147" y2="685.9" stroke="#000" stroke-width="1"/>
<line x1="157.7" y1="680.4" x2="157.7" y2="685.9" stroke="#000" stroke-width="1"/>
<line x1="168.4" y1="680.4" x2="168.4" y2="685.9" stroke="#000" stroke-width="1"/>
<line x1="179.1" y1="680.4" x2="179.1" y2="685.9" stroke="#000" stroke-width="1"/>
<line x1="189.8" y1="680.4" x2="189.8" y2="685.9" stroke="#000" stroke-width="1"/>
<line x1="200.5" y1="680.4" x2="200.5" y2="685.9" stroke="#000" stroke-width="1"/>
<line x1="211.2" y1="680.4" x2="211.2" y2="685.9" stroke="#000" stroke-width="1"/>
<line x1="221.9" y1="680.4" x2="221.9" y2="685.9" stroke="#000" stroke-width="1"/>
<line x1="232.6" y1="680.4" x2="232.6" y2="685.9" stroke="#000" stroke-width="1"/>
<line x1="243.4" y1="680.4" x2="243.4" y2="685.9" stroke="#000" stroke-width="1"/>
<line x1="254.1" y1="680.4" x2="254.1" y2="685.9" stroke="#000" stroke-width="1"/>
<line x1="264.8" y1="680.4" x2="264.8" y2="685.9" stroke="#000" stroke-width="1"/>
<line x1="275.5" y1="680.4" x2="275.5" y2="685.9" stroke="#000" stroke-width="1"/>
<line x1="286.2" y1="680.4" x2="286.2" y2="685.9" stroke="#000" stroke-width="1"/>
<line x1="296.9" y1="680.4" x2="296.9" y2="685.9" stroke="#000" stroke-width="1"/>
<line x1="307.6" y1="680.4" x2="307.6" y2="685.9" stroke="#000" stroke-width="1"/>
<line x1="318.3" y1="680.4" x2="318.3" y2="685.9" stroke="#000" stroke-width="1"/>
<line x1="329" y1="680.4" x2="329" y2="685.9" stroke="#000" stroke-width="1"/>
<line x1="339.7" y1="680.4" x2="339.7" y2="685.9" stroke="#000" stroke-width="1"/>
<line x1="350.5" y1="680.4" x2="350.5" y2="685.9" stroke="#000" stroke-width="1"/>
<rect x="82.7" y="703.5" width="5.35" height="69.5" fill="#d3d3d3"/>
<rect x="93.4" y="703.5" width="5.35" height="69.5" fill="#d3d3d3"/>
<rect x="104.1" y="703.5" width="5.35" height="69.5" fill="#d3d3d3"/>
<rect x="114.8" y="703.5" width="5.35" height="69.5" fill="#d3d3d3"/>
<rect x="125.5" y="703.5" width="5.35" height="69.5" fill="#d3d3d3"/>
<rect x="136.3" y="703.5" width="217.7" height="69.5" fill="#d3d3d3"/>
<path transform="translate(78.42,0) scale(0.5,1)" d="M0 707.8l1-3.5 1-1.1 1 1.3 1 3.5 1 5.2 1 6.5 1 7.2 1 7.2 1 6.6 1 5.6 1 4.1 1 2.4 1 .6 1-1.2 1-2.9 1-4.1 1-5.1 1-5.5 1-5.5 1-5 1-4.1 1-3 1-1.5 1 0 1 1.4 1 2.7 1 3.7 1 4.5 1 4.7 1 4.7 1 4.3 1 3.4 1 2.3 1 1.1 1-.1 1-1.5 1-2.5 1-3.4 1-4 1-4.3 1-4 1-3.6 1-2.9 1-1.8 1-.7 1 .6 1 1.6 1 2.6 1 3.4 1 3.9 1 4 1 3.7 1 3.3 1 2.5 1 1.5 1 .4 1-.8 1-1.8 1-2.6 1-3.4 1-3.7 1-3.8 1-3.5 1-2.9 1-2.1 1-1.2 1 0 1 1 1 2 1 2.9 1 3.4 1 3.7 1 3.7 1 3.3 1 2.7 1 1.8 1 .9 1-.3 1-1.2 1-2.3 1-2.9 1-3.5 1-3.6 1-3.6 1-3.1 1-2.4 1-1.5 1-.6 1 .6 1 1.6 1 2.4 1 3.1 1 3.5 1 3.7 1 3.4 1 2.9 1 2.2 1 1.3 1 .2 1-.8 1-1.8 1-2.7 1-3.2 1-3.6 1-3.6 1-3.2 1-2.8 1-1.9 1-.9 1 0 1 1.2 1 2 1 2.9 1 3.3 1 3.6 1 4.3 1 3.7 1 2.9 1 2 1 .7 1-.6 1-1.7 1-2.9 1-3.6 1-4.1 1-4.2 1-4 1-3.4 1-2.5 1-1.4 1-.1 1 1.1 1 2.2 1 3.2 1 3.9 1 4.2 1 4.2 1 3.7 1 3 1 2 1 .9 1-.5 1-1.6 1-2.7 1-3.5 1-4 1-4.2 1-4 1-3.5 1-2.5 1-1.5 1-.3 1 1 1 2.1 1 3.1 1 3.7 1 4.2 1 4.1 1 3.8 1 3 1 2.1 1 1 1-.3 1-1.5 1-2.5 1-3.4 1-4 1-4.1 1-4 1-3.5 1-2.7 1-1.6 1-.4 1 .8 1 2 1 3 1 3.7 1 4 1 4.1 1 3.8 1 3.2 1 2.2 1 1 1-.1 1-1.4 1-2.4 1-3.3 1-3.9 1-4.1 1-4 1-3.5 1-2.7 1-1.7 1-.5 1 .6 1 1.9 1 2.8 1 3.6 1 4 1 4.1 1 3.8 1 3.2 1 2.3 1 1.1 1 0 1-1.2 1-2.3 1-3.2 1-3.8 1-4 1-4 1-3.5 1-2.8 1-1.9 1-.6 1 .5 1 1.7 1 2.8 1 3.4 1 4 1 4 1 3.8 1 3.3 1 2.3 1 1.3 1 .2 1-1.1 1-2.2 1-3.1 1-3.7 1-4 1-3.9 1-3.6 1-2.9 1-1.9 1-.8 1 .5 1 1.5 1 2.6 1 3.4 1 3.9 1 4 1 3.8 1 3.3 1 2.4 1 1.4 1 .3 1-1 1-2 1-3 1-3.6 1-3.9 1-4 1-3.6 1-2.9 1-2 1-.9 1 .3 1 1.4 1 2.5 1 3.3 1 3.8 1 3.9 1 3.8 1 3.4 1 2.5 1 1.5 1 .4 1-.8 1-1.9 1-2.9 1-3.5 1-3.9 1-3.9 1-3.6 1-3 1-2.1 1-1 1 .1 1 1.3 1 2.4 1 3.1 1 3.8 1 3.9 1 3.8 1 3.3 1 2.6 1 1.7 1 .4 1-.6 1-1.8 1-2.7 1-3.5 1-3.8 1-3.9 1-3.6 1-3 1-2.2 1-1.1 1 0 1 1.2 1 2.2 1 3 1 3.7 1 3.9 1 3.8 1 3.3 1 2.7 1 1.7 1 .6 1-.5 1-1.7 1-2.6 1-3.3 1-3.8 1-3.8 1-3.7 1-3.1 1-2.2 1-1.2 1-.1 1 1 1 2.1 1 3 1 3.5 1 3.8 1 3.8 1 3.4 1 2.7 1 1.8 1 .8 1-.4 1-1.6 1-2.5 1-3.2 1-3.7 1-3.8 1-3.6 1-3.2 1-2.3 1-1.3 1-.2 1 .9 1 1.9 1 2.9 1 3.4 1 3.8 1 3.8 1 3.4 1 2.8 1 1.9 1 .8 1-.3 1-1.4 1-2.3 1-3.2 1-3.6 1-3.8 1-3.6 1-3.2 1-2.4 1-1.4 1-.3 1 .8 1 1.8 1 2.7 1 3.4 1 3.7 1 3.8 1 3.4 1 2.8 1 2 1 .9 1-.1 1-1.3 1-2.2 1-3.1 1-3.5 1-3.8 1-3.6 1-3.2 1-2.4 1-1.6 1-.4 1 .7 1 1.7 1 2.6 1 3.3 1 3.6 1 3.7 1 3.5 1 2.8 1 2.1 1 1 1 0 1-1.1 1-2.2 1-2.9 1-3.4 1-3.8 1-3.6 1-3.2 1-2.5 1-1.6 1-.6 1 .6 1 1.5 1 2.5 1 3.2 1 3.6 1 3.7 1 3.5 1 2.9 1 2.1 1 1.2 1 0 1-1 1-2 1-2.8 1-3.4 1-3.6 1-3.6 1-3.3 1-2.6 1-1.7 1-.6 1 .4 1 1.4 1 2.4 1 3.1 1 3.5 1 3.7 1 3.4 1 3 1 2.2 1 1.2 1 .2 1-.9 1-1.8 1-2.7 1-3.3 1-3.6 1-3.6 1-3.3 1-2.6 1-1.8 1-.8 1 .3 1 1.4 1 2.2 1 3 1 3.5 1 3.6 1 3.4 1 3 1 2.3 1 1.3 1 .3 1-.7 1-1.8 1-2.6 1-3.2 1-3.6 1-3.5 1-3.3 1-2.7 1-1.8 1-.9 1 .2 1 1.2 1 2.1 1 2.9 1 3.4 1 3.6 1 3.4 1 3 1 2.4 1 1.4 1 .4 1-.6 1-1.7 1-2.5 1-3.1 1-3.5 1-3.5 1-3.3 1-2.7 1-1.9 1-1 1 0 1 1.1 1 2.1 1 2.8 1 3.3 1 3.5 1 3.4 1 3.1 1 2.3 1 1.6 1 .5 1-.5 1-1.6 1-2.4 1-3 1-3.4 1-3.5 1-3.3 1-2.7 1-2.1 1-1 1-.1 1 1 1 1.9 1 2.7 1 3.2 1 3.5 1 3.4 1 3.1 1 2.4 1 1.6 1 .6 1-.4 1-1.4 1-2.2 1-3 1-3.3 1-3.5 1-3.3 1-2.8 1-2.1 1-1.1 1-.2 1 .9 1 1.8 1 2.6 1 3.1 1 3.4 1 3.4 1 3.1 1 2.5 1 1.7 1 .7 1-.3 1-1.3 1-2.2 1-2.8 1-3.3 1-3.4 1-3.3 1-2.8 1-2.2L551 733.1l-1 2.2-1 2.8-1 3.3-1 3.4-1 3.3-1 2.8-1 2.2-1 1.3-1 .3-1-.7-1-1.7-1-2.5-1-3.1-1-3.4-1-3.4-1-3.1-1-2.6-1-1.8-1-.9-1 .2-1 1.1-1 2.1-1 2.8-1 3.3-1 3.5-1 3.3-1 3-1 2.2-1 1.4-1 .4-1-.6-1-1.6-1-2.4-1-3.1-1-3.4-1-3.5-1-3.2-1-2.7-1-1.9-1-1-1 .1-1 1-1 2.1-1 2.7-1 3.3-1 3.5-1 3.4-1 3.1-1 2.3-1 1.6-1 .5-1-.5-1-1.6-1-2.3-1-3.1-1-3.4-1-3.5-1-3.3-1-2.8-1-2.1-1-1.1-1 0-1 1-1 1.9-1 2.7-1 3.3-1 3.5-1 3.5-1 3.1-1 2.5-1 1.7-1 .6-1-.4-1-1.4-1-2.4-1-3-1-3.4-1-3.6-1-3.4-1-2.9-1-2.1-1-1.2-1-.2-1 .9-1 1.8-1 2.7-1 3.3-1 3.5-1 3.6-1 3.2-1 2.6-1 1.8-1 .7-1-.3-1-1.3-1-2.3-1-3-1-3.4-1-3.6-1-3.5-1-3-1-2.2-1-1.4-1-.3-1 .8-1 1.8-1 2.6-1 3.3-1 3.6-1 3.6-1 3.3-1 2.7-1 1.9-1 .8-1-.2-1-1.2-1-2.2-1-3-1-3.4-1-3.7-1-3.5-1-3.1-1-2.4-1-1.4-1-.4-1 .6-1 1.7-1 2.6-1 3.3-1 3.6-1 3.6-1 3.4-1 2.8-1 2-1 1-1 0-1-1.2-1-2.1-1-2.9-1-3.5-1-3.7-1-3.6-1-3.2-1-2.4-1-1.6-1-.6-1 .6-1 1.6-1 2.5-1 3.2-1 3.7-1 3.7-1 3.4-1 2.9-1 2.2-1 1.1-1 .1-1-1.1-1-2-1-2.9-1-3.5-1-3.7-1-3.6-1-3.3-1-2.6-1-1.7-1-.7-1 .4-1 1.6-1 2.4-1 3.2-1 3.6-1 3.8-1 3.5-1 3.1-1 2.2-1 1.3-1 .1-1-.9-1-2-1-2.8-1-3.4-1-3.8-1-3.7-1-3.4-1-2.7-1-1.8-1-.8-1 .3-1 1.4-1 2.4-1 3.2-1 3.6-1 3.8-1 3.6-1 3.2-1 2.3-1 1.4-1 .3-1-.8-1-1.9-1-2.8-1-3.4-1-3.8-1-3.8-1-3.4-1-2.9-1-1.9-1-.9-1 .2-1 1.3-1 2.3-1 3.2-1 3.6-1 3.8-1 3.7-1 3.3-1 2.4-1 1.6-1 .4-1-.8-1-1.8-1-2.7-1-3.4-1-3.8-1-3.8-1-3.5-1-3-1-2.1-1-1-1 .1-1 1.2-1 2.2-1 3.1-1 3.7-1 3.8-1 3.8-1 3.3-1 2.6-1 1.7-1 .5-1-.6-1-1.7-1-2.7-1-3.3-1-3.8-1-3.9-1-3.7-1-3-1-2.2-1-1.2-1 0-1 1.1-1 2.2-1 3-1 3.6-1 3.9-1 3.8-1 3.5-1 2.7-1 1.8-1 .7-1-.5-1-1.7-1-2.5-1-3.4-1-3.8-1-3.9-1-3.7-1-3.2-1-2.4-1-1.3-1-.1-1 1-1 2.1-1 3-1 3.6-1 3.9-1 3.9-1 3.5-1 2.9-1 1.9-1 .8-1-.4-1-1.5-1-2.5-1-3.3-1-3.9-1-3.9-1-3.8-1-3.3-1-2.5-1-1.4-1-.3-1 .9-1 2-1 2.9-1 3.6-1 4-1 3.9-1 3.6-1 3-1 2-1 1-1-.3-1-1.4-1-2.4-1-3.3-1-3.8-1-4-1-3.9-1-3.4-1-2.6-1-1.5-1-.5-1 .8-1 1.9-1 2.9-1 3.6-1 3.9-1 4-1 3.8-1 3-1 2.2-1 1.1-1-.1-1-1.3-1-2.4-1-3.2-1-3.9-1-4-1-3.9-1-3.5-1-2.7-1-1.7-1-.6-1 .7-1 1.8-1 2.8-1 3.5-1 4-1 4.1-1 3.8-1 3.1-1 2.3-1 1.2-1 .1-1-1.2-1-2.3-1-3.2-1-3.8-1-4.1-1-4-1-3.6-1-2.8-1-1.8-1-.7-1 .5-1 1.7-1 2.7-1 3.6-1 3.9-1 4.2-1 3.8-1 3.3-1 2.5-1 1.3-1 .2-1-1.1-1-2.2-1-3.1-1-3.8-1-4.1-1-4.1-1-3.7-1-2.9-1-2-1-.8-1 .4-1 1.6-1 2.6-1 3.5-1 4-1 4.2-1 3.9-1 3.4-1 2.6-1 1.5-1 .2-1-.9-1-2.1-1-3.1-1-3.7-1-4.2-1-4.1-1-3.8-1-3.1-1-2.1-1-.9-1 .2-1 1.5-1 2.6-1 3.4-1 4-1 4.2-1 4.1-1 3.5-1 2.7-1 1.6-1 .4-1-.8-1-2-1-3-1-3.7-1-4.2-1-4.2-1-3.9-1-3.2-1-2.2-1-1.1-1 .1-1 1.4-1 2.5-1 3.4-1 4-1 4.2-1 4.2-1 3.6-1 2.8-1 1.8-1 .5-1-.7-1-1.9-1-2.9-1-3.7-1-4.3-1-3.6-1-3.3-1-2.9-1-2-1-1.1-1-.1-1 .9-1 2-1 2.7-1 3.3-1 3.6-1 3.5-1 3.3-1 2.6-1 1.9-1 .8-1-.2-1-1.3-1-2.1-1-3-1-3.4-1-3.6-1-3.5-1-3.1-1-2.5-1-1.5-1-.5-1 .5-1 1.5-1 2.5-1 3.1-1 3.6-1 3.6-1 3.5-1 3-1 2.2-1 1.3-1 .3-1-.9-1-1.8-1-2.7-1-3.3-1-3.6-1-3.7-1-3.4-1-2.8-1-2-1-1-1 .1-1 1.1-1 2.2-1 2.9-1 3.6-1 3.8-1 3.7-1 3.4-1 2.7-1 1.8-1 .8-1-.3-1-1.5-1-2.4-1-3.3-1-3.7-1-3.9-1-3.9-1-3.3-1-2.6-1-1.6-1-.5-1 .8-1 1.8-1 2.9-1 3.7-1 4.1-1 4.3-1 4.1-1 3.4-1 2.7-1 1.5-1 .2-1-1-1-2.3-1-3.4-1-4.1-1-4.6-1-4.7-1-4.4-1-3.6-1-2.6-1-1.3-1 .1-1 1.6-1 3.1-1 4.2-1 5.1-1 5.6-1 5.7-1 5.1-1 4.3-1 3-1 1.3-1-.4-1-2.3-1-4-1-5.4-1-6.5-1-7-1-7-1-6.3-1-5-1-3.3-1-1.2-1 1.3-1 3.7z" fill="#d2b6e4"/>
<path transform="translate(78.42,0) scale(0.5,1)" d="M0 715.5l1-3.6 1-1.2 1 1.2 1 3.4 1 5.1 1 6.4 1 7.1 1 7.1 1 6.5 1 5.6 1 4 1 2.4 1 .5 1-1.3 1-2.9 1-4.2 1-5.1 1-5.6 1-5.6 1-5 1-4.2 1-3 1-1.6 1-.1 1 1.4 1 2.6 1 3.7 1 4.4 1 4.8 1 4.6 1 4.2 1 3.4 1 2.3 1 1.1 1-.2 1-1.5 1-2.6 1-3.4 1-4.1 1-4.2 1-4.1 1-3.7 1-2.8 1-1.9 1-.7 1 .5 1 1.7 1 2.6 1 3.3 1 3.9 1 3.9 1 3.8 1 3.2 1 2.5 1 1.5 1 .3 1-.7 1-1.8 1-2.7 1-3.4 1-3.7 1-3.8 1-3.5 1-3 1-2.1 1-1.2 1 0 1 1 1 2 1 2.9 1 3.4 1 3.7 1 3.6 1 3.3 1 2.7 1 1.8 1 .9 1-.3 1-1.3 1-2.2 1-3 1-3.4 1-3.7 1-3.5 1-3.1 1-2.5 1-1.5 1-.5 1 .5 1 1.5 1 2.5 1 3.1 1 3.5 1 3.6 1 3.5 1 2.9 1 2.2 1 1.2 1 .3 1-.9 1-1.8 1-2.6 1-3.3 1-3.5 1-3.6 1-3.3 1-2.7 1-2 1-.9 1 .1 1 1.1 1 2 1 2.9 1 3.3 1 3.6 1 4.3 1 3.7 1 2.9 1 1.9 1 .7 1-.5 1-1.8 1-2.8 1-3.6 1-4.1 1-4.3 1-4 1-3.3 1-2.5 1-1.4 1-.2 1 1.1 1 2.3 1 3.2 1 3.9 1 4.2 1 4.1 1 3.7 1 3.1 1 2 1 .8 1-.4 1-1.6 1-2.7 1-3.6 1-4 1-4.2 1-4 1-3.4 1-2.6 1-1.5 1-.3 1 1 1 2.1 1 3.1 1 3.8 1 4.1 1 4.1 1 3.8 1 3.1 1 2.1 1 .9 1-.3 1-1.4 1-2.6 1-3.4 1-4 1-4.1 1-4 1-3.5 1-2.7 1-1.6 1-.4 1 .9 1 1.9 1 3 1 3.7 1 4.1 1 4.1 1 3.7 1 3.2 1 2.2 1 1 1-.1 1-1.3 1-2.5 1-3.3 1-3.9 1-4.1 1-4 1-3.5 1-2.7 1-1.7 1-.5 1 .6 1 1.9 1 2.8 1 3.6 1 4 1 4.1 1 3.8 1 3.2 1 2.3 1 1.2 1-.1 1-1.2 1-2.3 1-3.2 1-3.7 1-4.1 1-4 1-3.5 1-2.8 1-1.8 1-.7 1 .5 1 1.8 1 2.7 1 3.4 1 4 1 4 1 3.8 1 3.3 1 2.3 1 1.3 1 .2 1-1.1 1-2.2 1-3.1 1-3.7 1-4 1-3.9 1-3.6 1-2.9 1-1.9 1-.8 1 .5 1 1.5 1 2.6 1 3.4 1 3.9 1 4 1 3.8 1 3.3 1 2.4 1 1.4 1 .3 1-1 1-2 1-3 1-3.6 1-3.9 1-4 1-3.6 1-2.9 1-2 1-.9 1 .3 1 1.4 1 2.5 1 3.3 1 3.8 1 3.9 1 3.8 1 3.4 1 2.5 1 1.5 1 .4 1-.8 1-1.9 1-2.9 1-3.5 1-3.9 1-3.9 1-3.6 1-3 1-2.1 1-1 1 .1 1 1.3 1 2.4 1 3.1 1 3.8 1 3.9 1 3.8 1 3.4 1 2.5 1 1.7 1 .4 1-.6 1-1.8 1-2.7 1-3.5 1-3.8 1-3.9 1-3.6 1-3 1-2.2 1-1.1 1 0 1 1.2 1 2.2 1 3 1 3.7 1 3.9 1 3.8 1 3.3 1 2.7 1 1.7 1 .6 1-.5 1-1.7 1-2.6 1-3.3 1-3.8 1-3.8 1-3.7 1-3.1 1-2.2 1-1.2 1-.1 1 1 1 2.1 1 3 1 3.5 1 3.8 1 3.8 1 3.4 1 2.7 1 1.8 1 .8 1-.4 1-1.6 1-2.5 1-3.2 1-3.7 1-3.8 1-3.6 1-3.2 1-2.3 1-1.3 1-.2 1 .9 1 1.9 1 2.9 1 3.4 1 3.8 1 3.8 1 3.4 1 2.8 1 1.9 1 .8 1-.3 1-1.4 1-2.3 1-3.2 1-3.6 1-3.8 1-3.6 1-3.2 1-2.4 1-1.4 1-.3 1 .8 1 1.8 1 2.7 1 3.4 1 3.7 1 3.8 1 3.4 1 2.8 1 2 1 .9 1-.1 1-1.3 1-2.2 1-3.1 1-3.5 1-3.8 1-3.6 1-3.2 1-2.4 1-1.6 1-.4 1 .7 1 1.7 1 2.6 1 3.3 1 3.6 1 3.7 1 3.5 1 2.8 1 2.1 1 1.1 1-.1 1-1.1 1-2.2 1-2.9 1-3.4 1-3.7 1-3.7 1-3.2 1-2.5 1-1.6 1-.6 1 .6 1 1.5 1 2.5 1 3.2 1 3.6 1 3.7 1 3.5 1 2.9 1 2.1 1 1.2 1 0 1-1 1-2 1-2.8 1-3.4 1-3.6 1-3.6 1-3.3 1-2.6 1-1.7 1-.6 1 .4 1 1.4 1 2.4 1 3.1 1 3.5 1 3.7 1 3.4 1 3 1 2.2 1 1.2 1 .2 1-.9 1-1.8 1-2.7 1-3.3 1-3.6 1-3.6 1-3.3 1-2.6 1-1.8 1-.8 1 .3 1 1.4 1 2.2 1 3 1 3.5 1 3.6 1 3.4 1 3 1 2.3 1 1.3 1 .3 1-.7 1-1.8 1-2.6 1-3.2 1-3.6 1-3.5 1-3.3 1-2.7 1-1.8 1-.9 1 .2 1 1.2 1 2.1 1 2.9 1 3.4 1 3.6 1 3.4 1 3 1 2.4 1 1.4 1 .4 1-.6 1-1.7 1-2.5 1-3.1 1-3.5 1-3.5 1-3.3 1-2.7 1-1.9 1-1 1 0 1 1.1 1 2.1 1 2.8 1 3.3 1 3.5 1 3.4 1 3.1 1 2.3 1 1.6 1 .5 1-.5 1-1.6 1-2.3 1-3.1 1-3.4 1-3.5 1-3.3 1-2.7 1-2.1 1-1 1-.1 1 1 1 1.9 1 2.7 1 3.2 1 3.5 1 3.4 1 3.1 1 2.4 1 1.6 1 .6 1-.4 1-1.4 1-2.2 1-3 1-3.3 1-3.5 1-3.3 1-2.8 1-2.1 1-1.1 1-.2 1 .9 1 1.8 1 2.6 1 3.1 1 3.4 1 3.4 1 3.1 1 2.5 1 1.7 1 .7 1-.3 1-1.3 1-2.2 1-2.8 1-3.3 1-3.4 1-3.3 1-2.8 1-2.2" fill="none" stroke="#b07ac8" stroke-width="1.3" vector-effect="non-scaling-stroke"/>
<path transform="translate(78.42,0) scale(0.5,1)" d="M0 711.5l1-1.1 1 .9 1 2.8 1 4.3 1 5.3 1 6 1 6.1 1 5.6 1 4.8 1 3.6 1 2.1 1 .7 1-.9 1-2.2 1-3.3 1-4.2 1-4.5 1-4.6 1-4.2 1-3.5 1-2.5 1-1.4 1-.1 1 1 1 2.2 1 3 1 3.6 1 3.9 1 3.9 1 3.6 1 2.9 1 2 1 1 1 0 1-1.1 1-2 1-2.7 1-3.2 1-3.5 1-3.3 1-3 1-2.4 1-1.6 1-.6 1 .3 1 1.2 1 2.1 1 2.7 1 3.2 1 3.2 1 3.1 1 2.8 1 2.1 1 1.3 1 .4 1-.5 1-1.4 1-2.1 1-2.7 1-3 1-3.1 1-2.8 1-2.5 1-1.8 1-1 1-.1 1 .7 1 1.6 1 2.3 1 2.7 1 3 1 3 1 2.7 1 2.3 1 1.6 1 .8 1-.1 1-1 1-1.7 1-2.4 1-2.7 1-3 1-2.9 1-2.6 1-2 1-1.3 1-.5 1 .3 1 1.2 1 1.9 1 2.5 1 2.8 1 3 1 2.8 1 2.4 1 1.9 1 1.1 1 .3 1-.6 1-1.4 1-2.1 1-2.6 1-2.8 1-2.9 1-2.8 1-2.2 1-1.7 1-.8 1 0 1 .8 1 1.6 1 2.2 1 2.7 1 2.9 1 2.9 1 2.5 1 1.9 1 1.3 1 .6 1-.3 1-1.1 1-1.7 1-2.2 1-2.6 1-2.7 1-2.5 1-2.1 1-1.7 1-1 1-.3 1 .5 1 1.2 1 1.7 1 2.2 1 2.4 1 2.4 1 2.3 1 1.9 1 1.3 1 .7 1 .1 1-.6 1-1.3 1-1.7 1-2.1 1-2.2 1-2.2 1-2 1-1.6 1-1.1 1-.5 1 .2 1 .7 1 1.3 1 1.7 1 2 1 2 1 2 1 1.8 1 1.3 1 .9 1 .3 1-.3 1-.9 1-1.3 1-1.6 1-1.9 1-1.9 1-1.8 1-1.5 1-1.1 1-.7 1-.1 1 .5 1 .9 1 1.3 1 1.6 1 1.7 1 1.8 1 1.6 1 1.3 1 .9 1 .4 1 0 1-.6 1-.9 1-1.3 1-1.5 1-1.7 1-1.5 1-1.4 1-1.1 1-.8 1-.2 1 .1 1 .6 1 1 1 1.3 1 1.4 1 1.5 1 1.5 1 1.2 1 .9 1 .6 1 .1 1-.3 1-.6 1-1 1-1.3 1-1.3 1-1.4 1-1.3 1-1 1-.8 1-.4 1 0 1 .3 1 .7 1 1 1 1.2 1 1.3 1 1.3 1 1.1 1 .9 1 .6 1 .3 1-.1 1-.4 1-.8 1-.9 1-1.2 1-1.2 1-1.1 1-1 1-.8 1-.5 1-.1 1 .1 1 .5 1 .8 1 1 1 1 1 1.1 1 1.1 1 .9 1 .6 1 .4 1 0 1-.2 1-.6 1-.7 1-1 1-1 1-1 1-.9 1-.8 1-.5 1-.3 1 .1 1 .3 1 .5 1 .8 1 .9 1 1 1 .9 1 .8 1 .7 1 .4 1 .1 1-.1 1-.3 1-.6 1-.8 1-.8 1-.9 1-.9 1-.7 1-.5 1-.4 1 0 1 .1 1 .4 1 .6 1 .8 1 .8 1 .8 1 .8 1 .6 1 .5 1 .2 1 0 1-.2 1-.5 1-.6 1-.7 1-.7 1-.8 1-.7 1-.5 1-.4 1-.2 1 .1 1 .3 1 .4 1 .6 1 .7 1 .7 1 .7 1 .6 1 .5 1 .3 1 .1 1-.1 1-.3 1-.5 1-.6 1-.7 1-.6 1-.7 1-.5 1-.4 1-.2 1-.1 1 .2 1 .3 1 .5 1 .6 1 .6 1 .7 1 .5 1 .5 1 .3 1 .2 1 0 1-.2 1-.4 1-.5 1-.5 1-.6 1-.6 1-.5 1-.4 1-.3 1-.1 1 .1 1 .2 1 .4 1 .5 1 .5 1 .6 1 .5 1 .5 1 .3 1 .2 1 .1 1-.1 1-.3 1-.4 1-.5 1-.5 1-.5 1-.5 1-.4 1-.3 1-.2 1 0 1 .2 1 .3 1 .4 1 .4 1 .5 1 .5 1 .5 1 .3 1 .3 1 .1 1-.1 1-.1 1-.3 1-.4 1-.5 1-.5 1-.4 1-.4 1-.4 1-.1 1-.1 1 .1 1 .2 1 .3 1 .4 1 .4 1 .5 1 .4 1 .4 1 .2 1 .2 1 0 1-.1 1-.2 1-.4 1-.4 1-.4 1-.4 1-.4 1-.3 1-.2 1-.1 1 0 1 .1 1 .3 1 .3 1 .4 1 .4 1 .4 1 .3 1 .3 1 .2 1 .1 1-.1 1-.1 1-.3 1-.3 1-.4 1-.4 1-.4 1-.3 1-.3 1-.1 1 0 1 .1 1 .1 1 .3 1 .3 1 .4 1 .4 1 .3 1 .3 1 .2 1 .1 1 0 1-.1 1-.2 1-.2 1-.4 1-.3 1-.4 1-.3 1-.3 1-.2 1 0 1 0 1 .1 1 .3 1 .2 1 .4 1 .3 1 .4 1 .3 1 .2 1 .1 1 .1 1-.1 1-.1 1-.3 1-.3 1-.3 1-.3 1-.4 1-.2 1-.2 1-.1 1 0 1 .1 1 .1 1 .3 1 .3 1 .3 1 .3 1 .3 1 .2 1 .2 1 .1 1 0 1-.1 1-.2 1-.3 1-.3 1-.3 1-.3 1-.3 1-.2 1-.1 1-.1 1 .1 1 .1 1 .2 1 .3 1 .3 1 .3 1 .2 1 .3 1 .2 1 .1 1 0 1 0 1-.2 1-.2 1-.3 1-.3 1-.3 1-.2 1-.3 1-.1 1-.1 1 0 1 .1 1 .2 1 .2 1 .2 1 .3 1 .3 1 .3 1 .2 1 .1 1 .1 1-.1 1-.1 1-.1 1-.3 1-.2 1-.3 1-.3 1-.2 1-.2 1-.1 1-.1 1 .1 1 .1 1 .2 1 .2 1 .3 1 .3 1 .2 1 .3 1 .1 1 .1 1 0 1-.1 1-.1 1-.2L551 741.3l-1 .2-1 .1-1 .1-1 0-1-.1-1-.1-1-.3-1-.2-1-.3-1-.2-1-.3-1-.2-1-.1-1 0-1 0-1 .1-1 .2-1 .2-1 .3-1 .3-1 .2-1 .3-1 .1-1 .1-1 .1-1-.1-1-.1-1-.2-1-.3-1-.3-1-.2-1-.3-1-.2-1-.2-1-.1-1 0-1 .1-1 .2-1 .2-1 .2-1 .3-1 .3-1 .3-1 .2-1 .2-1 0-1 0-1-.1-1-.2-1-.2-1-.3-1-.3-1-.3-1-.3-1-.2-1-.1-1-.1-1 .1-1 .1-1 .2-1 .3-1 .3-1 .3-1 .3-1 .3-1 .2-1 .1-1 0-1-.1-1-.2-1-.2-1-.3-1-.3-1-.3-1-.3-1-.3-1-.1-1-.1-1 0-1 .1-1 .2-1 .3-1 .3-1 .3-1 .3-1 .3-1 .3-1 .1-1 .1-1-.1-1-.1-1-.2-1-.3-1-.4-1-.3-1-.3-1-.3-1-.3-1-.1-1 0-1 .1-1 .1-1 .3-1 .3-1 .4-1 .3-1 .4-1 .2-1 .2-1 .2-1 0-1-.2-1-.2-1-.2-1-.4-1-.4-1-.3-1-.4-1-.3-1-.1-1-.1-1 0-1 .2-1 .2-1 .3-1 .4-1 .4-1 .4-1 .3-1 .3-1 .1-1 .1-1-.1-1-.2-1-.2-1-.4-1-.4-1-.4-1-.4-1-.3-1-.3-1-.1-1 0-1 .1-1 .2-1 .3-1 .4-1 .4-1 .5-1 .3-1 .4-1 .2-1 .1-1 0-1-.2-1-.2-1-.4-1-.4-1-.5-1-.4-1-.4-1-.3-1-.2-1-.1-1 .1-1 .2-1 .3-1 .4-1 .4-1 .5-1 .5-1 .4-1 .3-1 .1-1 .1-1-.1-1-.3-1-.3-1-.5-1-.5-1-.5-1-.4-1-.4-1-.3-1-.2-1 0-1 .2-1 .3-1 .4-1 .5-1 .5-1 .5-1 .5-1 .4-1 .3-1 .1-1-.1-1-.2-1-.3-1-.5-1-.5-1-.6-1-.5-1-.5-1-.4-1-.2-1-.1-1 .1-1 .3-1 .4-1 .5-1 .6-1 .6-1 .5-1 .5-1 .4-1 .2-1 0-1-.2-1-.3-1-.4-1-.6-1-.7-1-.6-1-.6-1-.4-1-.4-1-.1-1 0-1 .2-1 .4-1 .5-1 .7-1 .7-1 .6-1 .6-1 .5-1 .3-1 .1-1-.1-1-.3-1-.5-1-.6-1-.7-1-.7-1-.7-1-.6-1-.4-1-.3-1-.1-1 .2-1 .4-1 .5-1 .7-1 .8-1 .7-1 .8-1 .6-1 .4-1 .2-1 0-1-.2-1-.5-1-.6-1-.8-1-.8-1-.8-1-.8-1-.6-1-.4-1-.1-1 0-1 .4-1 .5-1 .7-1 .9-1 .9-1 .8-1 .8-1 .6-1 .3-1 .1-1-.1-1-.4-1-.7-1-.8-1-.9-1-1-1-.9-1-.8-1-.5-1-.3-1-.1-1 .3-1 .5-1 .8-1 .9-1 1-1 1-1 1-1 .7-1 .6-1 .2-1 0-1-.4-1-.6-1-.9-1-1-1-1.1-1-1.1-1-1-1-.7-1-.5-1-.2-1 .1-1 .5-1 .8-1 1-1 1.1-1 1.2-1 1.2-1 .9-1 .8-1 .4-1 .1-1-.3-1-.6-1-.9-1-1.1-1-1.3-1-1.3-1-1.1-1-1-1-.8-1-.3-1 0-1 .4-1 .8-1 1-1 1.3-1 1.4-1 1.3-1 1.3-1 1-1 .7-1 .2-1-.1-1-.6-1-.9-1-1.2-1-1.4-1-1.5-1-1.5-1-1.3-1-.9-1-.7-1-.1-1 .3-1 .7-1 1.1-1 1.4-1 1.6-1 1.6-1 1.5-1 1.3-1 1-1 .5-1 0-1-.4-1-.9-1-1.3-1-1.6-1-1.7-1-1.8-1-1.6-1-1.3-1-.9-1-.4-1 .1-1 .6-1 1.1-1 1.6-1 1.7-1 1.9-1 1.9-1 1.7-1 1.3-1 .8-1 .3-1-.3-1-.8-1-1.4-1-1.7-1-2-1-2.1-1-1.9-1-1.7-1-1.3-1-.8-1-.1-1 .5-1 1.1-1 1.6-1 2-1 2.2-1 2.2-1 2.1-1 1.7-1 1.3-1 .6-1-.1-1-.7-1-1.3-1-1.9-1-2.3-1-2.4-1-2.4-1-2.2-1-1.7-1-1.2-1-.4-1 .2-1 1-1 1.7-1 2.2-1 2.5-1 2.6-1 2.6-1 2.3-1 1.7-1 1-1 .3-1-.5-1-1.3-1-2-1-2.4-1-2.9-1-2.9-1-2.7-1-2.2-1-1.6-1-.8-1 0-1 .9-1 1.6-1 2.3-1 2.7-1 2.9-1 2.9-1 2.6-1 2.1-1 1.4-1 .6-1-.3-1-1.1-1-1.8-1-2.4-1-2.8-1-3-1-2.8-1-2.5-1-1.9-1-1.2-1-.3-1 .5-1 1.4-1 2-1 2.6-1 2.9-1 3-1 2.8-1 2.3-1 1.8-1 1-1 .1-1-.8-1-1.5-1-2.3-1-2.7-1-3-1-2.9-1-2.8-1-2.2-1-1.5-1-.8-1 .2-1 1-1 1.8-1 2.5-1 2.9-1 3.1-1 3.1-1 2.7-1 2.1-1 1.4-1 .6-1-.4-1-1.3-1-2-1-2.7-1-3.1-1-3.2-1-3.1-1-2.7-1-2-1-1.2-1-.3-1 .7-1 1.6-1 2.5-1 3-1 3.5-1 3.5-1 3.3-1 2.8-1 2-1 1.2-1 .1-1-1-1-2-1-2.8-1-3.4-1-3.8-1-3.9-1-3.5-1-3-1-2-1-1-1 .3-1 1.5-1 2.6-1 3.6-1 4.3-1 4.7-1 4.7-1 4.2-1 3.5-1 2.4-1 1-1-.5-1-2.1-1-3.4-1-4.6-1-5.5-1-5.9-1-5.8-1-5.2-1-4.1-1-2.6-1-.7-1 1.3z" fill="#fbd2a6"/>
<path transform="translate(78.42,0) scale(0.5,1)" d="M0 716.6l1-1.2 1 .8 1 2.7 1 4.2 1 5.3 1 5.9 1 5.9 1 5.6 1 4.7 1 3.5 1 2.1 1 .6 1-1 1-2.2 1-3.5 1-4.1 1-4.7 1-4.6 1-4.2 1-3.6 1-2.6 1-1.4 1-.2 1 1 1 2.1 1 3 1 3.6 1 3.9 1 3.8 1 3.5 1 2.9 1 2 1 1 1-.1 1-1.1 1-2.1 1-2.7 1-3.3 1-3.5 1-3.3 1-3.1 1-2.4 1-1.6 1-.7 1 .3 1 1.3 1 2 1 2.7 1 3.1 1 3.3 1 3.1 1 2.7 1 2.1 1 1.2 1 .4 1-.5 1-1.4 1-2.1 1-2.7 1-3 1-3.1 1-2.9 1-2.5 1-1.8 1-1 1-.1 1 .7 1 1.6 1 2.2 1 2.7 1 3 1 3 1 2.7 1 2.3 1 1.6 1 .7 1-.1 1-.9 1-1.8 1-2.3 1-2.8 1-3 1-2.9 1-2.6 1-2 1-1.4 1-.5 1 .4 1 1.2 1 1.9 1 2.4 1 2.9 1 2.9 1 2.8 1 2.5 1 1.8 1 1.1 1 .3 1-.6 1-1.4 1-2.1 1-2.6 1-2.8 1-3 1-2.7 1-2.2 1-1.7 1-.9 1 0 1 .9 1 1.6 1 2.2 1 2.7 1 2.9 1 2.9 1 2.4 1 2 1 1.3 1 .5 1-.3 1-1 1-1.8 1-2.2 1-2.6 1-2.6 1-2.6 1-2.1 1-1.7 1-1 1-.2 1 .4 1 1.2 1 1.7 1 2.2 1 2.4 1 2.4 1 2.3 1 1.9 1 1.3 1 .7 1 .1 1-.6 1-1.3 1-1.7 1-2.1 1-2.2 1-2.2 1-2 1-1.6 1-1.1 1-.5 1 .1 1 .8 1 1.3 1 1.7 1 1.9 1 2.1 1 2 1 1.7 1 1.4 1 .8 1 .3 1-.3 1-.8 1-1.3 1-1.7 1-1.8 1-1.9 1-1.8 1-1.5 1-1.1 1-.7 1-.1 1 .4 1 .9 1 1.4 1 1.5 1 1.8 1 1.7 1 1.6 1 1.3 1 .9 1 .5 1-.1 1-.5 1-.9 1-1.3 1-1.6 1-1.6 1-1.6 1-1.4 1-1.1 1-.7 1-.3 1 .2 1 .6 1 1 1 1.2 1 1.5 1 1.5 1 1.4 1 1.2 1 1 1 .5 1 .2 1-.3 1-.7 1-1 1-1.2 1-1.4 1-1.4 1-1.2 1-1.1 1-.8 1-.4 1 0 1 .4 1 .7 1 1 1 1.2 1 1.3 1 1.2 1 1.2 1 .9 1 .6 1 .3 1-.1 1-.5 1-.7 1-1 1-1.1 1-1.2 1-1.2 1-1 1-.7 1-.5 1-.2 1 .2 1 .5 1 .8 1 .9 1 1.1 1 1.1 1 1 1 .9 1 .6 1 .4 1 .1 1-.3 1-.5 1-.8 1-.9 1-1 1-1.1 1-.9 1-.7 1-.6 1-.2 1 0 1 .3 1 .6 1 .8 1 .9 1 .9 1 .9 1 .9 1 .6 1 .4 1 .2 1-.1 1-.4 1-.6 1-.7 1-.9 1-.9 1-.8 1-.7 1-.6 1-.3 1-.1 1 .2 1 .4 1 .6 1 .7 1 .8 1 .9 1 .7 1 .7 1 .4 1 .3 1 0 1-.3 1-.4 1-.6 1-.7 1-.8 1-.8 1-.6 1-.6 1-.4 1-.1 1 0 1 .3 1 .5 1 .6 1 .7 1 .7 1 .7 1 .6 1 .5 1 .3 1 0 1-.1 1-.3 1-.4 1-.6 1-.7 1-.7 1-.6 1-.5 1-.4 1-.3 1 0 1 .2 1 .3 1 .5 1 .6 1 .6 1 .6 1 .6 1 .5 1 .3 1 .2 1-.1 1-.2 1-.3 1-.5 1-.6 1-.6 1-.6 1-.5 1-.4 1-.2 1-.1 1 0 1 .3 1 .3 1 .5 1 .6 1 .5 1 .6 1 .4 1 .4 1 .2 1 0 1-.1 1-.3 1-.3 1-.5 1-.5 1-.6 1-.5 1-.4 1-.3 1-.1 1 0 1 .1 1 .3 1 .4 1 .5 1 .5 1 .5 1 .4 1 .4 1 .2 1 .1 1 0 1-.2 1-.3 1-.4 1-.5 1-.4 1-.5 1-.4 1-.3 1-.2 1-.1 1 .1 1 .2 1 .3 1 .4 1 .5 1 .4 1 .5 1 .3 1 .3 1 .1 1 .1 1-.2 1-.2 1-.3 1-.4 1-.4 1-.5 1-.3 1-.4 1-.2 1-.1 1 0 1 .2 1 .2 1 .3 1 .4 1 .4 1 .4 1 .4 1 .3 1 .2 1 0 1 0 1-.2 1-.2 1-.4 1-.4 1-.4 1-.3 1-.4 1-.2 1-.1 1-.1 1 .1 1 .2 1 .3 1 .3 1 .4 1 .4 1 .3 1 .3 1 .2 1 .1 1 0 1-.1 1-.2 1-.3 1-.3 1-.4 1-.3 1-.4 1-.2 1-.2 1-.1 1 .1 1 .1 1 .2 1 .3 1 .3 1 .4 1 .3 1 .3 1 .2 1 .2 1 0 1 0 1-.2 1-.2 1-.3 1-.3 1-.4 1-.3 1-.3 1-.2 1-.1 1 0 1 .1 1 .2 1 .2 1 .3 1 .3 1 .4 1 .3 1 .2 1 .2 1 0 1 0 1-.1 1-.2 1-.2 1-.3 1-.3 1-.3 1-.3 1-.2 1-.2 1 0 1 0 1 .2 1 .2 1 .2 1 .3 1 .3 1 .3 1 .3 1 .1 1 .1 1 .1 1-.1 1-.1 1-.3 1-.2 1-.3 1-.3 1-.3 1-.2 1-.2 1 0 1 0 1 0 1 .2 1 .2 1 .3 1 .3 1 .3 1 .2 1 .2 1 .2 1 0 1 0 1-.1 1-.2 1-.2 1-.3 1-.3 1-.2 1-.3 1-.2 1-.1 1 0 1 0 1 .2 1 .2 1 .2 1 .3 1 .2 1 .3 1 .2 1 .2 1 .1 1 0 1-.1 1-.1 1-.2" fill="none" stroke="#f7a146" stroke-width="1.0" vector-effect="non-scaling-stroke"/>
<line x1="77.6" y1="738.2" x2="354" y2="738.2" stroke="#000" stroke-width="1.1"/>
<path d="M77.6 703.5V773H354" fill="none" stroke="#000" stroke-width="1.2"/>
<line x1="72.1" y1="703.5" x2="77.6" y2="703.5" stroke="#000" stroke-width="1.2"/>
<text x="71.4" y="707.5" font-size="11.3" font-weight="bold" fill="#000" text-anchor="end" >15</text>
<line x1="72.1" y1="715.1" x2="77.6" y2="715.1" stroke="#000" stroke-width="1.2"/>
<text x="71.4" y="719.1" font-size="11.3" font-weight="bold" fill="#000" text-anchor="end" >10</text>
<line x1="72.1" y1="726.7" x2="77.6" y2="726.7" stroke="#000" stroke-width="1.2"/>
<text x="71.4" y="730.7" font-size="11.3" font-weight="bold" fill="#000" text-anchor="end" >5</text>
<line x1="72.1" y1="738.2" x2="77.6" y2="738.2" stroke="#000" stroke-width="1.2"/>
<text x="71.4" y="742.2" font-size="11.3" font-weight="bold" fill="#000" text-anchor="end" >0</text>
<line x1="72.1" y1="749.8" x2="77.6" y2="749.8" stroke="#000" stroke-width="1.2"/>
<text x="71.4" y="753.8" font-size="11.3" font-weight="bold" fill="#000" text-anchor="end" >-5</text>
<line x1="72.1" y1="761.4" x2="77.6" y2="761.4" stroke="#000" stroke-width="1.2"/>
<text x="71.4" y="765.4" font-size="11.3" font-weight="bold" fill="#000" text-anchor="end" >-10</text>
<line x1="72.1" y1="773" x2="77.6" y2="773" stroke="#000" stroke-width="1.2"/>
<text x="71.4" y="777" font-size="11.3" font-weight="bold" fill="#000" text-anchor="end" >-15</text>
<line x1="82.7" y1="773" x2="82.7" y2="778.5" stroke="#000" stroke-width="1"/>
<line x1="93.4" y1="773" x2="93.4" y2="778.5" stroke="#000" stroke-width="1"/>
<line x1="104.1" y1="773" x2="104.1" y2="778.5" stroke="#000" stroke-width="1"/>
<line x1="114.8" y1="773" x2="114.8" y2="778.5" stroke="#000" stroke-width="1"/>
<line x1="125.5" y1="773" x2="125.5" y2="778.5" stroke="#000" stroke-width="1"/>
<line x1="136.3" y1="773" x2="136.3" y2="778.5" stroke="#000" stroke-width="1"/>
<line x1="147" y1="773" x2="147" y2="778.5" stroke="#000" stroke-width="1"/>
<line x1="157.7" y1="773" x2="157.7" y2="778.5" stroke="#000" stroke-width="1"/>
<line x1="168.4" y1="773" x2="168.4" y2="778.5" stroke="#000" stroke-width="1"/>
<line x1="179.1" y1="773" x2="179.1" y2="778.5" stroke="#000" stroke-width="1"/>
<line x1="189.8" y1="773" x2="189.8" y2="778.5" stroke="#000" stroke-width="1"/>
<line x1="200.5" y1="773" x2="200.5" y2="778.5" stroke="#000" stroke-width="1"/>
<line x1="211.2" y1="773" x2="211.2" y2="778.5" stroke="#000" stroke-width="1"/>
<line x1="221.9" y1="773" x2="221.9" y2="778.5" stroke="#000" stroke-width="1"/>
<line x1="232.6" y1="773" x2="232.6" y2="778.5" stroke="#000" stroke-width="1"/>
<line x1="243.4" y1="773" x2="243.4" y2="778.5" stroke="#000" stroke-width="1"/>
<line x1="254.1" y1="773" x2="254.1" y2="778.5" stroke="#000" stroke-width="1"/>
<line x1="264.8" y1="773" x2="264.8" y2="778.5" stroke="#000" stroke-width="1"/>
<line x1="275.5" y1="773" x2="275.5" y2="778.5" stroke="#000" stroke-width="1"/>
<line x1="286.2" y1="773" x2="286.2" y2="778.5" stroke="#000" stroke-width="1"/>
<line x1="296.9" y1="773" x2="296.9" y2="778.5" stroke="#000" stroke-width="1"/>
<line x1="307.6" y1="773" x2="307.6" y2="778.5" stroke="#000" stroke-width="1"/>
<line x1="318.3" y1="773" x2="318.3" y2="778.5" stroke="#000" stroke-width="1"/>
<line x1="329" y1="773" x2="329" y2="778.5" stroke="#000" stroke-width="1"/>
<line x1="339.7" y1="773" x2="339.7" y2="778.5" stroke="#000" stroke-width="1"/>
<line x1="350.5" y1="773" x2="350.5" y2="778.5" stroke="#000" stroke-width="1"/>
<text x="82.7" y="695.2" font-size="8.8" font-weight="bold" fill="#000" text-anchor="middle" >LD1</text>
<text x="125.5" y="695.2" font-size="8.8" font-weight="bold" fill="#000" text-anchor="middle" >LD5</text>
<text x="147" y="695.2" font-size="8.8" font-weight="bold" fill="#000" text-anchor="middle" >DD1</text>
<text x="189.8" y="695.2" font-size="8.8" font-weight="bold" fill="#000" text-anchor="middle" >DD5</text>
<text x="243.4" y="695.2" font-size="8.8" font-weight="bold" fill="#000" text-anchor="middle" >DD10</text>
<text x="296.9" y="695.2" font-size="8.8" font-weight="bold" fill="#000" text-anchor="middle" >DD15</text>
<text x="350.5" y="695.2" font-size="8.8" font-weight="bold" fill="#000" text-anchor="middle" >DD20</text>
<text x="82.7" y="788.9" font-size="8.8" font-weight="bold" fill="#000" text-anchor="middle" >LD1</text>
<text x="125.5" y="788.9" font-size="8.8" font-weight="bold" fill="#000" text-anchor="middle" >LD5</text>
<text x="147" y="788.9" font-size="8.8" font-weight="bold" fill="#000" text-anchor="middle" >DD1</text>
<text x="189.8" y="788.9" font-size="8.8" font-weight="bold" fill="#000" text-anchor="middle" >DD5</text>
<text x="243.4" y="788.9" font-size="8.8" font-weight="bold" fill="#000" text-anchor="middle" >DD10</text>
<text x="296.9" y="788.9" font-size="8.8" font-weight="bold" fill="#000" text-anchor="middle" >DD15</text>
<text x="350.5" y="788.9" font-size="8.8" font-weight="bold" fill="#000" text-anchor="middle" >DD20</text>
<text x="220.5" y="801.6" font-size="14" font-weight="bold" fill="#000" text-anchor="middle" >Day</text>
<text x="532.8" y="801.6" font-size="14" font-weight="bold" fill="#000" text-anchor="middle" >Day</text>
<path d="M410.9 642.1 L420.9 643.7 L430.9 643.1 L440.9 646.7 L450.9 646.7 L460.9 646.2" fill="none" stroke="#b07ac8" stroke-width="1.0"/>
<path d="M470.9 645.7 L480.9 644.7 L490.9 645.2 L500.9 644.7 L510.9 643.7 L520.9 644.2 L530.9 644.2 L540.9 644.2 L550.9 644.7 L560.9 644.7 L570.9 644.7 L580.9 643.7 L590.9 643.7 L600.9 643.7 L610.9 644.2 L620.9 644.7 L630.9 644.7 L640.9 645.2 L650.9 645.7 L660.9 645.7" fill="none" stroke="#b07ac8" stroke-width="1.0"/>
<path d="M410.9 651.9V632.3M409.3 651.9h3.2M409.3 632.3h3.2" stroke="#b07ac8" stroke-width="0.8" fill="none"/>
<rect x="409.6" y="640.8" width="2.6" height="2.6" fill="#b07ac8"/>
<path d="M420.9 652.4V634.9M419.3 652.4h3.2M419.3 634.9h3.2" stroke="#b07ac8" stroke-width="0.8" fill="none"/>
<rect x="419.6" y="642.4" width="2.6" height="2.6" fill="#b07ac8"/>
<path d="M430.9 651.9V634.4M429.3 651.9h3.2M429.3 634.4h3.2" stroke="#b07ac8" stroke-width="0.8" fill="none"/>
<rect x="429.6" y="641.8" width="2.6" height="2.6" fill="#b07ac8"/>
<path d="M440.9 654.4V639.0M439.3 654.4h3.2M439.3 639.0h3.2" stroke="#b07ac8" stroke-width="0.8" fill="none"/>
<rect x="439.6" y="645.4" width="2.6" height="2.6" fill="#b07ac8"/>
<path d="M450.9 654.4V639.0M449.3 654.4h3.2M449.3 639.0h3.2" stroke="#b07ac8" stroke-width="0.8" fill="none"/>
<rect x="449.6" y="645.4" width="2.6" height="2.6" fill="#b07ac8"/>
<path d="M460.9 653.4V639.0M459.3 653.4h3.2M459.3 639.0h3.2" stroke="#b07ac8" stroke-width="0.8" fill="none"/>
<rect x="459.6" y="644.9" width="2.6" height="2.6" fill="#b07ac8"/>
<path d="M470.9 653.4V638.0M469.3 653.4h3.2M469.3 638.0h3.2" stroke="#b07ac8" stroke-width="0.8" fill="none"/>
<rect x="469.6" y="644.4" width="2.6" height="2.6" fill="#b07ac8"/>
<path d="M480.9 652.4V637.0M479.3 652.4h3.2M479.3 637.0h3.2" stroke="#b07ac8" stroke-width="0.8" fill="none"/>
<rect x="479.6" y="643.4" width="2.6" height="2.6" fill="#b07ac8"/>
<path d="M490.9 652.9V637.5M489.3 652.9h3.2M489.3 637.5h3.2" stroke="#b07ac8" stroke-width="0.8" fill="none"/>
<rect x="489.6" y="643.9" width="2.6" height="2.6" fill="#b07ac8"/>
<path d="M500.9 652.4V637.0M499.3 652.4h3.2M499.3 637.0h3.2" stroke="#b07ac8" stroke-width="0.8" fill="none"/>
<rect x="499.6" y="643.4" width="2.6" height="2.6" fill="#b07ac8"/>
<path d="M510.9 651.4V635.9M509.3 651.4h3.2M509.3 635.9h3.2" stroke="#b07ac8" stroke-width="0.8" fill="none"/>
<rect x="509.6" y="642.4" width="2.6" height="2.6" fill="#b07ac8"/>
<path d="M520.9 651.9V636.5M519.3 651.9h3.2M519.3 636.5h3.2" stroke="#b07ac8" stroke-width="0.8" fill="none"/>
<rect x="519.6" y="642.9" width="2.6" height="2.6" fill="#b07ac8"/>
<path d="M530.9 651.9V636.5M529.3 651.9h3.2M529.3 636.5h3.2" stroke="#b07ac8" stroke-width="0.8" fill="none"/>
<rect x="529.6" y="642.9" width="2.6" height="2.6" fill="#b07ac8"/>
<path d="M540.9 651.9V636.5M539.3 651.9h3.2M539.3 636.5h3.2" stroke="#b07ac8" stroke-width="0.8" fill="none"/>
<rect x="539.6" y="642.9" width="2.6" height="2.6" fill="#b07ac8"/>
<path d="M550.9 652.4V637.0M549.3 652.4h3.2M549.3 637.0h3.2" stroke="#b07ac8" stroke-width="0.8" fill="none"/>
<rect x="549.6" y="643.4" width="2.6" height="2.6" fill="#b07ac8"/>
<path d="M560.9 652.4V637.0M559.3 652.4h3.2M559.3 637.0h3.2" stroke="#b07ac8" stroke-width="0.8" fill="none"/>
<rect x="559.6" y="643.4" width="2.6" height="2.6" fill="#b07ac8"/>
<path d="M570.9 652.4V637.0M569.3 652.4h3.2M569.3 637.0h3.2" stroke="#b07ac8" stroke-width="0.8" fill="none"/>
<rect x="569.6" y="643.4" width="2.6" height="2.6" fill="#b07ac8"/>
<path d="M580.9 651.9V635.4M579.3 651.9h3.2M579.3 635.4h3.2" stroke="#b07ac8" stroke-width="0.8" fill="none"/>
<rect x="579.6" y="642.4" width="2.6" height="2.6" fill="#b07ac8"/>
<path d="M590.9 651.9V635.4M589.3 651.9h3.2M589.3 635.4h3.2" stroke="#b07ac8" stroke-width="0.8" fill="none"/>
<rect x="589.6" y="642.4" width="2.6" height="2.6" fill="#b07ac8"/>
<path d="M600.9 651.9V635.4M599.3 651.9h3.2M599.3 635.4h3.2" stroke="#b07ac8" stroke-width="0.8" fill="none"/>
<rect x="599.6" y="642.4" width="2.6" height="2.6" fill="#b07ac8"/>
<path d="M610.9 652.4V635.9M609.3 652.4h3.2M609.3 635.9h3.2" stroke="#b07ac8" stroke-width="0.8" fill="none"/>
<rect x="609.6" y="642.9" width="2.6" height="2.6" fill="#b07ac8"/>
<path d="M620.9 652.4V637.0M619.3 652.4h3.2M619.3 637.0h3.2" stroke="#b07ac8" stroke-width="0.8" fill="none"/>
<rect x="619.6" y="643.4" width="2.6" height="2.6" fill="#b07ac8"/>
<path d="M630.9 652.4V637.0M629.3 652.4h3.2M629.3 637.0h3.2" stroke="#b07ac8" stroke-width="0.8" fill="none"/>
<rect x="629.6" y="643.4" width="2.6" height="2.6" fill="#b07ac8"/>
<path d="M640.9 652.9V637.5M639.3 652.9h3.2M639.3 637.5h3.2" stroke="#b07ac8" stroke-width="0.8" fill="none"/>
<rect x="639.6" y="643.9" width="2.6" height="2.6" fill="#b07ac8"/>
<path d="M650.9 654.4V637.0M649.3 654.4h3.2M649.3 637.0h3.2" stroke="#b07ac8" stroke-width="0.8" fill="none"/>
<rect x="649.6" y="644.4" width="2.6" height="2.6" fill="#b07ac8"/>
<path d="M660.9 657.0V634.4M659.3 657.0h3.2M659.3 634.4h3.2" stroke="#b07ac8" stroke-width="0.8" fill="none"/>
<rect x="659.6" y="644.4" width="2.6" height="2.6" fill="#b07ac8"/>
<path d="M410.9 673.5 L420.9 674.0 L430.9 673.5 L440.9 673.5 L450.9 674.0 L460.9 673.5" fill="none" stroke="#f7a146" stroke-width="1.0"/>
<path d="M470.9 673.5 L480.9 673.0 L490.9 673.0 L500.9 673.0 L510.9 673.0 L520.9 672.4 L530.9 672.4 L540.9 673.0 L550.9 673.5 L560.9 673.5 L570.9 674.0 L580.9 674.0 L590.9 674.5 L600.9 674.5 L610.9 675.0 L620.9 675.0 L630.9 675.0 L640.9 674.5 L650.9 674.5 L660.9 674.5" fill="none" stroke="#f7a146" stroke-width="1.0"/>
<path d="M410.9 675.0V671.9M409.3 675.0h3.2M409.3 671.9h3.2" stroke="#f7a146" stroke-width="0.8" fill="none"/>
<rect x="409.6" y="672.2" width="2.6" height="2.6" fill="#f7a146"/>
<path d="M420.9 675.5V672.4M419.3 675.5h3.2M419.3 672.4h3.2" stroke="#f7a146" stroke-width="0.8" fill="none"/>
<rect x="419.6" y="672.7" width="2.6" height="2.6" fill="#f7a146"/>
<path d="M430.9 675.0V671.9M429.3 675.0h3.2M429.3 671.9h3.2" stroke="#f7a146" stroke-width="0.8" fill="none"/>
<rect x="429.6" y="672.2" width="2.6" height="2.6" fill="#f7a146"/>
<path d="M440.9 675.0V671.9M439.3 675.0h3.2M439.3 671.9h3.2" stroke="#f7a146" stroke-width="0.8" fill="none"/>
<rect x="439.6" y="672.2" width="2.6" height="2.6" fill="#f7a146"/>
<path d="M450.9 675.5V672.4M449.3 675.5h3.2M449.3 672.4h3.2" stroke="#f7a146" stroke-width="0.8" fill="none"/>
<rect x="449.6" y="672.7" width="2.6" height="2.6" fill="#f7a146"/>
<path d="M460.9 675.0V671.9M459.3 675.0h3.2M459.3 671.9h3.2" stroke="#f7a146" stroke-width="0.8" fill="none"/>
<rect x="459.6" y="672.2" width="2.6" height="2.6" fill="#f7a146"/>
<path d="M470.9 675.0V671.9M469.3 675.0h3.2M469.3 671.9h3.2" stroke="#f7a146" stroke-width="0.8" fill="none"/>
<rect x="469.6" y="672.2" width="2.6" height="2.6" fill="#f7a146"/>
<path d="M480.9 674.5V671.4M479.3 674.5h3.2M479.3 671.4h3.2" stroke="#f7a146" stroke-width="0.8" fill="none"/>
<rect x="479.6" y="671.7" width="2.6" height="2.6" fill="#f7a146"/>
<path d="M490.9 674.5V671.4M489.3 674.5h3.2M489.3 671.4h3.2" stroke="#f7a146" stroke-width="0.8" fill="none"/>
<rect x="489.6" y="671.7" width="2.6" height="2.6" fill="#f7a146"/>
<path d="M500.9 674.5V671.4M499.3 674.5h3.2M499.3 671.4h3.2" stroke="#f7a146" stroke-width="0.8" fill="none"/>
<rect x="499.6" y="671.7" width="2.6" height="2.6" fill="#f7a146"/>
<path d="M510.9 674.5V671.4M509.3 674.5h3.2M509.3 671.4h3.2" stroke="#f7a146" stroke-width="0.8" fill="none"/>
<rect x="509.6" y="671.7" width="2.6" height="2.6" fill="#f7a146"/>
<path d="M520.9 674.0V670.9M519.3 674.0h3.2M519.3 670.9h3.2" stroke="#f7a146" stroke-width="0.8" fill="none"/>
<rect x="519.6" y="671.1" width="2.6" height="2.6" fill="#f7a146"/>
<path d="M530.9 674.0V670.9M529.3 674.0h3.2M529.3 670.9h3.2" stroke="#f7a146" stroke-width="0.8" fill="none"/>
<rect x="529.6" y="671.1" width="2.6" height="2.6" fill="#f7a146"/>
<path d="M540.9 674.5V671.4M539.3 674.5h3.2M539.3 671.4h3.2" stroke="#f7a146" stroke-width="0.8" fill="none"/>
<rect x="539.6" y="671.7" width="2.6" height="2.6" fill="#f7a146"/>
<path d="M550.9 675.0V671.9M549.3 675.0h3.2M549.3 671.9h3.2" stroke="#f7a146" stroke-width="0.8" fill="none"/>
<rect x="549.6" y="672.2" width="2.6" height="2.6" fill="#f7a146"/>
<path d="M560.9 675.0V671.9M559.3 675.0h3.2M559.3 671.9h3.2" stroke="#f7a146" stroke-width="0.8" fill="none"/>
<rect x="559.6" y="672.2" width="2.6" height="2.6" fill="#f7a146"/>
<path d="M570.9 675.5V672.4M569.3 675.5h3.2M569.3 672.4h3.2" stroke="#f7a146" stroke-width="0.8" fill="none"/>
<rect x="569.6" y="672.7" width="2.6" height="2.6" fill="#f7a146"/>
<path d="M580.9 675.5V672.4M579.3 675.5h3.2M579.3 672.4h3.2" stroke="#f7a146" stroke-width="0.8" fill="none"/>
<rect x="579.6" y="672.7" width="2.6" height="2.6" fill="#f7a146"/>
<path d="M590.9 676.0V673.0M589.3 676.0h3.2M589.3 673.0h3.2" stroke="#f7a146" stroke-width="0.8" fill="none"/>
<rect x="589.6" y="673.2" width="2.6" height="2.6" fill="#f7a146"/>
<path d="M600.9 676.0V673.0M599.3 676.0h3.2M599.3 673.0h3.2" stroke="#f7a146" stroke-width="0.8" fill="none"/>
<rect x="599.6" y="673.2" width="2.6" height="2.6" fill="#f7a146"/>
<path d="M610.9 676.6V673.5M609.3 676.6h3.2M609.3 673.5h3.2" stroke="#f7a146" stroke-width="0.8" fill="none"/>
<rect x="609.6" y="673.7" width="2.6" height="2.6" fill="#f7a146"/>
<path d="M620.9 676.6V673.5M619.3 676.6h3.2M619.3 673.5h3.2" stroke="#f7a146" stroke-width="0.8" fill="none"/>
<rect x="619.6" y="673.7" width="2.6" height="2.6" fill="#f7a146"/>
<path d="M630.9 676.6V673.5M629.3 676.6h3.2M629.3 673.5h3.2" stroke="#f7a146" stroke-width="0.8" fill="none"/>
<rect x="629.6" y="673.7" width="2.6" height="2.6" fill="#f7a146"/>
<path d="M640.9 676.0V673.0M639.3 676.0h3.2M639.3 673.0h3.2" stroke="#f7a146" stroke-width="0.8" fill="none"/>
<rect x="639.6" y="673.2" width="2.6" height="2.6" fill="#f7a146"/>
<path d="M650.9 676.0V673.0M649.3 676.0h3.2M649.3 673.0h3.2" stroke="#f7a146" stroke-width="0.8" fill="none"/>
<rect x="649.6" y="673.2" width="2.6" height="2.6" fill="#f7a146"/>
<path d="M660.9 676.0V673.0M659.3 676.0h3.2M659.3 673.0h3.2" stroke="#f7a146" stroke-width="0.8" fill="none"/>
<rect x="659.6" y="673.2" width="2.6" height="2.6" fill="#f7a146"/>
<path d="M406 620V681.7H665.9" fill="none" stroke="#000" stroke-width="1.2"/>
<line x1="401" y1="681.7" x2="406" y2="681.7" stroke="#000" stroke-width="1"/>
<text x="399.8" y="685.7" font-size="11.5" font-weight="bold" fill="#000" text-anchor="end" >0</text>
<line x1="401" y1="666.3" x2="406" y2="666.3" stroke="#000" stroke-width="1"/>
<text x="399.8" y="670.3" font-size="11.5" font-weight="bold" fill="#000" text-anchor="end" >30</text>
<line x1="401" y1="650.9" x2="406" y2="650.9" stroke="#000" stroke-width="1"/>
<text x="399.8" y="654.9" font-size="11.5" font-weight="bold" fill="#000" text-anchor="end" >60</text>
<line x1="401" y1="635.4" x2="406" y2="635.4" stroke="#000" stroke-width="1"/>
<text x="399.8" y="639.4" font-size="11.5" font-weight="bold" fill="#000" text-anchor="end" >90</text>
<line x1="401" y1="620" x2="406" y2="620" stroke="#000" stroke-width="1"/>
<text x="399.8" y="624" font-size="11.5" font-weight="bold" fill="#000" text-anchor="end" >120</text>
<line x1="410.9" y1="681.7" x2="410.9" y2="686.2" stroke="#000" stroke-width="1"/>
<line x1="420.9" y1="681.7" x2="420.9" y2="686.2" stroke="#000" stroke-width="1"/>
<line x1="430.9" y1="681.7" x2="430.9" y2="686.2" stroke="#000" stroke-width="1"/>
<line x1="440.9" y1="681.7" x2="440.9" y2="686.2" stroke="#000" stroke-width="1"/>
<line x1="450.9" y1="681.7" x2="450.9" y2="686.2" stroke="#000" stroke-width="1"/>
<line x1="460.9" y1="681.7" x2="460.9" y2="686.2" stroke="#000" stroke-width="1"/>
<line x1="470.9" y1="681.7" x2="470.9" y2="686.2" stroke="#000" stroke-width="1"/>
<line x1="480.9" y1="681.7" x2="480.9" y2="686.2" stroke="#000" stroke-width="1"/>
<line x1="490.9" y1="681.7" x2="490.9" y2="686.2" stroke="#000" stroke-width="1"/>
<line x1="500.9" y1="681.7" x2="500.9" y2="686.2" stroke="#000" stroke-width="1"/>
<line x1="510.9" y1="681.7" x2="510.9" y2="686.2" stroke="#000" stroke-width="1"/>
<line x1="520.9" y1="681.7" x2="520.9" y2="686.2" stroke="#000" stroke-width="1"/>
<line x1="530.9" y1="681.7" x2="530.9" y2="686.2" stroke="#000" stroke-width="1"/>
<line x1="540.9" y1="681.7" x2="540.9" y2="686.2" stroke="#000" stroke-width="1"/>
<line x1="550.9" y1="681.7" x2="550.9" y2="686.2" stroke="#000" stroke-width="1"/>
<line x1="560.9" y1="681.7" x2="560.9" y2="686.2" stroke="#000" stroke-width="1"/>
<line x1="570.9" y1="681.7" x2="570.9" y2="686.2" stroke="#000" stroke-width="1"/>
<line x1="580.9" y1="681.7" x2="580.9" y2="686.2" stroke="#000" stroke-width="1"/>
<line x1="590.9" y1="681.7" x2="590.9" y2="686.2" stroke="#000" stroke-width="1"/>
<line x1="600.9" y1="681.7" x2="600.9" y2="686.2" stroke="#000" stroke-width="1"/>
<line x1="610.9" y1="681.7" x2="610.9" y2="686.2" stroke="#000" stroke-width="1"/>
<line x1="620.9" y1="681.7" x2="620.9" y2="686.2" stroke="#000" stroke-width="1"/>
<line x1="630.9" y1="681.7" x2="630.9" y2="686.2" stroke="#000" stroke-width="1"/>
<line x1="640.9" y1="681.7" x2="640.9" y2="686.2" stroke="#000" stroke-width="1"/>
<line x1="650.9" y1="681.7" x2="650.9" y2="686.2" stroke="#000" stroke-width="1"/>
<line x1="660.9" y1="681.7" x2="660.9" y2="686.2" stroke="#000" stroke-width="1"/>
<text x="410.9" y="694.2" font-size="8.8" font-weight="bold" fill="#000" text-anchor="middle" >LD1</text>
<text x="450.9" y="694.2" font-size="8.8" font-weight="bold" fill="#000" text-anchor="middle" >LD5</text>
<text x="470.9" y="694.2" font-size="8.8" font-weight="bold" fill="#000" text-anchor="middle" >DD1</text>
<text x="510.9" y="694.2" font-size="8.8" font-weight="bold" fill="#000" text-anchor="middle" >DD5</text>
<text x="560.9" y="694.2" font-size="8.8" font-weight="bold" fill="#000" text-anchor="middle" >DD10</text>
<text x="610.9" y="694.2" font-size="8.8" font-weight="bold" fill="#000" text-anchor="middle" >DD15</text>
<text x="660.9" y="694.2" font-size="8.8" font-weight="bold" fill="#000" text-anchor="middle" >DD20</text>
<text transform="translate(377.3,650.4) rotate(-90)" font-size="12.8" font-weight="bold" text-anchor="middle">Amplitude</text>
<path d="M463.2 645.7H466.3V674.7H463.2" fill="none" stroke="#000" stroke-width="1.1"/>
<text x="468" y="667.5" font-size="14" font-weight="bold" fill="#000" text-anchor="start" >***</text>
<path d="M663.3 644.4H666.4V677H663.3" fill="none" stroke="#000" stroke-width="1.1"/>
<text x="668.6" y="666.8" font-size="14" font-weight="bold" fill="#000" text-anchor="start" >***</text>
<path d="M414.2 734.6 L432.8 746.9 L451.4 750.0 L470.0 754.7 L488.6 755.5 L507.2 754.7" fill="none" stroke="#b07ac8" stroke-width="1.0"/>
<path d="M525.8 752.4 L544.4 750.8 L563.0 751.6 L581.6 752.4 L600.2 753.1 L618.8 753.9 L637.4 753.1 L656.0 753.1" fill="none" stroke="#b07ac8" stroke-width="1.0"/>
<path d="M414.2 748.5V720.6M412.6 748.5h3.2M412.6 720.6h3.2" stroke="#b07ac8" stroke-width="0.8" fill="none"/>
<rect x="412.9" y="733.3" width="2.6" height="2.6" fill="#b07ac8"/>
<path d="M432.8 754.7V739.2M431.2 754.7h3.2M431.2 739.2h3.2" stroke="#b07ac8" stroke-width="0.8" fill="none"/>
<rect x="431.5" y="745.6" width="2.6" height="2.6" fill="#b07ac8"/>
<path d="M451.4 755.5V744.6M449.8 755.5h3.2M449.8 744.6h3.2" stroke="#b07ac8" stroke-width="0.8" fill="none"/>
<rect x="450.1" y="748.7" width="2.6" height="2.6" fill="#b07ac8"/>
<path d="M470.0 759.3V750.0M468.4 759.3h3.2M468.4 750.0h3.2" stroke="#b07ac8" stroke-width="0.8" fill="none"/>
<rect x="468.7" y="753.4" width="2.6" height="2.6" fill="#b07ac8"/>
<path d="M488.6 760.1V750.8M487.0 760.1h3.2M487.0 750.8h3.2" stroke="#b07ac8" stroke-width="0.8" fill="none"/>
<rect x="487.3" y="754.2" width="2.6" height="2.6" fill="#b07ac8"/>
<path d="M507.2 758.5V750.8M505.6 758.5h3.2M505.6 750.8h3.2" stroke="#b07ac8" stroke-width="0.8" fill="none"/>
<rect x="505.9" y="753.4" width="2.6" height="2.6" fill="#b07ac8"/>
<path d="M525.8 757.0V747.7M524.2 757.0h3.2M524.2 747.7h3.2" stroke="#b07ac8" stroke-width="0.8" fill="none"/>
<rect x="524.5" y="751.1" width="2.6" height="2.6" fill="#b07ac8"/>
<path d="M544.4 756.2V745.4M542.8 756.2h3.2M542.8 745.4h3.2" stroke="#b07ac8" stroke-width="0.8" fill="none"/>
<rect x="543.1" y="749.5" width="2.6" height="2.6" fill="#b07ac8"/>
<path d="M563.0 757.8V745.4M561.4 757.8h3.2M561.4 745.4h3.2" stroke="#b07ac8" stroke-width="0.8" fill="none"/>
<rect x="561.7" y="750.3" width="2.6" height="2.6" fill="#b07ac8"/>
<path d="M581.6 757.0V747.7M580.0 757.0h3.2M580.0 747.7h3.2" stroke="#b07ac8" stroke-width="0.8" fill="none"/>
<rect x="580.3" y="751.1" width="2.6" height="2.6" fill="#b07ac8"/>
<path d="M600.2 757.8V748.5M598.6 757.8h3.2M598.6 748.5h3.2" stroke="#b07ac8" stroke-width="0.8" fill="none"/>
<rect x="598.9" y="751.8" width="2.6" height="2.6" fill="#b07ac8"/>
<path d="M618.8 757.8V750.0M617.2 757.8h3.2M617.2 750.0h3.2" stroke="#b07ac8" stroke-width="0.8" fill="none"/>
<rect x="617.5" y="752.6" width="2.6" height="2.6" fill="#b07ac8"/>
<path d="M637.4 757.0V749.3M635.8 757.0h3.2M635.8 749.3h3.2" stroke="#b07ac8" stroke-width="0.8" fill="none"/>
<rect x="636.1" y="751.8" width="2.6" height="2.6" fill="#b07ac8"/>
<path d="M656.0 757.0V749.3M654.4 757.0h3.2M654.4 749.3h3.2" stroke="#b07ac8" stroke-width="0.8" fill="none"/>
<rect x="654.7" y="751.8" width="2.6" height="2.6" fill="#b07ac8"/>
<path d="M414.2 740.8 L432.8 749.3 L451.4 753.9 L470.0 757.8 L488.6 757.8 L507.2 757.8" fill="none" stroke="#f7a146" stroke-width="1.0"/>
<path d="M525.8 760.1 L544.4 760.9 L563.0 763.2 L581.6 764.0 L600.2 765.5 L618.8 766.3 L637.4 767.1 L656.0 768.6" fill="none" stroke="#f7a146" stroke-width="1.0"/>
<path d="M414.2 746.9V734.6M412.6 746.9h3.2M412.6 734.6h3.2" stroke="#f7a146" stroke-width="0.8" fill="none"/>
<rect x="412.9" y="739.5" width="2.6" height="2.6" fill="#f7a146"/>
<path d="M432.8 753.9V744.6M431.2 753.9h3.2M431.2 744.6h3.2" stroke="#f7a146" stroke-width="0.8" fill="none"/>
<rect x="431.5" y="748.0" width="2.6" height="2.6" fill="#f7a146"/>
<path d="M451.4 756.2V751.6M449.8 756.2h3.2M449.8 751.6h3.2" stroke="#f7a146" stroke-width="0.8" fill="none"/>
<rect x="450.1" y="752.6" width="2.6" height="2.6" fill="#f7a146"/>
<path d="M470.0 759.6V755.9M468.4 759.6h3.2M468.4 755.9h3.2" stroke="#f7a146" stroke-width="0.8" fill="none"/>
<rect x="468.7" y="756.5" width="2.6" height="2.6" fill="#f7a146"/>
<path d="M488.6 759.6V755.9M487.0 759.6h3.2M487.0 755.9h3.2" stroke="#f7a146" stroke-width="0.8" fill="none"/>
<rect x="487.3" y="756.5" width="2.6" height="2.6" fill="#f7a146"/>
<path d="M507.2 759.6V755.9M505.6 759.6h3.2M505.6 755.9h3.2" stroke="#f7a146" stroke-width="0.8" fill="none"/>
<rect x="505.9" y="756.5" width="2.6" height="2.6" fill="#f7a146"/>
<path d="M525.8 762.0V758.2M524.2 762.0h3.2M524.2 758.2h3.2" stroke="#f7a146" stroke-width="0.8" fill="none"/>
<rect x="524.5" y="758.8" width="2.6" height="2.6" fill="#f7a146"/>
<path d="M544.4 762.4V759.3M542.8 762.4h3.2M542.8 759.3h3.2" stroke="#f7a146" stroke-width="0.8" fill="none"/>
<rect x="543.1" y="759.6" width="2.6" height="2.6" fill="#f7a146"/>
<path d="M563.0 764.7V761.6M561.4 764.7h3.2M561.4 761.6h3.2" stroke="#f7a146" stroke-width="0.8" fill="none"/>
<rect x="561.7" y="761.9" width="2.6" height="2.6" fill="#f7a146"/>
<path d="M581.6 765.2V762.7M580.0 765.2h3.2M580.0 762.7h3.2" stroke="#f7a146" stroke-width="0.8" fill="none"/>
<rect x="580.3" y="762.7" width="2.6" height="2.6" fill="#f7a146"/>
<path d="M600.2 766.4V764.6M598.6 766.4h3.2M598.6 764.6h3.2" stroke="#f7a146" stroke-width="0.8" fill="none"/>
<rect x="598.9" y="764.2" width="2.6" height="2.6" fill="#f7a146"/>
<path d="M618.8 767.1V765.5M617.2 767.1h3.2M617.2 765.5h3.2" stroke="#f7a146" stroke-width="0.8" fill="none"/>
<rect x="617.5" y="765.0" width="2.6" height="2.6" fill="#f7a146"/>
<path d="M637.4 767.8V766.3M635.8 767.8h3.2M635.8 766.3h3.2" stroke="#f7a146" stroke-width="0.8" fill="none"/>
<rect x="636.1" y="765.8" width="2.6" height="2.6" fill="#f7a146"/>
<path d="M656.0 769.4V767.8M654.4 769.4h3.2M654.4 767.8h3.2" stroke="#f7a146" stroke-width="0.8" fill="none"/>
<rect x="654.7" y="767.3" width="2.6" height="2.6" fill="#f7a146"/>
<path d="M404.4 709.8V771.7H661" fill="none" stroke="#000" stroke-width="1.2"/>
<line x1="399.4" y1="771.7" x2="404.4" y2="771.7" stroke="#000" stroke-width="1"/>
<text x="398.2" y="775.7" font-size="11.5" font-weight="bold" fill="#000" text-anchor="end" >0</text>
<line x1="399.4" y1="756.2" x2="404.4" y2="756.2" stroke="#000" stroke-width="1"/>
<text x="398.2" y="760.2" font-size="11.5" font-weight="bold" fill="#000" text-anchor="end" >10</text>
<line x1="399.4" y1="740.8" x2="404.4" y2="740.8" stroke="#000" stroke-width="1"/>
<text x="398.2" y="744.8" font-size="11.5" font-weight="bold" fill="#000" text-anchor="end" >20</text>
<line x1="399.4" y1="725.3" x2="404.4" y2="725.3" stroke="#000" stroke-width="1"/>
<text x="398.2" y="729.3" font-size="11.5" font-weight="bold" fill="#000" text-anchor="end" >30</text>
<line x1="399.4" y1="709.8" x2="404.4" y2="709.8" stroke="#000" stroke-width="1"/>
<text x="398.2" y="713.8" font-size="11.5" font-weight="bold" fill="#000" text-anchor="end" >40</text>
<line x1="414.2" y1="771.7" x2="414.2" y2="776.2" stroke="#000" stroke-width="1"/>
<line x1="432.8" y1="771.7" x2="432.8" y2="776.2" stroke="#000" stroke-width="1"/>
<line x1="451.4" y1="771.7" x2="451.4" y2="776.2" stroke="#000" stroke-width="1"/>
<line x1="470" y1="771.7" x2="470" y2="776.2" stroke="#000" stroke-width="1"/>
<line x1="488.6" y1="771.7" x2="488.6" y2="776.2" stroke="#000" stroke-width="1"/>
<line x1="507.2" y1="771.7" x2="507.2" y2="776.2" stroke="#000" stroke-width="1"/>
<line x1="525.8" y1="771.7" x2="525.8" y2="776.2" stroke="#000" stroke-width="1"/>
<line x1="544.4" y1="771.7" x2="544.4" y2="776.2" stroke="#000" stroke-width="1"/>
<line x1="563" y1="771.7" x2="563" y2="776.2" stroke="#000" stroke-width="1"/>
<line x1="581.6" y1="771.7" x2="581.6" y2="776.2" stroke="#000" stroke-width="1"/>
<line x1="600.2" y1="771.7" x2="600.2" y2="776.2" stroke="#000" stroke-width="1"/>
<line x1="618.8" y1="771.7" x2="618.8" y2="776.2" stroke="#000" stroke-width="1"/>
<line x1="637.4" y1="771.7" x2="637.4" y2="776.2" stroke="#000" stroke-width="1"/>
<line x1="656" y1="771.7" x2="656" y2="776.2" stroke="#000" stroke-width="1"/>
<text x="414.2" y="784.2" font-size="8.8" font-weight="bold" fill="#000" text-anchor="middle" >LD1</text>
<text x="488.6" y="784.2" font-size="8.8" font-weight="bold" fill="#000" text-anchor="middle" >LD5</text>
<text x="525.8" y="784.2" font-size="8.8" font-weight="bold" fill="#000" text-anchor="middle" >DD1</text>
<text x="600.2" y="784.2" font-size="8.8" font-weight="bold" fill="#000" text-anchor="middle" >DD5</text>
<text x="656" y="784.2" font-size="8.8" font-weight="bold" fill="#000" text-anchor="middle" >DD8</text>
<text transform="translate(377.3,742.6) rotate(-90)" font-size="12.8" font-weight="bold" text-anchor="middle">Amplitude</text>
<path d="M508.3 749.4H511.3V761.6H508.3" fill="none" stroke="#000" stroke-width="1.1"/>
<text x="514.3" y="759.2" font-size="9.5" font-weight="normal" fill="#000" text-anchor="start" >ns</text>
<path d="M659.8 753.5H662.8V768H659.8" fill="none" stroke="#000" stroke-width="1.1"/>
<text x="666" y="768" font-size="15" font-weight="bold" fill="#000" text-anchor="start" >*</text>
<text x="568.9" y="714.9" font-size="11.8" font-weight="bold" fill="#b07cc6" text-anchor="start" >Control</text>
<text x="568.9" y="727" font-size="11.8" font-weight="bold" fill="#f7931e" text-anchor="start" >VIP-deficient</text>
<text x="0" y="828" font-size="29.5" font-weight="normal" fill="#000" text-anchor="start" >f</text>
<text x="394.5" y="827" font-size="29.5" font-weight="normal" fill="#000" text-anchor="start" >g</text>
<text transform="translate(20.2,947) rotate(-90)" font-size="11.3" font-weight="bold" text-anchor="middle">Days</text>
<rect x="38.9" y="827.4" width="161.5" height="261.5" fill="#d3d3d3"/>
<rect x="71.2" y="827.4" width="32.3" height="60.4" fill="#fff"/>
<rect x="135.7" y="827.4" width="32.3" height="50.2" fill="#fff"/>
<text x="45.5" y="905.3" font-size="9" font-weight="bold" fill="#22b422">AVP-Ca<tspan font-size="6" dy="-3.3">2+</tspan><tspan dy="3.3"> onset</tspan></text>
<text x="45.5" y="916.0" font-size="9" font-weight="bold" fill="#5ae8b4">AVP-Ca<tspan font-size="6" dy="-3.3">2+</tspan><tspan dy="3.3"> offset</tspan></text>
<text x="45.5" y="925.8" font-size="9" font-weight="bold" fill="#1414ee">AVP-Ca<tspan font-size="6" dy="-3.3">2+</tspan><tspan dy="3.3"> midpoint</tspan></text>
<text x="45.5" y="936.4" font-size="9" font-weight="bold" fill="#f01ef0">VIP-Ca<tspan font-size="6" dy="-3.3">2+</tspan><tspan dy="3.3"> onset</tspan></text>
<text x="45.5" y="948.0" font-size="9" font-weight="bold" fill="#f7a0a0">VIP-Ca<tspan font-size="6" dy="-3.3">2+</tspan><tspan dy="3.3"> offset</tspan></text>
<text x="45.5" y="958.6" font-size="9" font-weight="bold" fill="#f2f200">VIP-Ca<tspan font-size="6" dy="-3.3">2+</tspan><tspan dy="3.3"> midpoint</tspan></text>
<text x="45.5" y="968.8" font-size="9" font-weight="bold" fill="#000">Locomotor onset</text>
<path d="M162.2 832.9 L162.1 842.9 L162.1 852.9 L162.0 863.0 L161.9 873.0 L161.9 883.0 L161.8 893.0 L160.7 903.0 L159.7 913.1 L158.6 923.1 L157.5 933.1 L156.4 943.1 L155.2 953.1 L154.1 963.2 L153.0 973.2 L151.9 983.2 L150.7 993.2 L149.5 1003.2 L148.3 1013.3 L147.1 1023.3 L145.9 1033.3 L144.7 1043.3 L143.8 1053.3 L143.0 1063.4 L142.2 1073.4 L141.3 1083.4" fill="none" stroke="#5ae8b4" stroke-width="1.1"/>
<path d="M160.9 832.9h2.6M160.9 831.6v2.6M163.5 831.6v2.6M160.7 842.9h2.8M160.7 841.6v2.6M163.5 841.6v2.6M160.6 852.9h2.9M160.6 851.6v2.6M163.5 851.6v2.6M160.4 863.0h3.1M160.4 861.7v2.6M163.6 861.7v2.6M160.3 873.0h3.3M160.3 871.7v2.6M163.6 871.7v2.6M160.1 883.0h3.5M160.1 881.7v2.6M163.6 881.7v2.6M160.0 893.0h3.6M160.0 891.7v2.6M163.6 891.7v2.6M158.8 903.0h3.8M158.8 901.7v2.6M162.6 901.7v2.6M157.7 913.1h4.0M157.7 911.8v2.6M161.6 911.8v2.6M156.5 923.1h4.1M156.5 921.8v2.6M160.7 921.8v2.6M155.3 933.1h4.3M155.3 931.8v2.6M159.6 931.8v2.6M154.1 943.1h4.5M154.1 941.8v2.6M158.6 941.8v2.6M152.9 953.1h4.6M152.9 951.8v2.6M157.6 951.8v2.6M151.7 963.2h4.8M151.7 961.9v2.6M156.5 961.9v2.6M150.5 973.2h5.0M150.5 971.9v2.6M155.5 971.9v2.6M149.3 983.2h5.2M149.3 981.9v2.6M154.5 981.9v2.6M148.0 993.2h5.3M148.0 991.9v2.6M153.4 991.9v2.6M146.8 1003.2h5.5M146.8 1001.9v2.6M152.2 1001.9v2.6M145.5 1013.3h5.7M145.5 1012.0v2.6M151.1 1012.0v2.6M144.2 1023.3h5.8M144.2 1022.0v2.6M150.0 1022.0v2.6M142.9 1033.3h6.0M142.9 1032.0v2.6M148.9 1032.0v2.6M141.6 1043.3h6.2M141.6 1042.0v2.6M147.8 1042.0v2.6M140.7 1053.3h6.3M140.7 1052.0v2.6M147.0 1052.0v2.6M139.7 1063.4h6.5M139.7 1062.1v2.6M146.3 1062.1v2.6M138.8 1073.4h6.7M138.8 1072.1v2.6M145.5 1072.1v2.6M137.9 1083.4h6.8M137.9 1082.1v2.6M144.7 1082.1v2.6" stroke="#5ae8b4" stroke-width="0.9" fill="none"/>
<path d="M160.9 832.9a1.3 1.3 0 1 0 2.6 0a1.3 1.3 0 1 0 -2.6 0M160.8 842.9a1.3 1.3 0 1 0 2.6 0a1.3 1.3 0 1 0 -2.6 0M160.8 852.9a1.3 1.3 0 1 0 2.6 0a1.3 1.3 0 1 0 -2.6 0M160.7 863.0a1.3 1.3 0 1 0 2.6 0a1.3 1.3 0 1 0 -2.6 0M160.6 873.0a1.3 1.3 0 1 0 2.6 0a1.3 1.3 0 1 0 -2.6 0M160.6 883.0a1.3 1.3 0 1 0 2.6 0a1.3 1.3 0 1 0 -2.6 0M160.5 893.0a1.3 1.3 0 1 0 2.6 0a1.3 1.3 0 1 0 -2.6 0M159.4 903.0a1.3 1.3 0 1 0 2.6 0a1.3 1.3 0 1 0 -2.6 0M158.4 913.1a1.3 1.3 0 1 0 2.6 0a1.3 1.3 0 1 0 -2.6 0M157.3 923.1a1.3 1.3 0 1 0 2.6 0a1.3 1.3 0 1 0 -2.6 0M156.2 933.1a1.3 1.3 0 1 0 2.6 0a1.3 1.3 0 1 0 -2.6 0M155.1 943.1a1.3 1.3 0 1 0 2.6 0a1.3 1.3 0 1 0 -2.6 0M153.9 953.1a1.3 1.3 0 1 0 2.6 0a1.3 1.3 0 1 0 -2.6 0M152.8 963.2a1.3 1.3 0 1 0 2.6 0a1.3 1.3 0 1 0 -2.6 0M151.7 973.2a1.3 1.3 0 1 0 2.6 0a1.3 1.3 0 1 0 -2.6 0M150.6 983.2a1.3 1.3 0 1 0 2.6 0a1.3 1.3 0 1 0 -2.6 0M149.4 993.2a1.3 1.3 0 1 0 2.6 0a1.3 1.3 0 1 0 -2.6 0M148.2 1003.2a1.3 1.3 0 1 0 2.6 0a1.3 1.3 0 1 0 -2.6 0M147.0 1013.3a1.3 1.3 0 1 0 2.6 0a1.3 1.3 0 1 0 -2.6 0M145.8 1023.3a1.3 1.3 0 1 0 2.6 0a1.3 1.3 0 1 0 -2.6 0M144.6 1033.3a1.3 1.3 0 1 0 2.6 0a1.3 1.3 0 1 0 -2.6 0M143.4 1043.3a1.3 1.3 0 1 0 2.6 0a1.3 1.3 0 1 0 -2.6 0M142.5 1053.3a1.3 1.3 0 1 0 2.6 0a1.3 1.3 0 1 0 -2.6 0M141.7 1063.4a1.3 1.3 0 1 0 2.6 0a1.3 1.3 0 1 0 -2.6 0M140.8 1073.4a1.3 1.3 0 1 0 2.6 0a1.3 1.3 0 1 0 -2.6 0M140.0 1083.4a1.3 1.3 0 1 0 2.6 0a1.3 1.3 0 1 0 -2.6 0" fill="#5ae8b4"/>
<path d="M165.4 832.9 L166.5 842.9 L164.6 852.9 L164.3 863.0 L166.2 873.0 L165.0 883.0 L165.0 893.0 L163.8 903.0 L162.7 913.1 L161.5 923.1 L160.4 933.1 L159.3 943.1 L158.2 953.1 L157.0 963.2 L155.9 973.2 L154.8 983.2 L153.6 993.2 L152.5 1003.2 L151.3 1013.3 L150.1 1023.3 L149.0 1033.3 L147.8 1043.3 L147.0 1053.3 L146.2 1063.4 L145.5 1073.4 L144.7 1083.4" fill="none" stroke="#f7a0a0" stroke-width="1.1"/>
<path d="M164.2 832.9h2.4M164.2 831.6v2.6M166.6 831.6v2.6M165.2 842.9h2.6M165.2 841.6v2.6M167.8 841.6v2.6M163.2 852.9h2.7M163.2 851.6v2.6M166.0 851.6v2.6M162.8 863.0h2.9M162.8 861.7v2.6M165.8 861.7v2.6M164.7 873.0h3.1M164.7 871.7v2.6M167.7 871.7v2.6M163.4 883.0h3.2M163.4 881.7v2.6M166.6 881.7v2.6M163.3 893.0h3.4M163.3 891.7v2.6M166.7 891.7v2.6M162.0 903.0h3.6M162.0 901.7v2.6M165.6 901.7v2.6M160.8 913.1h3.8M160.8 911.8v2.6M164.5 911.8v2.6M159.5 923.1h3.9M159.5 921.8v2.6M163.5 921.8v2.6M158.3 933.1h4.1M158.3 931.8v2.6M162.4 931.8v2.6M157.1 943.1h4.3M157.1 941.8v2.6M161.4 941.8v2.6M155.9 953.1h4.4M155.9 951.8v2.6M160.4 951.8v2.6M154.7 963.2h4.6M154.7 961.9v2.6M159.3 961.9v2.6M153.5 973.2h4.8M153.5 971.9v2.6M158.3 971.9v2.6M152.3 983.2h5.0M152.3 981.9v2.6M157.3 981.9v2.6M151.1 993.2h5.1M151.1 991.9v2.6M156.2 991.9v2.6M149.8 1003.2h5.3M149.8 1001.9v2.6M155.1 1001.9v2.6M148.6 1013.3h5.5M148.6 1012.0v2.6M154.0 1012.0v2.6M147.3 1023.3h5.6M147.3 1022.0v2.6M152.9 1022.0v2.6M146.1 1033.3h5.8M146.1 1032.0v2.6M151.9 1032.0v2.6M144.8 1043.3h6.0M144.8 1042.0v2.6M150.8 1042.0v2.6M144.0 1053.3h6.1M144.0 1052.0v2.6M150.1 1052.0v2.6M143.1 1063.4h6.3M143.1 1062.1v2.6M149.4 1062.1v2.6M142.2 1073.4h6.5M142.2 1072.1v2.6M148.7 1072.1v2.6M141.4 1083.4h6.7M141.4 1082.1v2.6M148.0 1082.1v2.6" stroke="#f7a0a0" stroke-width="0.9" fill="none"/>
<path d="M164.1 832.9a1.3 1.3 0 1 0 2.6 0a1.3 1.3 0 1 0 -2.6 0M165.2 842.9a1.3 1.3 0 1 0 2.6 0a1.3 1.3 0 1 0 -2.6 0M163.3 852.9a1.3 1.3 0 1 0 2.6 0a1.3 1.3 0 1 0 -2.6 0M163.0 863.0a1.3 1.3 0 1 0 2.6 0a1.3 1.3 0 1 0 -2.6 0M164.9 873.0a1.3 1.3 0 1 0 2.6 0a1.3 1.3 0 1 0 -2.6 0M163.7 883.0a1.3 1.3 0 1 0 2.6 0a1.3 1.3 0 1 0 -2.6 0M163.7 893.0a1.3 1.3 0 1 0 2.6 0a1.3 1.3 0 1 0 -2.6 0M162.5 903.0a1.3 1.3 0 1 0 2.6 0a1.3 1.3 0 1 0 -2.6 0M161.4 913.1a1.3 1.3 0 1 0 2.6 0a1.3 1.3 0 1 0 -2.6 0M160.2 923.1a1.3 1.3 0 1 0 2.6 0a1.3 1.3 0 1 0 -2.6 0M159.1 933.1a1.3 1.3 0 1 0 2.6 0a1.3 1.3 0 1 0 -2.6 0M158.0 943.1a1.3 1.3 0 1 0 2.6 0a1.3 1.3 0 1 0 -2.6 0M156.8 953.1a1.3 1.3 0 1 0 2.6 0a1.3 1.3 0 1 0 -2.6 0M155.7 963.2a1.3 1.3 0 1 0 2.6 0a1.3 1.3 0 1 0 -2.6 0M154.6 973.2a1.3 1.3 0 1 0 2.6 0a1.3 1.3 0 1 0 -2.6 0M153.5 983.2a1.3 1.3 0 1 0 2.6 0a1.3 1.3 0 1 0 -2.6 0M152.3 993.2a1.3 1.3 0 1 0 2.6 0a1.3 1.3 0 1 0 -2.6 0M151.2 1003.2a1.3 1.3 0 1 0 2.6 0a1.3 1.3 0 1 0 -2.6 0M150.0 1013.3a1.3 1.3 0 1 0 2.6 0a1.3 1.3 0 1 0 -2.6 0M148.8 1023.3a1.3 1.3 0 1 0 2.6 0a1.3 1.3 0 1 0 -2.6 0M147.7 1033.3a1.3 1.3 0 1 0 2.6 0a1.3 1.3 0 1 0 -2.6 0M146.5 1043.3a1.3 1.3 0 1 0 2.6 0a1.3 1.3 0 1 0 -2.6 0M145.7 1053.3a1.3 1.3 0 1 0 2.6 0a1.3 1.3 0 1 0 -2.6 0M144.9 1063.4a1.3 1.3 0 1 0 2.6 0a1.3 1.3 0 1 0 -2.6 0M144.2 1073.4a1.3 1.3 0 1 0 2.6 0a1.3 1.3 0 1 0 -2.6 0M143.4 1083.4a1.3 1.3 0 1 0 2.6 0a1.3 1.3 0 1 0 -2.6 0" fill="#f7a0a0"/>
<path d="M149.2 832.9 L149.2 842.9 L149.1 852.9 L149.1 863.0 L149.1 873.0 L149.0 883.0 L149.0 893.0 L148.0 903.0 L146.9 913.1 L145.9 923.1 L144.7 933.1 L143.5 943.1 L142.4 953.1 L141.2 963.2 L140.0 973.2 L138.8 983.2 L137.8 993.2 L136.7 1003.2 L135.7 1013.3 L134.6 1023.3 L133.6 1033.3 L132.5 1043.3 L131.5 1053.3 L130.6 1063.4 L129.6 1073.4 L128.6 1083.4" fill="none" stroke="#f2f200" stroke-width="1.1"/>
<path d="M147.9 832.9h2.6M147.9 831.6v2.6M150.5 831.6v2.6M147.8 842.9h2.8M147.8 841.6v2.6M150.6 841.6v2.6M147.7 852.9h2.9M147.7 851.6v2.6M150.6 851.6v2.6M147.5 863.0h3.1M147.5 861.7v2.6M150.7 861.7v2.6M147.4 873.0h3.3M147.4 871.7v2.6M150.7 871.7v2.6M147.3 883.0h3.5M147.3 881.7v2.6M150.8 881.7v2.6M147.2 893.0h3.6M147.2 891.7v2.6M150.8 891.7v2.6M146.1 903.0h3.8M146.1 901.7v2.6M149.9 901.7v2.6M145.0 913.1h4.0M145.0 911.8v2.6M148.9 911.8v2.6M143.8 923.1h4.1M143.8 921.8v2.6M148.0 921.8v2.6M142.6 933.1h4.3M142.6 931.8v2.6M146.9 931.8v2.6M141.3 943.1h4.5M141.3 941.8v2.6M145.8 941.8v2.6M140.0 953.1h4.6M140.0 951.8v2.6M144.7 951.8v2.6M138.8 963.2h4.8M138.8 961.9v2.6M143.6 961.9v2.6M137.5 973.2h5.0M137.5 971.9v2.6M142.5 971.9v2.6M136.2 983.2h5.2M136.2 981.9v2.6M141.4 981.9v2.6M135.1 993.2h5.3M135.1 991.9v2.6M140.4 991.9v2.6M134.0 1003.2h5.5M134.0 1001.9v2.6M139.4 1001.9v2.6M132.8 1013.3h5.7M132.8 1012.0v2.6M138.5 1012.0v2.6M131.7 1023.3h5.8M131.7 1022.0v2.6M137.5 1022.0v2.6M130.6 1033.3h6.0M130.6 1032.0v2.6M136.6 1032.0v2.6M129.4 1043.3h6.2M129.4 1042.0v2.6M135.6 1042.0v2.6M128.4 1053.3h6.3M128.4 1052.0v2.6M134.7 1052.0v2.6M127.3 1063.4h6.5M127.3 1062.1v2.6M133.8 1062.1v2.6M126.2 1073.4h6.7M126.2 1072.1v2.6M132.9 1072.1v2.6M125.2 1083.4h6.8M125.2 1082.1v2.6M132.0 1082.1v2.6" stroke="#f2f200" stroke-width="0.9" fill="none"/>
<path d="M147.9 832.9a1.3 1.3 0 1 0 2.6 0a1.3 1.3 0 1 0 -2.6 0M147.9 842.9a1.3 1.3 0 1 0 2.6 0a1.3 1.3 0 1 0 -2.6 0M147.8 852.9a1.3 1.3 0 1 0 2.6 0a1.3 1.3 0 1 0 -2.6 0M147.8 863.0a1.3 1.3 0 1 0 2.6 0a1.3 1.3 0 1 0 -2.6 0M147.8 873.0a1.3 1.3 0 1 0 2.6 0a1.3 1.3 0 1 0 -2.6 0M147.7 883.0a1.3 1.3 0 1 0 2.6 0a1.3 1.3 0 1 0 -2.6 0M147.7 893.0a1.3 1.3 0 1 0 2.6 0a1.3 1.3 0 1 0 -2.6 0M146.7 903.0a1.3 1.3 0 1 0 2.6 0a1.3 1.3 0 1 0 -2.6 0M145.6 913.1a1.3 1.3 0 1 0 2.6 0a1.3 1.3 0 1 0 -2.6 0M144.6 923.1a1.3 1.3 0 1 0 2.6 0a1.3 1.3 0 1 0 -2.6 0M143.4 933.1a1.3 1.3 0 1 0 2.6 0a1.3 1.3 0 1 0 -2.6 0M142.2 943.1a1.3 1.3 0 1 0 2.6 0a1.3 1.3 0 1 0 -2.6 0M141.1 953.1a1.3 1.3 0 1 0 2.6 0a1.3 1.3 0 1 0 -2.6 0M139.9 963.2a1.3 1.3 0 1 0 2.6 0a1.3 1.3 0 1 0 -2.6 0M138.7 973.2a1.3 1.3 0 1 0 2.6 0a1.3 1.3 0 1 0 -2.6 0M137.5 983.2a1.3 1.3 0 1 0 2.6 0a1.3 1.3 0 1 0 -2.6 0M136.4 993.2a1.3 1.3 0 1 0 2.6 0a1.3 1.3 0 1 0 -2.6 0M135.4 1003.2a1.3 1.3 0 1 0 2.6 0a1.3 1.3 0 1 0 -2.6 0M134.3 1013.3a1.3 1.3 0 1 0 2.6 0a1.3 1.3 0 1 0 -2.6 0M133.3 1023.3a1.3 1.3 0 1 0 2.6 0a1.3 1.3 0 1 0 -2.6 0M132.2 1033.3a1.3 1.3 0 1 0 2.6 0a1.3 1.3 0 1 0 -2.6 0M131.2 1043.3a1.3 1.3 0 1 0 2.6 0a1.3 1.3 0 1 0 -2.6 0M130.2 1053.3a1.3 1.3 0 1 0 2.6 0a1.3 1.3 0 1 0 -2.6 0M129.2 1063.4a1.3 1.3 0 1 0 2.6 0a1.3 1.3 0 1 0 -2.6 0M128.3 1073.4a1.3 1.3 0 1 0 2.6 0a1.3 1.3 0 1 0 -2.6 0M127.3 1083.4a1.3 1.3 0 1 0 2.6 0a1.3 1.3 0 1 0 -2.6 0" fill="#f2f200"/>
<path d="M170.0 832.9 L169.9 842.9 L169.7 852.9 L169.6 863.0 L169.5 873.0 L169.3 883.0 L169.2 893.0 L167.6 903.0 L166.0 913.1 L164.4 923.1 L163.3 933.1 L162.1 943.1 L161.0 953.1 L159.9 963.2 L158.7 973.2 L157.6 983.2 L156.5 993.2 L155.4 1003.2 L154.2 1013.3 L153.1 1023.3 L152.0 1033.3 L150.9 1043.3 L150.3 1053.3 L149.8 1063.4 L149.2 1073.4 L148.6 1083.4" fill="none" stroke="#000000" stroke-width="1.1"/>
<path d="M168.5 832.9h3.0M168.5 831.6v2.6M171.5 831.6v2.6M168.3 842.9h3.2M168.3 841.6v2.6M171.5 841.6v2.6M168.1 852.9h3.3M168.1 851.6v2.6M171.4 851.6v2.6M167.8 863.0h3.5M167.8 861.7v2.6M171.4 861.7v2.6M167.6 873.0h3.7M167.6 871.7v2.6M171.3 871.7v2.6M167.4 883.0h3.9M167.4 881.7v2.6M171.3 881.7v2.6M167.2 893.0h4.0M167.2 891.7v2.6M171.2 891.7v2.6M165.5 903.0h4.2M165.5 901.7v2.6M169.7 901.7v2.6M163.8 913.1h4.4M163.8 911.8v2.6M168.2 911.8v2.6M162.1 923.1h4.5M162.1 921.8v2.6M166.7 921.8v2.6M160.9 933.1h4.7M160.9 931.8v2.6M165.6 931.8v2.6M159.7 943.1h4.9M159.7 941.8v2.6M164.6 941.8v2.6M158.5 953.1h5.0M158.5 951.8v2.6M163.5 951.8v2.6M157.3 963.2h5.2M157.3 961.9v2.6M162.5 961.9v2.6M156.0 973.2h5.4M156.0 971.9v2.6M161.4 971.9v2.6M154.8 983.2h5.6M154.8 981.9v2.6M160.4 981.9v2.6M153.6 993.2h5.7M153.6 991.9v2.6M159.3 991.9v2.6M152.4 1003.2h5.9M152.4 1001.9v2.6M158.3 1001.9v2.6M151.2 1013.3h6.1M151.2 1012.0v2.6M157.3 1012.0v2.6M150.0 1023.3h6.2M150.0 1022.0v2.6M156.2 1022.0v2.6M148.8 1033.3h6.4M148.8 1032.0v2.6M155.2 1032.0v2.6M147.6 1043.3h6.6M147.6 1042.0v2.6M154.2 1042.0v2.6M147.0 1053.3h6.7M147.0 1052.0v2.6M153.7 1052.0v2.6M146.3 1063.4h6.9M146.3 1062.1v2.6M153.2 1062.1v2.6M145.6 1073.4h7.1M145.6 1072.1v2.6M152.7 1072.1v2.6M145.0 1083.4h7.2M145.0 1082.1v2.6M152.2 1082.1v2.6" stroke="#000000" stroke-width="0.9" fill="none"/>
<path d="M168.7 832.9a1.3 1.3 0 1 0 2.6 0a1.3 1.3 0 1 0 -2.6 0M168.6 842.9a1.3 1.3 0 1 0 2.6 0a1.3 1.3 0 1 0 -2.6 0M168.4 852.9a1.3 1.3 0 1 0 2.6 0a1.3 1.3 0 1 0 -2.6 0M168.3 863.0a1.3 1.3 0 1 0 2.6 0a1.3 1.3 0 1 0 -2.6 0M168.2 873.0a1.3 1.3 0 1 0 2.6 0a1.3 1.3 0 1 0 -2.6 0M168.0 883.0a1.3 1.3 0 1 0 2.6 0a1.3 1.3 0 1 0 -2.6 0M167.9 893.0a1.3 1.3 0 1 0 2.6 0a1.3 1.3 0 1 0 -2.6 0M166.3 903.0a1.3 1.3 0 1 0 2.6 0a1.3 1.3 0 1 0 -2.6 0M164.7 913.1a1.3 1.3 0 1 0 2.6 0a1.3 1.3 0 1 0 -2.6 0M163.1 923.1a1.3 1.3 0 1 0 2.6 0a1.3 1.3 0 1 0 -2.6 0M162.0 933.1a1.3 1.3 0 1 0 2.6 0a1.3 1.3 0 1 0 -2.6 0M160.8 943.1a1.3 1.3 0 1 0 2.6 0a1.3 1.3 0 1 0 -2.6 0M159.7 953.1a1.3 1.3 0 1 0 2.6 0a1.3 1.3 0 1 0 -2.6 0M158.6 963.2a1.3 1.3 0 1 0 2.6 0a1.3 1.3 0 1 0 -2.6 0M157.4 973.2a1.3 1.3 0 1 0 2.6 0a1.3 1.3 0 1 0 -2.6 0M156.3 983.2a1.3 1.3 0 1 0 2.6 0a1.3 1.3 0 1 0 -2.6 0M155.2 993.2a1.3 1.3 0 1 0 2.6 0a1.3 1.3 0 1 0 -2.6 0M154.1 1003.2a1.3 1.3 0 1 0 2.6 0a1.3 1.3 0 1 0 -2.6 0M152.9 1013.3a1.3 1.3 0 1 0 2.6 0a1.3 1.3 0 1 0 -2.6 0M151.8 1023.3a1.3 1.3 0 1 0 2.6 0a1.3 1.3 0 1 0 -2.6 0M150.7 1033.3a1.3 1.3 0 1 0 2.6 0a1.3 1.3 0 1 0 -2.6 0M149.6 1043.3a1.3 1.3 0 1 0 2.6 0a1.3 1.3 0 1 0 -2.6 0M149.0 1053.3a1.3 1.3 0 1 0 2.6 0a1.3 1.3 0 1 0 -2.6 0M148.4 1063.4a1.3 1.3 0 1 0 2.6 0a1.3 1.3 0 1 0 -2.6 0M147.9 1073.4a1.3 1.3 0 1 0 2.6 0a1.3 1.3 0 1 0 -2.6 0M147.3 1083.4a1.3 1.3 0 1 0 2.6 0a1.3 1.3 0 1 0 -2.6 0" fill="#000000"/>
<path d="M132.3 832.9 L132.3 842.9 L132.3 852.9 L132.4 863.0 L132.4 873.0 L132.4 883.0 L134.0 893.0 L133.0 903.0 L131.9 913.1 L130.9 923.1 L129.8 933.1 L128.8 943.1 L127.7 953.1 L126.6 963.2 L125.6 973.2 L124.5 983.2 L123.4 993.2 L122.3 1003.2 L121.2 1013.3 L120.0 1023.3 L118.9 1033.3 L117.8 1043.3 L116.9 1053.3 L116.0 1063.4 L115.2 1073.4 L114.3 1083.4" fill="none" stroke="#f01ef0" stroke-width="1.1"/>
<path d="M131.0 832.9h2.6M131.0 831.6v2.6M133.6 831.6v2.6M130.9 842.9h2.8M130.9 841.6v2.6M133.7 841.6v2.6M130.9 852.9h2.9M130.9 851.6v2.6M133.8 851.6v2.6M130.8 863.0h3.1M130.8 861.7v2.6M133.9 861.7v2.6M130.7 873.0h3.3M130.7 871.7v2.6M134.0 871.7v2.6M130.7 883.0h3.5M130.7 881.7v2.6M134.1 881.7v2.6M132.2 893.0h3.6M132.2 891.7v2.6M135.8 891.7v2.6M131.1 903.0h3.8M131.1 901.7v2.6M134.9 901.7v2.6M130.0 913.1h4.0M130.0 911.8v2.6M133.9 911.8v2.6M128.8 923.1h4.1M128.8 921.8v2.6M133.0 921.8v2.6M127.7 933.1h4.3M127.7 931.8v2.6M132.0 931.8v2.6M126.5 943.1h4.5M126.5 941.8v2.6M131.0 941.8v2.6M125.4 953.1h4.6M125.4 951.8v2.6M130.0 951.8v2.6M124.2 963.2h4.8M124.2 961.9v2.6M129.0 961.9v2.6M123.1 973.2h5.0M123.1 971.9v2.6M128.1 971.9v2.6M121.9 983.2h5.2M121.9 981.9v2.6M127.1 981.9v2.6M120.7 993.2h5.3M120.7 991.9v2.6M126.0 991.9v2.6M119.5 1003.2h5.5M119.5 1001.9v2.6M125.0 1001.9v2.6M118.3 1013.3h5.7M118.3 1012.0v2.6M124.0 1012.0v2.6M117.1 1023.3h5.8M117.1 1022.0v2.6M122.9 1022.0v2.6M115.9 1033.3h6.0M115.9 1032.0v2.6M121.9 1032.0v2.6M114.7 1043.3h6.2M114.7 1042.0v2.6M120.9 1042.0v2.6M113.8 1053.3h6.3M113.8 1052.0v2.6M120.1 1052.0v2.6M112.8 1063.4h6.5M112.8 1062.1v2.6M119.3 1062.1v2.6M111.8 1073.4h6.7M111.8 1072.1v2.6M118.5 1072.1v2.6M110.9 1083.4h6.8M110.9 1082.1v2.6M117.7 1082.1v2.6" stroke="#f01ef0" stroke-width="0.9" fill="none"/>
<path d="M131.0 832.9a1.3 1.3 0 1 0 2.6 0a1.3 1.3 0 1 0 -2.6 0M131.0 842.9a1.3 1.3 0 1 0 2.6 0a1.3 1.3 0 1 0 -2.6 0M131.0 852.9a1.3 1.3 0 1 0 2.6 0a1.3 1.3 0 1 0 -2.6 0M131.1 863.0a1.3 1.3 0 1 0 2.6 0a1.3 1.3 0 1 0 -2.6 0M131.1 873.0a1.3 1.3 0 1 0 2.6 0a1.3 1.3 0 1 0 -2.6 0M131.1 883.0a1.3 1.3 0 1 0 2.6 0a1.3 1.3 0 1 0 -2.6 0M132.7 893.0a1.3 1.3 0 1 0 2.6 0a1.3 1.3 0 1 0 -2.6 0M131.7 903.0a1.3 1.3 0 1 0 2.6 0a1.3 1.3 0 1 0 -2.6 0M130.6 913.1a1.3 1.3 0 1 0 2.6 0a1.3 1.3 0 1 0 -2.6 0M129.6 923.1a1.3 1.3 0 1 0 2.6 0a1.3 1.3 0 1 0 -2.6 0M128.5 933.1a1.3 1.3 0 1 0 2.6 0a1.3 1.3 0 1 0 -2.6 0M127.5 943.1a1.3 1.3 0 1 0 2.6 0a1.3 1.3 0 1 0 -2.6 0M126.4 953.1a1.3 1.3 0 1 0 2.6 0a1.3 1.3 0 1 0 -2.6 0M125.3 963.2a1.3 1.3 0 1 0 2.6 0a1.3 1.3 0 1 0 -2.6 0M124.3 973.2a1.3 1.3 0 1 0 2.6 0a1.3 1.3 0 1 0 -2.6 0M123.2 983.2a1.3 1.3 0 1 0 2.6 0a1.3 1.3 0 1 0 -2.6 0M122.1 993.2a1.3 1.3 0 1 0 2.6 0a1.3 1.3 0 1 0 -2.6 0M121.0 1003.2a1.3 1.3 0 1 0 2.6 0a1.3 1.3 0 1 0 -2.6 0M119.9 1013.3a1.3 1.3 0 1 0 2.6 0a1.3 1.3 0 1 0 -2.6 0M118.7 1023.3a1.3 1.3 0 1 0 2.6 0a1.3 1.3 0 1 0 -2.6 0M117.6 1033.3a1.3 1.3 0 1 0 2.6 0a1.3 1.3 0 1 0 -2.6 0M116.5 1043.3a1.3 1.3 0 1 0 2.6 0a1.3 1.3 0 1 0 -2.6 0M115.6 1053.3a1.3 1.3 0 1 0 2.6 0a1.3 1.3 0 1 0 -2.6 0M114.8 1063.4a1.3 1.3 0 1 0 2.6 0a1.3 1.3 0 1 0 -2.6 0M113.9 1073.4a1.3 1.3 0 1 0 2.6 0a1.3 1.3 0 1 0 -2.6 0M113.0 1083.4a1.3 1.3 0 1 0 2.6 0a1.3 1.3 0 1 0 -2.6 0" fill="#f01ef0"/>
<path d="M132.3 832.9 L132.3 842.9 L132.3 852.9 L132.4 863.0 L132.4 873.0 L132.4 883.0 L132.4 893.0 L131.4 903.0 L130.3 913.1 L129.3 923.1 L128.2 933.1 L127.2 943.1 L126.1 953.1 L125.0 963.2 L124.0 973.2 L122.9 983.2 L121.8 993.2 L120.7 1003.2 L119.6 1013.3 L118.4 1023.3 L117.3 1033.3 L116.2 1043.3 L115.3 1053.3 L114.5 1063.4 L113.6 1073.4 L112.7 1083.4" fill="none" stroke="#22b422" stroke-width="1.1"/>
<path d="M130.7 832.9h3.2M130.7 831.6v2.6M133.9 831.6v2.6M130.6 842.9h3.4M130.6 841.6v2.6M134.0 841.6v2.6M130.6 852.9h3.5M130.6 851.6v2.6M134.1 851.6v2.6M130.5 863.0h3.7M130.5 861.7v2.6M134.2 861.7v2.6M130.4 873.0h3.9M130.4 871.7v2.6M134.3 871.7v2.6M130.4 883.0h4.1M130.4 881.7v2.6M134.4 881.7v2.6M130.3 893.0h4.2M130.3 891.7v2.6M134.5 891.7v2.6M129.2 903.0h4.4M129.2 901.7v2.6M133.6 901.7v2.6M128.1 913.1h4.6M128.1 911.8v2.6M132.6 911.8v2.6M126.9 923.1h4.7M126.9 921.8v2.6M131.7 921.8v2.6M125.8 933.1h4.9M125.8 931.8v2.6M130.7 931.8v2.6M124.6 943.1h5.1M124.6 941.8v2.6M129.7 941.8v2.6M123.5 953.1h5.2M123.5 951.8v2.6M128.7 951.8v2.6M122.3 963.2h5.4M122.3 961.9v2.6M127.7 961.9v2.6M121.2 973.2h5.6M121.2 971.9v2.6M126.8 971.9v2.6M120.0 983.2h5.8M120.0 981.9v2.6M125.8 981.9v2.6M118.8 993.2h5.9M118.8 991.9v2.6M124.7 991.9v2.6M117.6 1003.2h6.1M117.6 1001.9v2.6M123.7 1001.9v2.6M116.4 1013.3h6.3M116.4 1012.0v2.6M122.7 1012.0v2.6M115.2 1023.3h6.4M115.2 1022.0v2.6M121.6 1022.0v2.6M114.0 1033.3h6.6M114.0 1032.0v2.6M120.6 1032.0v2.6M112.8 1043.3h6.8M112.8 1042.0v2.6M119.6 1042.0v2.6M111.9 1053.3h6.9M111.9 1052.0v2.6M118.8 1052.0v2.6M110.9 1063.4h7.1M110.9 1062.1v2.6M118.0 1062.1v2.6M109.9 1073.4h7.3M109.9 1072.1v2.6M117.2 1072.1v2.6M109.0 1083.4h7.5M109.0 1082.1v2.6M116.4 1082.1v2.6" stroke="#22b422" stroke-width="0.9" fill="none"/>
<path d="M131.0 832.9a1.3 1.3 0 1 0 2.6 0a1.3 1.3 0 1 0 -2.6 0M131.0 842.9a1.3 1.3 0 1 0 2.6 0a1.3 1.3 0 1 0 -2.6 0M131.0 852.9a1.3 1.3 0 1 0 2.6 0a1.3 1.3 0 1 0 -2.6 0M131.1 863.0a1.3 1.3 0 1 0 2.6 0a1.3 1.3 0 1 0 -2.6 0M131.1 873.0a1.3 1.3 0 1 0 2.6 0a1.3 1.3 0 1 0 -2.6 0M131.1 883.0a1.3 1.3 0 1 0 2.6 0a1.3 1.3 0 1 0 -2.6 0M131.1 893.0a1.3 1.3 0 1 0 2.6 0a1.3 1.3 0 1 0 -2.6 0M130.1 903.0a1.3 1.3 0 1 0 2.6 0a1.3 1.3 0 1 0 -2.6 0M129.0 913.1a1.3 1.3 0 1 0 2.6 0a1.3 1.3 0 1 0 -2.6 0M128.0 923.1a1.3 1.3 0 1 0 2.6 0a1.3 1.3 0 1 0 -2.6 0M126.9 933.1a1.3 1.3 0 1 0 2.6 0a1.3 1.3 0 1 0 -2.6 0M125.9 943.1a1.3 1.3 0 1 0 2.6 0a1.3 1.3 0 1 0 -2.6 0M124.8 953.1a1.3 1.3 0 1 0 2.6 0a1.3 1.3 0 1 0 -2.6 0M123.7 963.2a1.3 1.3 0 1 0 2.6 0a1.3 1.3 0 1 0 -2.6 0M122.7 973.2a1.3 1.3 0 1 0 2.6 0a1.3 1.3 0 1 0 -2.6 0M121.6 983.2a1.3 1.3 0 1 0 2.6 0a1.3 1.3 0 1 0 -2.6 0M120.5 993.2a1.3 1.3 0 1 0 2.6 0a1.3 1.3 0 1 0 -2.6 0M119.4 1003.2a1.3 1.3 0 1 0 2.6 0a1.3 1.3 0 1 0 -2.6 0M118.3 1013.3a1.3 1.3 0 1 0 2.6 0a1.3 1.3 0 1 0 -2.6 0M117.1 1023.3a1.3 1.3 0 1 0 2.6 0a1.3 1.3 0 1 0 -2.6 0M116.0 1033.3a1.3 1.3 0 1 0 2.6 0a1.3 1.3 0 1 0 -2.6 0M114.9 1043.3a1.3 1.3 0 1 0 2.6 0a1.3 1.3 0 1 0 -2.6 0M114.0 1053.3a1.3 1.3 0 1 0 2.6 0a1.3 1.3 0 1 0 -2.6 0M113.2 1063.4a1.3 1.3 0 1 0 2.6 0a1.3 1.3 0 1 0 -2.6 0M112.3 1073.4a1.3 1.3 0 1 0 2.6 0a1.3 1.3 0 1 0 -2.6 0M111.4 1083.4a1.3 1.3 0 1 0 2.6 0a1.3 1.3 0 1 0 -2.6 0" fill="#22b422"/>
<path d="M147.4 832.9 L147.4 842.9 L147.3 852.9 L147.3 863.0 L147.3 873.0 L147.2 883.0 L147.2 893.0 L146.2 903.0 L145.1 913.1 L144.1 923.1 L142.9 933.1 L141.7 943.1 L140.6 953.1 L139.4 963.2 L138.2 973.2 L137.0 983.2 L135.9 993.2 L134.9 1003.2 L133.8 1013.3 L132.8 1023.3 L131.8 1033.3 L130.7 1043.3 L129.7 1053.3 L128.8 1063.4 L127.8 1073.4 L126.8 1083.4" fill="none" stroke="#1414ee" stroke-width="1.1"/>
<path d="M146.0 832.9h2.8M146.0 831.6v2.6M148.8 831.6v2.6M145.9 842.9h3.0M145.9 841.6v2.6M148.9 841.6v2.6M145.8 852.9h3.1M145.8 851.6v2.6M148.9 851.6v2.6M145.6 863.0h3.3M145.6 861.7v2.6M149.0 861.7v2.6M145.5 873.0h3.5M145.5 871.7v2.6M149.0 871.7v2.6M145.4 883.0h3.6M145.4 881.7v2.6M149.1 881.7v2.6M145.3 893.0h3.8M145.3 891.7v2.6M149.1 891.7v2.6M144.2 903.0h4.0M144.2 901.7v2.6M148.2 901.7v2.6M143.1 913.1h4.2M143.1 911.8v2.6M147.2 911.8v2.6M141.9 923.1h4.3M141.9 921.8v2.6M146.3 921.8v2.6M140.7 933.1h4.5M140.7 931.8v2.6M145.2 931.8v2.6M139.4 943.1h4.7M139.4 941.8v2.6M144.1 941.8v2.6M138.1 953.1h4.8M138.1 951.8v2.6M143.0 951.8v2.6M136.9 963.2h5.0M136.9 961.9v2.6M141.9 961.9v2.6M135.6 973.2h5.2M135.6 971.9v2.6M140.8 971.9v2.6M134.3 983.2h5.3M134.3 981.9v2.6M139.7 981.9v2.6M133.2 993.2h5.5M133.2 991.9v2.6M138.7 991.9v2.6M132.1 1003.2h5.7M132.1 1001.9v2.6M137.7 1001.9v2.6M130.9 1013.3h5.9M130.9 1012.0v2.6M136.8 1012.0v2.6M129.8 1023.3h6.0M129.8 1022.0v2.6M135.8 1022.0v2.6M128.7 1033.3h6.2M128.7 1032.0v2.6M134.8 1032.0v2.6M127.5 1043.3h6.4M127.5 1042.0v2.6M133.9 1042.0v2.6M126.5 1053.3h6.5M126.5 1052.0v2.6M133.0 1052.0v2.6M125.4 1063.4h6.7M125.4 1062.1v2.6M132.1 1062.1v2.6M124.3 1073.4h6.9M124.3 1072.1v2.6M131.2 1072.1v2.6M123.3 1083.4h7.0M123.3 1082.1v2.6M130.3 1082.1v2.6" stroke="#1414ee" stroke-width="0.9" fill="none"/>
<path d="M146.1 832.9a1.3 1.3 0 1 0 2.6 0a1.3 1.3 0 1 0 -2.6 0M146.1 842.9a1.3 1.3 0 1 0 2.6 0a1.3 1.3 0 1 0 -2.6 0M146.0 852.9a1.3 1.3 0 1 0 2.6 0a1.3 1.3 0 1 0 -2.6 0M146.0 863.0a1.3 1.3 0 1 0 2.6 0a1.3 1.3 0 1 0 -2.6 0M146.0 873.0a1.3 1.3 0 1 0 2.6 0a1.3 1.3 0 1 0 -2.6 0M145.9 883.0a1.3 1.3 0 1 0 2.6 0a1.3 1.3 0 1 0 -2.6 0M145.9 893.0a1.3 1.3 0 1 0 2.6 0a1.3 1.3 0 1 0 -2.6 0M144.9 903.0a1.3 1.3 0 1 0 2.6 0a1.3 1.3 0 1 0 -2.6 0M143.8 913.1a1.3 1.3 0 1 0 2.6 0a1.3 1.3 0 1 0 -2.6 0M142.8 923.1a1.3 1.3 0 1 0 2.6 0a1.3 1.3 0 1 0 -2.6 0M141.6 933.1a1.3 1.3 0 1 0 2.6 0a1.3 1.3 0 1 0 -2.6 0M140.4 943.1a1.3 1.3 0 1 0 2.6 0a1.3 1.3 0 1 0 -2.6 0M139.2 953.1a1.3 1.3 0 1 0 2.6 0a1.3 1.3 0 1 0 -2.6 0M138.1 963.2a1.3 1.3 0 1 0 2.6 0a1.3 1.3 0 1 0 -2.6 0M136.9 973.2a1.3 1.3 0 1 0 2.6 0a1.3 1.3 0 1 0 -2.6 0M135.7 983.2a1.3 1.3 0 1 0 2.6 0a1.3 1.3 0 1 0 -2.6 0M134.6 993.2a1.3 1.3 0 1 0 2.6 0a1.3 1.3 0 1 0 -2.6 0M133.6 1003.2a1.3 1.3 0 1 0 2.6 0a1.3 1.3 0 1 0 -2.6 0M132.5 1013.3a1.3 1.3 0 1 0 2.6 0a1.3 1.3 0 1 0 -2.6 0M131.5 1023.3a1.3 1.3 0 1 0 2.6 0a1.3 1.3 0 1 0 -2.6 0M130.4 1033.3a1.3 1.3 0 1 0 2.6 0a1.3 1.3 0 1 0 -2.6 0M129.4 1043.3a1.3 1.3 0 1 0 2.6 0a1.3 1.3 0 1 0 -2.6 0M128.4 1053.3a1.3 1.3 0 1 0 2.6 0a1.3 1.3 0 1 0 -2.6 0M127.5 1063.4a1.3 1.3 0 1 0 2.6 0a1.3 1.3 0 1 0 -2.6 0M126.5 1073.4a1.3 1.3 0 1 0 2.6 0a1.3 1.3 0 1 0 -2.6 0M125.5 1083.4a1.3 1.3 0 1 0 2.6 0a1.3 1.3 0 1 0 -2.6 0" fill="#1414ee"/>
<rect x="38.9" y="827.4" width="161.5" height="261.5" fill="none" stroke="#000" stroke-width="1.5"/>
<text x="123.5" y="823.6" font-size="14.3" font-weight="bold" fill="#b07cc6" text-anchor="middle" >Control</text>
<text x="36.4" y="836.5" font-size="10" font-weight="bold" fill="#000" text-anchor="end" >1</text>
<text x="36.4" y="876.6" font-size="10" font-weight="bold" fill="#000" text-anchor="end" >5</text>
<text x="36.4" y="926.7" font-size="10" font-weight="bold" fill="#000" text-anchor="end" >10</text>
<text x="36.4" y="976.8" font-size="10" font-weight="bold" fill="#000" text-anchor="end" >15</text>
<text x="36.4" y="1026.9" font-size="10" font-weight="bold" fill="#000" text-anchor="end" >20</text>
<text x="36.4" y="1077" font-size="10" font-weight="bold" fill="#000" text-anchor="end" >25</text>
<line x1="38.9" y1="1088.9" x2="38.9" y2="1090.7" stroke="#000" stroke-width="0.8"/>
<text x="38.9" y="1099.4" font-size="9" font-weight="bold" fill="#000" text-anchor="middle" >12</text>
<line x1="55" y1="1088.9" x2="55" y2="1090.7" stroke="#000" stroke-width="0.8"/>
<text x="55" y="1099.4" font-size="9" font-weight="bold" fill="#000" text-anchor="middle" >18</text>
<line x1="71.2" y1="1088.9" x2="71.2" y2="1090.7" stroke="#000" stroke-width="0.8"/>
<text x="71.2" y="1099.4" font-size="9" font-weight="bold" fill="#000" text-anchor="middle" >0</text>
<line x1="87.3" y1="1088.9" x2="87.3" y2="1090.7" stroke="#000" stroke-width="0.8"/>
<text x="87.3" y="1099.4" font-size="9" font-weight="bold" fill="#000" text-anchor="middle" >6</text>
<line x1="103.5" y1="1088.9" x2="103.5" y2="1090.7" stroke="#000" stroke-width="0.8"/>
<text x="103.5" y="1099.4" font-size="9" font-weight="bold" fill="#000" text-anchor="middle" >12</text>
<line x1="119.6" y1="1088.9" x2="119.6" y2="1090.7" stroke="#000" stroke-width="0.8"/>
<text x="119.6" y="1099.4" font-size="9" font-weight="bold" fill="#000" text-anchor="middle" >18</text>
<line x1="135.7" y1="1088.9" x2="135.7" y2="1090.7" stroke="#000" stroke-width="0.8"/>
<text x="135.7" y="1099.4" font-size="9" font-weight="bold" fill="#000" text-anchor="middle" >0</text>
<line x1="151.9" y1="1088.9" x2="151.9" y2="1090.7" stroke="#000" stroke-width="0.8"/>
<text x="151.9" y="1099.4" font-size="9" font-weight="bold" fill="#000" text-anchor="middle" >6</text>
<line x1="168" y1="1088.9" x2="168" y2="1090.7" stroke="#000" stroke-width="0.8"/>
<text x="168" y="1099.4" font-size="9" font-weight="bold" fill="#000" text-anchor="middle" >12</text>
<line x1="184.2" y1="1088.9" x2="184.2" y2="1090.7" stroke="#000" stroke-width="0.8"/>
<text x="184.2" y="1099.4" font-size="9" font-weight="bold" fill="#000" text-anchor="middle" >18</text>
<line x1="200.3" y1="1088.9" x2="200.3" y2="1090.7" stroke="#000" stroke-width="0.8"/>
<text x="200.3" y="1099.4" font-size="9" font-weight="bold" fill="#000" text-anchor="middle" >0</text>
<text x="122" y="1112.6" font-size="11.8" font-weight="bold" fill="#000" text-anchor="middle" >Zeitgeber Time (h)</text>
<rect x="220" y="827.4" width="161.5" height="261.5" fill="#d3d3d3"/>
<rect x="252.3" y="827.4" width="32.3" height="60.4" fill="#fff"/>
<rect x="316.8" y="827.4" width="32.3" height="50.2" fill="#fff"/>
<path d="M347.8 832.9 L347.8 842.9 L347.8 852.9 L347.8 863.0 L347.8 873.0 L347.8 883.0 L343.5 893.0 L338.6 903.0 L335.0 913.1 L331.8 923.1 L328.4 933.1 L324.6 943.1 L321.7 953.1 L319.2 963.2 L318.0 973.2 L316.3 983.2 L315.6 993.2 L313.2 1003.2 L309.6 1013.3 L309.1 1023.3 L308.4 1033.3 L308.4 1043.3 L308.4 1053.3 L308.4 1063.4 L308.4 1073.4 L308.4 1083.4" fill="none" stroke="#000000" stroke-width="1.1"/>
<path d="M346.3 832.9h3.0M346.3 831.6v2.6M349.3 831.6v2.6M346.3 842.9h3.0M346.3 841.6v2.6M349.3 841.6v2.6M346.3 852.9h3.0M346.3 851.6v2.6M349.3 851.6v2.6M346.3 863.0h3.0M346.3 861.7v2.6M349.3 861.7v2.6M346.3 873.0h3.0M346.3 871.7v2.6M349.3 871.7v2.6M346.3 883.0h3.0M346.3 881.7v2.6M349.3 881.7v2.6M342.0 893.0h3.0M342.0 891.7v2.6M345.0 891.7v2.6M337.1 903.0h3.0M337.1 901.7v2.6M340.1 901.7v2.6M333.5 913.1h3.0M333.5 911.8v2.6M336.5 911.8v2.6M330.3 923.1h3.0M330.3 921.8v2.6M333.3 921.8v2.6M326.9 933.1h3.0M326.9 931.8v2.6M329.9 931.8v2.6M323.1 943.1h3.0M323.1 941.8v2.6M326.1 941.8v2.6M320.2 953.1h3.0M320.2 951.8v2.6M323.2 951.8v2.6M317.7 963.2h3.0M317.7 961.9v2.6M320.7 961.9v2.6M316.0 973.2h4.0M316.0 971.9v2.6M320.0 971.9v2.6M313.8 983.2h5.0M313.8 981.9v2.6M318.8 981.9v2.6M312.6 993.2h6.0M312.6 991.9v2.6M318.6 991.9v2.6M309.7 1003.2h7.0M309.7 1001.9v2.6M316.7 1001.9v2.6M305.1 1013.3h9.0M305.1 1012.0v2.6M314.1 1012.0v2.6M303.6 1023.3h11.0M303.6 1022.0v2.6M314.6 1022.0v2.6M301.9 1033.3h13.0M301.9 1032.0v2.6M314.9 1032.0v2.6M300.9 1043.3h15.0M300.9 1042.0v2.6M315.9 1042.0v2.6M299.9 1053.3h17.0M299.9 1052.0v2.6M316.9 1052.0v2.6M299.4 1063.4h18.0M299.4 1062.1v2.6M317.4 1062.1v2.6M298.4 1073.4h20.0M298.4 1072.1v2.6M318.4 1072.1v2.6M297.4 1083.4h22.0M297.4 1082.1v2.6M319.4 1082.1v2.6" stroke="#000000" stroke-width="0.9" fill="none"/>
<path d="M346.5 832.9a1.3 1.3 0 1 0 2.6 0a1.3 1.3 0 1 0 -2.6 0M346.5 842.9a1.3 1.3 0 1 0 2.6 0a1.3 1.3 0 1 0 -2.6 0M346.5 852.9a1.3 1.3 0 1 0 2.6 0a1.3 1.3 0 1 0 -2.6 0M346.5 863.0a1.3 1.3 0 1 0 2.6 0a1.3 1.3 0 1 0 -2.6 0M346.5 873.0a1.3 1.3 0 1 0 2.6 0a1.3 1.3 0 1 0 -2.6 0M346.5 883.0a1.3 1.3 0 1 0 2.6 0a1.3 1.3 0 1 0 -2.6 0M342.2 893.0a1.3 1.3 0 1 0 2.6 0a1.3 1.3 0 1 0 -2.6 0M337.3 903.0a1.3 1.3 0 1 0 2.6 0a1.3 1.3 0 1 0 -2.6 0M333.7 913.1a1.3 1.3 0 1 0 2.6 0a1.3 1.3 0 1 0 -2.6 0M330.5 923.1a1.3 1.3 0 1 0 2.6 0a1.3 1.3 0 1 0 -2.6 0M327.1 933.1a1.3 1.3 0 1 0 2.6 0a1.3 1.3 0 1 0 -2.6 0M323.3 943.1a1.3 1.3 0 1 0 2.6 0a1.3 1.3 0 1 0 -2.6 0M320.4 953.1a1.3 1.3 0 1 0 2.6 0a1.3 1.3 0 1 0 -2.6 0M317.9 963.2a1.3 1.3 0 1 0 2.6 0a1.3 1.3 0 1 0 -2.6 0M316.7 973.2a1.3 1.3 0 1 0 2.6 0a1.3 1.3 0 1 0 -2.6 0M315.0 983.2a1.3 1.3 0 1 0 2.6 0a1.3 1.3 0 1 0 -2.6 0M314.3 993.2a1.3 1.3 0 1 0 2.6 0a1.3 1.3 0 1 0 -2.6 0M311.9 1003.2a1.3 1.3 0 1 0 2.6 0a1.3 1.3 0 1 0 -2.6 0M308.3 1013.3a1.3 1.3 0 1 0 2.6 0a1.3 1.3 0 1 0 -2.6 0M307.8 1023.3a1.3 1.3 0 1 0 2.6 0a1.3 1.3 0 1 0 -2.6 0M307.1 1033.3a1.3 1.3 0 1 0 2.6 0a1.3 1.3 0 1 0 -2.6 0M307.1 1043.3a1.3 1.3 0 1 0 2.6 0a1.3 1.3 0 1 0 -2.6 0M307.1 1053.3a1.3 1.3 0 1 0 2.6 0a1.3 1.3 0 1 0 -2.6 0M307.1 1063.4a1.3 1.3 0 1 0 2.6 0a1.3 1.3 0 1 0 -2.6 0M307.1 1073.4a1.3 1.3 0 1 0 2.6 0a1.3 1.3 0 1 0 -2.6 0M307.1 1083.4a1.3 1.3 0 1 0 2.6 0a1.3 1.3 0 1 0 -2.6 0" fill="#000000"/>
<path d="M347.0 832.9 L346.4 842.9 L347.2 852.9 L346.8 863.0 L347.5 873.0 L347.8 883.0 L344.7 893.0 L338.6 903.0 L335.7 913.1 L332.6 923.1 L328.9 933.1 L326.5 943.1 L323.6 953.1 L321.2 963.2" fill="none" stroke="#f7a0a0" stroke-width="1.1"/>
<path d="M345.5 832.9h3.0M345.5 831.6v2.6M348.5 831.6v2.6M344.9 842.9h3.0M344.9 841.6v2.6M347.9 841.6v2.6M345.7 852.9h3.0M345.7 851.6v2.6M348.7 851.6v2.6M345.3 863.0h3.0M345.3 861.7v2.6M348.3 861.7v2.6M346.0 873.0h3.0M346.0 871.7v2.6M349.0 871.7v2.6M346.3 883.0h3.0M346.3 881.7v2.6M349.3 881.7v2.6M343.2 893.0h3.0M343.2 891.7v2.6M346.2 891.7v2.6M337.1 903.0h3.0M337.1 901.7v2.6M340.1 901.7v2.6M334.2 913.1h3.0M334.2 911.8v2.6M337.2 911.8v2.6M331.1 923.1h3.0M331.1 921.8v2.6M334.1 921.8v2.6M327.4 933.1h3.0M327.4 931.8v2.6M330.4 931.8v2.6M325.0 943.1h3.0M325.0 941.8v2.6M328.0 941.8v2.6M322.1 953.1h3.0M322.1 951.8v2.6M325.1 951.8v2.6M319.7 963.2h3.0M319.7 961.9v2.6M322.7 961.9v2.6" stroke="#f7a0a0" stroke-width="0.9" fill="none"/>
<path d="M345.7 832.9a1.3 1.3 0 1 0 2.6 0a1.3 1.3 0 1 0 -2.6 0M345.1 842.9a1.3 1.3 0 1 0 2.6 0a1.3 1.3 0 1 0 -2.6 0M345.9 852.9a1.3 1.3 0 1 0 2.6 0a1.3 1.3 0 1 0 -2.6 0M345.5 863.0a1.3 1.3 0 1 0 2.6 0a1.3 1.3 0 1 0 -2.6 0M346.2 873.0a1.3 1.3 0 1 0 2.6 0a1.3 1.3 0 1 0 -2.6 0M346.5 883.0a1.3 1.3 0 1 0 2.6 0a1.3 1.3 0 1 0 -2.6 0M343.4 893.0a1.3 1.3 0 1 0 2.6 0a1.3 1.3 0 1 0 -2.6 0M337.3 903.0a1.3 1.3 0 1 0 2.6 0a1.3 1.3 0 1 0 -2.6 0M334.4 913.1a1.3 1.3 0 1 0 2.6 0a1.3 1.3 0 1 0 -2.6 0M331.3 923.1a1.3 1.3 0 1 0 2.6 0a1.3 1.3 0 1 0 -2.6 0M327.6 933.1a1.3 1.3 0 1 0 2.6 0a1.3 1.3 0 1 0 -2.6 0M325.2 943.1a1.3 1.3 0 1 0 2.6 0a1.3 1.3 0 1 0 -2.6 0M322.3 953.1a1.3 1.3 0 1 0 2.6 0a1.3 1.3 0 1 0 -2.6 0M319.9 963.2a1.3 1.3 0 1 0 2.6 0a1.3 1.3 0 1 0 -2.6 0" fill="#f7a0a0"/>
<path d="M330.1 832.9 L330.1 842.9 L330.1 852.9 L330.1 863.0 L330.1 873.0 L331.4 883.0 L330.1 893.0 L326.5 903.0 L322.9 913.1 L318.0 923.1 L314.9 933.1 L312.5 943.1 L310.8 953.1 L307.6 963.2" fill="none" stroke="#f2f200" stroke-width="1.1"/>
<path d="M328.3 832.9h3.6M328.3 831.6v2.6M331.9 831.6v2.6M328.3 842.9h3.6M328.3 841.6v2.6M331.9 841.6v2.6M328.3 852.9h3.6M328.3 851.6v2.6M331.9 851.6v2.6M328.3 863.0h3.6M328.3 861.7v2.6M331.9 861.7v2.6M328.3 873.0h3.6M328.3 871.7v2.6M331.9 871.7v2.6M329.6 883.0h3.6M329.6 881.7v2.6M333.2 881.7v2.6M328.3 893.0h3.6M328.3 891.7v2.6M331.9 891.7v2.6M324.7 903.0h3.6M324.7 901.7v2.6M328.3 901.7v2.6M321.1 913.1h3.6M321.1 911.8v2.6M324.7 911.8v2.6M316.2 923.1h3.6M316.2 921.8v2.6M319.8 921.8v2.6M313.1 933.1h3.6M313.1 931.8v2.6M316.7 931.8v2.6M310.7 943.1h3.6M310.7 941.8v2.6M314.3 941.8v2.6M309.0 953.1h3.6M309.0 951.8v2.6M312.6 951.8v2.6M305.8 963.2h3.6M305.8 961.9v2.6M309.4 961.9v2.6" stroke="#f2f200" stroke-width="0.9" fill="none"/>
<path d="M328.8 832.9a1.3 1.3 0 1 0 2.6 0a1.3 1.3 0 1 0 -2.6 0M328.8 842.9a1.3 1.3 0 1 0 2.6 0a1.3 1.3 0 1 0 -2.6 0M328.8 852.9a1.3 1.3 0 1 0 2.6 0a1.3 1.3 0 1 0 -2.6 0M328.8 863.0a1.3 1.3 0 1 0 2.6 0a1.3 1.3 0 1 0 -2.6 0M328.8 873.0a1.3 1.3 0 1 0 2.6 0a1.3 1.3 0 1 0 -2.6 0M330.1 883.0a1.3 1.3 0 1 0 2.6 0a1.3 1.3 0 1 0 -2.6 0M328.8 893.0a1.3 1.3 0 1 0 2.6 0a1.3 1.3 0 1 0 -2.6 0M325.2 903.0a1.3 1.3 0 1 0 2.6 0a1.3 1.3 0 1 0 -2.6 0M321.6 913.1a1.3 1.3 0 1 0 2.6 0a1.3 1.3 0 1 0 -2.6 0M316.7 923.1a1.3 1.3 0 1 0 2.6 0a1.3 1.3 0 1 0 -2.6 0M313.6 933.1a1.3 1.3 0 1 0 2.6 0a1.3 1.3 0 1 0 -2.6 0M311.2 943.1a1.3 1.3 0 1 0 2.6 0a1.3 1.3 0 1 0 -2.6 0M309.5 953.1a1.3 1.3 0 1 0 2.6 0a1.3 1.3 0 1 0 -2.6 0M306.3 963.2a1.3 1.3 0 1 0 2.6 0a1.3 1.3 0 1 0 -2.6 0" fill="#f2f200"/>
<path d="M326.5 832.9 L326.5 842.9 L326.5 852.9 L326.5 863.0 L330.1 873.0 L331.4 883.0 L330.1 893.0 L327.7 903.0 L324.1 913.1 L319.2 923.1 L316.3 933.1 L313.2 943.1 L309.6 953.1 L305.2 963.2 L301.1 973.2 L298.0 983.2 L293.8 993.2 L290.2 1003.2 L285.8 1013.3 L282.5 1023.3 L278.1 1033.3 L274.5 1043.3 L270.4 1053.3 L266.5 1063.4 L264.3 1073.4 L263.6 1083.4" fill="none" stroke="#5ae8b4" stroke-width="1.1"/>
<path d="M324.5 832.9h4.0M324.5 831.6v2.6M328.5 831.6v2.6M324.5 842.9h4.0M324.5 841.6v2.6M328.5 841.6v2.6M324.5 852.9h4.0M324.5 851.6v2.6M328.5 851.6v2.6M324.5 863.0h4.0M324.5 861.7v2.6M328.5 861.7v2.6M328.1 873.0h4.0M328.1 871.7v2.6M332.1 871.7v2.6M329.4 883.0h4.0M329.4 881.7v2.6M333.4 881.7v2.6M328.1 893.0h4.0M328.1 891.7v2.6M332.1 891.7v2.6M325.7 903.0h4.0M325.7 901.7v2.6M329.7 901.7v2.6M322.1 913.1h4.0M322.1 911.8v2.6M326.1 911.8v2.6M317.2 923.1h4.0M317.2 921.8v2.6M321.2 921.8v2.6M314.1 933.1h4.4M314.1 931.8v2.6M318.5 931.8v2.6M310.7 943.1h5.0M310.7 941.8v2.6M315.7 941.8v2.6M306.8 953.1h5.6M306.8 951.8v2.6M312.4 951.8v2.6M302.1 963.2h6.2M302.1 961.9v2.6M308.3 961.9v2.6M297.7 973.2h6.8M297.7 971.9v2.6M304.5 971.9v2.6M294.3 983.2h7.4M294.3 981.9v2.6M301.7 981.9v2.6M289.8 993.2h8.0M289.8 991.9v2.6M297.8 991.9v2.6M285.9 1003.2h8.6M285.9 1001.9v2.6M294.5 1001.9v2.6M281.2 1013.3h9.2M281.2 1012.0v2.6M290.4 1012.0v2.6M277.6 1023.3h9.8M277.6 1022.0v2.6M287.4 1022.0v2.6M272.9 1033.3h10.4M272.9 1032.0v2.6M283.3 1032.0v2.6M269.0 1043.3h11.0M269.0 1042.0v2.6M280.0 1042.0v2.6M264.6 1053.3h11.6M264.6 1052.0v2.6M276.2 1052.0v2.6M260.4 1063.4h12.2M260.4 1062.1v2.6M272.6 1062.1v2.6M257.9 1073.4h12.8M257.9 1072.1v2.6M270.7 1072.1v2.6M256.9 1083.4h13.4M256.9 1082.1v2.6M270.3 1082.1v2.6" stroke="#5ae8b4" stroke-width="0.9" fill="none"/>
<path d="M325.2 832.9a1.3 1.3 0 1 0 2.6 0a1.3 1.3 0 1 0 -2.6 0M325.2 842.9a1.3 1.3 0 1 0 2.6 0a1.3 1.3 0 1 0 -2.6 0M325.2 852.9a1.3 1.3 0 1 0 2.6 0a1.3 1.3 0 1 0 -2.6 0M325.2 863.0a1.3 1.3 0 1 0 2.6 0a1.3 1.3 0 1 0 -2.6 0M328.8 873.0a1.3 1.3 0 1 0 2.6 0a1.3 1.3 0 1 0 -2.6 0M330.1 883.0a1.3 1.3 0 1 0 2.6 0a1.3 1.3 0 1 0 -2.6 0M328.8 893.0a1.3 1.3 0 1 0 2.6 0a1.3 1.3 0 1 0 -2.6 0M326.4 903.0a1.3 1.3 0 1 0 2.6 0a1.3 1.3 0 1 0 -2.6 0M322.8 913.1a1.3 1.3 0 1 0 2.6 0a1.3 1.3 0 1 0 -2.6 0M317.9 923.1a1.3 1.3 0 1 0 2.6 0a1.3 1.3 0 1 0 -2.6 0M315.0 933.1a1.3 1.3 0 1 0 2.6 0a1.3 1.3 0 1 0 -2.6 0M311.9 943.1a1.3 1.3 0 1 0 2.6 0a1.3 1.3 0 1 0 -2.6 0M308.3 953.1a1.3 1.3 0 1 0 2.6 0a1.3 1.3 0 1 0 -2.6 0M303.9 963.2a1.3 1.3 0 1 0 2.6 0a1.3 1.3 0 1 0 -2.6 0M299.8 973.2a1.3 1.3 0 1 0 2.6 0a1.3 1.3 0 1 0 -2.6 0M296.7 983.2a1.3 1.3 0 1 0 2.6 0a1.3 1.3 0 1 0 -2.6 0M292.5 993.2a1.3 1.3 0 1 0 2.6 0a1.3 1.3 0 1 0 -2.6 0M288.9 1003.2a1.3 1.3 0 1 0 2.6 0a1.3 1.3 0 1 0 -2.6 0M284.5 1013.3a1.3 1.3 0 1 0 2.6 0a1.3 1.3 0 1 0 -2.6 0M281.2 1023.3a1.3 1.3 0 1 0 2.6 0a1.3 1.3 0 1 0 -2.6 0M276.8 1033.3a1.3 1.3 0 1 0 2.6 0a1.3 1.3 0 1 0 -2.6 0M273.2 1043.3a1.3 1.3 0 1 0 2.6 0a1.3 1.3 0 1 0 -2.6 0M269.1 1053.3a1.3 1.3 0 1 0 2.6 0a1.3 1.3 0 1 0 -2.6 0M265.2 1063.4a1.3 1.3 0 1 0 2.6 0a1.3 1.3 0 1 0 -2.6 0M263.0 1073.4a1.3 1.3 0 1 0 2.6 0a1.3 1.3 0 1 0 -2.6 0M262.3 1083.4a1.3 1.3 0 1 0 2.6 0a1.3 1.3 0 1 0 -2.6 0" fill="#5ae8b4"/>
<path d="M314.4 832.9 L314.4 842.9 L314.4 852.9 L314.4 863.0 L314.4 873.0 L314.4 883.0 L314.4 893.0 L314.4 903.0 L310.8 913.1 L307.1 923.1 L304.2 933.1 L301.8 943.1 L298.7 953.1 L294.6 963.2" fill="none" stroke="#f01ef0" stroke-width="1.1"/>
<path d="M312.9 832.9h3.0M312.9 831.6v2.6M315.9 831.6v2.6M312.9 842.9h3.0M312.9 841.6v2.6M315.9 841.6v2.6M312.9 852.9h3.0M312.9 851.6v2.6M315.9 851.6v2.6M312.9 863.0h3.0M312.9 861.7v2.6M315.9 861.7v2.6M312.9 873.0h3.0M312.9 871.7v2.6M315.9 871.7v2.6M312.9 883.0h3.0M312.9 881.7v2.6M315.9 881.7v2.6M312.9 893.0h3.0M312.9 891.7v2.6M315.9 891.7v2.6M312.9 903.0h3.0M312.9 901.7v2.6M315.9 901.7v2.6M309.3 913.1h3.0M309.3 911.8v2.6M312.3 911.8v2.6M305.6 923.1h3.0M305.6 921.8v2.6M308.6 921.8v2.6M302.7 933.1h3.0M302.7 931.8v2.6M305.7 931.8v2.6M300.3 943.1h3.0M300.3 941.8v2.6M303.3 941.8v2.6M297.2 953.1h3.0M297.2 951.8v2.6M300.2 951.8v2.6M293.1 963.2h3.0M293.1 961.9v2.6M296.1 961.9v2.6" stroke="#f01ef0" stroke-width="0.9" fill="none"/>
<path d="M313.1 832.9a1.3 1.3 0 1 0 2.6 0a1.3 1.3 0 1 0 -2.6 0M313.1 842.9a1.3 1.3 0 1 0 2.6 0a1.3 1.3 0 1 0 -2.6 0M313.1 852.9a1.3 1.3 0 1 0 2.6 0a1.3 1.3 0 1 0 -2.6 0M313.1 863.0a1.3 1.3 0 1 0 2.6 0a1.3 1.3 0 1 0 -2.6 0M313.1 873.0a1.3 1.3 0 1 0 2.6 0a1.3 1.3 0 1 0 -2.6 0M313.1 883.0a1.3 1.3 0 1 0 2.6 0a1.3 1.3 0 1 0 -2.6 0M313.1 893.0a1.3 1.3 0 1 0 2.6 0a1.3 1.3 0 1 0 -2.6 0M313.1 903.0a1.3 1.3 0 1 0 2.6 0a1.3 1.3 0 1 0 -2.6 0M309.5 913.1a1.3 1.3 0 1 0 2.6 0a1.3 1.3 0 1 0 -2.6 0M305.8 923.1a1.3 1.3 0 1 0 2.6 0a1.3 1.3 0 1 0 -2.6 0M302.9 933.1a1.3 1.3 0 1 0 2.6 0a1.3 1.3 0 1 0 -2.6 0M300.5 943.1a1.3 1.3 0 1 0 2.6 0a1.3 1.3 0 1 0 -2.6 0M297.4 953.1a1.3 1.3 0 1 0 2.6 0a1.3 1.3 0 1 0 -2.6 0M293.3 963.2a1.3 1.3 0 1 0 2.6 0a1.3 1.3 0 1 0 -2.6 0" fill="#f01ef0"/>
<path d="M309.1 832.9 L309.1 842.9 L309.1 852.9 L309.1 863.0 L311.5 873.0 L313.2 883.0 L315.1 893.0 L312.0 903.0 L308.4 913.1 L304.7 923.1 L302.3 933.1 L299.4 943.1 L295.0 953.1 L292.1 963.2 L288.3 973.2 L284.1 983.2 L280.5 993.2 L276.4 1003.2 L272.8 1013.3 L268.4 1023.3 L264.1 1033.3 L259.9 1043.3 L255.8 1053.3 L251.5 1063.4 L249.0 1073.4 L247.8 1083.4" fill="none" stroke="#1414ee" stroke-width="1.1"/>
<path d="M307.1 832.9h4.0M307.1 831.6v2.6M311.1 831.6v2.6M307.1 842.9h4.0M307.1 841.6v2.6M311.1 841.6v2.6M307.1 852.9h4.0M307.1 851.6v2.6M311.1 851.6v2.6M307.1 863.0h4.0M307.1 861.7v2.6M311.1 861.7v2.6M309.5 873.0h4.0M309.5 871.7v2.6M313.5 871.7v2.6M311.2 883.0h4.0M311.2 881.7v2.6M315.2 881.7v2.6M313.1 893.0h4.0M313.1 891.7v2.6M317.1 891.7v2.6M310.0 903.0h4.0M310.0 901.7v2.6M314.0 901.7v2.6M306.4 913.1h4.0M306.4 911.8v2.6M310.4 911.8v2.6M302.7 923.1h4.0M302.7 921.8v2.6M306.7 921.8v2.6M300.1 933.1h4.4M300.1 931.8v2.6M304.5 931.8v2.6M296.9 943.1h5.0M296.9 941.8v2.6M301.9 941.8v2.6M292.2 953.1h5.6M292.2 951.8v2.6M297.8 951.8v2.6M289.0 963.2h6.2M289.0 961.9v2.6M295.2 961.9v2.6M284.9 973.2h6.8M284.9 971.9v2.6M291.7 971.9v2.6M280.4 983.2h7.4M280.4 981.9v2.6M287.8 981.9v2.6M276.5 993.2h8.0M276.5 991.9v2.6M284.5 991.9v2.6M272.1 1003.2h8.6M272.1 1001.9v2.6M280.7 1001.9v2.6M268.2 1013.3h9.2M268.2 1012.0v2.6M277.4 1012.0v2.6M263.5 1023.3h9.8M263.5 1022.0v2.6M273.3 1022.0v2.6M258.9 1033.3h10.4M258.9 1032.0v2.6M269.3 1032.0v2.6M254.4 1043.3h11.0M254.4 1042.0v2.6M265.4 1042.0v2.6M250.0 1053.3h11.6M250.0 1052.0v2.6M261.6 1052.0v2.6M245.4 1063.4h12.2M245.4 1062.1v2.6M257.6 1062.1v2.6M242.6 1073.4h12.8M242.6 1072.1v2.6M255.4 1072.1v2.6M241.1 1083.4h13.4M241.1 1082.1v2.6M254.5 1082.1v2.6" stroke="#1414ee" stroke-width="0.9" fill="none"/>
<path d="M307.8 832.9a1.3 1.3 0 1 0 2.6 0a1.3 1.3 0 1 0 -2.6 0M307.8 842.9a1.3 1.3 0 1 0 2.6 0a1.3 1.3 0 1 0 -2.6 0M307.8 852.9a1.3 1.3 0 1 0 2.6 0a1.3 1.3 0 1 0 -2.6 0M307.8 863.0a1.3 1.3 0 1 0 2.6 0a1.3 1.3 0 1 0 -2.6 0M310.2 873.0a1.3 1.3 0 1 0 2.6 0a1.3 1.3 0 1 0 -2.6 0M311.9 883.0a1.3 1.3 0 1 0 2.6 0a1.3 1.3 0 1 0 -2.6 0M313.8 893.0a1.3 1.3 0 1 0 2.6 0a1.3 1.3 0 1 0 -2.6 0M310.7 903.0a1.3 1.3 0 1 0 2.6 0a1.3 1.3 0 1 0 -2.6 0M307.1 913.1a1.3 1.3 0 1 0 2.6 0a1.3 1.3 0 1 0 -2.6 0M303.4 923.1a1.3 1.3 0 1 0 2.6 0a1.3 1.3 0 1 0 -2.6 0M301.0 933.1a1.3 1.3 0 1 0 2.6 0a1.3 1.3 0 1 0 -2.6 0M298.1 943.1a1.3 1.3 0 1 0 2.6 0a1.3 1.3 0 1 0 -2.6 0M293.7 953.1a1.3 1.3 0 1 0 2.6 0a1.3 1.3 0 1 0 -2.6 0M290.8 963.2a1.3 1.3 0 1 0 2.6 0a1.3 1.3 0 1 0 -2.6 0M287.0 973.2a1.3 1.3 0 1 0 2.6 0a1.3 1.3 0 1 0 -2.6 0M282.8 983.2a1.3 1.3 0 1 0 2.6 0a1.3 1.3 0 1 0 -2.6 0M279.2 993.2a1.3 1.3 0 1 0 2.6 0a1.3 1.3 0 1 0 -2.6 0M275.1 1003.2a1.3 1.3 0 1 0 2.6 0a1.3 1.3 0 1 0 -2.6 0M271.5 1013.3a1.3 1.3 0 1 0 2.6 0a1.3 1.3 0 1 0 -2.6 0M267.1 1023.3a1.3 1.3 0 1 0 2.6 0a1.3 1.3 0 1 0 -2.6 0M262.8 1033.3a1.3 1.3 0 1 0 2.6 0a1.3 1.3 0 1 0 -2.6 0M258.6 1043.3a1.3 1.3 0 1 0 2.6 0a1.3 1.3 0 1 0 -2.6 0M254.5 1053.3a1.3 1.3 0 1 0 2.6 0a1.3 1.3 0 1 0 -2.6 0M250.2 1063.4a1.3 1.3 0 1 0 2.6 0a1.3 1.3 0 1 0 -2.6 0M247.7 1073.4a1.3 1.3 0 1 0 2.6 0a1.3 1.3 0 1 0 -2.6 0M246.5 1083.4a1.3 1.3 0 1 0 2.6 0a1.3 1.3 0 1 0 -2.6 0" fill="#1414ee"/>
<path d="M290.2 832.9 L290.2 842.9 L290.2 852.9 L290.2 863.0 L293.8 873.0 L295.0 883.0 L298.0 893.0 L296.3 903.0 L293.3 913.1 L290.7 923.1 L287.3 933.1 L284.1 943.1 L280.5 953.1 L277.6 963.2 L274.5 973.2 L270.4 983.2 L266.0 993.2 L261.9 1003.2 L258.2 1013.3 L253.9 1023.3 L249.8 1033.3 L246.1 1043.3 L241.8 1053.3 L236.9 1063.4 L235.0 1073.4 L232.6 1083.4" fill="none" stroke="#22b422" stroke-width="1.1"/>
<path d="M288.2 832.9h4.0M288.2 831.6v2.6M292.2 831.6v2.6M288.2 842.9h4.0M288.2 841.6v2.6M292.2 841.6v2.6M288.2 852.9h4.0M288.2 851.6v2.6M292.2 851.6v2.6M288.2 863.0h4.0M288.2 861.7v2.6M292.2 861.7v2.6M291.8 873.0h4.0M291.8 871.7v2.6M295.8 871.7v2.6M293.0 883.0h4.0M293.0 881.7v2.6M297.0 881.7v2.6M296.0 893.0h4.0M296.0 891.7v2.6M300.0 891.7v2.6M294.3 903.0h4.0M294.3 901.7v2.6M298.3 901.7v2.6M291.3 913.1h4.0M291.3 911.8v2.6M295.3 911.8v2.6M288.7 923.1h4.0M288.7 921.8v2.6M292.7 921.8v2.6M285.1 933.1h4.4M285.1 931.8v2.6M289.5 931.8v2.6M281.7 943.1h4.9M281.7 941.8v2.6M286.6 941.8v2.6M277.8 953.1h5.4M277.8 951.8v2.6M283.2 951.8v2.6M274.7 963.2h5.9M274.7 961.9v2.6M280.6 961.9v2.6M271.3 973.2h6.4M271.3 971.9v2.6M277.7 971.9v2.6M266.9 983.2h6.9M266.9 981.9v2.6M273.8 981.9v2.6M262.3 993.2h7.4M262.3 991.9v2.6M269.7 991.9v2.6M257.9 1003.2h7.9M257.9 1001.9v2.6M265.8 1001.9v2.6M254.0 1013.3h8.4M254.0 1012.0v2.6M262.4 1012.0v2.6M249.5 1023.3h8.9M249.5 1022.0v2.6M258.4 1022.0v2.6M245.1 1033.3h9.4M245.1 1032.0v2.6M254.5 1032.0v2.6M241.2 1043.3h9.9M241.2 1042.0v2.6M251.0 1042.0v2.6M236.6 1053.3h10.4M236.6 1052.0v2.6M247.0 1052.0v2.6M231.5 1063.4h10.9M231.5 1062.1v2.6M242.3 1062.1v2.6M229.3 1073.4h11.4M229.3 1072.1v2.6M240.7 1072.1v2.6M226.7 1083.4h11.9M226.7 1082.1v2.6M238.5 1082.1v2.6" stroke="#22b422" stroke-width="0.9" fill="none"/>
<path d="M288.9 832.9a1.3 1.3 0 1 0 2.6 0a1.3 1.3 0 1 0 -2.6 0M288.9 842.9a1.3 1.3 0 1 0 2.6 0a1.3 1.3 0 1 0 -2.6 0M288.9 852.9a1.3 1.3 0 1 0 2.6 0a1.3 1.3 0 1 0 -2.6 0M288.9 863.0a1.3 1.3 0 1 0 2.6 0a1.3 1.3 0 1 0 -2.6 0M292.5 873.0a1.3 1.3 0 1 0 2.6 0a1.3 1.3 0 1 0 -2.6 0M293.7 883.0a1.3 1.3 0 1 0 2.6 0a1.3 1.3 0 1 0 -2.6 0M296.7 893.0a1.3 1.3 0 1 0 2.6 0a1.3 1.3 0 1 0 -2.6 0M295.0 903.0a1.3 1.3 0 1 0 2.6 0a1.3 1.3 0 1 0 -2.6 0M292.0 913.1a1.3 1.3 0 1 0 2.6 0a1.3 1.3 0 1 0 -2.6 0M289.4 923.1a1.3 1.3 0 1 0 2.6 0a1.3 1.3 0 1 0 -2.6 0M286.0 933.1a1.3 1.3 0 1 0 2.6 0a1.3 1.3 0 1 0 -2.6 0M282.8 943.1a1.3 1.3 0 1 0 2.6 0a1.3 1.3 0 1 0 -2.6 0M279.2 953.1a1.3 1.3 0 1 0 2.6 0a1.3 1.3 0 1 0 -2.6 0M276.3 963.2a1.3 1.3 0 1 0 2.6 0a1.3 1.3 0 1 0 -2.6 0M273.2 973.2a1.3 1.3 0 1 0 2.6 0a1.3 1.3 0 1 0 -2.6 0M269.1 983.2a1.3 1.3 0 1 0 2.6 0a1.3 1.3 0 1 0 -2.6 0M264.7 993.2a1.3 1.3 0 1 0 2.6 0a1.3 1.3 0 1 0 -2.6 0M260.6 1003.2a1.3 1.3 0 1 0 2.6 0a1.3 1.3 0 1 0 -2.6 0M256.9 1013.3a1.3 1.3 0 1 0 2.6 0a1.3 1.3 0 1 0 -2.6 0M252.6 1023.3a1.3 1.3 0 1 0 2.6 0a1.3 1.3 0 1 0 -2.6 0M248.5 1033.3a1.3 1.3 0 1 0 2.6 0a1.3 1.3 0 1 0 -2.6 0M244.8 1043.3a1.3 1.3 0 1 0 2.6 0a1.3 1.3 0 1 0 -2.6 0M240.5 1053.3a1.3 1.3 0 1 0 2.6 0a1.3 1.3 0 1 0 -2.6 0M235.6 1063.4a1.3 1.3 0 1 0 2.6 0a1.3 1.3 0 1 0 -2.6 0M233.7 1073.4a1.3 1.3 0 1 0 2.6 0a1.3 1.3 0 1 0 -2.6 0M231.3 1083.4a1.3 1.3 0 1 0 2.6 0a1.3 1.3 0 1 0 -2.6 0" fill="#22b422"/>
<rect x="220" y="827.4" width="161.5" height="261.5" fill="none" stroke="#000" stroke-width="1.5"/>
<text x="304.6" y="823.6" font-size="14.3" font-weight="bold" fill="#f7931e" text-anchor="middle" >VIP-deficient</text>
<text x="217.5" y="836.5" font-size="10" font-weight="bold" fill="#000" text-anchor="end" >1</text>
<text x="217.5" y="876.6" font-size="10" font-weight="bold" fill="#000" text-anchor="end" >5</text>
<text x="217.5" y="926.7" font-size="10" font-weight="bold" fill="#000" text-anchor="end" >10</text>
<text x="217.5" y="976.8" font-size="10" font-weight="bold" fill="#000" text-anchor="end" >15</text>
<text x="217.5" y="1026.9" font-size="10" font-weight="bold" fill="#000" text-anchor="end" >20</text>
<text x="217.5" y="1077" font-size="10" font-weight="bold" fill="#000" text-anchor="end" >25</text>
<line x1="220" y1="1088.9" x2="220" y2="1090.7" stroke="#000" stroke-width="0.8"/>
<text x="220" y="1099.4" font-size="9" font-weight="bold" fill="#000" text-anchor="middle" >12</text>
<line x1="236.1" y1="1088.9" x2="236.1" y2="1090.7" stroke="#000" stroke-width="0.8"/>
<text x="236.1" y="1099.4" font-size="9" font-weight="bold" fill="#000" text-anchor="middle" >18</text>
<line x1="252.3" y1="1088.9" x2="252.3" y2="1090.7" stroke="#000" stroke-width="0.8"/>
<text x="252.3" y="1099.4" font-size="9" font-weight="bold" fill="#000" text-anchor="middle" >0</text>
<line x1="268.4" y1="1088.9" x2="268.4" y2="1090.7" stroke="#000" stroke-width="0.8"/>
<text x="268.4" y="1099.4" font-size="9" font-weight="bold" fill="#000" text-anchor="middle" >6</text>
<line x1="284.6" y1="1088.9" x2="284.6" y2="1090.7" stroke="#000" stroke-width="0.8"/>
<text x="284.6" y="1099.4" font-size="9" font-weight="bold" fill="#000" text-anchor="middle" >12</text>
<line x1="300.7" y1="1088.9" x2="300.7" y2="1090.7" stroke="#000" stroke-width="0.8"/>
<text x="300.7" y="1099.4" font-size="9" font-weight="bold" fill="#000" text-anchor="middle" >18</text>
<line x1="316.8" y1="1088.9" x2="316.8" y2="1090.7" stroke="#000" stroke-width="0.8"/>
<text x="316.8" y="1099.4" font-size="9" font-weight="bold" fill="#000" text-anchor="middle" >0</text>
<line x1="333" y1="1088.9" x2="333" y2="1090.7" stroke="#000" stroke-width="0.8"/>
<text x="333" y="1099.4" font-size="9" font-weight="bold" fill="#000" text-anchor="middle" >6</text>
<line x1="349.1" y1="1088.9" x2="349.1" y2="1090.7" stroke="#000" stroke-width="0.8"/>
<text x="349.1" y="1099.4" font-size="9" font-weight="bold" fill="#000" text-anchor="middle" >12</text>
<line x1="365.3" y1="1088.9" x2="365.3" y2="1090.7" stroke="#000" stroke-width="0.8"/>
<text x="365.3" y="1099.4" font-size="9" font-weight="bold" fill="#000" text-anchor="middle" >18</text>
<line x1="381.4" y1="1088.9" x2="381.4" y2="1090.7" stroke="#000" stroke-width="0.8"/>
<text x="381.4" y="1099.4" font-size="9" font-weight="bold" fill="#000" text-anchor="middle" >0</text>
<text x="299.1" y="1112.6" font-size="11.8" font-weight="bold" fill="#000" text-anchor="middle" >Zeitgeber Time (h)</text>
<rect x="450.7" y="826.6" width="4" height="124.4" fill="#d3d3d3"/>
<rect x="459.1" y="826.6" width="4" height="124.4" fill="#d3d3d3"/>
<rect x="467.9" y="826.6" width="3.9" height="124.4" fill="#d3d3d3"/>
<rect x="476.2" y="826.6" width="3.9" height="124.4" fill="#d3d3d3"/>
<rect x="485.0" y="826.6" width="3.9" height="124.4" fill="#d3d3d3"/>
<rect x="493.2" y="826.6" width="165.1" height="124.4" fill="#d3d3d3"/>
<path d="M452.2 875.1 L460.6 881.3 L469.4 880.1 L477.7 877.6 L486.2 877.6" fill="none" stroke="#222" stroke-width="0.8"/>
<path d="M452.2 878.1V872.1M451.0 878.1h2.4M451.0 872.1h2.4M460.6 884.3V878.4M459.4 884.3h2.4M459.4 878.4h2.4M469.4 883.1V877.1M468.2 883.1h2.4M468.2 877.1h2.4M477.7 880.6V874.6M476.5 880.6h2.4M476.5 874.6h2.4M486.2 880.6V874.6M485.0 880.6h2.4M485.0 874.6h2.4" stroke="#222" stroke-width="0.7" fill="none"/>
<path d="M451.0 875.1a1.2 1.2 0 1 0 2.4 0a1.2 1.2 0 1 0 -2.4 0M459.4 881.3a1.2 1.2 0 1 0 2.4 0a1.2 1.2 0 1 0 -2.4 0M468.2 880.1a1.2 1.2 0 1 0 2.4 0a1.2 1.2 0 1 0 -2.4 0M476.5 877.6a1.2 1.2 0 1 0 2.4 0a1.2 1.2 0 1 0 -2.4 0M485.0 877.6a1.2 1.2 0 1 0 2.4 0a1.2 1.2 0 1 0 -2.4 0" fill="#222"/>
<path d="M501.6 890.5 L510.1 881.8 L518.6 882.6 L527.1 887.6 L535.6 883.3 L544.1 886.8 L552.6 883.3 L561.1 892.5 L569.6 875.4 L578.1 891.0 L586.6 879.8 L595.1 889.0 L603.6 883.3 L612.1 885.6 L620.6 883.3 L629.1 890.5 L637.6 884.8 L646.1 886.3 L654.6 886.3" fill="none" stroke="#222" stroke-width="0.8"/>
<path d="M501.6 893.5V887.6M500.4 893.5h2.4M500.4 887.6h2.4M510.1 885.6V878.1M508.9 885.6h2.4M508.9 878.1h2.4M518.6 884.6V880.6M517.4 884.6h2.4M517.4 880.6h2.4M527.1 890.0V885.1M525.9 890.0h2.4M525.9 885.1h2.4M535.6 886.3V880.3M534.4 886.3h2.4M534.4 880.3h2.4M544.1 889.3V884.3M542.9 889.3h2.4M542.9 884.3h2.4M552.6 885.8V880.8M551.4 885.8h2.4M551.4 880.8h2.4M561.1 895.5V889.5M559.9 895.5h2.4M559.9 889.5h2.4M569.6 879.1V871.6M568.4 879.1h2.4M568.4 871.6h2.4M578.1 896.0V886.1M576.9 896.0h2.4M576.9 886.1h2.4M586.6 881.8V877.9M585.4 881.8h2.4M585.4 877.9h2.4M595.1 891.5V886.6M593.9 891.5h2.4M593.9 886.6h2.4M603.6 886.3V880.3M602.4 886.3h2.4M602.4 880.3h2.4M612.1 888.6V882.6M610.9 888.6h2.4M610.9 882.6h2.4M620.6 886.3V880.3M619.4 886.3h2.4M619.4 880.3h2.4M629.1 894.3V886.8M627.9 894.3h2.4M627.9 886.8h2.4M637.6 889.3V880.3M636.4 889.3h2.4M636.4 880.3h2.4M646.1 890.8V881.8M644.9 890.8h2.4M644.9 881.8h2.4M654.6 890.0V882.6M653.4 890.0h2.4M653.4 882.6h2.4" stroke="#222" stroke-width="0.7" fill="none"/>
<path d="M500.4 890.5a1.2 1.2 0 1 0 2.4 0a1.2 1.2 0 1 0 -2.4 0M508.9 881.8a1.2 1.2 0 1 0 2.4 0a1.2 1.2 0 1 0 -2.4 0M517.4 882.6a1.2 1.2 0 1 0 2.4 0a1.2 1.2 0 1 0 -2.4 0M525.9 887.6a1.2 1.2 0 1 0 2.4 0a1.2 1.2 0 1 0 -2.4 0M534.4 883.3a1.2 1.2 0 1 0 2.4 0a1.2 1.2 0 1 0 -2.4 0M542.9 886.8a1.2 1.2 0 1 0 2.4 0a1.2 1.2 0 1 0 -2.4 0M551.4 883.3a1.2 1.2 0 1 0 2.4 0a1.2 1.2 0 1 0 -2.4 0M559.9 892.5a1.2 1.2 0 1 0 2.4 0a1.2 1.2 0 1 0 -2.4 0M568.4 875.4a1.2 1.2 0 1 0 2.4 0a1.2 1.2 0 1 0 -2.4 0M576.9 891.0a1.2 1.2 0 1 0 2.4 0a1.2 1.2 0 1 0 -2.4 0M585.4 879.8a1.2 1.2 0 1 0 2.4 0a1.2 1.2 0 1 0 -2.4 0M593.9 889.0a1.2 1.2 0 1 0 2.4 0a1.2 1.2 0 1 0 -2.4 0M602.4 883.3a1.2 1.2 0 1 0 2.4 0a1.2 1.2 0 1 0 -2.4 0M610.9 885.6a1.2 1.2 0 1 0 2.4 0a1.2 1.2 0 1 0 -2.4 0M619.4 883.3a1.2 1.2 0 1 0 2.4 0a1.2 1.2 0 1 0 -2.4 0M627.9 890.5a1.2 1.2 0 1 0 2.4 0a1.2 1.2 0 1 0 -2.4 0M636.4 884.8a1.2 1.2 0 1 0 2.4 0a1.2 1.2 0 1 0 -2.4 0M644.9 886.3a1.2 1.2 0 1 0 2.4 0a1.2 1.2 0 1 0 -2.4 0M653.4 886.3a1.2 1.2 0 1 0 2.4 0a1.2 1.2 0 1 0 -2.4 0" fill="#222"/>
<path d="M452.2 878.8 L460.6 882.6 L469.4 873.9 L477.7 866.4 L486.2 878.8" fill="none" stroke="#f01ef0" stroke-width="0.8"/>
<path d="M452.2 885.1V872.6M451.0 885.1h2.4M451.0 872.6h2.4M460.6 886.3V878.8M459.4 886.3h2.4M459.4 878.8h2.4M469.4 878.8V868.9M468.2 878.8h2.4M468.2 868.9h2.4M477.7 872.6V860.2M476.5 872.6h2.4M476.5 860.2h2.4M486.2 881.3V876.4M485.0 881.3h2.4M485.0 876.4h2.4" stroke="#f01ef0" stroke-width="0.7" fill="none"/>
<path d="M451.0 878.8a1.2 1.2 0 1 0 2.4 0a1.2 1.2 0 1 0 -2.4 0M459.4 882.6a1.2 1.2 0 1 0 2.4 0a1.2 1.2 0 1 0 -2.4 0M468.2 873.9a1.2 1.2 0 1 0 2.4 0a1.2 1.2 0 1 0 -2.4 0M476.5 866.4a1.2 1.2 0 1 0 2.4 0a1.2 1.2 0 1 0 -2.4 0M485.0 878.8a1.2 1.2 0 1 0 2.4 0a1.2 1.2 0 1 0 -2.4 0" fill="#f01ef0"/>
<path d="M501.6 886.3 L510.1 883.3 L518.6 883.3 L527.1 886.8 L535.6 885.8 L544.1 885.8 L552.6 885.8 L561.1 885.1 L569.6 886.3 L578.1 885.8 L586.6 885.8 L595.1 888.3 L603.6 884.3 L612.1 886.3 L620.6 886.3 L629.1 885.8 L637.6 886.3 L646.1 888.3 L654.6 883.8" fill="none" stroke="#f01ef0" stroke-width="0.8"/>
<path d="M501.6 889.3V883.3M500.4 889.3h2.4M500.4 883.3h2.4M510.1 886.3V880.3M508.9 886.3h2.4M508.9 880.3h2.4M518.6 886.3V880.3M517.4 886.3h2.4M517.4 880.3h2.4M527.1 889.8V883.8M525.9 889.8h2.4M525.9 883.8h2.4M535.6 888.8V882.8M534.4 888.8h2.4M534.4 882.8h2.4M544.1 888.8V882.8M542.9 888.8h2.4M542.9 882.8h2.4M552.6 888.8V882.8M551.4 888.8h2.4M551.4 882.8h2.4M561.1 888.1V882.1M559.9 888.1h2.4M559.9 882.1h2.4M569.6 889.3V883.3M568.4 889.3h2.4M568.4 883.3h2.4M578.1 888.8V882.8M576.9 888.8h2.4M576.9 882.8h2.4M586.6 888.8V882.8M585.4 888.8h2.4M585.4 882.8h2.4M595.1 891.3V885.3M593.9 891.3h2.4M593.9 885.3h2.4M603.6 887.3V881.3M602.4 887.3h2.4M602.4 881.3h2.4M612.1 889.3V883.3M610.9 889.3h2.4M610.9 883.3h2.4M620.6 889.3V883.3M619.4 889.3h2.4M619.4 883.3h2.4M629.1 888.8V882.8M627.9 888.8h2.4M627.9 882.8h2.4M637.6 889.3V883.3M636.4 889.3h2.4M636.4 883.3h2.4M646.1 891.3V885.3M644.9 891.3h2.4M644.9 885.3h2.4M654.6 886.8V880.8M653.4 886.8h2.4M653.4 880.8h2.4" stroke="#f01ef0" stroke-width="0.7" fill="none"/>
<path d="M500.4 886.3a1.2 1.2 0 1 0 2.4 0a1.2 1.2 0 1 0 -2.4 0M508.9 883.3a1.2 1.2 0 1 0 2.4 0a1.2 1.2 0 1 0 -2.4 0M517.4 883.3a1.2 1.2 0 1 0 2.4 0a1.2 1.2 0 1 0 -2.4 0M525.9 886.8a1.2 1.2 0 1 0 2.4 0a1.2 1.2 0 1 0 -2.4 0M534.4 885.8a1.2 1.2 0 1 0 2.4 0a1.2 1.2 0 1 0 -2.4 0M542.9 885.8a1.2 1.2 0 1 0 2.4 0a1.2 1.2 0 1 0 -2.4 0M551.4 885.8a1.2 1.2 0 1 0 2.4 0a1.2 1.2 0 1 0 -2.4 0M559.9 885.1a1.2 1.2 0 1 0 2.4 0a1.2 1.2 0 1 0 -2.4 0M568.4 886.3a1.2 1.2 0 1 0 2.4 0a1.2 1.2 0 1 0 -2.4 0M576.9 885.8a1.2 1.2 0 1 0 2.4 0a1.2 1.2 0 1 0 -2.4 0M585.4 885.8a1.2 1.2 0 1 0 2.4 0a1.2 1.2 0 1 0 -2.4 0M593.9 888.3a1.2 1.2 0 1 0 2.4 0a1.2 1.2 0 1 0 -2.4 0M602.4 884.3a1.2 1.2 0 1 0 2.4 0a1.2 1.2 0 1 0 -2.4 0M610.9 886.3a1.2 1.2 0 1 0 2.4 0a1.2 1.2 0 1 0 -2.4 0M619.4 886.3a1.2 1.2 0 1 0 2.4 0a1.2 1.2 0 1 0 -2.4 0M627.9 885.8a1.2 1.2 0 1 0 2.4 0a1.2 1.2 0 1 0 -2.4 0M636.4 886.3a1.2 1.2 0 1 0 2.4 0a1.2 1.2 0 1 0 -2.4 0M644.9 888.3a1.2 1.2 0 1 0 2.4 0a1.2 1.2 0 1 0 -2.4 0M653.4 883.8a1.2 1.2 0 1 0 2.4 0a1.2 1.2 0 1 0 -2.4 0" fill="#f01ef0"/>
<path d="M452.2 875.1 L460.6 875.1 L469.4 873.9 L477.7 876.4 L486.2 876.4" fill="none" stroke="#2ec42e" stroke-width="0.8"/>
<path d="M452.2 880.1V870.1M451.0 880.1h2.4M451.0 870.1h2.4M460.6 878.1V872.1M459.4 878.1h2.4M459.4 872.1h2.4M469.4 878.8V868.9M468.2 878.8h2.4M468.2 868.9h2.4M477.7 880.1V872.6M476.5 880.1h2.4M476.5 872.6h2.4M486.2 878.8V873.9M485.0 878.8h2.4M485.0 873.9h2.4" stroke="#2ec42e" stroke-width="0.7" fill="none"/>
<path d="M451.0 875.1a1.2 1.2 0 1 0 2.4 0a1.2 1.2 0 1 0 -2.4 0M459.4 875.1a1.2 1.2 0 1 0 2.4 0a1.2 1.2 0 1 0 -2.4 0M468.2 873.9a1.2 1.2 0 1 0 2.4 0a1.2 1.2 0 1 0 -2.4 0M476.5 876.4a1.2 1.2 0 1 0 2.4 0a1.2 1.2 0 1 0 -2.4 0M485.0 876.4a1.2 1.2 0 1 0 2.4 0a1.2 1.2 0 1 0 -2.4 0" fill="#2ec42e"/>
<path d="M501.6 886.8 L510.1 883.8 L518.6 884.3 L527.1 886.8 L535.6 884.3 L544.1 886.3 L552.6 885.1 L561.1 885.8 L569.6 884.3 L578.1 887.6 L586.6 883.8 L595.1 888.8 L603.6 884.3 L612.1 885.8 L620.6 885.1 L629.1 888.8 L637.6 885.8 L646.1 886.3 L654.6 886.8" fill="none" stroke="#2ec42e" stroke-width="0.8"/>
<path d="M501.6 890.5V883.1M500.4 890.5h2.4M500.4 883.1h2.4M510.1 887.6V880.1M508.9 887.6h2.4M508.9 880.1h2.4M518.6 888.1V880.6M517.4 888.1h2.4M517.4 880.6h2.4M527.1 890.5V883.1M525.9 890.5h2.4M525.9 883.1h2.4M535.6 888.1V880.6M534.4 888.1h2.4M534.4 880.6h2.4M544.1 890.0V882.6M542.9 890.0h2.4M542.9 882.6h2.4M552.6 888.8V881.3M551.4 888.8h2.4M551.4 881.3h2.4M561.1 889.5V882.1M559.9 889.5h2.4M559.9 882.1h2.4M569.6 888.1V880.6M568.4 888.1h2.4M568.4 880.6h2.4M578.1 891.3V883.8M576.9 891.3h2.4M576.9 883.8h2.4M586.6 887.6V880.1M585.4 887.6h2.4M585.4 880.1h2.4M595.1 892.5V885.1M593.9 892.5h2.4M593.9 885.1h2.4M603.6 888.1V880.6M602.4 888.1h2.4M602.4 880.6h2.4M612.1 889.5V882.1M610.9 889.5h2.4M610.9 882.1h2.4M620.6 888.8V881.3M619.4 888.8h2.4M619.4 881.3h2.4M629.1 892.5V885.1M627.9 892.5h2.4M627.9 885.1h2.4M637.6 889.5V882.1M636.4 889.5h2.4M636.4 882.1h2.4M646.1 890.0V882.6M644.9 890.0h2.4M644.9 882.6h2.4M654.6 890.5V883.1M653.4 890.5h2.4M653.4 883.1h2.4" stroke="#2ec42e" stroke-width="0.7" fill="none"/>
<path d="M500.4 886.8a1.2 1.2 0 1 0 2.4 0a1.2 1.2 0 1 0 -2.4 0M508.9 883.8a1.2 1.2 0 1 0 2.4 0a1.2 1.2 0 1 0 -2.4 0M517.4 884.3a1.2 1.2 0 1 0 2.4 0a1.2 1.2 0 1 0 -2.4 0M525.9 886.8a1.2 1.2 0 1 0 2.4 0a1.2 1.2 0 1 0 -2.4 0M534.4 884.3a1.2 1.2 0 1 0 2.4 0a1.2 1.2 0 1 0 -2.4 0M542.9 886.3a1.2 1.2 0 1 0 2.4 0a1.2 1.2 0 1 0 -2.4 0M551.4 885.1a1.2 1.2 0 1 0 2.4 0a1.2 1.2 0 1 0 -2.4 0M559.9 885.8a1.2 1.2 0 1 0 2.4 0a1.2 1.2 0 1 0 -2.4 0M568.4 884.3a1.2 1.2 0 1 0 2.4 0a1.2 1.2 0 1 0 -2.4 0M576.9 887.6a1.2 1.2 0 1 0 2.4 0a1.2 1.2 0 1 0 -2.4 0M585.4 883.8a1.2 1.2 0 1 0 2.4 0a1.2 1.2 0 1 0 -2.4 0M593.9 888.8a1.2 1.2 0 1 0 2.4 0a1.2 1.2 0 1 0 -2.4 0M602.4 884.3a1.2 1.2 0 1 0 2.4 0a1.2 1.2 0 1 0 -2.4 0M610.9 885.8a1.2 1.2 0 1 0 2.4 0a1.2 1.2 0 1 0 -2.4 0M619.4 885.1a1.2 1.2 0 1 0 2.4 0a1.2 1.2 0 1 0 -2.4 0M627.9 888.8a1.2 1.2 0 1 0 2.4 0a1.2 1.2 0 1 0 -2.4 0M636.4 885.8a1.2 1.2 0 1 0 2.4 0a1.2 1.2 0 1 0 -2.4 0M644.9 886.3a1.2 1.2 0 1 0 2.4 0a1.2 1.2 0 1 0 -2.4 0M653.4 886.8a1.2 1.2 0 1 0 2.4 0a1.2 1.2 0 1 0 -2.4 0" fill="#2ec42e"/>
<path d="M446.5 826.6V951H658.3" fill="none" stroke="#000" stroke-width="1.3"/>
<line x1="443.0" y1="951" x2="446.5" y2="951" stroke="#000" stroke-width="1"/>
<text x="442.2" y="954.6" font-size="10" font-weight="bold" fill="#000" text-anchor="end" >21</text>
<line x1="443.0" y1="926.1" x2="446.5" y2="926.1" stroke="#000" stroke-width="1"/>
<text x="442.2" y="929.7" font-size="10" font-weight="bold" fill="#000" text-anchor="end" >22</text>
<line x1="443.0" y1="901.2" x2="446.5" y2="901.2" stroke="#000" stroke-width="1"/>
<text x="442.2" y="904.8" font-size="10" font-weight="bold" fill="#000" text-anchor="end" >23</text>
<line x1="443.0" y1="876.4" x2="446.5" y2="876.4" stroke="#000" stroke-width="1"/>
<text x="442.2" y="880" font-size="10" font-weight="bold" fill="#000" text-anchor="end" >24</text>
<line x1="443.0" y1="851.5" x2="446.5" y2="851.5" stroke="#000" stroke-width="1"/>
<text x="442.2" y="855.1" font-size="10" font-weight="bold" fill="#000" text-anchor="end" >25</text>
<line x1="443.0" y1="826.6" x2="446.5" y2="826.6" stroke="#000" stroke-width="1"/>
<text x="442.2" y="830.2" font-size="10" font-weight="bold" fill="#000" text-anchor="end" >26</text>
<text transform="translate(418.3,887.4) rotate(-90)" font-size="14.2" font-weight="bold" text-anchor="middle">Period (h)</text>
<path d="M486.5 871.2V883.6" stroke="#000" stroke-width="1.2"/>
<text x="488.6" y="881" font-size="9.5" font-weight="normal" fill="#000" text-anchor="start" >ns</text>
<path d="M657 879.5V892" stroke="#000" stroke-width="1.2"/>
<text x="659.3" y="889" font-size="9.5" font-weight="normal" fill="#000" text-anchor="start" >ns</text>
<text x="553.3" y="824" font-size="14.3" font-weight="bold" fill="#b07cc6" text-anchor="middle" >Control</text>
<text x="534.4" y="914.8" font-size="12" font-weight="bold" fill="#2ec42e">AVP-Ca<tspan font-size="8" dy="-4">2+</tspan></text>
<text x="534.4" y="926.5" font-size="12" font-weight="bold" fill="#f01ef0">VIP-Ca<tspan font-size="8" dy="-4">2+</tspan></text>
<text x="534.4" y="938.5" font-size="12" font-weight="bold" fill="#000" text-anchor="start" >Locomotor activity</text>
<rect x="450.7" y="967.3" width="4" height="124.7" fill="#d3d3d3"/>
<rect x="459.1" y="967.3" width="4" height="124.7" fill="#d3d3d3"/>
<rect x="467.9" y="967.3" width="3.9" height="124.7" fill="#d3d3d3"/>
<rect x="476.2" y="967.3" width="3.9" height="124.7" fill="#d3d3d3"/>
<rect x="485.0" y="967.3" width="3.9" height="124.7" fill="#d3d3d3"/>
<rect x="493.2" y="967.3" width="165.1" height="124.7" fill="#d3d3d3"/>
<path d="M452.2 1017.2 L460.6 1017.2 L469.4 1014.7 L477.7 1013.7 L486.2 1017.2" fill="none" stroke="#222" stroke-width="0.8"/>
<path d="M452.2 1020.9V1013.4M451.0 1020.9h2.4M451.0 1013.4h2.4M460.6 1019.7V1014.7M459.4 1019.7h2.4M459.4 1014.7h2.4M469.4 1017.2V1012.2M468.2 1017.2h2.4M468.2 1012.2h2.4M477.7 1017.4V1009.9M476.5 1017.4h2.4M476.5 1009.9h2.4M486.2 1020.9V1013.4M485.0 1020.9h2.4M485.0 1013.4h2.4" stroke="#222" stroke-width="0.7" fill="none"/>
<path d="M451.0 1017.2a1.2 1.2 0 1 0 2.4 0a1.2 1.2 0 1 0 -2.4 0M459.4 1017.2a1.2 1.2 0 1 0 2.4 0a1.2 1.2 0 1 0 -2.4 0M468.2 1014.7a1.2 1.2 0 1 0 2.4 0a1.2 1.2 0 1 0 -2.4 0M476.5 1013.7a1.2 1.2 0 1 0 2.4 0a1.2 1.2 0 1 0 -2.4 0M485.0 1017.2a1.2 1.2 0 1 0 2.4 0a1.2 1.2 0 1 0 -2.4 0" fill="#222"/>
<path d="M501.6 1052.6 L510.1 1042.9 L518.6 1050.8 L527.1 1047.6 L535.6 1050.8 L544.1 1049.6 L552.6 1044.9 L561.1 1027.7 L569.6 1036.1 L578.1 1027.4 L586.6 1036.9 L595.1 1050.6 L603.6 1022.7 L612.1 1018.2 L620.6 1016.9 L629.1 1022.4 L637.6 1010.7 L646.1 1018.2 L654.6 1014.2" fill="none" stroke="#222" stroke-width="0.8"/>
<path d="M501.6 1057.6V1047.6M500.4 1057.6h2.4M500.4 1047.6h2.4M510.1 1049.1V1036.6M508.9 1049.1h2.4M508.9 1036.6h2.4M518.6 1057.1V1044.6M517.4 1057.1h2.4M517.4 1044.6h2.4M527.1 1052.6V1042.6M525.9 1052.6h2.4M525.9 1042.6h2.4M535.6 1055.8V1045.9M534.4 1055.8h2.4M534.4 1045.9h2.4M544.1 1055.8V1043.4M542.9 1055.8h2.4M542.9 1043.4h2.4M552.6 1052.3V1037.4M551.4 1052.3h2.4M551.4 1037.4h2.4M561.1 1036.4V1018.9M559.9 1036.4h2.4M559.9 1018.9h2.4M569.6 1043.6V1028.7M568.4 1043.6h2.4M568.4 1028.7h2.4M578.1 1037.4V1017.4M576.9 1037.4h2.4M576.9 1017.4h2.4M586.6 1045.6V1028.2M585.4 1045.6h2.4M585.4 1028.2h2.4M595.1 1070.6V1030.6M593.9 1070.6h2.4M593.9 1030.6h2.4M603.6 1035.1V1010.2M602.4 1035.1h2.4M602.4 1010.2h2.4M612.1 1034.4V1002.0M610.9 1034.4h2.4M610.9 1002.0h2.4M620.6 1031.9V1002.0M619.4 1031.9h2.4M619.4 1002.0h2.4M629.1 1037.4V1007.5M627.9 1037.4h2.4M627.9 1007.5h2.4M637.6 1023.2V998.2M636.4 1023.2h2.4M636.4 998.2h2.4M646.1 1033.1V1003.2M644.9 1033.1h2.4M644.9 1003.2h2.4M654.6 1034.1V994.2M653.4 1034.1h2.4M653.4 994.2h2.4" stroke="#222" stroke-width="0.7" fill="none"/>
<path d="M500.4 1052.6a1.2 1.2 0 1 0 2.4 0a1.2 1.2 0 1 0 -2.4 0M508.9 1042.9a1.2 1.2 0 1 0 2.4 0a1.2 1.2 0 1 0 -2.4 0M517.4 1050.8a1.2 1.2 0 1 0 2.4 0a1.2 1.2 0 1 0 -2.4 0M525.9 1047.6a1.2 1.2 0 1 0 2.4 0a1.2 1.2 0 1 0 -2.4 0M534.4 1050.8a1.2 1.2 0 1 0 2.4 0a1.2 1.2 0 1 0 -2.4 0M542.9 1049.6a1.2 1.2 0 1 0 2.4 0a1.2 1.2 0 1 0 -2.4 0M551.4 1044.9a1.2 1.2 0 1 0 2.4 0a1.2 1.2 0 1 0 -2.4 0M559.9 1027.7a1.2 1.2 0 1 0 2.4 0a1.2 1.2 0 1 0 -2.4 0M568.4 1036.1a1.2 1.2 0 1 0 2.4 0a1.2 1.2 0 1 0 -2.4 0M576.9 1027.4a1.2 1.2 0 1 0 2.4 0a1.2 1.2 0 1 0 -2.4 0M585.4 1036.9a1.2 1.2 0 1 0 2.4 0a1.2 1.2 0 1 0 -2.4 0M593.9 1050.6a1.2 1.2 0 1 0 2.4 0a1.2 1.2 0 1 0 -2.4 0M602.4 1022.7a1.2 1.2 0 1 0 2.4 0a1.2 1.2 0 1 0 -2.4 0M610.9 1018.2a1.2 1.2 0 1 0 2.4 0a1.2 1.2 0 1 0 -2.4 0M619.4 1016.9a1.2 1.2 0 1 0 2.4 0a1.2 1.2 0 1 0 -2.4 0M627.9 1022.4a1.2 1.2 0 1 0 2.4 0a1.2 1.2 0 1 0 -2.4 0M636.4 1010.7a1.2 1.2 0 1 0 2.4 0a1.2 1.2 0 1 0 -2.4 0M644.9 1018.2a1.2 1.2 0 1 0 2.4 0a1.2 1.2 0 1 0 -2.4 0M653.4 1014.2a1.2 1.2 0 1 0 2.4 0a1.2 1.2 0 1 0 -2.4 0" fill="#222"/>
<path d="M452.2 1010.7 L460.6 1013.2 L469.4 1014.7 L477.7 1009.7 L486.2 1018.9" fill="none" stroke="#f01ef0" stroke-width="0.8"/>
<path d="M452.2 1014.4V1007.0M451.0 1014.4h2.4M451.0 1007.0h2.4M460.6 1015.7V1010.7M459.4 1015.7h2.4M459.4 1010.7h2.4M469.4 1017.2V1012.2M468.2 1017.2h2.4M468.2 1012.2h2.4M477.7 1012.2V1007.2M476.5 1012.2h2.4M476.5 1007.2h2.4M486.2 1026.4V1011.4M485.0 1026.4h2.4M485.0 1011.4h2.4" stroke="#f01ef0" stroke-width="0.7" fill="none"/>
<path d="M451.0 1010.7a1.2 1.2 0 1 0 2.4 0a1.2 1.2 0 1 0 -2.4 0M459.4 1013.2a1.2 1.2 0 1 0 2.4 0a1.2 1.2 0 1 0 -2.4 0M468.2 1014.7a1.2 1.2 0 1 0 2.4 0a1.2 1.2 0 1 0 -2.4 0M476.5 1009.7a1.2 1.2 0 1 0 2.4 0a1.2 1.2 0 1 0 -2.4 0M485.0 1018.9a1.2 1.2 0 1 0 2.4 0a1.2 1.2 0 1 0 -2.4 0" fill="#f01ef0"/>
<path d="M501.6 1050.4 L510.1 1041.6 L518.6 1045.9 L527.1 1041.1 L535.6 1050.8 L544.1 1033.9 L552.6 1063.8" fill="none" stroke="#f01ef0" stroke-width="0.8"/>
<path d="M501.6 1055.3V1045.4M500.4 1055.3h2.4M500.4 1045.4h2.4M510.1 1047.9V1035.4M508.9 1047.9h2.4M508.9 1035.4h2.4M518.6 1050.8V1040.9M517.4 1050.8h2.4M517.4 1040.9h2.4M527.1 1047.4V1034.9M525.9 1047.4h2.4M525.9 1034.9h2.4M535.6 1055.8V1045.9M534.4 1055.8h2.4M534.4 1045.9h2.4M544.1 1038.9V1028.9M542.9 1038.9h2.4M542.9 1028.9h2.4M552.6 1070.1V1057.6M551.4 1070.1h2.4M551.4 1057.6h2.4" stroke="#f01ef0" stroke-width="0.7" fill="none"/>
<path d="M500.4 1050.4a1.2 1.2 0 1 0 2.4 0a1.2 1.2 0 1 0 -2.4 0M508.9 1041.6a1.2 1.2 0 1 0 2.4 0a1.2 1.2 0 1 0 -2.4 0M517.4 1045.9a1.2 1.2 0 1 0 2.4 0a1.2 1.2 0 1 0 -2.4 0M525.9 1041.1a1.2 1.2 0 1 0 2.4 0a1.2 1.2 0 1 0 -2.4 0M534.4 1050.8a1.2 1.2 0 1 0 2.4 0a1.2 1.2 0 1 0 -2.4 0M542.9 1033.9a1.2 1.2 0 1 0 2.4 0a1.2 1.2 0 1 0 -2.4 0M551.4 1063.8a1.2 1.2 0 1 0 2.4 0a1.2 1.2 0 1 0 -2.4 0" fill="#f01ef0"/>
<path d="M452.2 1014.9 L460.6 1014.9 L469.4 1014.7 L477.7 992.2 L486.2 1001.0" fill="none" stroke="#2ec42e" stroke-width="0.8"/>
<path d="M452.2 1028.7V1001.2M451.0 1028.7h2.4M451.0 1001.2h2.4M460.6 1018.7V1011.2M459.4 1018.7h2.4M459.4 1011.2h2.4M469.4 1018.4V1010.9M468.2 1018.4h2.4M468.2 1010.9h2.4M477.7 997.2V987.3M476.5 997.2h2.4M476.5 987.3h2.4M486.2 1009.7V992.2M485.0 1009.7h2.4M485.0 992.2h2.4" stroke="#2ec42e" stroke-width="0.7" fill="none"/>
<path d="M451.0 1014.9a1.2 1.2 0 1 0 2.4 0a1.2 1.2 0 1 0 -2.4 0M459.4 1014.9a1.2 1.2 0 1 0 2.4 0a1.2 1.2 0 1 0 -2.4 0M468.2 1014.7a1.2 1.2 0 1 0 2.4 0a1.2 1.2 0 1 0 -2.4 0M476.5 992.2a1.2 1.2 0 1 0 2.4 0a1.2 1.2 0 1 0 -2.4 0M485.0 1001.0a1.2 1.2 0 1 0 2.4 0a1.2 1.2 0 1 0 -2.4 0" fill="#2ec42e"/>
<path d="M501.6 1039.9 L510.1 1051.6 L518.6 1047.6 L527.1 1047.6 L535.6 1041.6 L544.1 1057.3 L552.6 1036.4 L561.1 1054.6 L569.6 1052.6 L578.1 1056.3 L586.6 1046.1 L595.1 1054.3 L603.6 1056.3 L612.1 1052.6 L620.6 1055.3 L629.1 1056.3 L637.6 1056.3 L646.1 1031.9 L654.6 1038.1" fill="none" stroke="#2ec42e" stroke-width="0.8"/>
<path d="M501.6 1048.6V1031.1M500.4 1048.6h2.4M500.4 1031.1h2.4M510.1 1055.3V1047.9M508.9 1055.3h2.4M508.9 1047.9h2.4M518.6 1052.6V1042.6M517.4 1052.6h2.4M517.4 1042.6h2.4M527.1 1052.6V1042.6M525.9 1052.6h2.4M525.9 1042.6h2.4M535.6 1047.9V1035.4M534.4 1047.9h2.4M534.4 1035.4h2.4M544.1 1062.3V1052.3M542.9 1062.3h2.4M542.9 1052.3h2.4M552.6 1043.9V1028.9M551.4 1043.9h2.4M551.4 1028.9h2.4M561.1 1059.6V1049.6M559.9 1059.6h2.4M559.9 1049.6h2.4M569.6 1056.3V1048.9M568.4 1056.3h2.4M568.4 1048.9h2.4M578.1 1063.8V1048.9M576.9 1063.8h2.4M576.9 1048.9h2.4M586.6 1051.1V1041.1M585.4 1051.1h2.4M585.4 1041.1h2.4M595.1 1063.1V1045.6M593.9 1063.1h2.4M593.9 1045.6h2.4M603.6 1061.3V1051.3M602.4 1061.3h2.4M602.4 1051.3h2.4M612.1 1060.1V1045.1M610.9 1060.1h2.4M610.9 1045.1h2.4M620.6 1060.3V1050.4M619.4 1060.3h2.4M619.4 1050.4h2.4M629.1 1065.1V1047.6M627.9 1065.1h2.4M627.9 1047.6h2.4M637.6 1066.3V1046.4M636.4 1066.3h2.4M636.4 1046.4h2.4M646.1 1051.8V1011.9M644.9 1051.8h2.4M644.9 1011.9h2.4M654.6 1063.1V1013.2M653.4 1063.1h2.4M653.4 1013.2h2.4" stroke="#2ec42e" stroke-width="0.7" fill="none"/>
<path d="M500.4 1039.9a1.2 1.2 0 1 0 2.4 0a1.2 1.2 0 1 0 -2.4 0M508.9 1051.6a1.2 1.2 0 1 0 2.4 0a1.2 1.2 0 1 0 -2.4 0M517.4 1047.6a1.2 1.2 0 1 0 2.4 0a1.2 1.2 0 1 0 -2.4 0M525.9 1047.6a1.2 1.2 0 1 0 2.4 0a1.2 1.2 0 1 0 -2.4 0M534.4 1041.6a1.2 1.2 0 1 0 2.4 0a1.2 1.2 0 1 0 -2.4 0M542.9 1057.3a1.2 1.2 0 1 0 2.4 0a1.2 1.2 0 1 0 -2.4 0M551.4 1036.4a1.2 1.2 0 1 0 2.4 0a1.2 1.2 0 1 0 -2.4 0M559.9 1054.6a1.2 1.2 0 1 0 2.4 0a1.2 1.2 0 1 0 -2.4 0M568.4 1052.6a1.2 1.2 0 1 0 2.4 0a1.2 1.2 0 1 0 -2.4 0M576.9 1056.3a1.2 1.2 0 1 0 2.4 0a1.2 1.2 0 1 0 -2.4 0M585.4 1046.1a1.2 1.2 0 1 0 2.4 0a1.2 1.2 0 1 0 -2.4 0M593.9 1054.3a1.2 1.2 0 1 0 2.4 0a1.2 1.2 0 1 0 -2.4 0M602.4 1056.3a1.2 1.2 0 1 0 2.4 0a1.2 1.2 0 1 0 -2.4 0M610.9 1052.6a1.2 1.2 0 1 0 2.4 0a1.2 1.2 0 1 0 -2.4 0M619.4 1055.3a1.2 1.2 0 1 0 2.4 0a1.2 1.2 0 1 0 -2.4 0M627.9 1056.3a1.2 1.2 0 1 0 2.4 0a1.2 1.2 0 1 0 -2.4 0M636.4 1056.3a1.2 1.2 0 1 0 2.4 0a1.2 1.2 0 1 0 -2.4 0M644.9 1031.9a1.2 1.2 0 1 0 2.4 0a1.2 1.2 0 1 0 -2.4 0M653.4 1038.1a1.2 1.2 0 1 0 2.4 0a1.2 1.2 0 1 0 -2.4 0" fill="#2ec42e"/>
<path d="M446.5 967.3V1092H658.3" fill="none" stroke="#000" stroke-width="1.3"/>
<line x1="443.0" y1="1092" x2="446.5" y2="1092" stroke="#000" stroke-width="1"/>
<text x="442.2" y="1095.6" font-size="10" font-weight="bold" fill="#000" text-anchor="end" >21</text>
<line x1="443.0" y1="1067.1" x2="446.5" y2="1067.1" stroke="#000" stroke-width="1"/>
<text x="442.2" y="1070.7" font-size="10" font-weight="bold" fill="#000" text-anchor="end" >22</text>
<line x1="443.0" y1="1042.1" x2="446.5" y2="1042.1" stroke="#000" stroke-width="1"/>
<text x="442.2" y="1045.7" font-size="10" font-weight="bold" fill="#000" text-anchor="end" >23</text>
<line x1="443.0" y1="1017.2" x2="446.5" y2="1017.2" stroke="#000" stroke-width="1"/>
<text x="442.2" y="1020.8" font-size="10" font-weight="bold" fill="#000" text-anchor="end" >24</text>
<line x1="443.0" y1="992.2" x2="446.5" y2="992.2" stroke="#000" stroke-width="1"/>
<text x="442.2" y="995.8" font-size="10" font-weight="bold" fill="#000" text-anchor="end" >25</text>
<line x1="443.0" y1="967.3" x2="446.5" y2="967.3" stroke="#000" stroke-width="1"/>
<text x="442.2" y="970.9" font-size="10" font-weight="bold" fill="#000" text-anchor="end" >26</text>
<text transform="translate(418.3,1026) rotate(-90)" font-size="14.2" font-weight="bold" text-anchor="middle">Period (h)</text>
<line x1="447" y1="1092" x2="447" y2="1093.8" stroke="#000" stroke-width="0.7"/>
<line x1="455.4" y1="1092" x2="455.4" y2="1093.8" stroke="#000" stroke-width="0.7"/>
<line x1="464" y1="1092" x2="464" y2="1093.8" stroke="#000" stroke-width="0.7"/>
<line x1="472.4" y1="1092" x2="472.4" y2="1093.8" stroke="#000" stroke-width="0.7"/>
<line x1="480.6" y1="1092" x2="480.6" y2="1093.8" stroke="#000" stroke-width="0.7"/>
<line x1="489" y1="1092" x2="489" y2="1093.8" stroke="#000" stroke-width="0.7"/>
<line x1="497.5" y1="1092" x2="497.5" y2="1093.8" stroke="#000" stroke-width="0.7"/>
<line x1="506.2" y1="1092" x2="506.2" y2="1093.8" stroke="#000" stroke-width="0.7"/>
<line x1="514.5" y1="1092" x2="514.5" y2="1093.8" stroke="#000" stroke-width="0.7"/>
<line x1="523.2" y1="1092" x2="523.2" y2="1093.8" stroke="#000" stroke-width="0.7"/>
<line x1="531.7" y1="1092" x2="531.7" y2="1093.8" stroke="#000" stroke-width="0.7"/>
<line x1="540.2" y1="1092" x2="540.2" y2="1093.8" stroke="#000" stroke-width="0.7"/>
<line x1="548.7" y1="1092" x2="548.7" y2="1093.8" stroke="#000" stroke-width="0.7"/>
<line x1="557.2" y1="1092" x2="557.2" y2="1093.8" stroke="#000" stroke-width="0.7"/>
<line x1="565.7" y1="1092" x2="565.7" y2="1093.8" stroke="#000" stroke-width="0.7"/>
<line x1="574.2" y1="1092" x2="574.2" y2="1093.8" stroke="#000" stroke-width="0.7"/>
<line x1="582.7" y1="1092" x2="582.7" y2="1093.8" stroke="#000" stroke-width="0.7"/>
<line x1="591.2" y1="1092" x2="591.2" y2="1093.8" stroke="#000" stroke-width="0.7"/>
<line x1="599.7" y1="1092" x2="599.7" y2="1093.8" stroke="#000" stroke-width="0.7"/>
<line x1="608.2" y1="1092" x2="608.2" y2="1093.8" stroke="#000" stroke-width="0.7"/>
<line x1="616.7" y1="1092" x2="616.7" y2="1093.8" stroke="#000" stroke-width="0.7"/>
<line x1="625.2" y1="1092" x2="625.2" y2="1093.8" stroke="#000" stroke-width="0.7"/>
<line x1="633.7" y1="1092" x2="633.7" y2="1093.8" stroke="#000" stroke-width="0.7"/>
<line x1="642.2" y1="1092" x2="642.2" y2="1093.8" stroke="#000" stroke-width="0.7"/>
<line x1="650.7" y1="1092" x2="650.7" y2="1093.8" stroke="#000" stroke-width="0.7"/>
<text x="451.6" y="1100.6" font-size="7" font-weight="bold" fill="#000" text-anchor="middle" >LD1-2</text>
<text x="477" y="1100.6" font-size="7" font-weight="bold" fill="#000" text-anchor="middle" >LD4-5</text>
<text x="501.9" y="1100.6" font-size="7" font-weight="bold" fill="#000" text-anchor="middle" >DD1-2</text>
<text x="527.3" y="1100.6" font-size="7" font-weight="bold" fill="#000" text-anchor="middle" >DD4-5</text>
<text x="569.7" y="1100.6" font-size="7" font-weight="bold" fill="#000" text-anchor="middle" >DD9-10</text>
<text x="612.3" y="1100.6" font-size="7" font-weight="bold" fill="#000" text-anchor="middle" >DD14-15</text>
<text x="654.2" y="1100.6" font-size="7" font-weight="bold" fill="#000" text-anchor="middle" >DD19-20</text>
<path d="M490.7 1008.2V1021.5" stroke="#000" stroke-width="1.2"/>
<text x="492.5" y="1018" font-size="9.5" font-weight="normal" fill="#000" text-anchor="start" >ns</text>
<path d="M656.5 1013.6H660V1039.4H656.5" fill="none" stroke="#000" stroke-width="1.2"/>
<text x="664" y="1033" font-size="12" font-weight="bold" fill="#000" text-anchor="start" >*</text>
<text x="557.5" y="964.6" font-size="14.3" font-weight="bold" fill="#f7931e" text-anchor="middle" >VIP-deficient</text>
</svg>
</body></html>
